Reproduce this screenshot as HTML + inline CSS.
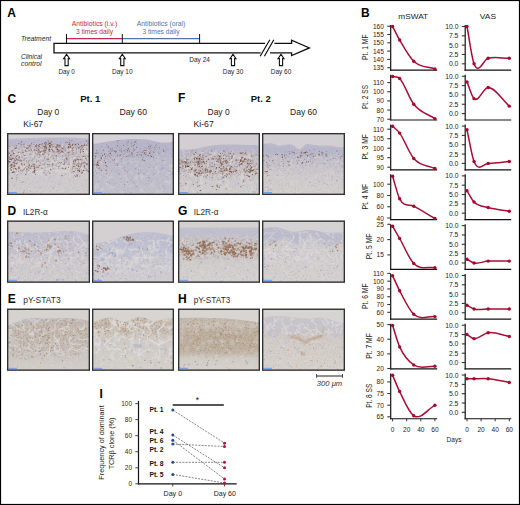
<!DOCTYPE html>
<html><head><meta charset="utf-8"><style>
html,body{margin:0;padding:0;background:#fff;}
svg{display:block;font-family:"Liberation Sans", sans-serif;}
</style></head><body>
<svg width="520" height="505" viewBox="0 0 520 505">
<rect x="0.5" y="0.5" width="519" height="504" fill="#fff" stroke="#000" stroke-width="1.2"/>
<text x="7.20" y="17.20" font-size="12" fill="#000" font-weight="bold" >A</text>
<text x="361.00" y="17.00" font-size="12" fill="#000" font-weight="bold" >B</text>
<text x="7.40" y="102.50" font-size="12" fill="#000" font-weight="bold" >C</text>
<text x="7.60" y="214.80" font-size="12" fill="#000" font-weight="bold" >D</text>
<text x="7.80" y="303.00" font-size="12" fill="#000" font-weight="bold" >E</text>
<text x="178.00" y="101.60" font-size="12" fill="#000" font-weight="bold" >F</text>
<text x="178.00" y="214.80" font-size="12" fill="#000" font-weight="bold" >G</text>
<text x="178.00" y="302.90" font-size="12" fill="#000" font-weight="bold" >H</text>
<text x="99.60" y="397.50" font-size="12" fill="#000" font-weight="bold" >I</text>
<text x="21.00" y="41.40" font-size="7.2" fill="#262626" font-style="italic" textLength="30.00" lengthAdjust="spacingAndGlyphs" >Treatment</text>
<text x="21.00" y="59.00" font-size="7.2" fill="#262626" font-style="italic" textLength="21.00" lengthAdjust="spacingAndGlyphs" >Clinical</text>
<text x="21.00" y="66.20" font-size="7.2" fill="#262626" font-style="italic" textLength="20.50" lengthAdjust="spacingAndGlyphs" >control</text>
<path d="M265 43.4 L54 43.4 L54 52.9 L260.6 52.9" fill="none" stroke="#111" stroke-width="1.3"/>
<path d="M274.4 43.4 L291.6 43.4 L291.6 40.2 L309.4 47.9 L291.6 55.6 L291.6 52.9 L270 52.9" fill="none" stroke="#111" stroke-width="1.3" stroke-linejoin="miter"/>
<line x1="260.20" y1="56.20" x2="269.80" y2="39.80" stroke="#111" stroke-width="1.2" />
<line x1="264.40" y1="56.20" x2="273.80" y2="39.80" stroke="#111" stroke-width="1.2" />
<line x1="66.50" y1="38.60" x2="122.30" y2="38.60" stroke="#c0294b" stroke-width="1.3" />
<line x1="122.30" y1="38.60" x2="199.60" y2="38.60" stroke="#5472a8" stroke-width="1.3" />
<line x1="66.50" y1="34.00" x2="66.50" y2="43.00" stroke="#111" stroke-width="1.0" />
<line x1="122.30" y1="34.00" x2="122.30" y2="43.00" stroke="#111" stroke-width="1.0" />
<line x1="199.60" y1="34.00" x2="199.60" y2="43.00" stroke="#111" stroke-width="1.0" />
<text x="94.50" y="26.10" font-size="7.2" fill="#c0294b" text-anchor="middle" textLength="45.40" lengthAdjust="spacingAndGlyphs" >Antibiotics (i.v.)</text>
<text x="94.50" y="33.50" font-size="7.2" fill="#c0294b" text-anchor="middle" textLength="37.20" lengthAdjust="spacingAndGlyphs" >3 times daily</text>
<text x="161.00" y="26.10" font-size="7.2" fill="#5472a8" text-anchor="middle" textLength="48.50" lengthAdjust="spacingAndGlyphs" >Antibiotics (oral)</text>
<text x="161.00" y="33.50" font-size="7.2" fill="#5472a8" text-anchor="middle" textLength="37.20" lengthAdjust="spacingAndGlyphs" >3 times daily</text>
<path d="M66.6 54.2 L69.6 58.6 L68.19999999999999 58.6 L68.19999999999999 65.6 L65.0 65.6 L65.0 58.6 L63.599999999999994 58.6 Z" fill="#fff" stroke="#111" stroke-width="1.1" stroke-linejoin="miter"/>
<path d="M122.3 54.2 L125.3 58.6 L123.89999999999999 58.6 L123.89999999999999 65.6 L120.7 65.6 L120.7 58.6 L119.3 58.6 Z" fill="#fff" stroke="#111" stroke-width="1.1" stroke-linejoin="miter"/>
<path d="M233.0 54.2 L236.0 58.6 L234.6 58.6 L234.6 65.6 L231.4 65.6 L231.4 58.6 L230.0 58.6 Z" fill="#fff" stroke="#111" stroke-width="1.1" stroke-linejoin="miter"/>
<path d="M281.0 54.2 L284.0 58.6 L282.6 58.6 L282.6 65.6 L279.4 65.6 L279.4 58.6 L278.0 58.6 Z" fill="#fff" stroke="#111" stroke-width="1.1" stroke-linejoin="miter"/>
<text x="66.60" y="74.20" font-size="7.0" fill="#262626" text-anchor="middle" textLength="16.40" lengthAdjust="spacingAndGlyphs" >Day 0</text>
<text x="122.30" y="74.20" font-size="7.0" fill="#262626" text-anchor="middle" textLength="20.60" lengthAdjust="spacingAndGlyphs" >Day 10</text>
<text x="199.60" y="62.00" font-size="7.0" fill="#262626" text-anchor="middle" textLength="20.60" lengthAdjust="spacingAndGlyphs" >Day 24</text>
<text x="233.00" y="74.20" font-size="7.0" fill="#262626" text-anchor="middle" textLength="20.60" lengthAdjust="spacingAndGlyphs" >Day 30</text>
<text x="281.00" y="74.20" font-size="7.0" fill="#262626" text-anchor="middle" textLength="20.60" lengthAdjust="spacingAndGlyphs" >Day 60</text>
<text x="90.30" y="102.00" font-size="8.2" fill="#111" text-anchor="middle" font-weight="bold" textLength="20.20" lengthAdjust="spacingAndGlyphs" >Pt. 1</text>
<text x="260.80" y="102.00" font-size="8.2" fill="#111" text-anchor="middle" font-weight="bold" textLength="20.00" lengthAdjust="spacingAndGlyphs" >Pt. 2</text>
<text x="48.30" y="114.60" font-size="8.6" fill="#1a1a1a" text-anchor="middle" textLength="22.00" lengthAdjust="spacingAndGlyphs" >Day 0</text>
<text x="133.20" y="114.60" font-size="8.6" fill="#1a1a1a" text-anchor="middle" textLength="27.60" lengthAdjust="spacingAndGlyphs" >Day 60</text>
<text x="218.60" y="114.60" font-size="8.6" fill="#1a1a1a" text-anchor="middle" textLength="22.00" lengthAdjust="spacingAndGlyphs" >Day 0</text>
<text x="303.50" y="114.60" font-size="8.6" fill="#1a1a1a" text-anchor="middle" textLength="27.00" lengthAdjust="spacingAndGlyphs" >Day 60</text>
<text x="23.30" y="127.30" font-size="8.8" fill="#1a1a1a" textLength="19.80" lengthAdjust="spacingAndGlyphs" >Ki-67</text>
<text x="193.50" y="127.30" font-size="8.8" fill="#1a1a1a" textLength="20.20" lengthAdjust="spacingAndGlyphs" >Ki-67</text>
<text x="23.00" y="214.60" font-size="8.4" fill="#2a2a2a" textLength="24.80" lengthAdjust="spacingAndGlyphs" >IL2R-α</text>
<text x="193.70" y="214.60" font-size="8.4" fill="#2a2a2a" textLength="24.80" lengthAdjust="spacingAndGlyphs" >IL2R-α</text>
<text x="23.20" y="302.90" font-size="8.4" fill="#2a2a2a" textLength="37.40" lengthAdjust="spacingAndGlyphs" >pY-STAT3</text>
<text x="193.70" y="302.90" font-size="8.4" fill="#2a2a2a" textLength="36.60" lengthAdjust="spacingAndGlyphs" >pY-STAT3</text>
<line x1="316.20" y1="376.00" x2="342.90" y2="376.00" stroke="#444" stroke-width="1.2" />
<line x1="316.60" y1="374.00" x2="316.60" y2="377.80" stroke="#444" stroke-width="1.0" />
<line x1="342.50" y1="374.00" x2="342.50" y2="377.80" stroke="#444" stroke-width="1.0" />
<text x="329.50" y="386.20" font-size="7.4" fill="#2a2a2a" text-anchor="middle" font-style="italic" textLength="25.30" lengthAdjust="spacingAndGlyphs" >300 μm</text>
<defs>
<filter id="soft" x="-2%" y="-2%" width="104%" height="104%" color-interpolation-filters="sRGB"><feGaussianBlur stdDeviation="0.45"/></filter>
<filter id="soft2" x="-10%" y="-10%" width="120%" height="120%" color-interpolation-filters="sRGB"><feGaussianBlur stdDeviation="1.2"/></filter>
</defs>
<clipPath id="hc1"><rect x="7" y="133" width="83" height="62"/></clipPath>
<linearGradient id="dg1" x1="0" y1="0" x2="0" y2="1"><stop offset="0" stop-color="rgb(194,191,205)"/><stop offset="0.35" stop-color="rgb(200,196,203)"/><stop offset="0.65" stop-color="rgb(206,202,204)"/><stop offset="1" stop-color="rgb(211,207,205)"/></linearGradient>
<filter id="mf1_0" x="0" y="0" width="100%" height="100%" color-interpolation-filters="sRGB"><feTurbulence type="fractalNoise" baseFrequency="0.6" numOctaves="3" seed="102"/><feColorMatrix type="matrix" values="0 0 0 0 0.660 0 0 0 0 0.653 0 0 0 0 0.749 3.2 0 0 0 -1.5"/></filter>
<filter id="mf1_1" x="0" y="0" width="100%" height="100%" color-interpolation-filters="sRGB"><feTurbulence type="fractalNoise" baseFrequency="0.5" numOctaves="3" seed="201"/><feColorMatrix type="matrix" values="0 0 0 0 0.492 0 0 0 0 0.319 0 0 0 0 0.233 3.2 0 0 0 -1.5"/></filter>
<filter id="mf1_2" x="0" y="0" width="100%" height="100%" color-interpolation-filters="sRGB"><feTurbulence type="fractalNoise" baseFrequency="0.2" numOctaves="3" seed="3"/><feColorMatrix type="matrix" values="0 0 0 0 0.854 0 0 0 0 0.844 0 0 0 0 0.847 2.5 0 0 0 -1.2"/></filter>
<filter id="mf1_3" x="0" y="0" width="100%" height="100%" color-interpolation-filters="sRGB"><feTurbulence type="turbulence" baseFrequency="0.12" numOctaves="2" seed="4"/><feColorMatrix type="matrix" values="0 0 0 0 0.877 0 0 0 0 0.867 0 0 0 0 0.871 -5.0 0 0 0 1.1"/></filter>
<g clip-path="url(#hc1)"><g filter="url(#soft)">
<rect x="7" y="133" width="83" height="62" fill="url(#dg1)"/>
<path d="M7.0 139.0 L9.1 138.9 L11.3 138.8 L13.4 138.7 L15.5 138.6 L17.6 138.5 L19.8 138.4 L21.9 138.4 L24.0 138.3 L26.2 138.2 L28.3 138.1 L30.4 138.0 L32.5 138.0 L34.7 137.9 L36.8 137.9 L38.9 137.8 L41.1 137.7 L43.2 137.7 L45.3 137.6 L47.4 137.6 L49.6 137.6 L51.7 137.5 L53.8 137.5 L55.9 137.4 L58.1 137.4 L60.2 137.4 L62.3 137.4 L64.5 137.4 L66.6 137.4 L68.7 137.5 L70.8 137.6 L73.0 137.7 L75.1 137.8 L77.2 137.9 L79.4 138.1 L81.5 138.2 L83.6 138.4 L85.7 138.6 L87.9 138.8 L90.0 139.0 L90.0 145.0 L87.9 144.9 L85.7 144.8 L83.6 144.7 L81.5 144.6 L79.4 144.5 L77.2 144.4 L75.1 144.3 L73.0 144.2 L70.8 144.2 L68.7 144.1 L66.6 144.0 L64.5 144.0 L62.3 144.0 L60.2 144.0 L58.1 144.0 L55.9 144.0 L53.8 144.1 L51.7 144.1 L49.6 144.2 L47.4 144.3 L45.3 144.3 L43.2 144.4 L41.1 144.5 L38.9 144.6 L36.8 144.8 L34.7 144.9 L32.5 145.0 L30.4 145.1 L28.3 145.2 L26.2 145.3 L24.0 145.4 L21.9 145.4 L19.8 145.5 L17.6 145.6 L15.5 145.7 L13.4 145.8 L11.3 145.8 L9.1 145.9 L7.0 146.0 Z" fill="rgb(188,186,208)" opacity="0.9" filter="url(#soft2)"/>
<clipPath id="tc1"><path d="M5 197 L5.0 139.0 L7.0 139.0 L9.1 138.9 L11.3 138.8 L13.4 138.7 L15.5 138.6 L17.6 138.5 L19.8 138.4 L21.9 138.4 L24.0 138.3 L26.2 138.2 L28.3 138.1 L30.4 138.0 L32.5 138.0 L34.7 137.9 L36.8 137.9 L38.9 137.8 L41.1 137.7 L43.2 137.7 L45.3 137.6 L47.4 137.6 L49.6 137.6 L51.7 137.5 L53.8 137.5 L55.9 137.4 L58.1 137.4 L60.2 137.4 L62.3 137.4 L64.5 137.4 L66.6 137.4 L68.7 137.5 L70.8 137.6 L73.0 137.7 L75.1 137.8 L77.2 137.9 L79.4 138.1 L81.5 138.2 L83.6 138.4 L85.7 138.6 L87.9 138.8 L90.0 139.0 L92.0 139.0 L92 197 Z"/></clipPath>
<linearGradient id="mg1_0" gradientUnits="userSpaceOnUse" x1="0" y1="133" x2="0" y2="195"><stop offset="0.000" stop-color="#fff" stop-opacity="1"/><stop offset="1.000" stop-color="#fff" stop-opacity="1"/></linearGradient>
<mask id="mk1_0" maskUnits="userSpaceOnUse" x="7" y="133" width="83" height="62"><rect x="7" y="133" width="83" height="62" fill="url(#mg1_0)"/></mask>
<g mask="url(#mk1_0)"><rect x="7" y="133" width="83" height="62" filter="url(#mf1_0)" clip-path="url(#tc1)" opacity="0.35"/></g>
<linearGradient id="mg1_1" gradientUnits="userSpaceOnUse" x1="0" y1="133" x2="0" y2="195"><stop offset="0.100" stop-color="#fff" stop-opacity="0"/><stop offset="0.260" stop-color="#fff" stop-opacity="1"/><stop offset="0.540" stop-color="#fff" stop-opacity="1"/><stop offset="0.700" stop-color="#fff" stop-opacity="0"/></linearGradient>
<mask id="mk1_1" maskUnits="userSpaceOnUse" x="7" y="133" width="83" height="62"><rect x="7" y="133" width="83" height="62" fill="url(#mg1_1)"/></mask>
<g mask="url(#mk1_1)"><rect x="7" y="133" width="83" height="62" filter="url(#mf1_1)" clip-path="url(#tc1)" opacity="0.35"/></g>
<linearGradient id="mg1_2" gradientUnits="userSpaceOnUse" x1="0" y1="133" x2="0" y2="195"><stop offset="0.170" stop-color="#fff" stop-opacity="0"/><stop offset="0.330" stop-color="#fff" stop-opacity="1"/><stop offset="0.620" stop-color="#fff" stop-opacity="1"/><stop offset="0.780" stop-color="#fff" stop-opacity="0"/></linearGradient>
<mask id="mk1_2" maskUnits="userSpaceOnUse" x="7" y="133" width="83" height="62"><rect x="7" y="133" width="83" height="62" fill="url(#mg1_2)"/></mask>
<g mask="url(#mk1_2)"><rect x="7" y="133" width="83" height="62" filter="url(#mf1_2)" clip-path="url(#tc1)" opacity="0.8"/></g>
<linearGradient id="mg1_3" gradientUnits="userSpaceOnUse" x1="0" y1="133" x2="0" y2="195"><stop offset="0.120" stop-color="#fff" stop-opacity="0"/><stop offset="0.280" stop-color="#fff" stop-opacity="1"/><stop offset="0.620" stop-color="#fff" stop-opacity="1"/><stop offset="0.780" stop-color="#fff" stop-opacity="0"/></linearGradient>
<mask id="mk1_3" maskUnits="userSpaceOnUse" x="7" y="133" width="83" height="62"><rect x="7" y="133" width="83" height="62" fill="url(#mg1_3)"/></mask>
<g mask="url(#mk1_3)"><rect x="7" y="133" width="83" height="62" filter="url(#mf1_3)" clip-path="url(#tc1)" opacity="0.6"/></g>
<circle cx="44.5" cy="173.2" r="0.87" fill="rgb(151,151,195)" opacity="0.6"/>
<circle cx="45.6" cy="170.6" r="0.71" fill="rgb(151,151,195)" opacity="0.6"/>
<circle cx="22.3" cy="170.8" r="0.73" fill="rgb(151,151,195)" opacity="0.6"/>
<circle cx="72.8" cy="150.1" r="0.59" fill="rgb(151,151,195)" opacity="0.6"/>
<circle cx="14.5" cy="185.6" r="0.76" fill="rgb(151,151,195)" opacity="0.6"/>
<circle cx="10.5" cy="194.1" r="0.88" fill="rgb(151,151,195)" opacity="0.6"/>
<circle cx="61.3" cy="175.9" r="0.52" fill="rgb(151,151,195)" opacity="0.6"/>
<circle cx="8.2" cy="171.6" r="0.48" fill="rgb(151,151,195)" opacity="0.6"/>
<circle cx="22.8" cy="157.4" r="0.46" fill="rgb(151,151,195)" opacity="0.6"/>
<circle cx="45.5" cy="167.3" r="0.83" fill="rgb(151,151,195)" opacity="0.6"/>
<circle cx="50.1" cy="177.2" r="0.67" fill="rgb(151,151,195)" opacity="0.6"/>
<circle cx="62.0" cy="168.1" r="0.58" fill="rgb(151,151,195)" opacity="0.6"/>
<circle cx="89.8" cy="194.8" r="0.83" fill="rgb(151,151,195)" opacity="0.6"/>
<circle cx="65.7" cy="161.0" r="0.55" fill="rgb(151,151,195)" opacity="0.6"/>
<circle cx="31.0" cy="148.9" r="0.79" fill="rgb(151,151,195)" opacity="0.6"/>
<circle cx="40.2" cy="187.4" r="0.62" fill="rgb(151,151,195)" opacity="0.6"/>
<circle cx="86.5" cy="187.4" r="0.45" fill="rgb(151,151,195)" opacity="0.6"/>
<circle cx="24.4" cy="190.5" r="0.66" fill="rgb(151,151,195)" opacity="0.6"/>
<circle cx="88.4" cy="165.1" r="0.48" fill="rgb(151,151,195)" opacity="0.6"/>
<circle cx="59.2" cy="184.0" r="0.57" fill="rgb(151,151,195)" opacity="0.6"/>
<circle cx="14.2" cy="161.9" r="0.88" fill="rgb(151,151,195)" opacity="0.6"/>
<circle cx="69.9" cy="151.3" r="0.56" fill="rgb(151,151,195)" opacity="0.6"/>
<circle cx="15.4" cy="148.4" r="0.81" fill="rgb(151,151,195)" opacity="0.6"/>
<circle cx="21.7" cy="173.1" r="0.65" fill="rgb(151,151,195)" opacity="0.6"/>
<circle cx="22.8" cy="181.7" r="0.51" fill="rgb(151,151,195)" opacity="0.6"/>
<circle cx="60.4" cy="151.2" r="0.64" fill="rgb(151,151,195)" opacity="0.6"/>
<circle cx="24.7" cy="158.8" r="0.89" fill="rgb(151,151,195)" opacity="0.6"/>
<circle cx="73.7" cy="160.5" r="0.85" fill="rgb(151,151,195)" opacity="0.6"/>
<circle cx="24.5" cy="165.0" r="0.83" fill="rgb(151,151,195)" opacity="0.6"/>
<circle cx="60.3" cy="150.4" r="0.90" fill="rgb(151,151,195)" opacity="0.6"/>
<circle cx="24.7" cy="158.2" r="0.80" fill="rgb(151,151,195)" opacity="0.6"/>
<circle cx="34.3" cy="160.1" r="0.48" fill="rgb(151,151,195)" opacity="0.6"/>
<circle cx="14.5" cy="174.3" r="0.56" fill="rgb(151,151,195)" opacity="0.6"/>
<circle cx="56.9" cy="163.8" r="0.65" fill="rgb(151,151,195)" opacity="0.6"/>
<circle cx="86.6" cy="169.4" r="0.71" fill="rgb(151,151,195)" opacity="0.6"/>
<circle cx="78.9" cy="154.5" r="0.52" fill="rgb(151,151,195)" opacity="0.6"/>
<circle cx="82.4" cy="186.0" r="0.56" fill="rgb(151,151,195)" opacity="0.6"/>
<circle cx="22.8" cy="182.1" r="0.87" fill="rgb(151,151,195)" opacity="0.6"/>
<circle cx="23.3" cy="192.5" r="0.85" fill="rgb(151,151,195)" opacity="0.6"/>
<circle cx="57.1" cy="166.3" r="0.50" fill="rgb(151,151,195)" opacity="0.6"/>
<circle cx="10.2" cy="193.1" r="0.56" fill="rgb(151,151,195)" opacity="0.6"/>
<circle cx="65.5" cy="158.1" r="0.82" fill="rgb(151,151,195)" opacity="0.6"/>
<circle cx="56.5" cy="160.0" r="0.53" fill="rgb(151,151,195)" opacity="0.6"/>
<circle cx="66.8" cy="148.8" r="0.55" fill="rgb(151,151,195)" opacity="0.6"/>
<circle cx="53.4" cy="187.7" r="0.73" fill="rgb(151,151,195)" opacity="0.6"/>
<circle cx="30.3" cy="190.9" r="0.54" fill="rgb(151,151,195)" opacity="0.6"/>
<circle cx="8.4" cy="158.8" r="0.65" fill="rgb(151,151,195)" opacity="0.6"/>
<circle cx="12.0" cy="154.1" r="0.62" fill="rgb(151,151,195)" opacity="0.6"/>
<circle cx="54.5" cy="151.9" r="0.61" fill="rgb(151,151,195)" opacity="0.6"/>
<circle cx="80.9" cy="194.0" r="0.75" fill="rgb(151,151,195)" opacity="0.6"/>
<circle cx="44.7" cy="143.2" r="0.71" fill="rgb(114,73,56)" opacity="0.73"/>
<circle cx="44.5" cy="147.0" r="0.63" fill="rgb(114,73,56)" opacity="0.91"/>
<circle cx="96.4" cy="147.3" r="0.43" fill="rgb(114,73,56)" opacity="0.95"/>
<circle cx="109.3" cy="147.6" r="0.56" fill="rgb(114,73,56)" opacity="0.90"/>
<circle cx="80.5" cy="152.0" r="0.68" fill="rgb(114,73,56)" opacity="0.67"/>
<circle cx="72.1" cy="150.0" r="0.56" fill="rgb(114,73,56)" opacity="0.88"/>
<circle cx="18.9" cy="158.2" r="0.66" fill="rgb(114,73,56)" opacity="0.53"/>
<circle cx="56.6" cy="146.9" r="0.48" fill="rgb(114,73,56)" opacity="0.89"/>
<circle cx="49.6" cy="143.2" r="0.55" fill="rgb(114,73,56)" opacity="0.86"/>
<circle cx="69.6" cy="144.9" r="0.72" fill="rgb(114,73,56)" opacity="0.75"/>
<circle cx="65.6" cy="142.3" r="0.44" fill="rgb(114,73,56)" opacity="0.76"/>
<circle cx="44.3" cy="152.9" r="0.60" fill="rgb(114,73,56)" opacity="0.76"/>
<circle cx="87.8" cy="143.6" r="0.47" fill="rgb(114,73,56)" opacity="0.69"/>
<circle cx="77.8" cy="143.5" r="0.43" fill="rgb(114,73,56)" opacity="0.93"/>
<circle cx="72.1" cy="145.4" r="0.57" fill="rgb(114,73,56)" opacity="0.60"/>
<circle cx="28.7" cy="147.8" r="0.58" fill="rgb(114,73,56)" opacity="0.51"/>
<circle cx="29.7" cy="146.3" r="0.51" fill="rgb(114,73,56)" opacity="0.90"/>
<circle cx="30.4" cy="147.3" r="0.62" fill="rgb(114,73,56)" opacity="0.53"/>
<circle cx="93.8" cy="147.9" r="0.72" fill="rgb(114,73,56)" opacity="0.96"/>
<circle cx="49.8" cy="151.6" r="0.40" fill="rgb(114,73,56)" opacity="0.72"/>
<circle cx="51.4" cy="141.9" r="0.53" fill="rgb(114,73,56)" opacity="0.66"/>
<circle cx="63.0" cy="152.1" r="0.71" fill="rgb(114,73,56)" opacity="0.56"/>
<circle cx="82.6" cy="150.5" r="0.43" fill="rgb(114,73,56)" opacity="0.61"/>
<circle cx="45.6" cy="146.2" r="0.49" fill="rgb(114,73,56)" opacity="0.81"/>
<circle cx="39.7" cy="150.2" r="0.40" fill="rgb(114,73,56)" opacity="0.76"/>
<circle cx="52.6" cy="150.4" r="0.56" fill="rgb(114,73,56)" opacity="0.72"/>
<circle cx="16.4" cy="145.5" r="0.56" fill="rgb(114,73,56)" opacity="0.58"/>
<circle cx="61.0" cy="152.3" r="0.60" fill="rgb(114,73,56)" opacity="0.76"/>
<circle cx="44.0" cy="150.8" r="0.68" fill="rgb(114,73,56)" opacity="0.62"/>
<circle cx="50.5" cy="143.4" r="0.70" fill="rgb(114,73,56)" opacity="0.66"/>
<circle cx="76.6" cy="149.3" r="0.44" fill="rgb(114,73,56)" opacity="1.00"/>
<circle cx="61.1" cy="147.5" r="0.44" fill="rgb(114,73,56)" opacity="0.86"/>
<circle cx="38.3" cy="152.8" r="0.67" fill="rgb(114,73,56)" opacity="0.71"/>
<circle cx="55.3" cy="147.1" r="0.51" fill="rgb(114,73,56)" opacity="0.84"/>
<circle cx="69.5" cy="142.8" r="0.61" fill="rgb(114,73,56)" opacity="0.96"/>
<circle cx="62.7" cy="148.2" r="0.55" fill="rgb(114,73,56)" opacity="0.88"/>
<circle cx="34.7" cy="147.2" r="0.42" fill="rgb(114,73,56)" opacity="0.54"/>
<circle cx="57.2" cy="149.0" r="0.56" fill="rgb(114,73,56)" opacity="0.76"/>
<circle cx="72.9" cy="143.5" r="0.42" fill="rgb(114,73,56)" opacity="0.60"/>
<circle cx="86.6" cy="141.3" r="0.71" fill="rgb(114,73,56)" opacity="0.55"/>
<circle cx="53.9" cy="151.6" r="0.53" fill="rgb(114,73,56)" opacity="0.88"/>
<circle cx="41.8" cy="151.3" r="0.55" fill="rgb(114,73,56)" opacity="0.72"/>
<circle cx="57.3" cy="151.2" r="0.62" fill="rgb(114,73,56)" opacity="0.92"/>
<circle cx="62.2" cy="151.3" r="0.64" fill="rgb(114,73,56)" opacity="0.70"/>
<circle cx="37.1" cy="154.2" r="0.55" fill="rgb(114,73,56)" opacity="0.51"/>
<circle cx="81.9" cy="145.4" r="0.62" fill="rgb(114,73,56)" opacity="0.93"/>
<circle cx="56.3" cy="147.7" r="0.58" fill="rgb(114,73,56)" opacity="0.75"/>
<circle cx="89.9" cy="148.0" r="0.45" fill="rgb(114,73,56)" opacity="0.96"/>
<circle cx="45.6" cy="142.4" r="0.66" fill="rgb(114,73,56)" opacity="0.70"/>
<circle cx="86.7" cy="145.0" r="0.62" fill="rgb(114,73,56)" opacity="0.88"/>
<circle cx="63.9" cy="147.2" r="0.63" fill="rgb(114,73,56)" opacity="0.54"/>
<circle cx="39.9" cy="151.1" r="0.36" fill="rgb(114,73,56)" opacity="0.68"/>
<circle cx="58.6" cy="145.1" r="0.44" fill="rgb(114,73,56)" opacity="0.97"/>
<circle cx="43.2" cy="146.3" r="0.61" fill="rgb(114,73,56)" opacity="0.78"/>
<circle cx="35.7" cy="146.0" r="0.74" fill="rgb(114,73,56)" opacity="0.82"/>
<circle cx="42.1" cy="144.0" r="0.73" fill="rgb(114,73,56)" opacity="0.51"/>
<circle cx="69.3" cy="140.3" r="0.45" fill="rgb(114,73,56)" opacity="0.70"/>
<circle cx="65.7" cy="149.1" r="0.50" fill="rgb(114,73,56)" opacity="0.55"/>
<circle cx="39.8" cy="152.0" r="0.56" fill="rgb(114,73,56)" opacity="0.75"/>
<circle cx="79.0" cy="147.8" r="0.73" fill="rgb(114,73,56)" opacity="0.82"/>
<circle cx="50.0" cy="146.2" r="0.58" fill="rgb(114,73,56)" opacity="0.88"/>
<circle cx="98.6" cy="150.3" r="0.41" fill="rgb(114,73,56)" opacity="0.74"/>
<circle cx="45.3" cy="146.8" r="0.59" fill="rgb(114,73,56)" opacity="0.53"/>
<circle cx="73.1" cy="147.5" r="0.55" fill="rgb(114,73,56)" opacity="0.80"/>
<circle cx="23.0" cy="152.5" r="0.60" fill="rgb(114,73,56)" opacity="0.78"/>
<circle cx="45.8" cy="152.8" r="0.47" fill="rgb(114,73,56)" opacity="0.51"/>
<circle cx="82.9" cy="147.1" r="0.41" fill="rgb(114,73,56)" opacity="0.88"/>
<circle cx="18.5" cy="152.3" r="0.64" fill="rgb(114,73,56)" opacity="0.53"/>
<circle cx="24.2" cy="143.9" r="0.38" fill="rgb(114,73,56)" opacity="0.95"/>
<circle cx="31.3" cy="149.9" r="0.73" fill="rgb(114,73,56)" opacity="0.62"/>
<circle cx="39.2" cy="144.5" r="0.63" fill="rgb(114,73,56)" opacity="0.73"/>
<circle cx="90.5" cy="147.8" r="0.58" fill="rgb(114,73,56)" opacity="0.56"/>
<circle cx="96.7" cy="148.0" r="0.43" fill="rgb(114,73,56)" opacity="0.53"/>
<circle cx="42.1" cy="148.2" r="0.52" fill="rgb(114,73,56)" opacity="0.83"/>
<circle cx="80.8" cy="149.4" r="0.58" fill="rgb(114,73,56)" opacity="0.71"/>
<circle cx="57.1" cy="145.1" r="0.74" fill="rgb(114,73,56)" opacity="0.98"/>
<circle cx="19.2" cy="157.1" r="0.40" fill="rgb(114,73,56)" opacity="0.95"/>
<circle cx="58.9" cy="144.7" r="0.49" fill="rgb(114,73,56)" opacity="0.64"/>
<circle cx="48.2" cy="140.8" r="0.58" fill="rgb(114,73,56)" opacity="0.82"/>
<circle cx="52.9" cy="146.7" r="0.45" fill="rgb(114,73,56)" opacity="0.99"/>
<circle cx="67.7" cy="141.0" r="0.37" fill="rgb(114,73,56)" opacity="0.53"/>
<circle cx="49.8" cy="151.4" r="0.59" fill="rgb(114,73,56)" opacity="0.55"/>
<circle cx="86.2" cy="145.1" r="0.39" fill="rgb(114,73,56)" opacity="0.84"/>
<circle cx="24.8" cy="147.3" r="0.50" fill="rgb(114,73,56)" opacity="0.74"/>
<circle cx="70.7" cy="147.1" r="0.64" fill="rgb(114,73,56)" opacity="0.92"/>
<circle cx="62.0" cy="149.1" r="0.66" fill="rgb(114,73,56)" opacity="0.81"/>
<circle cx="28.1" cy="145.6" r="0.51" fill="rgb(114,73,56)" opacity="0.63"/>
<circle cx="60.0" cy="146.0" r="0.60" fill="rgb(114,73,56)" opacity="0.99"/>
<circle cx="94.5" cy="149.9" r="0.64" fill="rgb(114,73,56)" opacity="0.96"/>
<circle cx="34.8" cy="149.7" r="0.39" fill="rgb(114,73,56)" opacity="0.94"/>
<circle cx="50.6" cy="145.1" r="0.57" fill="rgb(114,73,56)" opacity="0.74"/>
<circle cx="45.7" cy="146.3" r="0.65" fill="rgb(114,73,56)" opacity="0.54"/>
<circle cx="83.0" cy="153.0" r="0.38" fill="rgb(114,73,56)" opacity="0.65"/>
<circle cx="47.7" cy="144.3" r="0.46" fill="rgb(114,73,56)" opacity="0.57"/>
<circle cx="36.2" cy="150.6" r="0.49" fill="rgb(114,73,56)" opacity="0.56"/>
<circle cx="45.8" cy="145.0" r="0.70" fill="rgb(114,73,56)" opacity="0.97"/>
<circle cx="18.9" cy="143.5" r="0.66" fill="rgb(114,73,56)" opacity="0.65"/>
<circle cx="44.0" cy="151.1" r="0.71" fill="rgb(114,73,56)" opacity="0.95"/>
<circle cx="42.8" cy="153.9" r="0.49" fill="rgb(114,73,56)" opacity="0.68"/>
<circle cx="36.4" cy="150.2" r="0.43" fill="rgb(114,73,56)" opacity="0.78"/>
<circle cx="78.5" cy="144.4" r="0.67" fill="rgb(114,73,56)" opacity="0.78"/>
<circle cx="68.2" cy="152.7" r="0.69" fill="rgb(114,73,56)" opacity="0.64"/>
<circle cx="40.2" cy="152.4" r="0.56" fill="rgb(114,73,56)" opacity="0.78"/>
<circle cx="82.1" cy="147.7" r="0.66" fill="rgb(114,73,56)" opacity="0.53"/>
<circle cx="66.0" cy="141.9" r="0.38" fill="rgb(114,73,56)" opacity="0.54"/>
<circle cx="49.0" cy="142.5" r="0.38" fill="rgb(114,73,56)" opacity="0.82"/>
<circle cx="38.5" cy="149.2" r="0.60" fill="rgb(114,73,56)" opacity="0.62"/>
<circle cx="59.2" cy="153.2" r="0.55" fill="rgb(114,73,56)" opacity="0.88"/>
<circle cx="72.6" cy="144.7" r="0.72" fill="rgb(114,73,56)" opacity="0.84"/>
<circle cx="26.9" cy="148.6" r="0.63" fill="rgb(114,73,56)" opacity="0.85"/>
<circle cx="51.9" cy="149.4" r="0.67" fill="rgb(114,73,56)" opacity="0.83"/>
<circle cx="75.4" cy="144.5" r="0.67" fill="rgb(114,73,56)" opacity="0.94"/>
<circle cx="59.5" cy="150.7" r="0.55" fill="rgb(114,73,56)" opacity="0.86"/>
<circle cx="59.7" cy="145.7" r="0.51" fill="rgb(114,73,56)" opacity="0.57"/>
<circle cx="36.6" cy="148.8" r="0.50" fill="rgb(114,73,56)" opacity="0.58"/>
<circle cx="58.8" cy="151.3" r="0.46" fill="rgb(114,73,56)" opacity="0.98"/>
<circle cx="58.5" cy="149.3" r="0.40" fill="rgb(114,73,56)" opacity="0.82"/>
<circle cx="54.8" cy="146.8" r="0.38" fill="rgb(114,73,56)" opacity="0.73"/>
<circle cx="42.9" cy="143.3" r="0.37" fill="rgb(114,73,56)" opacity="0.55"/>
<circle cx="58.5" cy="150.3" r="0.44" fill="rgb(114,73,56)" opacity="0.86"/>
<circle cx="62.9" cy="148.1" r="0.42" fill="rgb(114,73,56)" opacity="0.64"/>
<circle cx="69.0" cy="152.7" r="0.47" fill="rgb(114,73,56)" opacity="0.77"/>
<circle cx="60.7" cy="145.1" r="0.45" fill="rgb(114,73,56)" opacity="0.94"/>
<circle cx="68.9" cy="147.2" r="0.56" fill="rgb(114,73,56)" opacity="0.98"/>
<circle cx="36.1" cy="146.4" r="0.37" fill="rgb(114,73,56)" opacity="0.97"/>
<circle cx="59.1" cy="145.9" r="0.55" fill="rgb(114,73,56)" opacity="0.76"/>
<circle cx="70.4" cy="146.4" r="0.60" fill="rgb(114,73,56)" opacity="0.62"/>
<circle cx="76.1" cy="148.7" r="0.49" fill="rgb(114,73,56)" opacity="0.90"/>
<circle cx="39.3" cy="146.8" r="0.41" fill="rgb(114,73,56)" opacity="0.58"/>
<circle cx="45.6" cy="150.4" r="0.69" fill="rgb(114,73,56)" opacity="0.76"/>
<circle cx="46.7" cy="143.2" r="0.45" fill="rgb(114,73,56)" opacity="0.77"/>
<circle cx="73.5" cy="152.4" r="0.35" fill="rgb(114,73,56)" opacity="0.91"/>
<circle cx="46.1" cy="143.0" r="0.38" fill="rgb(114,73,56)" opacity="0.63"/>
<circle cx="50.7" cy="147.3" r="0.54" fill="rgb(114,73,56)" opacity="0.73"/>
<circle cx="25.7" cy="151.0" r="0.68" fill="rgb(114,73,56)" opacity="0.65"/>
<circle cx="57.9" cy="145.7" r="0.70" fill="rgb(114,73,56)" opacity="0.55"/>
<circle cx="83.4" cy="145.8" r="0.56" fill="rgb(114,73,56)" opacity="0.76"/>
<circle cx="74.2" cy="152.9" r="0.47" fill="rgb(114,73,56)" opacity="0.66"/>
<circle cx="21.7" cy="144.7" r="0.53" fill="rgb(114,73,56)" opacity="0.86"/>
<circle cx="32.5" cy="151.8" r="0.39" fill="rgb(114,73,56)" opacity="0.70"/>
<circle cx="38.9" cy="146.0" r="0.67" fill="rgb(114,73,56)" opacity="0.83"/>
<circle cx="72.8" cy="148.7" r="0.62" fill="rgb(114,73,56)" opacity="0.62"/>
<circle cx="96.4" cy="148.5" r="0.36" fill="rgb(114,73,56)" opacity="1.00"/>
<circle cx="57.0" cy="146.7" r="0.59" fill="rgb(114,73,56)" opacity="0.65"/>
<circle cx="80.6" cy="150.3" r="0.47" fill="rgb(114,73,56)" opacity="0.67"/>
<circle cx="28.7" cy="151.1" r="0.45" fill="rgb(114,73,56)" opacity="0.60"/>
<circle cx="19.1" cy="156.9" r="0.71" fill="rgb(114,73,56)" opacity="0.78"/>
<circle cx="49.6" cy="146.0" r="0.67" fill="rgb(114,73,56)" opacity="0.55"/>
<circle cx="49.4" cy="143.0" r="0.61" fill="rgb(114,73,56)" opacity="0.85"/>
<circle cx="61.6" cy="151.1" r="0.67" fill="rgb(114,73,56)" opacity="0.80"/>
<circle cx="65.9" cy="143.1" r="0.41" fill="rgb(114,73,56)" opacity="0.56"/>
<circle cx="45.9" cy="149.1" r="0.71" fill="rgb(114,73,56)" opacity="0.71"/>
<circle cx="84.6" cy="145.0" r="0.65" fill="rgb(114,73,56)" opacity="0.91"/>
<circle cx="38.6" cy="150.1" r="0.51" fill="rgb(114,73,56)" opacity="0.51"/>
<circle cx="68.5" cy="147.1" r="0.73" fill="rgb(114,73,56)" opacity="0.89"/>
<circle cx="37.5" cy="145.3" r="0.36" fill="rgb(114,73,56)" opacity="0.67"/>
<circle cx="26.8" cy="148.4" r="0.39" fill="rgb(114,73,56)" opacity="0.69"/>
<circle cx="16.1" cy="148.2" r="0.67" fill="rgb(114,73,56)" opacity="0.81"/>
<circle cx="96.7" cy="150.4" r="0.70" fill="rgb(114,73,56)" opacity="0.77"/>
<circle cx="38.0" cy="151.1" r="0.41" fill="rgb(114,73,56)" opacity="0.86"/>
<circle cx="51.9" cy="144.7" r="0.63" fill="rgb(114,73,56)" opacity="0.92"/>
<circle cx="68.9" cy="154.9" r="0.59" fill="rgb(114,73,56)" opacity="0.60"/>
<circle cx="83.5" cy="151.4" r="0.57" fill="rgb(114,73,56)" opacity="0.85"/>
<circle cx="29.9" cy="154.1" r="0.49" fill="rgb(114,73,56)" opacity="0.73"/>
<circle cx="40.6" cy="151.6" r="0.40" fill="rgb(114,73,56)" opacity="0.95"/>
<circle cx="27.0" cy="147.5" r="0.57" fill="rgb(114,73,56)" opacity="0.63"/>
<circle cx="21.5" cy="141.8" r="0.67" fill="rgb(114,73,56)" opacity="0.80"/>
<circle cx="80.4" cy="152.1" r="0.46" fill="rgb(114,73,56)" opacity="0.95"/>
<circle cx="42.9" cy="154.4" r="0.67" fill="rgb(114,73,56)" opacity="0.59"/>
<circle cx="44.8" cy="148.2" r="0.36" fill="rgb(114,73,56)" opacity="0.59"/>
<circle cx="81.5" cy="145.9" r="0.60" fill="rgb(114,73,56)" opacity="0.65"/>
<circle cx="36.5" cy="144.5" r="0.50" fill="rgb(114,73,56)" opacity="0.80"/>
<circle cx="38.5" cy="151.9" r="0.43" fill="rgb(114,73,56)" opacity="0.73"/>
<circle cx="65.4" cy="150.7" r="0.57" fill="rgb(114,73,56)" opacity="0.59"/>
<circle cx="67.3" cy="142.5" r="0.57" fill="rgb(114,73,56)" opacity="0.67"/>
<circle cx="49.0" cy="147.9" r="0.61" fill="rgb(114,73,56)" opacity="0.57"/>
<circle cx="38.9" cy="146.8" r="0.53" fill="rgb(114,73,56)" opacity="0.71"/>
<circle cx="30.0" cy="145.5" r="0.64" fill="rgb(114,73,56)" opacity="0.88"/>
<circle cx="68.8" cy="144.3" r="0.67" fill="rgb(114,73,56)" opacity="0.93"/>
<circle cx="34.0" cy="150.1" r="0.57" fill="rgb(114,73,56)" opacity="0.95"/>
<circle cx="48.7" cy="149.9" r="0.52" fill="rgb(114,73,56)" opacity="0.95"/>
<circle cx="49.7" cy="149.3" r="0.63" fill="rgb(114,73,56)" opacity="0.95"/>
<circle cx="57.2" cy="149.3" r="0.64" fill="rgb(114,73,56)" opacity="0.65"/>
<circle cx="46.1" cy="147.9" r="0.40" fill="rgb(114,73,56)" opacity="0.72"/>
<circle cx="35.3" cy="153.4" r="0.37" fill="rgb(114,73,56)" opacity="0.85"/>
<circle cx="37.5" cy="148.2" r="0.47" fill="rgb(114,73,56)" opacity="0.70"/>
<circle cx="57.4" cy="149.4" r="0.70" fill="rgb(114,73,56)" opacity="0.98"/>
<circle cx="31.6" cy="143.7" r="0.51" fill="rgb(114,73,56)" opacity="0.90"/>
<circle cx="46.2" cy="147.4" r="0.57" fill="rgb(114,73,56)" opacity="0.95"/>
<circle cx="82.6" cy="151.4" r="0.40" fill="rgb(114,73,56)" opacity="0.77"/>
<circle cx="63.8" cy="148.7" r="0.45" fill="rgb(114,73,56)" opacity="0.65"/>
<circle cx="49.3" cy="149.4" r="0.70" fill="rgb(114,73,56)" opacity="0.91"/>
<circle cx="58.9" cy="147.5" r="0.58" fill="rgb(114,73,56)" opacity="0.52"/>
<circle cx="96.2" cy="149.7" r="0.47" fill="rgb(114,73,56)" opacity="0.75"/>
<circle cx="40.9" cy="144.6" r="0.53" fill="rgb(114,73,56)" opacity="0.60"/>
<circle cx="39.5" cy="154.6" r="0.70" fill="rgb(114,73,56)" opacity="0.60"/>
<circle cx="71.9" cy="140.7" r="0.53" fill="rgb(114,73,56)" opacity="0.59"/>
<circle cx="102.2" cy="142.2" r="0.43" fill="rgb(114,73,56)" opacity="0.82"/>
<circle cx="40.9" cy="151.7" r="0.37" fill="rgb(114,73,56)" opacity="0.55"/>
<circle cx="49.9" cy="146.1" r="0.70" fill="rgb(114,73,56)" opacity="0.93"/>
<circle cx="49.6" cy="146.0" r="0.62" fill="rgb(114,73,56)" opacity="0.97"/>
<circle cx="44.7" cy="148.9" r="0.44" fill="rgb(114,73,56)" opacity="0.65"/>
<circle cx="44.2" cy="144.3" r="0.42" fill="rgb(114,73,56)" opacity="0.62"/>
<circle cx="33.9" cy="144.3" r="0.50" fill="rgb(114,73,56)" opacity="0.83"/>
<circle cx="25.3" cy="150.2" r="0.44" fill="rgb(114,73,56)" opacity="0.65"/>
<circle cx="80.2" cy="146.7" r="0.46" fill="rgb(114,73,56)" opacity="0.82"/>
<circle cx="86.6" cy="149.0" r="0.52" fill="rgb(114,73,56)" opacity="0.76"/>
<circle cx="46.4" cy="148.3" r="0.58" fill="rgb(114,73,56)" opacity="0.64"/>
<circle cx="20.5" cy="146.9" r="0.39" fill="rgb(114,73,56)" opacity="0.64"/>
<circle cx="53.2" cy="146.4" r="0.46" fill="rgb(114,73,56)" opacity="0.77"/>
<circle cx="16.9" cy="177.5" r="0.39" fill="rgb(114,73,56)" opacity="0.91"/>
<circle cx="15.1" cy="165.9" r="0.41" fill="rgb(114,73,56)" opacity="0.85"/>
<circle cx="8.2" cy="161.6" r="0.38" fill="rgb(114,73,56)" opacity="0.71"/>
<circle cx="11.7" cy="164.8" r="0.72" fill="rgb(114,73,56)" opacity="0.52"/>
<circle cx="8.5" cy="161.1" r="0.73" fill="rgb(114,73,56)" opacity="0.57"/>
<circle cx="7.0" cy="164.3" r="0.37" fill="rgb(114,73,56)" opacity="0.62"/>
<circle cx="10.4" cy="168.8" r="0.50" fill="rgb(114,73,56)" opacity="0.65"/>
<circle cx="12.2" cy="162.3" r="0.37" fill="rgb(114,73,56)" opacity="1.00"/>
<circle cx="5.8" cy="158.0" r="0.44" fill="rgb(114,73,56)" opacity="0.63"/>
<circle cx="10.7" cy="159.1" r="0.53" fill="rgb(114,73,56)" opacity="0.97"/>
<circle cx="15.2" cy="160.5" r="0.73" fill="rgb(114,73,56)" opacity="0.81"/>
<circle cx="17.7" cy="162.8" r="0.60" fill="rgb(114,73,56)" opacity="0.53"/>
<circle cx="10.0" cy="159.4" r="0.68" fill="rgb(114,73,56)" opacity="0.80"/>
<circle cx="17.1" cy="155.5" r="0.50" fill="rgb(114,73,56)" opacity="0.92"/>
<circle cx="13.4" cy="149.9" r="0.43" fill="rgb(114,73,56)" opacity="0.67"/>
<circle cx="15.8" cy="169.5" r="0.41" fill="rgb(114,73,56)" opacity="0.60"/>
<circle cx="15.0" cy="172.2" r="0.47" fill="rgb(114,73,56)" opacity="0.72"/>
<circle cx="19.9" cy="160.4" r="0.68" fill="rgb(114,73,56)" opacity="0.60"/>
<circle cx="7.8" cy="154.6" r="0.62" fill="rgb(114,73,56)" opacity="0.68"/>
<circle cx="13.5" cy="162.3" r="0.42" fill="rgb(114,73,56)" opacity="0.63"/>
<circle cx="12.0" cy="166.9" r="0.63" fill="rgb(114,73,56)" opacity="0.63"/>
<circle cx="12.1" cy="164.2" r="0.71" fill="rgb(114,73,56)" opacity="0.68"/>
<circle cx="9.8" cy="161.7" r="0.70" fill="rgb(114,73,56)" opacity="0.51"/>
<circle cx="11.9" cy="167.5" r="0.38" fill="rgb(114,73,56)" opacity="0.94"/>
<circle cx="20.6" cy="170.3" r="0.55" fill="rgb(114,73,56)" opacity="0.53"/>
<circle cx="11.2" cy="164.3" r="0.37" fill="rgb(114,73,56)" opacity="0.58"/>
<circle cx="14.1" cy="155.4" r="0.47" fill="rgb(114,73,56)" opacity="0.71"/>
<circle cx="11.5" cy="159.8" r="0.62" fill="rgb(114,73,56)" opacity="0.63"/>
<circle cx="16.8" cy="160.4" r="0.41" fill="rgb(114,73,56)" opacity="0.60"/>
<circle cx="12.4" cy="172.4" r="0.51" fill="rgb(114,73,56)" opacity="0.69"/>
<circle cx="17.8" cy="174.7" r="0.46" fill="rgb(114,73,56)" opacity="0.67"/>
<circle cx="13.9" cy="163.0" r="0.36" fill="rgb(114,73,56)" opacity="0.82"/>
<circle cx="4.4" cy="162.8" r="0.73" fill="rgb(114,73,56)" opacity="0.65"/>
<circle cx="9.2" cy="146.3" r="0.44" fill="rgb(114,73,56)" opacity="0.84"/>
<circle cx="9.2" cy="157.7" r="0.69" fill="rgb(114,73,56)" opacity="0.62"/>
<circle cx="12.4" cy="158.5" r="0.52" fill="rgb(114,73,56)" opacity="0.70"/>
<circle cx="11.1" cy="169.9" r="0.48" fill="rgb(114,73,56)" opacity="0.75"/>
<circle cx="13.2" cy="165.2" r="0.51" fill="rgb(114,73,56)" opacity="0.74"/>
<circle cx="6.7" cy="162.3" r="0.44" fill="rgb(114,73,56)" opacity="0.55"/>
<circle cx="11.3" cy="167.4" r="0.41" fill="rgb(114,73,56)" opacity="0.79"/>
<circle cx="15.5" cy="157.7" r="0.62" fill="rgb(114,73,56)" opacity="0.51"/>
<circle cx="10.6" cy="165.4" r="0.38" fill="rgb(114,73,56)" opacity="0.70"/>
<circle cx="12.9" cy="158.1" r="0.58" fill="rgb(114,73,56)" opacity="0.73"/>
<circle cx="12.2" cy="166.0" r="0.36" fill="rgb(114,73,56)" opacity="0.67"/>
<circle cx="16.8" cy="146.9" r="0.45" fill="rgb(114,73,56)" opacity="0.83"/>
<circle cx="15.5" cy="168.6" r="0.59" fill="rgb(114,73,56)" opacity="0.98"/>
<circle cx="13.3" cy="172.0" r="0.71" fill="rgb(114,73,56)" opacity="0.89"/>
<circle cx="9.6" cy="153.5" r="0.51" fill="rgb(114,73,56)" opacity="0.71"/>
<circle cx="7.8" cy="156.9" r="0.69" fill="rgb(114,73,56)" opacity="0.69"/>
<circle cx="14.6" cy="159.8" r="0.40" fill="rgb(114,73,56)" opacity="0.75"/>
<circle cx="14.1" cy="166.1" r="0.73" fill="rgb(114,73,56)" opacity="0.57"/>
<circle cx="14.7" cy="165.9" r="0.61" fill="rgb(114,73,56)" opacity="0.62"/>
<circle cx="11.4" cy="164.1" r="0.50" fill="rgb(114,73,56)" opacity="0.62"/>
<circle cx="7.6" cy="161.3" r="0.56" fill="rgb(114,73,56)" opacity="0.81"/>
<circle cx="19.1" cy="167.0" r="0.72" fill="rgb(114,73,56)" opacity="0.67"/>
<circle cx="8.7" cy="173.6" r="0.47" fill="rgb(114,73,56)" opacity="0.86"/>
<circle cx="13.7" cy="153.4" r="0.72" fill="rgb(114,73,56)" opacity="0.91"/>
<circle cx="16.8" cy="169.6" r="0.54" fill="rgb(114,73,56)" opacity="0.78"/>
<circle cx="16.3" cy="163.5" r="0.64" fill="rgb(114,73,56)" opacity="0.77"/>
<circle cx="13.9" cy="166.5" r="0.48" fill="rgb(114,73,56)" opacity="0.59"/>
<circle cx="16.3" cy="175.4" r="0.38" fill="rgb(114,73,56)" opacity="0.53"/>
<circle cx="18.8" cy="167.9" r="0.40" fill="rgb(114,73,56)" opacity="0.73"/>
<circle cx="7.2" cy="162.2" r="0.41" fill="rgb(114,73,56)" opacity="0.93"/>
<circle cx="14.6" cy="159.1" r="0.45" fill="rgb(114,73,56)" opacity="0.75"/>
<circle cx="11.5" cy="159.5" r="0.63" fill="rgb(114,73,56)" opacity="0.63"/>
<circle cx="12.9" cy="154.4" r="0.48" fill="rgb(114,73,56)" opacity="0.88"/>
<circle cx="11.3" cy="167.0" r="0.57" fill="rgb(114,73,56)" opacity="0.71"/>
<circle cx="12.1" cy="150.9" r="0.67" fill="rgb(114,73,56)" opacity="0.90"/>
<circle cx="6.7" cy="161.4" r="0.61" fill="rgb(114,73,56)" opacity="0.62"/>
<circle cx="13.9" cy="162.0" r="0.58" fill="rgb(114,73,56)" opacity="0.97"/>
<circle cx="16.9" cy="159.4" r="0.62" fill="rgb(114,73,56)" opacity="0.71"/>
<circle cx="10.8" cy="155.4" r="0.71" fill="rgb(114,73,56)" opacity="0.99"/>
<circle cx="13.5" cy="158.2" r="0.40" fill="rgb(114,73,56)" opacity="0.52"/>
<circle cx="12.1" cy="172.7" r="0.73" fill="rgb(114,73,56)" opacity="0.56"/>
<circle cx="15.1" cy="148.4" r="0.56" fill="rgb(114,73,56)" opacity="0.74"/>
<circle cx="11.1" cy="165.5" r="0.66" fill="rgb(114,73,56)" opacity="0.92"/>
<circle cx="14.3" cy="172.0" r="0.59" fill="rgb(114,73,56)" opacity="0.88"/>
<circle cx="17.7" cy="160.0" r="0.62" fill="rgb(114,73,56)" opacity="0.77"/>
<circle cx="8.5" cy="153.4" r="0.42" fill="rgb(114,73,56)" opacity="0.55"/>
<circle cx="16.5" cy="158.6" r="0.54" fill="rgb(114,73,56)" opacity="0.56"/>
<circle cx="14.5" cy="165.0" r="0.57" fill="rgb(114,73,56)" opacity="0.57"/>
<circle cx="11.3" cy="156.7" r="0.44" fill="rgb(114,73,56)" opacity="0.74"/>
<circle cx="8.8" cy="165.0" r="0.37" fill="rgb(114,73,56)" opacity="0.53"/>
<circle cx="16.4" cy="156.9" r="0.38" fill="rgb(114,73,56)" opacity="0.59"/>
<circle cx="16.7" cy="168.6" r="0.43" fill="rgb(114,73,56)" opacity="0.93"/>
<circle cx="9.4" cy="161.7" r="0.66" fill="rgb(114,73,56)" opacity="0.70"/>
<circle cx="16.2" cy="156.3" r="0.60" fill="rgb(114,73,56)" opacity="0.81"/>
<circle cx="12.0" cy="178.2" r="0.68" fill="rgb(114,73,56)" opacity="1.00"/>
<circle cx="14.5" cy="163.6" r="0.63" fill="rgb(114,73,56)" opacity="0.59"/>
<circle cx="16.1" cy="161.7" r="0.40" fill="rgb(114,73,56)" opacity="0.54"/>
<circle cx="26.0" cy="171.6" r="0.39" fill="rgb(114,73,56)" opacity="0.67"/>
<circle cx="31.7" cy="166.2" r="0.64" fill="rgb(114,73,56)" opacity="0.77"/>
<circle cx="36.1" cy="167.6" r="0.39" fill="rgb(114,73,56)" opacity="0.57"/>
<circle cx="27.7" cy="171.0" r="0.36" fill="rgb(114,73,56)" opacity="0.75"/>
<circle cx="18.9" cy="168.1" r="0.56" fill="rgb(114,73,56)" opacity="0.98"/>
<circle cx="35.7" cy="174.5" r="0.48" fill="rgb(114,73,56)" opacity="0.88"/>
<circle cx="25.7" cy="174.4" r="0.52" fill="rgb(114,73,56)" opacity="0.98"/>
<circle cx="33.2" cy="171.5" r="0.62" fill="rgb(114,73,56)" opacity="0.59"/>
<circle cx="34.6" cy="170.4" r="0.72" fill="rgb(114,73,56)" opacity="0.66"/>
<circle cx="34.4" cy="171.0" r="0.73" fill="rgb(114,73,56)" opacity="0.57"/>
<circle cx="29.5" cy="165.0" r="0.60" fill="rgb(114,73,56)" opacity="0.61"/>
<circle cx="21.6" cy="164.0" r="0.68" fill="rgb(114,73,56)" opacity="0.81"/>
<circle cx="25.7" cy="167.2" r="0.40" fill="rgb(114,73,56)" opacity="0.92"/>
<circle cx="29.2" cy="165.2" r="0.61" fill="rgb(114,73,56)" opacity="0.71"/>
<circle cx="24.4" cy="164.3" r="0.58" fill="rgb(114,73,56)" opacity="0.79"/>
<circle cx="30.2" cy="168.3" r="0.59" fill="rgb(114,73,56)" opacity="0.72"/>
<circle cx="27.0" cy="169.2" r="0.71" fill="rgb(114,73,56)" opacity="0.58"/>
<circle cx="11.4" cy="170.2" r="0.64" fill="rgb(114,73,56)" opacity="0.66"/>
<circle cx="28.6" cy="167.3" r="0.51" fill="rgb(114,73,56)" opacity="0.93"/>
<circle cx="46.0" cy="175.1" r="0.54" fill="rgb(114,73,56)" opacity="0.62"/>
<circle cx="34.0" cy="166.4" r="0.71" fill="rgb(114,73,56)" opacity="0.91"/>
<circle cx="34.2" cy="164.8" r="0.73" fill="rgb(114,73,56)" opacity="0.53"/>
<circle cx="36.4" cy="161.7" r="0.45" fill="rgb(114,73,56)" opacity="0.90"/>
<circle cx="24.0" cy="169.4" r="0.68" fill="rgb(114,73,56)" opacity="0.60"/>
<circle cx="36.8" cy="165.8" r="0.38" fill="rgb(114,73,56)" opacity="0.78"/>
<circle cx="33.7" cy="164.8" r="0.44" fill="rgb(114,73,56)" opacity="0.90"/>
<circle cx="39.9" cy="165.3" r="0.56" fill="rgb(114,73,56)" opacity="0.95"/>
<circle cx="33.0" cy="166.6" r="0.49" fill="rgb(114,73,56)" opacity="0.55"/>
<circle cx="34.5" cy="168.3" r="0.68" fill="rgb(114,73,56)" opacity="0.92"/>
<circle cx="35.0" cy="169.7" r="0.50" fill="rgb(114,73,56)" opacity="0.92"/>
<circle cx="24.6" cy="168.1" r="0.38" fill="rgb(114,73,56)" opacity="0.99"/>
<circle cx="34.4" cy="172.5" r="0.69" fill="rgb(114,73,56)" opacity="0.86"/>
<circle cx="26.4" cy="173.8" r="0.52" fill="rgb(114,73,56)" opacity="0.51"/>
<circle cx="28.8" cy="170.6" r="0.59" fill="rgb(114,73,56)" opacity="0.64"/>
<circle cx="23.0" cy="171.0" r="0.42" fill="rgb(114,73,56)" opacity="0.56"/>
<circle cx="29.3" cy="165.1" r="0.40" fill="rgb(114,73,56)" opacity="0.56"/>
<circle cx="38.4" cy="167.7" r="0.49" fill="rgb(114,73,56)" opacity="0.60"/>
<circle cx="42.1" cy="168.2" r="0.63" fill="rgb(114,73,56)" opacity="0.68"/>
<circle cx="19.4" cy="168.8" r="0.41" fill="rgb(114,73,56)" opacity="0.82"/>
<circle cx="21.0" cy="171.0" r="0.51" fill="rgb(114,73,56)" opacity="0.73"/>
<circle cx="18.7" cy="171.5" r="0.48" fill="rgb(114,73,56)" opacity="0.85"/>
<circle cx="32.7" cy="172.4" r="0.46" fill="rgb(114,73,56)" opacity="0.94"/>
<circle cx="34.3" cy="171.1" r="0.61" fill="rgb(114,73,56)" opacity="0.73"/>
<circle cx="37.9" cy="167.1" r="0.64" fill="rgb(114,73,56)" opacity="0.80"/>
<circle cx="30.0" cy="166.3" r="0.51" fill="rgb(114,73,56)" opacity="0.64"/>
<circle cx="16.5" cy="171.1" r="0.46" fill="rgb(114,73,56)" opacity="0.85"/>
<circle cx="27.1" cy="166.3" r="0.51" fill="rgb(114,73,56)" opacity="0.57"/>
<circle cx="35.9" cy="166.9" r="0.51" fill="rgb(114,73,56)" opacity="0.67"/>
<circle cx="26.5" cy="161.0" r="0.58" fill="rgb(114,73,56)" opacity="0.77"/>
<circle cx="43.4" cy="172.2" r="0.39" fill="rgb(114,73,56)" opacity="0.68"/>
<circle cx="26.9" cy="172.0" r="0.61" fill="rgb(114,73,56)" opacity="0.67"/>
<circle cx="44.9" cy="163.8" r="0.36" fill="rgb(114,73,56)" opacity="0.82"/>
<circle cx="49.0" cy="164.5" r="0.59" fill="rgb(114,73,56)" opacity="0.89"/>
<circle cx="63.6" cy="164.7" r="0.34" fill="rgb(114,73,56)" opacity="0.93"/>
<circle cx="54.4" cy="153.9" r="0.34" fill="rgb(114,73,56)" opacity="0.68"/>
<circle cx="46.8" cy="159.5" r="0.37" fill="rgb(114,73,56)" opacity="0.89"/>
<circle cx="64.5" cy="162.4" r="0.37" fill="rgb(114,73,56)" opacity="0.78"/>
<circle cx="59.2" cy="162.5" r="0.51" fill="rgb(114,73,56)" opacity="0.65"/>
<circle cx="48.3" cy="143.4" r="0.48" fill="rgb(114,73,56)" opacity="0.53"/>
<circle cx="58.6" cy="166.2" r="0.53" fill="rgb(114,73,56)" opacity="0.73"/>
<circle cx="47.3" cy="164.5" r="0.64" fill="rgb(114,73,56)" opacity="0.58"/>
<circle cx="66.8" cy="159.8" r="0.48" fill="rgb(114,73,56)" opacity="0.81"/>
<circle cx="61.3" cy="162.6" r="0.48" fill="rgb(114,73,56)" opacity="0.51"/>
<circle cx="65.5" cy="168.4" r="0.59" fill="rgb(114,73,56)" opacity="0.86"/>
<circle cx="57.6" cy="160.4" r="0.34" fill="rgb(114,73,56)" opacity="0.56"/>
<circle cx="50.0" cy="173.2" r="0.56" fill="rgb(114,73,56)" opacity="0.92"/>
<circle cx="48.5" cy="155.6" r="0.36" fill="rgb(114,73,56)" opacity="0.63"/>
<circle cx="71.0" cy="168.1" r="0.45" fill="rgb(114,73,56)" opacity="0.74"/>
<circle cx="48.0" cy="159.3" r="0.67" fill="rgb(114,73,56)" opacity="0.78"/>
<circle cx="38.8" cy="160.8" r="0.47" fill="rgb(114,73,56)" opacity="0.65"/>
<circle cx="79.1" cy="157.2" r="0.46" fill="rgb(114,73,56)" opacity="0.71"/>
<circle cx="49.1" cy="161.6" r="0.48" fill="rgb(114,73,56)" opacity="0.73"/>
<circle cx="65.2" cy="155.4" r="0.35" fill="rgb(114,73,56)" opacity="0.76"/>
<circle cx="48.8" cy="159.4" r="0.41" fill="rgb(114,73,56)" opacity="0.55"/>
<circle cx="64.3" cy="164.1" r="0.50" fill="rgb(114,73,56)" opacity="0.62"/>
<circle cx="56.8" cy="155.2" r="0.33" fill="rgb(114,73,56)" opacity="0.70"/>
<circle cx="62.0" cy="175.6" r="0.54" fill="rgb(114,73,56)" opacity="0.98"/>
<circle cx="49.4" cy="165.9" r="0.46" fill="rgb(114,73,56)" opacity="0.65"/>
<circle cx="60.4" cy="163.5" r="0.44" fill="rgb(114,73,56)" opacity="0.75"/>
<circle cx="43.0" cy="160.1" r="0.35" fill="rgb(114,73,56)" opacity="0.55"/>
<circle cx="62.8" cy="168.3" r="0.62" fill="rgb(114,73,56)" opacity="0.71"/>
<circle cx="62.2" cy="157.0" r="0.43" fill="rgb(114,73,56)" opacity="0.84"/>
<circle cx="52.8" cy="164.0" r="0.63" fill="rgb(114,73,56)" opacity="0.66"/>
<circle cx="50.5" cy="169.3" r="0.61" fill="rgb(114,73,56)" opacity="0.82"/>
<circle cx="53.8" cy="155.8" r="0.35" fill="rgb(114,73,56)" opacity="0.81"/>
<circle cx="38.8" cy="157.2" r="0.56" fill="rgb(114,73,56)" opacity="0.51"/>
<circle cx="67.4" cy="159.7" r="0.54" fill="rgb(114,73,56)" opacity="0.50"/>
<circle cx="56.1" cy="155.8" r="0.57" fill="rgb(114,73,56)" opacity="0.99"/>
<circle cx="48.6" cy="144.2" r="0.61" fill="rgb(114,73,56)" opacity="0.72"/>
<circle cx="56.9" cy="156.1" r="0.49" fill="rgb(114,73,56)" opacity="0.72"/>
<circle cx="47.9" cy="166.0" r="0.59" fill="rgb(114,73,56)" opacity="0.54"/>
<circle cx="68.5" cy="167.2" r="0.57" fill="rgb(114,73,56)" opacity="0.77"/>
<circle cx="59.4" cy="166.0" r="0.44" fill="rgb(114,73,56)" opacity="0.98"/>
<circle cx="39.4" cy="156.8" r="0.41" fill="rgb(114,73,56)" opacity="0.71"/>
<circle cx="53.8" cy="158.2" r="0.37" fill="rgb(114,73,56)" opacity="0.94"/>
<circle cx="54.7" cy="161.1" r="0.49" fill="rgb(114,73,56)" opacity="0.69"/>
<circle cx="45.4" cy="152.1" r="0.51" fill="rgb(114,73,56)" opacity="0.84"/>
<circle cx="73.7" cy="171.6" r="0.65" fill="rgb(114,73,56)" opacity="0.61"/>
<circle cx="82.0" cy="172.5" r="0.59" fill="rgb(114,73,56)" opacity="0.56"/>
<circle cx="83.5" cy="170.4" r="0.70" fill="rgb(114,73,56)" opacity="0.96"/>
<circle cx="78.3" cy="159.8" r="0.72" fill="rgb(114,73,56)" opacity="0.86"/>
<circle cx="81.7" cy="173.0" r="0.63" fill="rgb(114,73,56)" opacity="0.63"/>
<circle cx="80.0" cy="166.5" r="0.56" fill="rgb(114,73,56)" opacity="0.63"/>
<circle cx="74.8" cy="171.6" r="0.40" fill="rgb(114,73,56)" opacity="0.74"/>
<circle cx="79.5" cy="170.3" r="0.46" fill="rgb(114,73,56)" opacity="0.75"/>
<circle cx="75.7" cy="161.0" r="0.68" fill="rgb(114,73,56)" opacity="0.93"/>
<circle cx="75.2" cy="160.3" r="0.63" fill="rgb(114,73,56)" opacity="0.77"/>
<circle cx="77.1" cy="158.1" r="0.65" fill="rgb(114,73,56)" opacity="0.63"/>
<circle cx="91.1" cy="170.1" r="0.49" fill="rgb(114,73,56)" opacity="0.89"/>
<circle cx="76.8" cy="164.7" r="0.49" fill="rgb(114,73,56)" opacity="0.86"/>
<circle cx="85.6" cy="162.7" r="0.57" fill="rgb(114,73,56)" opacity="0.67"/>
<circle cx="74.8" cy="175.7" r="0.39" fill="rgb(114,73,56)" opacity="0.97"/>
<circle cx="79.0" cy="163.2" r="0.70" fill="rgb(114,73,56)" opacity="0.55"/>
<circle cx="66.7" cy="158.8" r="0.73" fill="rgb(114,73,56)" opacity="0.65"/>
<circle cx="81.3" cy="163.7" r="0.61" fill="rgb(114,73,56)" opacity="0.53"/>
<circle cx="78.4" cy="166.0" r="0.73" fill="rgb(114,73,56)" opacity="0.84"/>
<circle cx="85.4" cy="156.7" r="0.55" fill="rgb(114,73,56)" opacity="0.54"/>
<circle cx="75.7" cy="176.4" r="0.55" fill="rgb(114,73,56)" opacity="0.68"/>
<circle cx="76.7" cy="165.3" r="0.62" fill="rgb(114,73,56)" opacity="0.71"/>
<circle cx="73.7" cy="162.0" r="0.54" fill="rgb(114,73,56)" opacity="0.78"/>
<circle cx="86.3" cy="163.9" r="0.40" fill="rgb(114,73,56)" opacity="0.65"/>
<circle cx="86.9" cy="164.0" r="0.71" fill="rgb(114,73,56)" opacity="0.99"/>
<circle cx="90.8" cy="160.9" r="0.68" fill="rgb(114,73,56)" opacity="0.97"/>
<circle cx="88.2" cy="171.7" r="0.58" fill="rgb(114,73,56)" opacity="0.84"/>
<circle cx="74.8" cy="159.7" r="0.71" fill="rgb(114,73,56)" opacity="0.54"/>
<circle cx="77.6" cy="170.2" r="0.36" fill="rgb(114,73,56)" opacity="0.56"/>
<circle cx="88.5" cy="153.8" r="0.36" fill="rgb(114,73,56)" opacity="0.52"/>
<circle cx="76.1" cy="159.2" r="0.55" fill="rgb(114,73,56)" opacity="0.79"/>
<circle cx="80.5" cy="154.0" r="0.35" fill="rgb(114,73,56)" opacity="0.53"/>
<circle cx="83.7" cy="156.4" r="0.67" fill="rgb(114,73,56)" opacity="0.70"/>
<circle cx="77.7" cy="170.2" r="0.36" fill="rgb(114,73,56)" opacity="0.89"/>
<circle cx="84.3" cy="166.6" r="0.55" fill="rgb(114,73,56)" opacity="0.67"/>
<circle cx="77.5" cy="159.2" r="0.44" fill="rgb(114,73,56)" opacity="0.94"/>
<circle cx="79.9" cy="176.0" r="0.45" fill="rgb(114,73,56)" opacity="0.74"/>
<circle cx="81.0" cy="159.8" r="0.44" fill="rgb(114,73,56)" opacity="0.83"/>
<circle cx="88.5" cy="171.6" r="0.45" fill="rgb(114,73,56)" opacity="0.94"/>
<circle cx="81.5" cy="169.4" r="0.47" fill="rgb(114,73,56)" opacity="0.66"/>
<circle cx="73.4" cy="166.5" r="0.66" fill="rgb(114,73,56)" opacity="0.77"/>
<circle cx="87.5" cy="170.2" r="0.45" fill="rgb(114,73,56)" opacity="0.61"/>
<circle cx="80.8" cy="163.9" r="0.49" fill="rgb(114,73,56)" opacity="0.68"/>
<circle cx="92.9" cy="155.2" r="0.50" fill="rgb(114,73,56)" opacity="0.57"/>
<circle cx="80.7" cy="159.8" r="0.48" fill="rgb(114,73,56)" opacity="0.90"/>
<circle cx="77.1" cy="168.7" r="0.58" fill="rgb(114,73,56)" opacity="0.87"/>
<circle cx="84.8" cy="167.8" r="0.36" fill="rgb(114,73,56)" opacity="0.75"/>
<circle cx="78.7" cy="166.8" r="0.70" fill="rgb(114,73,56)" opacity="0.57"/>
<circle cx="79.5" cy="171.3" r="0.72" fill="rgb(114,73,56)" opacity="0.97"/>
<circle cx="73.8" cy="177.2" r="0.41" fill="rgb(114,73,56)" opacity="0.86"/>
<circle cx="74.4" cy="171.9" r="0.40" fill="rgb(114,73,56)" opacity="0.84"/>
<circle cx="86.0" cy="158.5" r="0.72" fill="rgb(114,73,56)" opacity="0.73"/>
<circle cx="82.8" cy="172.9" r="0.46" fill="rgb(114,73,56)" opacity="0.97"/>
<circle cx="82.9" cy="167.0" r="0.49" fill="rgb(114,73,56)" opacity="0.52"/>
<circle cx="82.1" cy="171.1" r="0.40" fill="rgb(114,73,56)" opacity="0.76"/>
<circle cx="73.8" cy="163.2" r="0.64" fill="rgb(114,73,56)" opacity="0.76"/>
<circle cx="75.6" cy="170.3" r="0.44" fill="rgb(114,73,56)" opacity="0.54"/>
<circle cx="77.0" cy="175.0" r="0.71" fill="rgb(114,73,56)" opacity="0.75"/>
<circle cx="75.8" cy="162.8" r="0.57" fill="rgb(114,73,56)" opacity="0.65"/>
<circle cx="83.6" cy="149.2" r="0.53" fill="rgb(114,73,56)" opacity="0.80"/>
<circle cx="79.8" cy="159.6" r="0.43" fill="rgb(114,73,56)" opacity="0.97"/>
<circle cx="81.1" cy="165.0" r="0.64" fill="rgb(114,73,56)" opacity="0.70"/>
<circle cx="77.5" cy="163.4" r="0.42" fill="rgb(114,73,56)" opacity="0.87"/>
<circle cx="80.3" cy="166.4" r="0.44" fill="rgb(114,73,56)" opacity="0.90"/>
<circle cx="72.2" cy="172.1" r="0.53" fill="rgb(114,73,56)" opacity="0.59"/>
<circle cx="84.3" cy="165.7" r="0.37" fill="rgb(114,73,56)" opacity="0.63"/>
<circle cx="66.3" cy="158.1" r="0.53" fill="rgb(114,73,56)" opacity="0.81"/>
<circle cx="78.1" cy="170.6" r="0.69" fill="rgb(114,73,56)" opacity="0.79"/>
<circle cx="74.8" cy="166.5" r="0.53" fill="rgb(114,73,56)" opacity="0.67"/>
<circle cx="83.1" cy="162.9" r="0.71" fill="rgb(114,73,56)" opacity="0.93"/>
<circle cx="77.3" cy="175.9" r="0.55" fill="rgb(114,73,56)" opacity="0.99"/>
<circle cx="79.3" cy="168.9" r="0.63" fill="rgb(114,73,56)" opacity="0.62"/>
<circle cx="73.5" cy="161.5" r="0.72" fill="rgb(114,73,56)" opacity="0.64"/>
<circle cx="86.3" cy="170.6" r="0.49" fill="rgb(114,73,56)" opacity="0.78"/>
<circle cx="84.7" cy="162.1" r="0.55" fill="rgb(114,73,56)" opacity="0.69"/>
<circle cx="82.8" cy="160.1" r="0.54" fill="rgb(146,102,82)" opacity="0.65"/>
<circle cx="50.9" cy="181.8" r="0.29" fill="rgb(146,102,82)" opacity="0.76"/>
<circle cx="25.2" cy="155.5" r="0.48" fill="rgb(146,102,82)" opacity="0.96"/>
<circle cx="86.6" cy="155.4" r="0.31" fill="rgb(146,102,82)" opacity="0.83"/>
<circle cx="10.5" cy="165.1" r="0.56" fill="rgb(146,102,82)" opacity="0.66"/>
<circle cx="66.0" cy="174.1" r="0.52" fill="rgb(146,102,82)" opacity="0.99"/>
<circle cx="36.5" cy="161.7" r="0.51" fill="rgb(146,102,82)" opacity="0.53"/>
<circle cx="82.0" cy="149.1" r="0.53" fill="rgb(146,102,82)" opacity="0.94"/>
<circle cx="70.0" cy="144.8" r="0.49" fill="rgb(146,102,82)" opacity="0.75"/>
<circle cx="28.2" cy="166.7" r="0.29" fill="rgb(146,102,82)" opacity="0.58"/>
<circle cx="18.2" cy="159.6" r="0.49" fill="rgb(146,102,82)" opacity="0.89"/>
<circle cx="36.5" cy="150.4" r="0.38" fill="rgb(146,102,82)" opacity="0.64"/>
<circle cx="16.1" cy="163.6" r="0.50" fill="rgb(146,102,82)" opacity="0.97"/>
<circle cx="16.3" cy="179.5" r="0.57" fill="rgb(146,102,82)" opacity="0.65"/>
<circle cx="23.9" cy="160.1" r="0.59" fill="rgb(146,102,82)" opacity="0.89"/>
<circle cx="36.8" cy="167.4" r="0.45" fill="rgb(146,102,82)" opacity="0.74"/>
<circle cx="77.8" cy="147.1" r="0.45" fill="rgb(146,102,82)" opacity="0.74"/>
<circle cx="47.8" cy="153.9" r="0.35" fill="rgb(146,102,82)" opacity="0.79"/>
<circle cx="28.0" cy="147.0" r="0.31" fill="rgb(146,102,82)" opacity="0.53"/>
<circle cx="26.7" cy="169.9" r="0.58" fill="rgb(146,102,82)" opacity="0.82"/>
<circle cx="81.2" cy="161.8" r="0.36" fill="rgb(146,102,82)" opacity="0.74"/>
<circle cx="62.8" cy="159.7" r="0.42" fill="rgb(146,102,82)" opacity="0.84"/>
<circle cx="26.8" cy="151.4" r="0.49" fill="rgb(146,102,82)" opacity="0.97"/>
<circle cx="66.6" cy="156.8" r="0.45" fill="rgb(146,102,82)" opacity="1.00"/>
<circle cx="6.2" cy="162.3" r="0.53" fill="rgb(146,102,82)" opacity="0.53"/>
<circle cx="70.1" cy="170.4" r="0.37" fill="rgb(146,102,82)" opacity="0.86"/>
<circle cx="36.9" cy="161.0" r="0.53" fill="rgb(146,102,82)" opacity="0.82"/>
<circle cx="39.7" cy="151.0" r="0.42" fill="rgb(146,102,82)" opacity="0.55"/>
<circle cx="69.6" cy="146.9" r="0.56" fill="rgb(146,102,82)" opacity="0.53"/>
<circle cx="69.3" cy="164.1" r="0.50" fill="rgb(146,102,82)" opacity="0.72"/>
<circle cx="19.0" cy="161.8" r="0.46" fill="rgb(146,102,82)" opacity="0.87"/>
<circle cx="14.0" cy="168.6" r="0.50" fill="rgb(146,102,82)" opacity="0.81"/>
<circle cx="17.5" cy="162.3" r="0.33" fill="rgb(146,102,82)" opacity="0.53"/>
<circle cx="43.2" cy="161.2" r="0.31" fill="rgb(146,102,82)" opacity="0.70"/>
<circle cx="21.2" cy="160.9" r="0.58" fill="rgb(146,102,82)" opacity="0.93"/>
<circle cx="10.0" cy="161.9" r="0.38" fill="rgb(146,102,82)" opacity="0.99"/>
<circle cx="75.9" cy="147.3" r="0.35" fill="rgb(146,102,82)" opacity="0.93"/>
<circle cx="18.7" cy="160.4" r="0.41" fill="rgb(146,102,82)" opacity="0.94"/>
<circle cx="27.8" cy="148.3" r="0.51" fill="rgb(146,102,82)" opacity="0.72"/>
<circle cx="27.8" cy="168.3" r="0.43" fill="rgb(146,102,82)" opacity="0.66"/>
<circle cx="81.4" cy="159.9" r="0.38" fill="rgb(146,102,82)" opacity="0.89"/>
<circle cx="16.9" cy="163.8" r="0.56" fill="rgb(146,102,82)" opacity="0.73"/>
<circle cx="24.3" cy="155.5" r="0.59" fill="rgb(146,102,82)" opacity="0.89"/>
<circle cx="13.2" cy="169.0" r="0.52" fill="rgb(146,102,82)" opacity="0.65"/>
<circle cx="6.6" cy="158.8" r="0.49" fill="rgb(146,102,82)" opacity="0.83"/>
<circle cx="9.7" cy="166.3" r="0.36" fill="rgb(146,102,82)" opacity="0.89"/>
<circle cx="33.0" cy="161.3" r="0.39" fill="rgb(146,102,82)" opacity="0.86"/>
<circle cx="78.5" cy="161.9" r="0.53" fill="rgb(146,102,82)" opacity="0.63"/>
<circle cx="72.5" cy="145.6" r="0.41" fill="rgb(146,102,82)" opacity="1.00"/>
<circle cx="69.6" cy="180.3" r="0.30" fill="rgb(146,102,82)" opacity="0.79"/>
<circle cx="19.1" cy="158.1" r="0.41" fill="rgb(146,102,82)" opacity="0.80"/>
<circle cx="36.9" cy="145.6" r="0.52" fill="rgb(146,102,82)" opacity="0.79"/>
<circle cx="15.2" cy="163.9" r="0.46" fill="rgb(146,102,82)" opacity="0.77"/>
<circle cx="64.2" cy="160.5" r="0.53" fill="rgb(146,102,82)" opacity="0.66"/>
<circle cx="21.4" cy="157.1" r="0.37" fill="rgb(146,102,82)" opacity="0.78"/>
<circle cx="15.1" cy="159.0" r="0.34" fill="rgb(146,102,82)" opacity="0.81"/>
<circle cx="76.7" cy="145.0" r="0.38" fill="rgb(146,102,82)" opacity="0.90"/>
<circle cx="34.2" cy="163.4" r="0.48" fill="rgb(146,102,82)" opacity="0.73"/>
<circle cx="23.4" cy="144.8" r="0.46" fill="rgb(146,102,82)" opacity="0.98"/>
<circle cx="19.0" cy="173.4" r="0.31" fill="rgb(146,102,82)" opacity="0.65"/>
<path d="M5 131 L92 131 L92 139.0 L90.0 139.0 L87.9 138.8 L85.7 138.6 L83.6 138.4 L81.5 138.2 L79.4 138.1 L77.2 137.9 L75.1 137.8 L73.0 137.7 L70.8 137.6 L68.7 137.5 L66.6 137.4 L64.5 137.4 L62.3 137.4 L60.2 137.4 L58.1 137.4 L55.9 137.4 L53.8 137.5 L51.7 137.5 L49.6 137.6 L47.4 137.6 L45.3 137.6 L43.2 137.7 L41.1 137.7 L38.9 137.8 L36.8 137.9 L34.7 137.9 L32.5 138.0 L30.4 138.0 L28.3 138.1 L26.2 138.2 L24.0 138.3 L21.9 138.4 L19.8 138.4 L17.6 138.5 L15.5 138.6 L13.4 138.7 L11.3 138.8 L9.1 138.9 L7.0 139.0 L5 139.0 Z" fill="rgb(212,208,212)"/>
</g>
<rect x="8.5" y="192.0" width="8.5" height="1.1" fill="rgb(120,160,230)"/>
</g>
<rect x="7.68" y="133.68" width="81.65" height="60.65" fill="none" stroke="#303030" stroke-width="1.35"/>
<clipPath id="hc2"><rect x="92" y="133" width="82" height="62"/></clipPath>
<linearGradient id="dg2" x1="0" y1="0" x2="0" y2="1"><stop offset="0" stop-color="rgb(186,184,200)"/><stop offset="0.5" stop-color="rgb(190,188,201)"/><stop offset="1" stop-color="rgb(196,194,204)"/></linearGradient>
<filter id="mf2_0" x="0" y="0" width="100%" height="100%" color-interpolation-filters="sRGB"><feTurbulence type="fractalNoise" baseFrequency="0.6" numOctaves="3" seed="104"/><feColorMatrix type="matrix" values="0 0 0 0 0.660 0 0 0 0 0.653 0 0 0 0 0.749 3.2 0 0 0 -1.5"/></filter>
<filter id="mf2_1" x="0" y="0" width="100%" height="100%" color-interpolation-filters="sRGB"><feTurbulence type="fractalNoise" baseFrequency="0.2" numOctaves="3" seed="7"/><feColorMatrix type="matrix" values="0 0 0 0 0.854 0 0 0 0 0.844 0 0 0 0 0.847 2.5 0 0 0 -1.2"/></filter>
<g clip-path="url(#hc2)"><g filter="url(#soft)">
<rect x="92" y="133" width="82" height="62" fill="url(#dg2)"/>
<path d="M92.0 144.0 L94.1 143.7 L96.2 143.4 L98.3 143.1 L100.4 142.7 L102.5 142.4 L104.6 142.1 L106.7 141.8 L108.8 141.4 L110.9 141.1 L113.0 140.8 L115.1 140.4 L117.2 140.1 L119.3 139.9 L121.4 139.6 L123.5 139.4 L125.6 139.2 L127.7 139.1 L129.8 139.0 L131.9 139.0 L134.1 139.0 L136.2 139.0 L138.3 139.0 L140.4 139.1 L142.5 139.2 L144.6 139.3 L146.7 139.6 L148.8 139.9 L150.9 140.3 L153.0 140.8 L155.1 141.3 L157.2 141.8 L159.3 142.2 L161.4 142.5 L163.5 142.6 L165.6 142.6 L167.7 142.4 L169.8 142.2 L171.9 141.8 L174.0 141.5 L174.0 156.0 L171.9 156.2 L169.8 156.3 L167.7 156.5 L165.6 156.6 L163.5 156.8 L161.4 156.9 L159.3 157.0 L157.2 157.1 L155.1 157.2 L153.0 157.2 L150.9 157.2 L148.8 157.2 L146.7 157.2 L144.6 157.2 L142.5 157.1 L140.4 156.9 L138.3 156.8 L136.2 156.6 L134.1 156.4 L131.9 156.2 L129.8 156.0 L127.7 155.7 L125.6 155.5 L123.5 155.4 L121.4 155.2 L119.3 155.1 L117.2 155.0 L115.1 155.0 L113.0 155.0 L110.9 155.1 L108.8 155.2 L106.7 155.3 L104.6 155.5 L102.5 155.7 L100.4 156.0 L98.3 156.2 L96.2 156.5 L94.1 156.7 L92.0 157.0 Z" fill="rgb(184,182,202)" opacity="0.9" filter="url(#soft2)"/>
<clipPath id="tc2"><path d="M90 197 L90.0 144.0 L92.0 144.0 L94.1 143.7 L96.2 143.4 L98.3 143.1 L100.4 142.7 L102.5 142.4 L104.6 142.1 L106.7 141.8 L108.8 141.4 L110.9 141.1 L113.0 140.8 L115.1 140.4 L117.2 140.1 L119.3 139.9 L121.4 139.6 L123.5 139.4 L125.6 139.2 L127.7 139.1 L129.8 139.0 L131.9 139.0 L134.1 139.0 L136.2 139.0 L138.3 139.0 L140.4 139.1 L142.5 139.2 L144.6 139.3 L146.7 139.6 L148.8 139.9 L150.9 140.3 L153.0 140.8 L155.1 141.3 L157.2 141.8 L159.3 142.2 L161.4 142.5 L163.5 142.6 L165.6 142.6 L167.7 142.4 L169.8 142.2 L171.9 141.8 L174.0 141.5 L176.0 141.5 L176 197 Z"/></clipPath>
<linearGradient id="mg2_0" gradientUnits="userSpaceOnUse" x1="0" y1="133" x2="0" y2="195"><stop offset="0.000" stop-color="#fff" stop-opacity="1"/><stop offset="1.000" stop-color="#fff" stop-opacity="1"/></linearGradient>
<mask id="mk2_0" maskUnits="userSpaceOnUse" x="92" y="133" width="82" height="62"><rect x="92" y="133" width="82" height="62" fill="url(#mg2_0)"/></mask>
<g mask="url(#mk2_0)"><rect x="92" y="133" width="82" height="62" filter="url(#mf2_0)" clip-path="url(#tc2)" opacity="0.4"/></g>
<linearGradient id="mg2_1" gradientUnits="userSpaceOnUse" x1="0" y1="133" x2="0" y2="195"><stop offset="0.220" stop-color="#fff" stop-opacity="0"/><stop offset="0.380" stop-color="#fff" stop-opacity="1"/><stop offset="1.000" stop-color="#fff" stop-opacity="1"/></linearGradient>
<mask id="mk2_1" maskUnits="userSpaceOnUse" x="92" y="133" width="82" height="62"><rect x="92" y="133" width="82" height="62" fill="url(#mg2_1)"/></mask>
<g mask="url(#mk2_1)"><rect x="92" y="133" width="82" height="62" filter="url(#mf2_1)" clip-path="url(#tc2)" opacity="0.6"/></g>
<circle cx="148.7" cy="177.7" r="0.82" fill="rgb(146,146,190)" opacity="0.6"/>
<circle cx="123.2" cy="154.5" r="0.61" fill="rgb(146,146,190)" opacity="0.6"/>
<circle cx="136.1" cy="140.5" r="0.62" fill="rgb(146,146,190)" opacity="0.6"/>
<circle cx="145.9" cy="147.5" r="0.59" fill="rgb(146,146,190)" opacity="0.6"/>
<circle cx="163.6" cy="191.3" r="0.56" fill="rgb(146,146,190)" opacity="0.6"/>
<circle cx="106.6" cy="145.8" r="0.49" fill="rgb(146,146,190)" opacity="0.6"/>
<circle cx="157.1" cy="180.4" r="0.57" fill="rgb(146,146,190)" opacity="0.6"/>
<circle cx="132.1" cy="178.0" r="0.46" fill="rgb(146,146,190)" opacity="0.6"/>
<circle cx="159.1" cy="187.2" r="0.55" fill="rgb(146,146,190)" opacity="0.6"/>
<circle cx="149.7" cy="178.2" r="0.60" fill="rgb(146,146,190)" opacity="0.6"/>
<circle cx="164.0" cy="151.4" r="0.66" fill="rgb(146,146,190)" opacity="0.6"/>
<circle cx="117.7" cy="163.9" r="0.82" fill="rgb(146,146,190)" opacity="0.6"/>
<circle cx="138.7" cy="173.2" r="0.89" fill="rgb(146,146,190)" opacity="0.6"/>
<circle cx="110.3" cy="151.6" r="0.73" fill="rgb(146,146,190)" opacity="0.6"/>
<circle cx="104.3" cy="193.0" r="0.60" fill="rgb(146,146,190)" opacity="0.6"/>
<circle cx="128.1" cy="163.3" r="0.82" fill="rgb(146,146,190)" opacity="0.6"/>
<circle cx="167.1" cy="177.0" r="0.53" fill="rgb(146,146,190)" opacity="0.6"/>
<circle cx="121.1" cy="178.6" r="0.55" fill="rgb(146,146,190)" opacity="0.6"/>
<circle cx="164.4" cy="187.9" r="0.55" fill="rgb(146,146,190)" opacity="0.6"/>
<circle cx="121.9" cy="152.0" r="0.77" fill="rgb(146,146,190)" opacity="0.6"/>
<circle cx="95.9" cy="178.0" r="0.48" fill="rgb(146,146,190)" opacity="0.6"/>
<circle cx="161.0" cy="169.5" r="0.71" fill="rgb(146,146,190)" opacity="0.6"/>
<circle cx="99.8" cy="141.7" r="0.61" fill="rgb(146,146,190)" opacity="0.6"/>
<circle cx="172.7" cy="172.7" r="0.84" fill="rgb(146,146,190)" opacity="0.6"/>
<circle cx="97.1" cy="144.9" r="0.46" fill="rgb(146,146,190)" opacity="0.6"/>
<circle cx="149.2" cy="149.0" r="0.57" fill="rgb(146,146,190)" opacity="0.6"/>
<circle cx="146.7" cy="178.0" r="0.60" fill="rgb(146,146,190)" opacity="0.6"/>
<circle cx="130.3" cy="155.3" r="0.70" fill="rgb(146,146,190)" opacity="0.6"/>
<circle cx="121.2" cy="159.3" r="0.56" fill="rgb(146,146,190)" opacity="0.6"/>
<circle cx="116.0" cy="153.8" r="0.46" fill="rgb(146,146,190)" opacity="0.6"/>
<circle cx="117.5" cy="172.2" r="0.57" fill="rgb(146,146,190)" opacity="0.6"/>
<circle cx="101.3" cy="186.4" r="0.66" fill="rgb(146,146,190)" opacity="0.6"/>
<circle cx="134.0" cy="156.6" r="0.85" fill="rgb(146,146,190)" opacity="0.6"/>
<circle cx="153.8" cy="173.9" r="0.75" fill="rgb(146,146,190)" opacity="0.6"/>
<circle cx="148.8" cy="167.1" r="0.64" fill="rgb(146,146,190)" opacity="0.6"/>
<circle cx="124.0" cy="167.3" r="0.66" fill="rgb(146,146,190)" opacity="0.6"/>
<circle cx="135.4" cy="168.9" r="0.80" fill="rgb(146,146,190)" opacity="0.6"/>
<circle cx="165.2" cy="151.7" r="0.46" fill="rgb(146,146,190)" opacity="0.6"/>
<circle cx="116.7" cy="141.0" r="0.81" fill="rgb(146,146,190)" opacity="0.6"/>
<circle cx="142.9" cy="155.1" r="0.54" fill="rgb(146,146,190)" opacity="0.6"/>
<circle cx="163.2" cy="185.9" r="0.76" fill="rgb(146,146,190)" opacity="0.6"/>
<circle cx="148.7" cy="180.7" r="0.65" fill="rgb(146,146,190)" opacity="0.6"/>
<circle cx="124.6" cy="170.1" r="0.85" fill="rgb(146,146,190)" opacity="0.6"/>
<circle cx="173.3" cy="190.4" r="0.83" fill="rgb(146,146,190)" opacity="0.6"/>
<circle cx="98.1" cy="153.0" r="0.89" fill="rgb(146,146,190)" opacity="0.6"/>
<circle cx="136.6" cy="167.9" r="0.59" fill="rgb(146,146,190)" opacity="0.6"/>
<circle cx="162.7" cy="168.0" r="0.90" fill="rgb(146,146,190)" opacity="0.6"/>
<circle cx="98.2" cy="194.6" r="0.46" fill="rgb(146,146,190)" opacity="0.6"/>
<circle cx="104.2" cy="160.9" r="0.74" fill="rgb(146,146,190)" opacity="0.6"/>
<circle cx="101.1" cy="170.6" r="0.87" fill="rgb(146,146,190)" opacity="0.6"/>
<circle cx="127.7" cy="181.7" r="0.72" fill="rgb(146,146,190)" opacity="0.6"/>
<circle cx="139.8" cy="148.9" r="0.66" fill="rgb(146,146,190)" opacity="0.6"/>
<circle cx="165.8" cy="176.8" r="0.55" fill="rgb(146,146,190)" opacity="0.6"/>
<circle cx="128.7" cy="169.5" r="0.60" fill="rgb(146,146,190)" opacity="0.6"/>
<circle cx="139.4" cy="174.4" r="0.46" fill="rgb(146,146,190)" opacity="0.6"/>
<circle cx="110.0" cy="175.8" r="0.55" fill="rgb(146,146,190)" opacity="0.6"/>
<circle cx="98.0" cy="181.7" r="0.60" fill="rgb(146,146,190)" opacity="0.6"/>
<circle cx="170.5" cy="170.4" r="0.50" fill="rgb(146,146,190)" opacity="0.6"/>
<circle cx="144.2" cy="153.8" r="0.82" fill="rgb(146,146,190)" opacity="0.6"/>
<circle cx="151.4" cy="181.5" r="0.48" fill="rgb(146,146,190)" opacity="0.6"/>
<circle cx="94.8" cy="183.7" r="0.51" fill="rgb(146,146,190)" opacity="0.6"/>
<circle cx="108.5" cy="140.9" r="0.52" fill="rgb(146,146,190)" opacity="0.6"/>
<circle cx="130.8" cy="192.7" r="0.59" fill="rgb(146,146,190)" opacity="0.6"/>
<circle cx="113.3" cy="185.4" r="0.53" fill="rgb(146,146,190)" opacity="0.6"/>
<circle cx="144.1" cy="173.5" r="0.87" fill="rgb(146,146,190)" opacity="0.6"/>
<circle cx="95.6" cy="170.6" r="0.62" fill="rgb(146,146,190)" opacity="0.6"/>
<circle cx="159.5" cy="153.3" r="0.77" fill="rgb(146,146,190)" opacity="0.6"/>
<circle cx="107.2" cy="166.8" r="0.89" fill="rgb(146,146,190)" opacity="0.6"/>
<circle cx="111.7" cy="154.8" r="0.86" fill="rgb(146,146,190)" opacity="0.6"/>
<circle cx="147.3" cy="142.9" r="0.53" fill="rgb(146,146,190)" opacity="0.6"/>
<circle cx="111.4" cy="155.4" r="0.83" fill="rgb(146,146,190)" opacity="0.6"/>
<circle cx="149.4" cy="193.9" r="0.75" fill="rgb(146,146,190)" opacity="0.6"/>
<circle cx="143.5" cy="160.6" r="0.77" fill="rgb(146,146,190)" opacity="0.6"/>
<circle cx="132.5" cy="142.5" r="0.67" fill="rgb(146,146,190)" opacity="0.6"/>
<circle cx="123.5" cy="168.8" r="0.47" fill="rgb(146,146,190)" opacity="0.6"/>
<circle cx="94.3" cy="194.0" r="0.62" fill="rgb(146,146,190)" opacity="0.6"/>
<circle cx="119.1" cy="147.5" r="0.72" fill="rgb(146,146,190)" opacity="0.6"/>
<circle cx="167.0" cy="149.3" r="0.68" fill="rgb(146,146,190)" opacity="0.6"/>
<circle cx="133.0" cy="181.9" r="0.70" fill="rgb(146,146,190)" opacity="0.6"/>
<circle cx="111.6" cy="149.8" r="0.78" fill="rgb(146,146,190)" opacity="0.6"/>
<circle cx="172.3" cy="156.9" r="0.41" fill="rgb(114,73,56)" opacity="0.66"/>
<circle cx="131.7" cy="146.1" r="0.50" fill="rgb(114,73,56)" opacity="0.58"/>
<circle cx="90.4" cy="149.7" r="0.35" fill="rgb(114,73,56)" opacity="0.81"/>
<circle cx="136.2" cy="152.7" r="0.42" fill="rgb(114,73,56)" opacity="0.59"/>
<circle cx="135.3" cy="141.7" r="0.50" fill="rgb(114,73,56)" opacity="0.98"/>
<circle cx="142.8" cy="152.4" r="0.30" fill="rgb(114,73,56)" opacity="0.73"/>
<circle cx="142.2" cy="151.9" r="0.46" fill="rgb(114,73,56)" opacity="0.93"/>
<circle cx="125.2" cy="153.3" r="0.49" fill="rgb(114,73,56)" opacity="0.51"/>
<circle cx="149.1" cy="148.6" r="0.34" fill="rgb(114,73,56)" opacity="0.53"/>
<circle cx="121.2" cy="151.1" r="0.48" fill="rgb(114,73,56)" opacity="0.91"/>
<circle cx="150.3" cy="146.7" r="0.50" fill="rgb(114,73,56)" opacity="0.86"/>
<circle cx="154.8" cy="147.4" r="0.47" fill="rgb(114,73,56)" opacity="0.93"/>
<circle cx="145.5" cy="150.6" r="0.38" fill="rgb(114,73,56)" opacity="0.89"/>
<circle cx="115.7" cy="147.5" r="0.29" fill="rgb(114,73,56)" opacity="0.74"/>
<circle cx="142.9" cy="160.4" r="0.45" fill="rgb(114,73,56)" opacity="0.76"/>
<circle cx="144.4" cy="152.6" r="0.48" fill="rgb(114,73,56)" opacity="0.84"/>
<circle cx="113.9" cy="150.4" r="0.38" fill="rgb(114,73,56)" opacity="0.73"/>
<circle cx="91.6" cy="151.3" r="0.41" fill="rgb(114,73,56)" opacity="0.96"/>
<circle cx="108.8" cy="151.5" r="0.44" fill="rgb(114,73,56)" opacity="0.68"/>
<circle cx="140.1" cy="151.6" r="0.41" fill="rgb(114,73,56)" opacity="0.54"/>
<circle cx="121.3" cy="148.7" r="0.34" fill="rgb(114,73,56)" opacity="0.71"/>
<circle cx="101.8" cy="146.6" r="0.43" fill="rgb(114,73,56)" opacity="0.65"/>
<circle cx="154.1" cy="149.6" r="0.36" fill="rgb(114,73,56)" opacity="0.51"/>
<circle cx="152.9" cy="147.9" r="0.33" fill="rgb(114,73,56)" opacity="0.57"/>
<circle cx="146.3" cy="149.0" r="0.31" fill="rgb(114,73,56)" opacity="0.84"/>
<circle cx="138.6" cy="156.9" r="0.48" fill="rgb(114,73,56)" opacity="0.53"/>
<circle cx="109.3" cy="156.7" r="0.33" fill="rgb(114,73,56)" opacity="0.89"/>
<circle cx="137.9" cy="152.5" r="0.49" fill="rgb(114,73,56)" opacity="0.74"/>
<circle cx="131.0" cy="154.1" r="0.35" fill="rgb(114,73,56)" opacity="0.52"/>
<circle cx="112.4" cy="148.2" r="0.38" fill="rgb(114,73,56)" opacity="0.96"/>
<circle cx="117.3" cy="143.0" r="0.31" fill="rgb(114,73,56)" opacity="0.96"/>
<circle cx="163.2" cy="149.4" r="0.39" fill="rgb(114,73,56)" opacity="0.86"/>
<circle cx="158.8" cy="143.3" r="0.30" fill="rgb(114,73,56)" opacity="0.75"/>
<circle cx="151.4" cy="156.4" r="0.59" fill="rgb(114,73,56)" opacity="0.93"/>
<circle cx="130.3" cy="143.6" r="0.39" fill="rgb(114,73,56)" opacity="0.58"/>
<circle cx="131.5" cy="143.2" r="0.39" fill="rgb(114,73,56)" opacity="0.71"/>
<circle cx="179.6" cy="146.6" r="0.43" fill="rgb(114,73,56)" opacity="0.56"/>
<circle cx="144.5" cy="153.3" r="0.55" fill="rgb(114,73,56)" opacity="0.75"/>
<circle cx="176.0" cy="150.4" r="0.40" fill="rgb(114,73,56)" opacity="0.59"/>
<circle cx="163.9" cy="150.5" r="0.33" fill="rgb(114,73,56)" opacity="0.85"/>
<circle cx="145.8" cy="154.4" r="0.53" fill="rgb(114,73,56)" opacity="0.80"/>
<circle cx="176.3" cy="142.4" r="0.42" fill="rgb(114,73,56)" opacity="0.82"/>
<circle cx="133.5" cy="151.0" r="0.40" fill="rgb(114,73,56)" opacity="0.82"/>
<circle cx="120.2" cy="155.3" r="0.56" fill="rgb(114,73,56)" opacity="0.90"/>
<circle cx="117.8" cy="155.1" r="0.41" fill="rgb(114,73,56)" opacity="0.82"/>
<circle cx="132.8" cy="155.9" r="0.32" fill="rgb(114,73,56)" opacity="0.90"/>
<circle cx="176.3" cy="139.6" r="0.41" fill="rgb(114,73,56)" opacity="0.56"/>
<circle cx="153.5" cy="157.1" r="0.57" fill="rgb(114,73,56)" opacity="0.54"/>
<circle cx="127.8" cy="151.1" r="0.36" fill="rgb(114,73,56)" opacity="0.94"/>
<circle cx="117.3" cy="156.1" r="0.35" fill="rgb(114,73,56)" opacity="0.65"/>
<circle cx="112.3" cy="150.6" r="0.52" fill="rgb(114,73,56)" opacity="0.52"/>
<circle cx="106.4" cy="144.8" r="0.39" fill="rgb(114,73,56)" opacity="0.60"/>
<circle cx="153.9" cy="152.1" r="0.54" fill="rgb(114,73,56)" opacity="0.80"/>
<circle cx="158.1" cy="152.1" r="0.48" fill="rgb(114,73,56)" opacity="0.66"/>
<circle cx="129.1" cy="150.6" r="0.40" fill="rgb(114,73,56)" opacity="0.99"/>
<circle cx="100.0" cy="160.3" r="0.56" fill="rgb(114,73,56)" opacity="0.79"/>
<circle cx="98.4" cy="154.5" r="0.32" fill="rgb(114,73,56)" opacity="0.78"/>
<circle cx="141.3" cy="152.9" r="0.42" fill="rgb(114,73,56)" opacity="0.58"/>
<circle cx="175.5" cy="156.2" r="0.57" fill="rgb(114,73,56)" opacity="0.98"/>
<circle cx="134.6" cy="144.5" r="0.44" fill="rgb(114,73,56)" opacity="0.89"/>
<circle cx="89.2" cy="152.8" r="0.46" fill="rgb(114,73,56)" opacity="0.71"/>
<circle cx="96.9" cy="150.8" r="0.51" fill="rgb(114,73,56)" opacity="0.78"/>
<circle cx="136.2" cy="141.0" r="0.32" fill="rgb(114,73,56)" opacity="0.57"/>
<circle cx="146.0" cy="152.5" r="0.59" fill="rgb(114,73,56)" opacity="0.65"/>
<circle cx="139.6" cy="154.6" r="0.47" fill="rgb(114,73,56)" opacity="0.64"/>
<circle cx="136.7" cy="147.2" r="0.56" fill="rgb(114,73,56)" opacity="0.90"/>
<circle cx="151.0" cy="148.2" r="0.32" fill="rgb(114,73,56)" opacity="0.94"/>
<circle cx="149.4" cy="153.3" r="0.53" fill="rgb(114,73,56)" opacity="0.80"/>
<circle cx="150.0" cy="144.7" r="0.45" fill="rgb(114,73,56)" opacity="0.60"/>
<circle cx="115.8" cy="152.5" r="0.50" fill="rgb(114,73,56)" opacity="0.55"/>
<circle cx="148.0" cy="155.0" r="0.46" fill="rgb(114,73,56)" opacity="0.79"/>
<circle cx="200.7" cy="151.9" r="0.55" fill="rgb(114,73,56)" opacity="0.69"/>
<circle cx="144.6" cy="160.7" r="0.60" fill="rgb(114,73,56)" opacity="0.59"/>
<circle cx="134.6" cy="142.5" r="0.58" fill="rgb(114,73,56)" opacity="0.60"/>
<circle cx="111.9" cy="151.2" r="0.36" fill="rgb(114,73,56)" opacity="0.95"/>
<circle cx="155.0" cy="148.6" r="0.33" fill="rgb(114,73,56)" opacity="0.68"/>
<circle cx="110.4" cy="153.5" r="0.52" fill="rgb(114,73,56)" opacity="0.89"/>
<circle cx="109.6" cy="153.7" r="0.44" fill="rgb(114,73,56)" opacity="0.69"/>
<circle cx="119.5" cy="150.1" r="0.51" fill="rgb(114,73,56)" opacity="0.66"/>
<circle cx="121.3" cy="150.5" r="0.30" fill="rgb(114,73,56)" opacity="0.69"/>
<circle cx="156.0" cy="147.6" r="0.31" fill="rgb(114,73,56)" opacity="0.71"/>
<circle cx="173.9" cy="148.2" r="0.30" fill="rgb(114,73,56)" opacity="0.66"/>
<circle cx="143.5" cy="151.6" r="0.33" fill="rgb(114,73,56)" opacity="0.80"/>
<circle cx="145.0" cy="147.5" r="0.34" fill="rgb(114,73,56)" opacity="0.55"/>
<circle cx="110.6" cy="157.4" r="0.36" fill="rgb(114,73,56)" opacity="0.86"/>
<circle cx="135.4" cy="149.6" r="0.35" fill="rgb(114,73,56)" opacity="0.66"/>
<circle cx="129.2" cy="153.2" r="0.38" fill="rgb(114,73,56)" opacity="0.73"/>
<circle cx="117.1" cy="156.0" r="0.54" fill="rgb(114,73,56)" opacity="0.63"/>
<circle cx="117.9" cy="137.8" r="0.48" fill="rgb(114,73,56)" opacity="0.98"/>
<circle cx="146.0" cy="150.4" r="0.60" fill="rgb(114,73,56)" opacity="0.60"/>
<circle cx="156.8" cy="144.1" r="0.38" fill="rgb(114,73,56)" opacity="0.72"/>
<circle cx="151.4" cy="145.3" r="0.35" fill="rgb(114,73,56)" opacity="0.95"/>
<circle cx="131.4" cy="140.3" r="0.30" fill="rgb(114,73,56)" opacity="0.64"/>
<circle cx="126.7" cy="156.6" r="0.59" fill="rgb(114,73,56)" opacity="0.80"/>
<circle cx="180.7" cy="148.4" r="0.37" fill="rgb(114,73,56)" opacity="0.87"/>
<circle cx="124.1" cy="154.6" r="0.31" fill="rgb(114,73,56)" opacity="0.53"/>
<circle cx="175.3" cy="152.5" r="0.41" fill="rgb(114,73,56)" opacity="0.78"/>
<circle cx="131.9" cy="152.5" r="0.50" fill="rgb(114,73,56)" opacity="0.67"/>
<circle cx="146.0" cy="155.6" r="0.37" fill="rgb(114,73,56)" opacity="0.53"/>
<circle cx="127.4" cy="155.6" r="0.32" fill="rgb(114,73,56)" opacity="0.51"/>
<circle cx="134.3" cy="149.9" r="0.57" fill="rgb(114,73,56)" opacity="0.68"/>
<circle cx="106.7" cy="153.7" r="0.30" fill="rgb(114,73,56)" opacity="0.55"/>
<circle cx="119.6" cy="155.8" r="0.44" fill="rgb(114,73,56)" opacity="0.67"/>
<circle cx="133.2" cy="145.7" r="0.54" fill="rgb(114,73,56)" opacity="0.92"/>
<circle cx="177.1" cy="138.7" r="0.50" fill="rgb(114,73,56)" opacity="0.73"/>
<circle cx="103.5" cy="150.2" r="0.45" fill="rgb(114,73,56)" opacity="0.91"/>
<circle cx="128.2" cy="148.2" r="0.53" fill="rgb(114,73,56)" opacity="0.81"/>
<circle cx="92.1" cy="145.3" r="0.30" fill="rgb(114,73,56)" opacity="0.74"/>
<circle cx="110.8" cy="152.6" r="0.34" fill="rgb(114,73,56)" opacity="0.78"/>
<circle cx="156.7" cy="158.1" r="0.44" fill="rgb(114,73,56)" opacity="0.87"/>
<circle cx="152.4" cy="154.6" r="0.29" fill="rgb(114,73,56)" opacity="0.61"/>
<circle cx="128.1" cy="141.5" r="0.53" fill="rgb(114,73,56)" opacity="0.64"/>
<circle cx="129.6" cy="151.4" r="0.52" fill="rgb(114,73,56)" opacity="0.53"/>
<circle cx="158.8" cy="149.2" r="0.30" fill="rgb(114,73,56)" opacity="0.74"/>
<circle cx="96.1" cy="153.1" r="0.57" fill="rgb(114,73,56)" opacity="0.97"/>
<circle cx="150.7" cy="155.4" r="0.37" fill="rgb(114,73,56)" opacity="0.84"/>
<circle cx="174.5" cy="157.1" r="0.42" fill="rgb(114,73,56)" opacity="0.74"/>
<circle cx="104.6" cy="154.2" r="0.58" fill="rgb(114,73,56)" opacity="0.97"/>
<circle cx="92.0" cy="152.0" r="0.36" fill="rgb(114,73,56)" opacity="0.62"/>
<circle cx="101.1" cy="153.4" r="0.48" fill="rgb(114,73,56)" opacity="0.67"/>
<circle cx="136.8" cy="143.6" r="0.29" fill="rgb(114,73,56)" opacity="0.55"/>
<circle cx="142.4" cy="159.4" r="0.55" fill="rgb(114,73,56)" opacity="0.52"/>
<circle cx="141.3" cy="155.1" r="0.54" fill="rgb(114,73,56)" opacity="0.95"/>
<circle cx="132.1" cy="153.9" r="0.59" fill="rgb(114,73,56)" opacity="0.99"/>
<circle cx="148.7" cy="146.5" r="0.52" fill="rgb(114,73,56)" opacity="0.88"/>
<circle cx="114.8" cy="151.4" r="0.45" fill="rgb(114,73,56)" opacity="0.83"/>
<circle cx="149.8" cy="148.0" r="0.33" fill="rgb(114,73,56)" opacity="0.99"/>
<circle cx="137.0" cy="155.0" r="0.59" fill="rgb(114,73,56)" opacity="0.98"/>
<circle cx="149.9" cy="152.9" r="0.56" fill="rgb(114,73,56)" opacity="0.91"/>
<circle cx="124.8" cy="150.8" r="0.52" fill="rgb(114,73,56)" opacity="0.92"/>
<circle cx="143.3" cy="158.0" r="0.31" fill="rgb(114,73,56)" opacity="0.87"/>
<circle cx="84.5" cy="152.4" r="0.60" fill="rgb(114,73,56)" opacity="0.72"/>
<circle cx="110.3" cy="148.6" r="0.51" fill="rgb(114,73,56)" opacity="0.68"/>
<circle cx="127.5" cy="150.2" r="0.57" fill="rgb(114,73,56)" opacity="0.86"/>
<circle cx="110.8" cy="149.8" r="0.35" fill="rgb(114,73,56)" opacity="0.73"/>
<circle cx="120.8" cy="145.9" r="0.32" fill="rgb(114,73,56)" opacity="0.50"/>
<circle cx="120.8" cy="150.1" r="0.36" fill="rgb(114,73,56)" opacity="0.61"/>
<circle cx="102.5" cy="155.5" r="0.58" fill="rgb(114,73,56)" opacity="0.84"/>
<circle cx="159.3" cy="147.7" r="0.48" fill="rgb(114,73,56)" opacity="0.87"/>
<circle cx="116.8" cy="148.6" r="0.40" fill="rgb(114,73,56)" opacity="0.54"/>
<circle cx="144.1" cy="150.2" r="0.50" fill="rgb(114,73,56)" opacity="0.96"/>
<circle cx="117.5" cy="145.7" r="0.54" fill="rgb(114,73,56)" opacity="0.98"/>
<circle cx="109.8" cy="153.0" r="0.43" fill="rgb(114,73,56)" opacity="0.51"/>
<circle cx="108.3" cy="146.9" r="0.56" fill="rgb(114,73,56)" opacity="0.81"/>
<circle cx="128.8" cy="155.7" r="0.55" fill="rgb(114,73,56)" opacity="0.81"/>
<circle cx="163.7" cy="151.0" r="0.56" fill="rgb(114,73,56)" opacity="0.89"/>
<circle cx="118.4" cy="140.8" r="0.57" fill="rgb(114,73,56)" opacity="0.70"/>
<circle cx="153.3" cy="151.9" r="0.40" fill="rgb(114,73,56)" opacity="1.00"/>
<circle cx="155.6" cy="145.6" r="0.51" fill="rgb(114,73,56)" opacity="0.55"/>
<circle cx="125.1" cy="156.3" r="0.33" fill="rgb(114,73,56)" opacity="0.80"/>
<circle cx="127.9" cy="142.9" r="0.40" fill="rgb(114,73,56)" opacity="0.99"/>
<circle cx="142.5" cy="157.3" r="0.36" fill="rgb(114,73,56)" opacity="0.51"/>
<circle cx="179.4" cy="151.9" r="0.38" fill="rgb(114,73,56)" opacity="0.74"/>
<circle cx="115.1" cy="151.0" r="0.46" fill="rgb(114,73,56)" opacity="0.53"/>
<circle cx="176.2" cy="152.5" r="0.55" fill="rgb(114,73,56)" opacity="0.89"/>
<circle cx="123.6" cy="145.2" r="0.56" fill="rgb(114,73,56)" opacity="0.87"/>
<circle cx="148.2" cy="155.8" r="0.52" fill="rgb(114,73,56)" opacity="0.92"/>
<circle cx="172.6" cy="151.0" r="0.34" fill="rgb(114,73,56)" opacity="0.78"/>
<circle cx="133.1" cy="148.4" r="0.33" fill="rgb(114,73,56)" opacity="0.98"/>
<circle cx="114.9" cy="151.3" r="0.60" fill="rgb(114,73,56)" opacity="0.69"/>
<circle cx="121.2" cy="158.6" r="0.37" fill="rgb(114,73,56)" opacity="0.61"/>
<circle cx="122.8" cy="158.0" r="0.39" fill="rgb(114,73,56)" opacity="0.83"/>
<circle cx="179.0" cy="137.6" r="0.57" fill="rgb(114,73,56)" opacity="0.96"/>
<circle cx="132.2" cy="160.8" r="0.32" fill="rgb(114,73,56)" opacity="0.79"/>
<circle cx="128.5" cy="148.9" r="0.59" fill="rgb(114,73,56)" opacity="0.56"/>
<circle cx="127.2" cy="145.7" r="0.29" fill="rgb(114,73,56)" opacity="0.90"/>
<circle cx="116.3" cy="151.2" r="0.55" fill="rgb(114,73,56)" opacity="0.75"/>
<circle cx="127.8" cy="152.0" r="0.51" fill="rgb(114,73,56)" opacity="0.52"/>
<circle cx="150.1" cy="151.1" r="0.50" fill="rgb(114,73,56)" opacity="0.56"/>
<circle cx="126.5" cy="144.0" r="0.39" fill="rgb(114,73,56)" opacity="0.89"/>
<circle cx="126.2" cy="149.5" r="0.45" fill="rgb(114,73,56)" opacity="0.64"/>
<circle cx="121.9" cy="161.7" r="0.40" fill="rgb(114,73,56)" opacity="0.89"/>
<circle cx="95.8" cy="153.2" r="0.29" fill="rgb(114,73,56)" opacity="0.98"/>
<circle cx="133.7" cy="137.6" r="0.47" fill="rgb(114,73,56)" opacity="0.53"/>
<circle cx="173.7" cy="156.7" r="0.48" fill="rgb(114,73,56)" opacity="0.81"/>
<circle cx="151.5" cy="150.5" r="0.36" fill="rgb(114,73,56)" opacity="0.61"/>
<circle cx="96.9" cy="167.3" r="0.35" fill="rgb(114,73,56)" opacity="0.65"/>
<circle cx="106.7" cy="166.3" r="0.46" fill="rgb(114,73,56)" opacity="0.54"/>
<circle cx="91.1" cy="172.7" r="0.49" fill="rgb(114,73,56)" opacity="0.81"/>
<circle cx="97.6" cy="162.4" r="0.52" fill="rgb(114,73,56)" opacity="0.53"/>
<circle cx="94.1" cy="164.6" r="0.42" fill="rgb(114,73,56)" opacity="0.91"/>
<circle cx="98.7" cy="168.3" r="0.62" fill="rgb(114,73,56)" opacity="0.50"/>
<circle cx="97.7" cy="162.4" r="0.59" fill="rgb(114,73,56)" opacity="0.97"/>
<circle cx="97.6" cy="161.1" r="0.40" fill="rgb(114,73,56)" opacity="0.74"/>
<circle cx="95.2" cy="158.3" r="0.36" fill="rgb(114,73,56)" opacity="0.85"/>
<circle cx="97.4" cy="164.7" r="0.37" fill="rgb(114,73,56)" opacity="0.97"/>
<circle cx="106.3" cy="170.9" r="0.47" fill="rgb(114,73,56)" opacity="0.99"/>
<circle cx="101.7" cy="170.1" r="0.67" fill="rgb(114,73,56)" opacity="0.60"/>
<circle cx="98.1" cy="163.7" r="0.36" fill="rgb(114,73,56)" opacity="0.90"/>
<circle cx="94.9" cy="160.9" r="0.37" fill="rgb(114,73,56)" opacity="0.82"/>
<circle cx="94.8" cy="164.8" r="0.54" fill="rgb(114,73,56)" opacity="0.82"/>
<circle cx="101.0" cy="156.3" r="0.38" fill="rgb(114,73,56)" opacity="0.65"/>
<circle cx="96.6" cy="172.9" r="0.34" fill="rgb(114,73,56)" opacity="0.93"/>
<circle cx="95.5" cy="156.8" r="0.51" fill="rgb(114,73,56)" opacity="0.96"/>
<circle cx="105.5" cy="162.7" r="0.62" fill="rgb(114,73,56)" opacity="0.61"/>
<circle cx="97.8" cy="165.2" r="0.61" fill="rgb(114,73,56)" opacity="0.74"/>
<circle cx="98.9" cy="160.9" r="0.49" fill="rgb(114,73,56)" opacity="0.93"/>
<circle cx="105.3" cy="162.6" r="0.65" fill="rgb(114,73,56)" opacity="0.96"/>
<circle cx="97.8" cy="162.8" r="0.35" fill="rgb(114,73,56)" opacity="0.84"/>
<circle cx="103.2" cy="162.5" r="0.38" fill="rgb(114,73,56)" opacity="0.78"/>
<circle cx="108.1" cy="159.7" r="0.36" fill="rgb(114,73,56)" opacity="0.71"/>
<circle cx="101.3" cy="157.5" r="0.64" fill="rgb(114,73,56)" opacity="0.73"/>
<circle cx="98.7" cy="165.0" r="0.61" fill="rgb(114,73,56)" opacity="0.78"/>
<circle cx="96.6" cy="165.3" r="0.50" fill="rgb(114,73,56)" opacity="0.53"/>
<circle cx="92.2" cy="172.3" r="0.48" fill="rgb(114,73,56)" opacity="0.57"/>
<circle cx="101.2" cy="158.7" r="0.64" fill="rgb(114,73,56)" opacity="0.78"/>
<circle cx="97.3" cy="164.6" r="0.63" fill="rgb(114,73,56)" opacity="0.79"/>
<circle cx="95.0" cy="159.1" r="0.35" fill="rgb(114,73,56)" opacity="0.60"/>
<circle cx="96.9" cy="164.2" r="0.67" fill="rgb(114,73,56)" opacity="0.80"/>
<circle cx="98.5" cy="165.3" r="0.53" fill="rgb(114,73,56)" opacity="0.70"/>
<circle cx="96.5" cy="156.0" r="0.40" fill="rgb(114,73,56)" opacity="0.51"/>
<circle cx="105.9" cy="165.4" r="0.64" fill="rgb(114,73,56)" opacity="0.58"/>
<circle cx="106.5" cy="173.6" r="0.42" fill="rgb(114,73,56)" opacity="0.81"/>
<circle cx="104.3" cy="160.2" r="0.43" fill="rgb(114,73,56)" opacity="0.80"/>
<circle cx="96.7" cy="166.1" r="0.42" fill="rgb(114,73,56)" opacity="0.93"/>
<circle cx="94.8" cy="155.8" r="0.45" fill="rgb(114,73,56)" opacity="0.98"/>
<circle cx="112.1" cy="160.3" r="0.30" fill="rgb(146,102,82)" opacity="0.89"/>
<circle cx="150.7" cy="167.4" r="0.32" fill="rgb(146,102,82)" opacity="0.60"/>
<circle cx="139.4" cy="166.3" r="0.39" fill="rgb(146,102,82)" opacity="0.59"/>
<circle cx="108.7" cy="154.2" r="0.42" fill="rgb(146,102,82)" opacity="0.74"/>
<circle cx="172.2" cy="172.7" r="0.37" fill="rgb(146,102,82)" opacity="0.84"/>
<circle cx="143.1" cy="178.8" r="0.41" fill="rgb(146,102,82)" opacity="0.99"/>
<circle cx="127.7" cy="171.5" r="0.45" fill="rgb(146,102,82)" opacity="0.64"/>
<circle cx="111.7" cy="171.1" r="0.45" fill="rgb(146,102,82)" opacity="0.86"/>
<circle cx="175.3" cy="144.9" r="0.51" fill="rgb(146,102,82)" opacity="0.75"/>
<circle cx="173.0" cy="163.6" r="0.35" fill="rgb(146,102,82)" opacity="0.54"/>
<circle cx="107.8" cy="155.7" r="0.44" fill="rgb(146,102,82)" opacity="0.81"/>
<circle cx="139.3" cy="154.3" r="0.45" fill="rgb(146,102,82)" opacity="0.80"/>
<circle cx="112.2" cy="159.6" r="0.43" fill="rgb(146,102,82)" opacity="0.78"/>
<circle cx="169.2" cy="171.5" r="0.44" fill="rgb(146,102,82)" opacity="0.71"/>
<circle cx="130.9" cy="157.2" r="0.29" fill="rgb(146,102,82)" opacity="0.76"/>
<circle cx="122.2" cy="168.4" r="0.49" fill="rgb(146,102,82)" opacity="0.59"/>
<circle cx="81.9" cy="170.4" r="0.39" fill="rgb(146,102,82)" opacity="1.00"/>
<circle cx="181.2" cy="173.7" r="0.25" fill="rgb(146,102,82)" opacity="0.99"/>
<circle cx="105.7" cy="155.8" r="0.42" fill="rgb(146,102,82)" opacity="0.73"/>
<circle cx="146.9" cy="171.5" r="0.37" fill="rgb(146,102,82)" opacity="0.93"/>
<circle cx="114.5" cy="163.0" r="0.37" fill="rgb(146,102,82)" opacity="0.78"/>
<circle cx="143.2" cy="151.9" r="0.33" fill="rgb(146,102,82)" opacity="0.98"/>
<circle cx="184.6" cy="148.6" r="0.40" fill="rgb(146,102,82)" opacity="0.93"/>
<circle cx="172.7" cy="167.9" r="0.38" fill="rgb(146,102,82)" opacity="0.64"/>
<circle cx="114.3" cy="161.4" r="0.37" fill="rgb(146,102,82)" opacity="0.71"/>
<circle cx="114.7" cy="159.6" r="0.41" fill="rgb(146,102,82)" opacity="0.74"/>
<circle cx="139.9" cy="163.1" r="0.31" fill="rgb(146,102,82)" opacity="0.99"/>
<circle cx="108.2" cy="161.6" r="0.32" fill="rgb(146,102,82)" opacity="0.86"/>
<circle cx="171.1" cy="174.4" r="0.32" fill="rgb(146,102,82)" opacity="0.93"/>
<circle cx="127.7" cy="182.7" r="0.37" fill="rgb(146,102,82)" opacity="0.70"/>
<circle cx="127.5" cy="171.9" r="0.40" fill="rgb(146,102,82)" opacity="0.78"/>
<circle cx="178.0" cy="159.3" r="0.27" fill="rgb(146,102,82)" opacity="0.99"/>
<circle cx="174.3" cy="141.6" r="0.47" fill="rgb(146,102,82)" opacity="0.64"/>
<circle cx="150.6" cy="165.1" r="0.38" fill="rgb(146,102,82)" opacity="0.92"/>
<circle cx="106.7" cy="155.6" r="0.25" fill="rgb(146,102,82)" opacity="0.53"/>
<circle cx="119.7" cy="173.9" r="0.51" fill="rgb(146,102,82)" opacity="0.82"/>
<circle cx="114.6" cy="159.4" r="0.49" fill="rgb(146,102,82)" opacity="0.84"/>
<circle cx="134.7" cy="173.0" r="0.38" fill="rgb(146,102,82)" opacity="0.55"/>
<circle cx="130.7" cy="156.7" r="0.30" fill="rgb(146,102,82)" opacity="0.75"/>
<circle cx="140.8" cy="157.0" r="0.41" fill="rgb(146,102,82)" opacity="0.55"/>
<circle cx="82.2" cy="172.2" r="0.38" fill="rgb(146,102,82)" opacity="0.84"/>
<circle cx="139.2" cy="178.1" r="0.41" fill="rgb(146,102,82)" opacity="0.88"/>
<circle cx="105.7" cy="156.7" r="0.52" fill="rgb(146,102,82)" opacity="0.73"/>
<circle cx="115.1" cy="163.6" r="0.27" fill="rgb(146,102,82)" opacity="0.82"/>
<circle cx="113.4" cy="162.0" r="0.27" fill="rgb(146,102,82)" opacity="0.77"/>
<circle cx="140.5" cy="170.9" r="0.45" fill="rgb(146,102,82)" opacity="0.72"/>
<circle cx="186.9" cy="151.1" r="0.52" fill="rgb(146,102,82)" opacity="0.81"/>
<circle cx="99.4" cy="167.9" r="0.44" fill="rgb(146,102,82)" opacity="0.92"/>
<circle cx="114.0" cy="159.4" r="0.46" fill="rgb(146,102,82)" opacity="0.55"/>
<circle cx="156.6" cy="172.0" r="0.30" fill="rgb(146,102,82)" opacity="0.78"/>
<circle cx="138.4" cy="169.2" r="0.36" fill="rgb(146,102,82)" opacity="0.91"/>
<circle cx="162.6" cy="160.5" r="0.46" fill="rgb(146,102,82)" opacity="0.75"/>
<circle cx="172.6" cy="173.9" r="0.43" fill="rgb(146,102,82)" opacity="0.96"/>
<circle cx="123.5" cy="156.5" r="0.39" fill="rgb(146,102,82)" opacity="0.68"/>
<circle cx="127.1" cy="174.4" r="0.25" fill="rgb(146,102,82)" opacity="0.74"/>
<circle cx="116.9" cy="163.6" r="0.45" fill="rgb(146,102,82)" opacity="0.63"/>
<circle cx="172.8" cy="142.2" r="0.41" fill="rgb(146,102,82)" opacity="0.72"/>
<circle cx="120.8" cy="155.0" r="0.46" fill="rgb(146,102,82)" opacity="0.78"/>
<circle cx="107.2" cy="156.5" r="0.32" fill="rgb(146,102,82)" opacity="0.65"/>
<circle cx="164.1" cy="160.6" r="0.45" fill="rgb(146,102,82)" opacity="0.58"/>
<circle cx="112.9" cy="160.5" r="0.31" fill="rgb(146,102,82)" opacity="0.56"/>
<circle cx="194.8" cy="167.1" r="0.51" fill="rgb(146,102,82)" opacity="0.68"/>
<circle cx="131.6" cy="157.7" r="0.43" fill="rgb(146,102,82)" opacity="0.52"/>
<circle cx="134.1" cy="160.5" r="0.31" fill="rgb(146,102,82)" opacity="0.89"/>
<circle cx="82.2" cy="170.2" r="0.38" fill="rgb(146,102,82)" opacity="0.90"/>
<circle cx="105.1" cy="157.1" r="0.30" fill="rgb(146,102,82)" opacity="0.53"/>
<circle cx="105.0" cy="158.4" r="0.41" fill="rgb(146,102,82)" opacity="0.73"/>
<circle cx="108.7" cy="155.0" r="0.42" fill="rgb(146,102,82)" opacity="0.71"/>
<circle cx="114.1" cy="160.2" r="0.49" fill="rgb(146,102,82)" opacity="0.99"/>
<circle cx="156.2" cy="149.9" r="0.43" fill="rgb(146,102,82)" opacity="0.78"/>
<circle cx="185.6" cy="150.0" r="0.43" fill="rgb(146,102,82)" opacity="0.62"/>
<circle cx="105.4" cy="156.4" r="0.41" fill="rgb(146,102,82)" opacity="0.71"/>
<circle cx="134.7" cy="183.1" r="0.44" fill="rgb(114,73,56)" opacity="0.99"/>
<circle cx="107.6" cy="182.1" r="0.42" fill="rgb(114,73,56)" opacity="0.66"/>
<circle cx="124.8" cy="184.0" r="0.40" fill="rgb(114,73,56)" opacity="0.76"/>
<circle cx="130.6" cy="180.3" r="0.32" fill="rgb(114,73,56)" opacity="0.74"/>
<circle cx="105.9" cy="170.0" r="0.49" fill="rgb(114,73,56)" opacity="0.99"/>
<circle cx="138.1" cy="173.7" r="0.25" fill="rgb(114,73,56)" opacity="0.94"/>
<circle cx="117.3" cy="165.4" r="0.50" fill="rgb(114,73,56)" opacity="0.84"/>
<circle cx="153.8" cy="166.9" r="0.30" fill="rgb(114,73,56)" opacity="0.75"/>
<circle cx="109.6" cy="182.9" r="0.38" fill="rgb(114,73,56)" opacity="0.91"/>
<circle cx="124.1" cy="190.2" r="0.29" fill="rgb(114,73,56)" opacity="0.63"/>
<circle cx="136.2" cy="186.5" r="0.41" fill="rgb(114,73,56)" opacity="0.86"/>
<circle cx="82.4" cy="187.9" r="0.44" fill="rgb(114,73,56)" opacity="0.78"/>
<circle cx="124.7" cy="184.7" r="0.33" fill="rgb(114,73,56)" opacity="0.78"/>
<circle cx="83.2" cy="168.7" r="0.43" fill="rgb(114,73,56)" opacity="0.52"/>
<circle cx="106.8" cy="169.7" r="0.30" fill="rgb(114,73,56)" opacity="0.88"/>
<circle cx="99.5" cy="169.0" r="0.40" fill="rgb(114,73,56)" opacity="0.63"/>
<path d="M90 131 L176 131 L176 141.5 L174.0 141.5 L171.9 141.8 L169.8 142.2 L167.7 142.4 L165.6 142.6 L163.5 142.6 L161.4 142.5 L159.3 142.2 L157.2 141.8 L155.1 141.3 L153.0 140.8 L150.9 140.3 L148.8 139.9 L146.7 139.6 L144.6 139.3 L142.5 139.2 L140.4 139.1 L138.3 139.0 L136.2 139.0 L134.1 139.0 L131.9 139.0 L129.8 139.0 L127.7 139.1 L125.6 139.2 L123.5 139.4 L121.4 139.6 L119.3 139.9 L117.2 140.1 L115.1 140.4 L113.0 140.8 L110.9 141.1 L108.8 141.4 L106.7 141.8 L104.6 142.1 L102.5 142.4 L100.4 142.7 L98.3 143.1 L96.2 143.4 L94.1 143.7 L92.0 144.0 L90 144.0 Z" fill="rgb(214,211,216)"/>
</g>
<rect x="93.5" y="192.0" width="8.5" height="1.1" fill="rgb(120,160,230)"/>
</g>
<rect x="92.68" y="133.68" width="80.65" height="60.65" fill="none" stroke="#303030" stroke-width="1.35"/>
<clipPath id="hc3"><rect x="178" y="133" width="82" height="62"/></clipPath>
<linearGradient id="dg3" x1="0" y1="0" x2="0" y2="1"><stop offset="0" stop-color="rgb(192,188,201)"/><stop offset="0.5" stop-color="rgb(197,192,198)"/><stop offset="0.75" stop-color="rgb(205,201,202)"/><stop offset="1" stop-color="rgb(211,207,205)"/></linearGradient>
<filter id="mf3_0" x="0" y="0" width="100%" height="100%" color-interpolation-filters="sRGB"><feTurbulence type="fractalNoise" baseFrequency="0.6" numOctaves="3" seed="106"/><feColorMatrix type="matrix" values="0 0 0 0 0.660 0 0 0 0 0.653 0 0 0 0 0.749 3.2 0 0 0 -1.5"/></filter>
<filter id="mf3_1" x="0" y="0" width="100%" height="100%" color-interpolation-filters="sRGB"><feTurbulence type="fractalNoise" baseFrequency="0.5" numOctaves="3" seed="203"/><feColorMatrix type="matrix" values="0 0 0 0 0.492 0 0 0 0 0.319 0 0 0 0 0.233 3.2 0 0 0 -1.5"/></filter>
<filter id="mf3_2" x="0" y="0" width="100%" height="100%" color-interpolation-filters="sRGB"><feTurbulence type="fractalNoise" baseFrequency="0.2" numOctaves="3" seed="13"/><feColorMatrix type="matrix" values="0 0 0 0 0.854 0 0 0 0 0.844 0 0 0 0 0.847 2.5 0 0 0 -1.2"/></filter>
<filter id="mf3_3" x="0" y="0" width="100%" height="100%" color-interpolation-filters="sRGB"><feTurbulence type="turbulence" baseFrequency="0.12" numOctaves="2" seed="14"/><feColorMatrix type="matrix" values="0 0 0 0 0.877 0 0 0 0 0.867 0 0 0 0 0.871 -5.0 0 0 0 1.1"/></filter>
<g clip-path="url(#hc3)"><g filter="url(#soft)">
<rect x="178" y="133" width="82" height="62" fill="url(#dg3)"/>
<path d="M178.0 149.5 L180.1 149.5 L182.2 149.5 L184.3 149.5 L186.4 149.4 L188.5 149.4 L190.6 149.2 L192.7 149.0 L194.8 148.7 L196.9 148.4 L199.0 148.0 L201.1 147.6 L203.2 147.1 L205.3 146.7 L207.4 146.3 L209.5 145.9 L211.6 145.6 L213.7 145.3 L215.8 145.1 L217.9 144.9 L220.1 144.7 L222.2 144.6 L224.3 144.5 L226.4 144.4 L228.5 144.4 L230.6 144.4 L232.7 144.4 L234.8 144.5 L236.9 144.5 L239.0 144.6 L241.1 144.7 L243.2 144.8 L245.3 144.9 L247.4 144.9 L249.5 145.0 L251.6 145.1 L253.7 145.1 L255.8 145.2 L257.9 145.2 L260.0 145.3 L260.0 152.0 L257.9 152.0 L255.8 151.9 L253.7 151.9 L251.6 151.9 L249.5 151.8 L247.4 151.8 L245.3 151.8 L243.2 151.7 L241.1 151.7 L239.0 151.7 L236.9 151.7 L234.8 151.7 L232.7 151.7 L230.6 151.7 L228.5 151.8 L226.4 151.8 L224.3 151.8 L222.2 151.9 L220.1 152.0 L217.9 152.0 L215.8 152.1 L213.7 152.2 L211.6 152.3 L209.5 152.5 L207.4 152.6 L205.3 152.7 L203.2 152.9 L201.1 153.0 L199.0 153.2 L196.9 153.3 L194.8 153.5 L192.7 153.7 L190.6 153.9 L188.5 154.1 L186.4 154.2 L184.3 154.4 L182.2 154.6 L180.1 154.8 L178.0 155.0 Z" fill="rgb(186,184,204)" opacity="0.9" filter="url(#soft2)"/>
<clipPath id="tc3"><path d="M176 197 L176.0 149.5 L178.0 149.5 L180.1 149.5 L182.2 149.5 L184.3 149.5 L186.4 149.4 L188.5 149.4 L190.6 149.2 L192.7 149.0 L194.8 148.7 L196.9 148.4 L199.0 148.0 L201.1 147.6 L203.2 147.1 L205.3 146.7 L207.4 146.3 L209.5 145.9 L211.6 145.6 L213.7 145.3 L215.8 145.1 L217.9 144.9 L220.1 144.7 L222.2 144.6 L224.3 144.5 L226.4 144.4 L228.5 144.4 L230.6 144.4 L232.7 144.4 L234.8 144.5 L236.9 144.5 L239.0 144.6 L241.1 144.7 L243.2 144.8 L245.3 144.9 L247.4 144.9 L249.5 145.0 L251.6 145.1 L253.7 145.1 L255.8 145.2 L257.9 145.2 L260.0 145.3 L262.0 145.3 L262 197 Z"/></clipPath>
<linearGradient id="mg3_0" gradientUnits="userSpaceOnUse" x1="0" y1="133" x2="0" y2="195"><stop offset="0.000" stop-color="#fff" stop-opacity="1"/><stop offset="1.000" stop-color="#fff" stop-opacity="1"/></linearGradient>
<mask id="mk3_0" maskUnits="userSpaceOnUse" x="178" y="133" width="82" height="62"><rect x="178" y="133" width="82" height="62" fill="url(#mg3_0)"/></mask>
<g mask="url(#mk3_0)"><rect x="178" y="133" width="82" height="62" filter="url(#mf3_0)" clip-path="url(#tc3)" opacity="0.35"/></g>
<linearGradient id="mg3_1" gradientUnits="userSpaceOnUse" x1="0" y1="133" x2="0" y2="195"><stop offset="0.250" stop-color="#fff" stop-opacity="0"/><stop offset="0.410" stop-color="#fff" stop-opacity="1"/><stop offset="0.620" stop-color="#fff" stop-opacity="1"/><stop offset="0.780" stop-color="#fff" stop-opacity="0"/></linearGradient>
<mask id="mk3_1" maskUnits="userSpaceOnUse" x="178" y="133" width="82" height="62"><rect x="178" y="133" width="82" height="62" fill="url(#mg3_1)"/></mask>
<g mask="url(#mk3_1)"><rect x="178" y="133" width="82" height="62" filter="url(#mf3_1)" clip-path="url(#tc3)" opacity="0.35"/></g>
<linearGradient id="mg3_2" gradientUnits="userSpaceOnUse" x1="0" y1="133" x2="0" y2="195"><stop offset="0.220" stop-color="#fff" stop-opacity="0"/><stop offset="0.380" stop-color="#fff" stop-opacity="1"/><stop offset="1.000" stop-color="#fff" stop-opacity="1"/></linearGradient>
<mask id="mk3_2" maskUnits="userSpaceOnUse" x="178" y="133" width="82" height="62"><rect x="178" y="133" width="82" height="62" fill="url(#mg3_2)"/></mask>
<g mask="url(#mk3_2)"><rect x="178" y="133" width="82" height="62" filter="url(#mf3_2)" clip-path="url(#tc3)" opacity="0.8"/></g>
<linearGradient id="mg3_3" gradientUnits="userSpaceOnUse" x1="0" y1="133" x2="0" y2="195"><stop offset="0.220" stop-color="#fff" stop-opacity="0"/><stop offset="0.380" stop-color="#fff" stop-opacity="1"/><stop offset="0.670" stop-color="#fff" stop-opacity="1"/><stop offset="0.830" stop-color="#fff" stop-opacity="0"/></linearGradient>
<mask id="mk3_3" maskUnits="userSpaceOnUse" x="178" y="133" width="82" height="62"><rect x="178" y="133" width="82" height="62" fill="url(#mg3_3)"/></mask>
<g mask="url(#mk3_3)"><rect x="178" y="133" width="82" height="62" filter="url(#mf3_3)" clip-path="url(#tc3)" opacity="0.6"/></g>
<circle cx="216.6" cy="168.5" r="0.61" fill="rgb(151,151,195)" opacity="0.6"/>
<circle cx="225.6" cy="152.8" r="0.56" fill="rgb(151,151,195)" opacity="0.6"/>
<circle cx="187.7" cy="146.7" r="0.69" fill="rgb(151,151,195)" opacity="0.6"/>
<circle cx="238.5" cy="165.4" r="0.86" fill="rgb(151,151,195)" opacity="0.6"/>
<circle cx="227.9" cy="178.1" r="0.58" fill="rgb(151,151,195)" opacity="0.6"/>
<circle cx="251.7" cy="162.7" r="0.83" fill="rgb(151,151,195)" opacity="0.6"/>
<circle cx="198.0" cy="192.6" r="0.76" fill="rgb(151,151,195)" opacity="0.6"/>
<circle cx="192.6" cy="181.7" r="0.52" fill="rgb(151,151,195)" opacity="0.6"/>
<circle cx="209.6" cy="164.2" r="0.60" fill="rgb(151,151,195)" opacity="0.6"/>
<circle cx="207.7" cy="153.4" r="0.63" fill="rgb(151,151,195)" opacity="0.6"/>
<circle cx="185.7" cy="184.9" r="0.61" fill="rgb(151,151,195)" opacity="0.6"/>
<circle cx="236.4" cy="166.6" r="0.89" fill="rgb(151,151,195)" opacity="0.6"/>
<circle cx="250.1" cy="180.4" r="0.83" fill="rgb(151,151,195)" opacity="0.6"/>
<circle cx="252.9" cy="191.5" r="0.64" fill="rgb(151,151,195)" opacity="0.6"/>
<circle cx="226.6" cy="148.8" r="0.61" fill="rgb(151,151,195)" opacity="0.6"/>
<circle cx="204.9" cy="176.3" r="0.45" fill="rgb(151,151,195)" opacity="0.6"/>
<circle cx="239.8" cy="149.1" r="0.64" fill="rgb(151,151,195)" opacity="0.6"/>
<circle cx="217.8" cy="187.2" r="0.73" fill="rgb(151,151,195)" opacity="0.6"/>
<circle cx="190.1" cy="178.5" r="0.56" fill="rgb(151,151,195)" opacity="0.6"/>
<circle cx="228.6" cy="165.9" r="0.88" fill="rgb(151,151,195)" opacity="0.6"/>
<circle cx="214.8" cy="158.9" r="0.59" fill="rgb(151,151,195)" opacity="0.6"/>
<circle cx="256.5" cy="162.7" r="0.56" fill="rgb(151,151,195)" opacity="0.6"/>
<circle cx="221.9" cy="178.6" r="0.87" fill="rgb(151,151,195)" opacity="0.6"/>
<circle cx="184.5" cy="161.7" r="0.78" fill="rgb(151,151,195)" opacity="0.6"/>
<circle cx="218.6" cy="179.7" r="0.75" fill="rgb(151,151,195)" opacity="0.6"/>
<circle cx="185.6" cy="147.9" r="0.53" fill="rgb(151,151,195)" opacity="0.6"/>
<circle cx="202.9" cy="154.4" r="0.58" fill="rgb(151,151,195)" opacity="0.6"/>
<circle cx="187.4" cy="146.7" r="0.69" fill="rgb(151,151,195)" opacity="0.6"/>
<circle cx="240.1" cy="153.3" r="0.49" fill="rgb(151,151,195)" opacity="0.6"/>
<circle cx="237.7" cy="149.3" r="0.51" fill="rgb(151,151,195)" opacity="0.6"/>
<circle cx="218.2" cy="160.1" r="0.80" fill="rgb(151,151,195)" opacity="0.6"/>
<circle cx="219.5" cy="171.4" r="0.62" fill="rgb(151,151,195)" opacity="0.6"/>
<circle cx="180.3" cy="186.1" r="0.63" fill="rgb(151,151,195)" opacity="0.6"/>
<circle cx="245.8" cy="150.7" r="0.64" fill="rgb(151,151,195)" opacity="0.6"/>
<circle cx="222.2" cy="153.1" r="0.48" fill="rgb(151,151,195)" opacity="0.6"/>
<circle cx="254.7" cy="191.9" r="0.90" fill="rgb(151,151,195)" opacity="0.6"/>
<circle cx="222.6" cy="181.7" r="0.72" fill="rgb(151,151,195)" opacity="0.6"/>
<circle cx="217.2" cy="153.9" r="0.74" fill="rgb(151,151,195)" opacity="0.6"/>
<circle cx="214.3" cy="179.1" r="0.47" fill="rgb(151,151,195)" opacity="0.6"/>
<circle cx="202.1" cy="151.0" r="0.79" fill="rgb(151,151,195)" opacity="0.6"/>
<circle cx="217.3" cy="159.6" r="0.80" fill="rgb(151,151,195)" opacity="0.6"/>
<circle cx="220.7" cy="159.8" r="0.63" fill="rgb(151,151,195)" opacity="0.6"/>
<circle cx="178.2" cy="148.4" r="0.47" fill="rgb(151,151,195)" opacity="0.6"/>
<circle cx="256.9" cy="189.0" r="0.69" fill="rgb(151,151,195)" opacity="0.6"/>
<circle cx="255.2" cy="172.2" r="0.76" fill="rgb(151,151,195)" opacity="0.6"/>
<circle cx="186.6" cy="167.0" r="0.72" fill="rgb(151,151,195)" opacity="0.6"/>
<circle cx="211.5" cy="177.8" r="0.60" fill="rgb(151,151,195)" opacity="0.6"/>
<circle cx="231.7" cy="155.7" r="0.67" fill="rgb(151,151,195)" opacity="0.6"/>
<circle cx="213.1" cy="171.5" r="0.47" fill="rgb(151,151,195)" opacity="0.6"/>
<circle cx="197.9" cy="180.9" r="0.52" fill="rgb(151,151,195)" opacity="0.6"/>
<circle cx="217.1" cy="194.7" r="0.72" fill="rgb(151,151,195)" opacity="0.6"/>
<circle cx="238.2" cy="183.6" r="0.89" fill="rgb(151,151,195)" opacity="0.6"/>
<circle cx="209.8" cy="165.0" r="0.79" fill="rgb(151,151,195)" opacity="0.6"/>
<circle cx="180.1" cy="168.6" r="0.57" fill="rgb(151,151,195)" opacity="0.6"/>
<circle cx="223.7" cy="181.7" r="0.84" fill="rgb(151,151,195)" opacity="0.6"/>
<circle cx="178.9" cy="163.6" r="0.64" fill="rgb(114,73,56)" opacity="0.87"/>
<circle cx="185.6" cy="166.8" r="0.63" fill="rgb(114,73,56)" opacity="0.87"/>
<circle cx="190.7" cy="162.2" r="0.64" fill="rgb(114,73,56)" opacity="0.59"/>
<circle cx="187.9" cy="159.5" r="0.60" fill="rgb(114,73,56)" opacity="0.54"/>
<circle cx="182.4" cy="168.5" r="0.39" fill="rgb(114,73,56)" opacity="0.52"/>
<circle cx="179.3" cy="169.6" r="0.59" fill="rgb(114,73,56)" opacity="0.61"/>
<circle cx="187.5" cy="166.5" r="0.68" fill="rgb(114,73,56)" opacity="0.85"/>
<circle cx="188.0" cy="172.2" r="0.36" fill="rgb(114,73,56)" opacity="0.59"/>
<circle cx="183.1" cy="166.4" r="0.37" fill="rgb(114,73,56)" opacity="0.58"/>
<circle cx="185.5" cy="157.9" r="0.45" fill="rgb(114,73,56)" opacity="0.54"/>
<circle cx="184.1" cy="161.8" r="0.70" fill="rgb(114,73,56)" opacity="0.78"/>
<circle cx="192.0" cy="168.9" r="0.60" fill="rgb(114,73,56)" opacity="0.92"/>
<circle cx="187.3" cy="165.9" r="0.73" fill="rgb(114,73,56)" opacity="0.73"/>
<circle cx="180.7" cy="167.3" r="0.65" fill="rgb(114,73,56)" opacity="0.79"/>
<circle cx="185.7" cy="161.9" r="0.70" fill="rgb(114,73,56)" opacity="0.94"/>
<circle cx="185.6" cy="166.1" r="0.58" fill="rgb(114,73,56)" opacity="0.81"/>
<circle cx="179.0" cy="167.4" r="0.63" fill="rgb(114,73,56)" opacity="0.88"/>
<circle cx="189.2" cy="170.8" r="0.52" fill="rgb(114,73,56)" opacity="0.61"/>
<circle cx="191.3" cy="169.7" r="0.63" fill="rgb(114,73,56)" opacity="0.78"/>
<circle cx="185.6" cy="166.6" r="0.65" fill="rgb(114,73,56)" opacity="0.88"/>
<circle cx="182.7" cy="163.3" r="0.38" fill="rgb(114,73,56)" opacity="0.64"/>
<circle cx="182.9" cy="166.1" r="0.67" fill="rgb(114,73,56)" opacity="0.60"/>
<circle cx="190.2" cy="172.7" r="0.37" fill="rgb(114,73,56)" opacity="0.51"/>
<circle cx="181.8" cy="161.6" r="0.56" fill="rgb(114,73,56)" opacity="0.54"/>
<circle cx="178.7" cy="159.2" r="0.47" fill="rgb(114,73,56)" opacity="0.61"/>
<circle cx="188.8" cy="169.4" r="0.49" fill="rgb(114,73,56)" opacity="0.79"/>
<circle cx="188.1" cy="163.3" r="0.59" fill="rgb(114,73,56)" opacity="0.63"/>
<circle cx="186.1" cy="162.3" r="0.58" fill="rgb(114,73,56)" opacity="0.87"/>
<circle cx="188.4" cy="166.4" r="0.70" fill="rgb(114,73,56)" opacity="0.99"/>
<circle cx="187.2" cy="161.3" r="0.45" fill="rgb(114,73,56)" opacity="0.81"/>
<circle cx="192.6" cy="167.5" r="0.39" fill="rgb(114,73,56)" opacity="0.83"/>
<circle cx="179.2" cy="171.6" r="0.66" fill="rgb(114,73,56)" opacity="0.77"/>
<circle cx="189.6" cy="165.0" r="0.37" fill="rgb(114,73,56)" opacity="0.56"/>
<circle cx="188.6" cy="162.6" r="0.36" fill="rgb(114,73,56)" opacity="0.99"/>
<circle cx="178.0" cy="166.7" r="0.53" fill="rgb(114,73,56)" opacity="0.98"/>
<circle cx="190.3" cy="167.6" r="0.60" fill="rgb(114,73,56)" opacity="0.51"/>
<circle cx="192.5" cy="162.0" r="0.61" fill="rgb(114,73,56)" opacity="0.54"/>
<circle cx="187.7" cy="166.1" r="0.65" fill="rgb(114,73,56)" opacity="0.97"/>
<circle cx="185.6" cy="165.7" r="0.39" fill="rgb(114,73,56)" opacity="0.89"/>
<circle cx="179.0" cy="164.9" r="0.60" fill="rgb(114,73,56)" opacity="0.78"/>
<circle cx="185.5" cy="165.9" r="0.38" fill="rgb(114,73,56)" opacity="0.72"/>
<circle cx="183.7" cy="175.7" r="0.37" fill="rgb(114,73,56)" opacity="0.88"/>
<circle cx="185.2" cy="163.5" r="0.71" fill="rgb(114,73,56)" opacity="0.61"/>
<circle cx="181.7" cy="162.0" r="0.51" fill="rgb(114,73,56)" opacity="0.67"/>
<circle cx="183.1" cy="166.8" r="0.49" fill="rgb(114,73,56)" opacity="0.80"/>
<circle cx="186.9" cy="163.7" r="0.51" fill="rgb(114,73,56)" opacity="0.68"/>
<circle cx="189.1" cy="166.8" r="0.43" fill="rgb(114,73,56)" opacity="0.73"/>
<circle cx="191.1" cy="165.7" r="0.38" fill="rgb(114,73,56)" opacity="0.57"/>
<circle cx="182.8" cy="162.3" r="0.43" fill="rgb(114,73,56)" opacity="0.79"/>
<circle cx="183.8" cy="171.5" r="0.37" fill="rgb(114,73,56)" opacity="0.92"/>
<circle cx="176.3" cy="168.2" r="0.46" fill="rgb(114,73,56)" opacity="0.81"/>
<circle cx="193.7" cy="170.6" r="0.44" fill="rgb(114,73,56)" opacity="0.71"/>
<circle cx="206.3" cy="161.5" r="0.66" fill="rgb(114,73,56)" opacity="0.68"/>
<circle cx="200.3" cy="154.4" r="0.49" fill="rgb(114,73,56)" opacity="0.87"/>
<circle cx="202.3" cy="165.9" r="0.51" fill="rgb(114,73,56)" opacity="0.56"/>
<circle cx="199.4" cy="158.1" r="0.54" fill="rgb(114,73,56)" opacity="0.90"/>
<circle cx="198.8" cy="164.0" r="0.63" fill="rgb(114,73,56)" opacity="0.85"/>
<circle cx="199.7" cy="155.2" r="0.70" fill="rgb(114,73,56)" opacity="0.80"/>
<circle cx="195.7" cy="152.3" r="0.56" fill="rgb(114,73,56)" opacity="0.97"/>
<circle cx="199.2" cy="163.2" r="0.54" fill="rgb(114,73,56)" opacity="0.66"/>
<circle cx="200.6" cy="161.9" r="0.35" fill="rgb(114,73,56)" opacity="0.60"/>
<circle cx="196.5" cy="158.4" r="0.61" fill="rgb(114,73,56)" opacity="0.73"/>
<circle cx="197.5" cy="159.0" r="0.73" fill="rgb(114,73,56)" opacity="0.55"/>
<circle cx="195.1" cy="157.5" r="0.59" fill="rgb(114,73,56)" opacity="0.75"/>
<circle cx="197.1" cy="161.4" r="0.69" fill="rgb(114,73,56)" opacity="0.72"/>
<circle cx="203.0" cy="155.8" r="0.66" fill="rgb(114,73,56)" opacity="1.00"/>
<circle cx="210.0" cy="154.8" r="0.44" fill="rgb(114,73,56)" opacity="0.91"/>
<circle cx="203.3" cy="159.7" r="0.54" fill="rgb(114,73,56)" opacity="0.94"/>
<circle cx="199.4" cy="158.7" r="0.70" fill="rgb(114,73,56)" opacity="0.96"/>
<circle cx="210.9" cy="166.1" r="0.46" fill="rgb(114,73,56)" opacity="0.81"/>
<circle cx="199.5" cy="160.9" r="0.47" fill="rgb(114,73,56)" opacity="0.95"/>
<circle cx="203.6" cy="151.1" r="0.39" fill="rgb(114,73,56)" opacity="0.81"/>
<circle cx="194.5" cy="158.5" r="0.63" fill="rgb(114,73,56)" opacity="0.64"/>
<circle cx="202.6" cy="162.3" r="0.45" fill="rgb(114,73,56)" opacity="0.79"/>
<circle cx="204.6" cy="163.5" r="0.39" fill="rgb(114,73,56)" opacity="0.84"/>
<circle cx="201.1" cy="159.1" r="0.55" fill="rgb(114,73,56)" opacity="0.99"/>
<circle cx="201.6" cy="166.5" r="0.66" fill="rgb(114,73,56)" opacity="0.51"/>
<circle cx="206.1" cy="156.3" r="0.63" fill="rgb(114,73,56)" opacity="0.67"/>
<circle cx="197.9" cy="166.1" r="0.38" fill="rgb(114,73,56)" opacity="0.54"/>
<circle cx="192.4" cy="153.8" r="0.41" fill="rgb(114,73,56)" opacity="0.59"/>
<circle cx="194.2" cy="154.5" r="0.57" fill="rgb(114,73,56)" opacity="0.83"/>
<circle cx="203.2" cy="161.7" r="0.58" fill="rgb(114,73,56)" opacity="0.86"/>
<circle cx="201.7" cy="164.4" r="0.47" fill="rgb(114,73,56)" opacity="0.71"/>
<circle cx="198.6" cy="162.9" r="0.38" fill="rgb(114,73,56)" opacity="0.82"/>
<circle cx="197.8" cy="156.9" r="0.70" fill="rgb(114,73,56)" opacity="0.56"/>
<circle cx="196.6" cy="158.5" r="0.68" fill="rgb(114,73,56)" opacity="0.80"/>
<circle cx="199.1" cy="159.4" r="0.72" fill="rgb(114,73,56)" opacity="0.57"/>
<circle cx="198.2" cy="161.5" r="0.57" fill="rgb(114,73,56)" opacity="0.61"/>
<circle cx="208.6" cy="153.0" r="0.35" fill="rgb(114,73,56)" opacity="0.94"/>
<circle cx="202.9" cy="163.0" r="0.55" fill="rgb(114,73,56)" opacity="0.53"/>
<circle cx="200.1" cy="158.3" r="0.40" fill="rgb(114,73,56)" opacity="0.81"/>
<circle cx="204.3" cy="164.2" r="0.39" fill="rgb(114,73,56)" opacity="0.64"/>
<circle cx="197.7" cy="162.8" r="0.60" fill="rgb(114,73,56)" opacity="0.96"/>
<circle cx="197.8" cy="163.9" r="0.43" fill="rgb(114,73,56)" opacity="0.87"/>
<circle cx="194.1" cy="163.0" r="0.43" fill="rgb(114,73,56)" opacity="0.71"/>
<circle cx="202.9" cy="157.5" r="0.66" fill="rgb(114,73,56)" opacity="0.74"/>
<circle cx="204.0" cy="162.1" r="0.51" fill="rgb(114,73,56)" opacity="0.86"/>
<circle cx="204.8" cy="163.0" r="0.45" fill="rgb(114,73,56)" opacity="0.65"/>
<circle cx="202.3" cy="166.0" r="0.57" fill="rgb(114,73,56)" opacity="0.52"/>
<circle cx="200.4" cy="163.8" r="0.42" fill="rgb(114,73,56)" opacity="0.92"/>
<circle cx="200.2" cy="163.0" r="0.40" fill="rgb(114,73,56)" opacity="0.59"/>
<circle cx="197.9" cy="165.0" r="0.67" fill="rgb(114,73,56)" opacity="0.92"/>
<circle cx="196.9" cy="153.6" r="0.36" fill="rgb(114,73,56)" opacity="0.67"/>
<circle cx="199.6" cy="161.1" r="0.49" fill="rgb(114,73,56)" opacity="0.56"/>
<circle cx="201.8" cy="163.3" r="0.47" fill="rgb(114,73,56)" opacity="0.59"/>
<circle cx="201.5" cy="159.4" r="0.52" fill="rgb(114,73,56)" opacity="0.61"/>
<circle cx="195.9" cy="162.4" r="0.63" fill="rgb(114,73,56)" opacity="0.87"/>
<circle cx="191.8" cy="169.0" r="0.72" fill="rgb(114,73,56)" opacity="0.82"/>
<circle cx="201.7" cy="162.0" r="0.56" fill="rgb(114,73,56)" opacity="0.74"/>
<circle cx="211.6" cy="150.8" r="0.67" fill="rgb(114,73,56)" opacity="0.62"/>
<circle cx="211.1" cy="154.1" r="0.37" fill="rgb(114,73,56)" opacity="0.60"/>
<circle cx="208.6" cy="159.2" r="0.64" fill="rgb(114,73,56)" opacity="0.83"/>
<circle cx="203.3" cy="161.1" r="0.47" fill="rgb(114,73,56)" opacity="0.89"/>
<circle cx="194.6" cy="159.8" r="0.55" fill="rgb(114,73,56)" opacity="0.96"/>
<circle cx="200.2" cy="160.9" r="0.68" fill="rgb(114,73,56)" opacity="0.59"/>
<circle cx="197.6" cy="163.6" r="0.37" fill="rgb(114,73,56)" opacity="0.70"/>
<circle cx="198.7" cy="162.3" r="0.67" fill="rgb(114,73,56)" opacity="0.74"/>
<circle cx="203.7" cy="162.0" r="0.65" fill="rgb(114,73,56)" opacity="0.65"/>
<circle cx="206.3" cy="163.6" r="0.57" fill="rgb(114,73,56)" opacity="0.56"/>
<circle cx="200.1" cy="173.6" r="0.69" fill="rgb(114,73,56)" opacity="0.60"/>
<circle cx="199.2" cy="172.8" r="0.54" fill="rgb(114,73,56)" opacity="0.88"/>
<circle cx="209.7" cy="171.1" r="0.68" fill="rgb(114,73,56)" opacity="0.99"/>
<circle cx="201.8" cy="166.4" r="0.39" fill="rgb(114,73,56)" opacity="0.70"/>
<circle cx="207.2" cy="169.5" r="0.70" fill="rgb(114,73,56)" opacity="0.69"/>
<circle cx="202.7" cy="172.7" r="0.56" fill="rgb(114,73,56)" opacity="0.67"/>
<circle cx="206.5" cy="169.7" r="0.52" fill="rgb(114,73,56)" opacity="0.58"/>
<circle cx="209.8" cy="172.9" r="0.59" fill="rgb(114,73,56)" opacity="0.75"/>
<circle cx="195.7" cy="175.7" r="0.70" fill="rgb(114,73,56)" opacity="0.53"/>
<circle cx="203.6" cy="176.9" r="0.47" fill="rgb(114,73,56)" opacity="0.67"/>
<circle cx="198.2" cy="173.7" r="0.64" fill="rgb(114,73,56)" opacity="0.55"/>
<circle cx="195.3" cy="169.8" r="0.48" fill="rgb(114,73,56)" opacity="0.86"/>
<circle cx="203.1" cy="172.7" r="0.39" fill="rgb(114,73,56)" opacity="0.66"/>
<circle cx="196.3" cy="169.9" r="0.53" fill="rgb(114,73,56)" opacity="0.52"/>
<circle cx="199.9" cy="171.3" r="0.46" fill="rgb(114,73,56)" opacity="0.60"/>
<circle cx="200.0" cy="169.9" r="0.39" fill="rgb(114,73,56)" opacity="0.54"/>
<circle cx="199.4" cy="166.5" r="0.65" fill="rgb(114,73,56)" opacity="0.79"/>
<circle cx="209.3" cy="167.2" r="0.46" fill="rgb(114,73,56)" opacity="0.69"/>
<circle cx="212.7" cy="173.6" r="0.60" fill="rgb(114,73,56)" opacity="0.81"/>
<circle cx="201.4" cy="172.6" r="0.48" fill="rgb(114,73,56)" opacity="0.62"/>
<circle cx="196.6" cy="172.6" r="0.59" fill="rgb(114,73,56)" opacity="0.96"/>
<circle cx="205.9" cy="171.4" r="0.39" fill="rgb(114,73,56)" opacity="0.68"/>
<circle cx="207.8" cy="170.4" r="0.66" fill="rgb(114,73,56)" opacity="0.59"/>
<circle cx="197.2" cy="175.8" r="0.46" fill="rgb(114,73,56)" opacity="0.87"/>
<circle cx="206.1" cy="168.2" r="0.36" fill="rgb(114,73,56)" opacity="0.68"/>
<circle cx="207.4" cy="171.1" r="0.46" fill="rgb(114,73,56)" opacity="1.00"/>
<circle cx="202.6" cy="169.1" r="0.54" fill="rgb(114,73,56)" opacity="0.81"/>
<circle cx="199.6" cy="173.0" r="0.46" fill="rgb(114,73,56)" opacity="0.61"/>
<circle cx="197.0" cy="175.2" r="0.40" fill="rgb(114,73,56)" opacity="0.75"/>
<circle cx="211.2" cy="171.1" r="0.61" fill="rgb(114,73,56)" opacity="0.87"/>
<circle cx="199.8" cy="174.9" r="0.36" fill="rgb(114,73,56)" opacity="0.76"/>
<circle cx="205.0" cy="171.7" r="0.40" fill="rgb(114,73,56)" opacity="0.67"/>
<circle cx="203.3" cy="171.2" r="0.38" fill="rgb(114,73,56)" opacity="0.56"/>
<circle cx="216.2" cy="168.7" r="0.70" fill="rgb(114,73,56)" opacity="0.57"/>
<circle cx="203.7" cy="175.0" r="0.36" fill="rgb(114,73,56)" opacity="0.57"/>
<circle cx="195.1" cy="165.0" r="0.71" fill="rgb(114,73,56)" opacity="0.92"/>
<circle cx="200.6" cy="170.9" r="0.71" fill="rgb(114,73,56)" opacity="0.95"/>
<circle cx="210.8" cy="170.5" r="0.65" fill="rgb(114,73,56)" opacity="0.85"/>
<circle cx="207.4" cy="175.1" r="0.71" fill="rgb(114,73,56)" opacity="0.79"/>
<circle cx="207.9" cy="172.0" r="0.69" fill="rgb(114,73,56)" opacity="0.85"/>
<circle cx="194.6" cy="174.6" r="0.64" fill="rgb(114,73,56)" opacity="0.61"/>
<circle cx="199.6" cy="165.5" r="0.35" fill="rgb(114,73,56)" opacity="0.97"/>
<circle cx="203.7" cy="172.5" r="0.36" fill="rgb(114,73,56)" opacity="0.66"/>
<circle cx="201.5" cy="173.5" r="0.60" fill="rgb(114,73,56)" opacity="0.90"/>
<circle cx="206.0" cy="166.8" r="0.40" fill="rgb(114,73,56)" opacity="0.64"/>
<circle cx="195.5" cy="174.6" r="0.64" fill="rgb(114,73,56)" opacity="1.00"/>
<circle cx="205.8" cy="169.0" r="0.64" fill="rgb(114,73,56)" opacity="0.91"/>
<circle cx="195.2" cy="170.8" r="0.68" fill="rgb(114,73,56)" opacity="0.92"/>
<circle cx="197.4" cy="176.1" r="0.62" fill="rgb(114,73,56)" opacity="0.91"/>
<circle cx="206.2" cy="177.1" r="0.64" fill="rgb(114,73,56)" opacity="0.58"/>
<circle cx="200.6" cy="175.0" r="0.59" fill="rgb(114,73,56)" opacity="0.58"/>
<circle cx="205.5" cy="170.3" r="0.67" fill="rgb(114,73,56)" opacity="0.97"/>
<circle cx="206.0" cy="172.7" r="0.56" fill="rgb(114,73,56)" opacity="0.96"/>
<circle cx="197.8" cy="172.5" r="0.44" fill="rgb(114,73,56)" opacity="0.92"/>
<circle cx="201.4" cy="175.0" r="0.37" fill="rgb(114,73,56)" opacity="0.94"/>
<circle cx="210.4" cy="172.0" r="0.72" fill="rgb(114,73,56)" opacity="0.66"/>
<circle cx="200.3" cy="167.9" r="0.38" fill="rgb(114,73,56)" opacity="0.92"/>
<circle cx="193.8" cy="171.7" r="0.37" fill="rgb(114,73,56)" opacity="0.58"/>
<circle cx="209.5" cy="176.9" r="0.36" fill="rgb(114,73,56)" opacity="0.51"/>
<circle cx="199.1" cy="173.6" r="0.68" fill="rgb(114,73,56)" opacity="0.93"/>
<circle cx="222.0" cy="164.2" r="0.72" fill="rgb(114,73,56)" opacity="0.89"/>
<circle cx="226.8" cy="156.2" r="0.40" fill="rgb(114,73,56)" opacity="0.69"/>
<circle cx="223.4" cy="158.8" r="0.53" fill="rgb(114,73,56)" opacity="0.74"/>
<circle cx="229.1" cy="158.5" r="0.42" fill="rgb(114,73,56)" opacity="0.59"/>
<circle cx="216.3" cy="158.4" r="0.51" fill="rgb(114,73,56)" opacity="0.75"/>
<circle cx="216.9" cy="161.5" r="0.58" fill="rgb(114,73,56)" opacity="0.52"/>
<circle cx="212.8" cy="158.4" r="0.58" fill="rgb(114,73,56)" opacity="0.73"/>
<circle cx="224.0" cy="151.0" r="0.64" fill="rgb(114,73,56)" opacity="0.81"/>
<circle cx="224.9" cy="160.9" r="0.63" fill="rgb(114,73,56)" opacity="0.60"/>
<circle cx="218.4" cy="161.9" r="0.45" fill="rgb(114,73,56)" opacity="0.93"/>
<circle cx="228.5" cy="152.4" r="0.36" fill="rgb(114,73,56)" opacity="0.73"/>
<circle cx="220.3" cy="162.7" r="0.60" fill="rgb(114,73,56)" opacity="0.80"/>
<circle cx="224.4" cy="154.8" r="0.49" fill="rgb(114,73,56)" opacity="0.87"/>
<circle cx="219.4" cy="158.2" r="0.71" fill="rgb(114,73,56)" opacity="0.61"/>
<circle cx="219.9" cy="156.3" r="0.70" fill="rgb(114,73,56)" opacity="0.93"/>
<circle cx="225.8" cy="155.1" r="0.55" fill="rgb(114,73,56)" opacity="0.65"/>
<circle cx="219.2" cy="159.1" r="0.67" fill="rgb(114,73,56)" opacity="0.78"/>
<circle cx="231.9" cy="158.4" r="0.56" fill="rgb(114,73,56)" opacity="0.80"/>
<circle cx="221.5" cy="163.5" r="0.67" fill="rgb(114,73,56)" opacity="0.59"/>
<circle cx="229.1" cy="156.3" r="0.49" fill="rgb(114,73,56)" opacity="0.87"/>
<circle cx="221.6" cy="165.2" r="0.55" fill="rgb(114,73,56)" opacity="0.82"/>
<circle cx="232.2" cy="155.9" r="0.54" fill="rgb(114,73,56)" opacity="0.69"/>
<circle cx="221.6" cy="155.9" r="0.39" fill="rgb(114,73,56)" opacity="0.75"/>
<circle cx="221.8" cy="163.4" r="0.42" fill="rgb(114,73,56)" opacity="0.65"/>
<circle cx="217.0" cy="161.3" r="0.57" fill="rgb(114,73,56)" opacity="0.93"/>
<circle cx="218.6" cy="155.6" r="0.64" fill="rgb(114,73,56)" opacity="0.70"/>
<circle cx="212.0" cy="159.3" r="0.43" fill="rgb(114,73,56)" opacity="0.88"/>
<circle cx="232.0" cy="156.0" r="0.38" fill="rgb(114,73,56)" opacity="0.96"/>
<circle cx="225.8" cy="161.7" r="0.59" fill="rgb(114,73,56)" opacity="0.67"/>
<circle cx="226.0" cy="162.9" r="0.56" fill="rgb(114,73,56)" opacity="0.77"/>
<circle cx="230.3" cy="153.4" r="0.65" fill="rgb(114,73,56)" opacity="0.86"/>
<circle cx="220.6" cy="153.5" r="0.53" fill="rgb(114,73,56)" opacity="0.82"/>
<circle cx="223.4" cy="155.8" r="0.53" fill="rgb(114,73,56)" opacity="0.84"/>
<circle cx="224.3" cy="166.9" r="0.46" fill="rgb(114,73,56)" opacity="0.75"/>
<circle cx="214.3" cy="156.3" r="0.41" fill="rgb(114,73,56)" opacity="0.63"/>
<circle cx="220.0" cy="156.8" r="0.48" fill="rgb(114,73,56)" opacity="0.57"/>
<circle cx="219.8" cy="156.9" r="0.57" fill="rgb(114,73,56)" opacity="0.62"/>
<circle cx="225.2" cy="158.5" r="0.62" fill="rgb(114,73,56)" opacity="0.53"/>
<circle cx="223.1" cy="161.6" r="0.72" fill="rgb(114,73,56)" opacity="0.72"/>
<circle cx="223.7" cy="158.4" r="0.44" fill="rgb(114,73,56)" opacity="0.99"/>
<circle cx="223.3" cy="164.4" r="0.45" fill="rgb(114,73,56)" opacity="0.68"/>
<circle cx="218.3" cy="158.5" r="0.47" fill="rgb(114,73,56)" opacity="0.74"/>
<circle cx="221.2" cy="158.2" r="0.55" fill="rgb(114,73,56)" opacity="0.79"/>
<circle cx="215.9" cy="156.8" r="0.53" fill="rgb(114,73,56)" opacity="0.61"/>
<circle cx="217.7" cy="159.8" r="0.47" fill="rgb(114,73,56)" opacity="0.71"/>
<circle cx="220.2" cy="160.2" r="0.68" fill="rgb(114,73,56)" opacity="0.65"/>
<circle cx="212.0" cy="157.7" r="0.40" fill="rgb(114,73,56)" opacity="0.72"/>
<circle cx="227.2" cy="161.9" r="0.63" fill="rgb(114,73,56)" opacity="0.93"/>
<circle cx="226.3" cy="160.6" r="0.53" fill="rgb(114,73,56)" opacity="0.83"/>
<circle cx="214.8" cy="164.3" r="0.54" fill="rgb(114,73,56)" opacity="0.93"/>
<circle cx="233.7" cy="154.1" r="0.62" fill="rgb(114,73,56)" opacity="0.92"/>
<circle cx="213.4" cy="159.2" r="0.64" fill="rgb(114,73,56)" opacity="0.71"/>
<circle cx="222.5" cy="153.6" r="0.40" fill="rgb(114,73,56)" opacity="0.95"/>
<circle cx="228.9" cy="153.6" r="0.44" fill="rgb(114,73,56)" opacity="0.89"/>
<circle cx="219.9" cy="155.9" r="0.47" fill="rgb(114,73,56)" opacity="0.75"/>
<circle cx="218.5" cy="161.7" r="0.52" fill="rgb(114,73,56)" opacity="0.88"/>
<circle cx="217.7" cy="156.7" r="0.43" fill="rgb(114,73,56)" opacity="0.62"/>
<circle cx="220.7" cy="161.9" r="0.55" fill="rgb(114,73,56)" opacity="0.88"/>
<circle cx="225.5" cy="161.8" r="0.47" fill="rgb(114,73,56)" opacity="0.76"/>
<circle cx="230.1" cy="159.2" r="0.37" fill="rgb(114,73,56)" opacity="0.80"/>
<circle cx="219.4" cy="167.3" r="0.58" fill="rgb(114,73,56)" opacity="0.87"/>
<circle cx="215.6" cy="171.6" r="0.65" fill="rgb(114,73,56)" opacity="0.75"/>
<circle cx="229.5" cy="171.6" r="0.73" fill="rgb(114,73,56)" opacity="0.82"/>
<circle cx="233.5" cy="171.8" r="0.52" fill="rgb(114,73,56)" opacity="0.80"/>
<circle cx="226.2" cy="170.5" r="0.54" fill="rgb(114,73,56)" opacity="0.91"/>
<circle cx="226.5" cy="176.7" r="0.56" fill="rgb(114,73,56)" opacity="0.77"/>
<circle cx="224.9" cy="175.6" r="0.57" fill="rgb(114,73,56)" opacity="0.77"/>
<circle cx="223.0" cy="172.8" r="0.46" fill="rgb(114,73,56)" opacity="0.72"/>
<circle cx="222.7" cy="177.0" r="0.49" fill="rgb(114,73,56)" opacity="0.51"/>
<circle cx="225.9" cy="169.0" r="0.70" fill="rgb(114,73,56)" opacity="0.66"/>
<circle cx="223.4" cy="171.1" r="0.46" fill="rgb(114,73,56)" opacity="0.86"/>
<circle cx="222.9" cy="176.8" r="0.37" fill="rgb(114,73,56)" opacity="0.53"/>
<circle cx="234.0" cy="168.9" r="0.45" fill="rgb(114,73,56)" opacity="0.82"/>
<circle cx="222.8" cy="173.0" r="0.46" fill="rgb(114,73,56)" opacity="0.77"/>
<circle cx="226.6" cy="163.4" r="0.45" fill="rgb(114,73,56)" opacity="0.78"/>
<circle cx="216.5" cy="167.6" r="0.54" fill="rgb(114,73,56)" opacity="0.93"/>
<circle cx="230.1" cy="168.7" r="0.51" fill="rgb(114,73,56)" opacity="0.98"/>
<circle cx="221.0" cy="168.4" r="0.65" fill="rgb(114,73,56)" opacity="0.80"/>
<circle cx="230.3" cy="167.3" r="0.45" fill="rgb(114,73,56)" opacity="0.69"/>
<circle cx="236.4" cy="170.5" r="0.67" fill="rgb(114,73,56)" opacity="0.87"/>
<circle cx="224.9" cy="168.2" r="0.39" fill="rgb(114,73,56)" opacity="0.66"/>
<circle cx="229.6" cy="169.5" r="0.69" fill="rgb(114,73,56)" opacity="0.90"/>
<circle cx="230.5" cy="171.2" r="0.63" fill="rgb(114,73,56)" opacity="0.83"/>
<circle cx="234.1" cy="170.9" r="0.42" fill="rgb(114,73,56)" opacity="0.93"/>
<circle cx="226.6" cy="167.3" r="0.50" fill="rgb(114,73,56)" opacity="0.51"/>
<circle cx="237.2" cy="166.6" r="0.63" fill="rgb(114,73,56)" opacity="0.50"/>
<circle cx="229.3" cy="173.8" r="0.60" fill="rgb(114,73,56)" opacity="0.88"/>
<circle cx="224.5" cy="169.6" r="0.45" fill="rgb(114,73,56)" opacity="0.87"/>
<circle cx="223.8" cy="177.4" r="0.71" fill="rgb(114,73,56)" opacity="0.70"/>
<circle cx="232.0" cy="173.9" r="0.49" fill="rgb(114,73,56)" opacity="0.89"/>
<circle cx="221.8" cy="171.3" r="0.67" fill="rgb(114,73,56)" opacity="0.59"/>
<circle cx="221.2" cy="169.2" r="0.40" fill="rgb(114,73,56)" opacity="0.96"/>
<circle cx="231.2" cy="172.2" r="0.38" fill="rgb(114,73,56)" opacity="0.98"/>
<circle cx="235.8" cy="169.6" r="0.40" fill="rgb(114,73,56)" opacity="0.83"/>
<circle cx="226.6" cy="166.1" r="0.44" fill="rgb(114,73,56)" opacity="0.58"/>
<circle cx="231.6" cy="166.7" r="0.64" fill="rgb(114,73,56)" opacity="0.87"/>
<circle cx="227.2" cy="170.5" r="0.47" fill="rgb(114,73,56)" opacity="0.83"/>
<circle cx="218.1" cy="172.5" r="0.46" fill="rgb(114,73,56)" opacity="0.69"/>
<circle cx="232.9" cy="167.7" r="0.43" fill="rgb(114,73,56)" opacity="0.51"/>
<circle cx="222.2" cy="171.6" r="0.69" fill="rgb(114,73,56)" opacity="0.52"/>
<circle cx="223.0" cy="168.6" r="0.67" fill="rgb(114,73,56)" opacity="0.68"/>
<circle cx="227.4" cy="174.5" r="0.49" fill="rgb(114,73,56)" opacity="0.51"/>
<circle cx="231.5" cy="172.0" r="0.63" fill="rgb(114,73,56)" opacity="1.00"/>
<circle cx="227.0" cy="175.5" r="0.48" fill="rgb(114,73,56)" opacity="0.76"/>
<circle cx="226.6" cy="168.8" r="0.70" fill="rgb(114,73,56)" opacity="0.63"/>
<circle cx="216.0" cy="173.3" r="0.53" fill="rgb(114,73,56)" opacity="0.91"/>
<circle cx="226.8" cy="173.9" r="0.63" fill="rgb(114,73,56)" opacity="0.83"/>
<circle cx="212.4" cy="177.6" r="0.39" fill="rgb(114,73,56)" opacity="0.92"/>
<circle cx="222.3" cy="174.1" r="0.53" fill="rgb(114,73,56)" opacity="0.87"/>
<circle cx="235.4" cy="171.5" r="0.68" fill="rgb(114,73,56)" opacity="0.70"/>
<circle cx="223.5" cy="166.9" r="0.54" fill="rgb(114,73,56)" opacity="0.89"/>
<circle cx="224.3" cy="170.4" r="0.55" fill="rgb(114,73,56)" opacity="0.88"/>
<circle cx="233.2" cy="171.9" r="0.67" fill="rgb(114,73,56)" opacity="0.51"/>
<circle cx="230.7" cy="168.0" r="0.49" fill="rgb(114,73,56)" opacity="0.85"/>
<circle cx="227.2" cy="165.2" r="0.41" fill="rgb(114,73,56)" opacity="0.71"/>
<circle cx="241.5" cy="163.8" r="0.63" fill="rgb(114,73,56)" opacity="0.85"/>
<circle cx="227.4" cy="166.3" r="0.41" fill="rgb(114,73,56)" opacity="0.57"/>
<circle cx="227.8" cy="169.7" r="0.55" fill="rgb(114,73,56)" opacity="0.70"/>
<circle cx="234.3" cy="166.5" r="0.44" fill="rgb(114,73,56)" opacity="0.53"/>
<circle cx="220.0" cy="170.9" r="0.53" fill="rgb(114,73,56)" opacity="0.79"/>
<circle cx="247.5" cy="163.8" r="0.71" fill="rgb(114,73,56)" opacity="0.87"/>
<circle cx="230.1" cy="165.7" r="0.45" fill="rgb(114,73,56)" opacity="0.59"/>
<circle cx="243.1" cy="161.1" r="0.63" fill="rgb(114,73,56)" opacity="0.75"/>
<circle cx="242.8" cy="157.6" r="0.72" fill="rgb(114,73,56)" opacity="0.87"/>
<circle cx="240.5" cy="161.0" r="0.70" fill="rgb(114,73,56)" opacity="0.73"/>
<circle cx="248.7" cy="159.7" r="0.72" fill="rgb(114,73,56)" opacity="0.66"/>
<circle cx="251.9" cy="155.7" r="0.56" fill="rgb(114,73,56)" opacity="0.92"/>
<circle cx="245.4" cy="159.0" r="0.62" fill="rgb(114,73,56)" opacity="0.76"/>
<circle cx="251.7" cy="167.3" r="0.70" fill="rgb(114,73,56)" opacity="0.99"/>
<circle cx="242.6" cy="156.1" r="0.38" fill="rgb(114,73,56)" opacity="0.66"/>
<circle cx="242.5" cy="162.3" r="0.50" fill="rgb(114,73,56)" opacity="0.68"/>
<circle cx="242.0" cy="161.6" r="0.40" fill="rgb(114,73,56)" opacity="0.98"/>
<circle cx="244.9" cy="159.0" r="0.52" fill="rgb(114,73,56)" opacity="0.68"/>
<circle cx="240.5" cy="161.1" r="0.64" fill="rgb(114,73,56)" opacity="0.97"/>
<circle cx="244.8" cy="159.0" r="0.66" fill="rgb(114,73,56)" opacity="0.77"/>
<circle cx="236.1" cy="160.1" r="0.49" fill="rgb(114,73,56)" opacity="0.54"/>
<circle cx="242.5" cy="153.1" r="0.61" fill="rgb(114,73,56)" opacity="0.52"/>
<circle cx="244.3" cy="159.9" r="0.55" fill="rgb(114,73,56)" opacity="0.59"/>
<circle cx="240.2" cy="164.3" r="0.59" fill="rgb(114,73,56)" opacity="0.86"/>
<circle cx="248.0" cy="158.0" r="0.38" fill="rgb(114,73,56)" opacity="0.52"/>
<circle cx="250.4" cy="161.5" r="0.42" fill="rgb(114,73,56)" opacity="0.65"/>
<circle cx="249.2" cy="166.8" r="0.49" fill="rgb(114,73,56)" opacity="0.74"/>
<circle cx="248.1" cy="161.3" r="0.54" fill="rgb(114,73,56)" opacity="0.52"/>
<circle cx="232.4" cy="161.7" r="0.57" fill="rgb(114,73,56)" opacity="0.65"/>
<circle cx="243.6" cy="161.7" r="0.54" fill="rgb(114,73,56)" opacity="0.82"/>
<circle cx="241.1" cy="153.3" r="0.73" fill="rgb(114,73,56)" opacity="0.98"/>
<circle cx="240.8" cy="160.7" r="0.66" fill="rgb(114,73,56)" opacity="0.60"/>
<circle cx="246.7" cy="167.7" r="0.52" fill="rgb(114,73,56)" opacity="0.51"/>
<circle cx="253.8" cy="155.1" r="0.46" fill="rgb(114,73,56)" opacity="0.96"/>
<circle cx="247.0" cy="167.4" r="0.45" fill="rgb(114,73,56)" opacity="0.90"/>
<circle cx="250.9" cy="168.2" r="0.61" fill="rgb(114,73,56)" opacity="0.86"/>
<circle cx="245.5" cy="166.3" r="0.42" fill="rgb(114,73,56)" opacity="0.62"/>
<circle cx="242.9" cy="160.8" r="0.51" fill="rgb(114,73,56)" opacity="0.56"/>
<circle cx="240.9" cy="159.8" r="0.49" fill="rgb(114,73,56)" opacity="0.99"/>
<circle cx="244.3" cy="160.0" r="0.36" fill="rgb(114,73,56)" opacity="0.63"/>
<circle cx="249.0" cy="164.1" r="0.41" fill="rgb(114,73,56)" opacity="0.59"/>
<circle cx="249.0" cy="163.7" r="0.60" fill="rgb(114,73,56)" opacity="0.65"/>
<circle cx="242.0" cy="163.6" r="0.56" fill="rgb(114,73,56)" opacity="0.78"/>
<circle cx="245.7" cy="152.9" r="0.59" fill="rgb(114,73,56)" opacity="0.64"/>
<circle cx="242.1" cy="158.9" r="0.39" fill="rgb(114,73,56)" opacity="0.53"/>
<circle cx="241.7" cy="161.8" r="0.36" fill="rgb(114,73,56)" opacity="0.68"/>
<circle cx="241.3" cy="159.0" r="0.67" fill="rgb(114,73,56)" opacity="0.50"/>
<circle cx="247.8" cy="160.7" r="0.42" fill="rgb(114,73,56)" opacity="0.99"/>
<circle cx="241.1" cy="160.3" r="0.64" fill="rgb(114,73,56)" opacity="0.51"/>
<circle cx="246.7" cy="159.6" r="0.60" fill="rgb(114,73,56)" opacity="0.51"/>
<circle cx="252.1" cy="163.6" r="0.68" fill="rgb(114,73,56)" opacity="0.63"/>
<circle cx="247.2" cy="161.9" r="0.39" fill="rgb(114,73,56)" opacity="0.94"/>
<circle cx="247.9" cy="161.2" r="0.43" fill="rgb(114,73,56)" opacity="0.61"/>
<circle cx="239.5" cy="162.8" r="0.72" fill="rgb(114,73,56)" opacity="0.61"/>
<circle cx="241.7" cy="157.7" r="0.70" fill="rgb(114,73,56)" opacity="0.78"/>
<circle cx="251.3" cy="156.0" r="0.57" fill="rgb(114,73,56)" opacity="0.73"/>
<circle cx="247.7" cy="166.8" r="0.59" fill="rgb(114,73,56)" opacity="0.73"/>
<circle cx="254.0" cy="166.7" r="0.64" fill="rgb(114,73,56)" opacity="0.58"/>
<circle cx="239.2" cy="165.0" r="0.45" fill="rgb(114,73,56)" opacity="1.00"/>
<circle cx="244.9" cy="161.6" r="0.63" fill="rgb(114,73,56)" opacity="0.64"/>
<circle cx="245.0" cy="153.6" r="0.53" fill="rgb(114,73,56)" opacity="0.78"/>
<circle cx="245.3" cy="158.4" r="0.37" fill="rgb(114,73,56)" opacity="0.59"/>
<circle cx="236.7" cy="160.1" r="0.68" fill="rgb(114,73,56)" opacity="0.63"/>
<circle cx="248.2" cy="163.1" r="0.41" fill="rgb(114,73,56)" opacity="0.63"/>
<circle cx="236.1" cy="161.3" r="0.39" fill="rgb(114,73,56)" opacity="0.59"/>
<circle cx="243.4" cy="152.6" r="0.42" fill="rgb(114,73,56)" opacity="0.83"/>
<circle cx="232.0" cy="157.1" r="0.72" fill="rgb(114,73,56)" opacity="0.81"/>
<circle cx="242.1" cy="164.2" r="0.46" fill="rgb(114,73,56)" opacity="0.64"/>
<circle cx="250.3" cy="163.5" r="0.60" fill="rgb(114,73,56)" opacity="0.64"/>
<circle cx="250.3" cy="165.7" r="0.56" fill="rgb(114,73,56)" opacity="0.85"/>
<circle cx="243.9" cy="169.8" r="0.63" fill="rgb(114,73,56)" opacity="0.75"/>
<circle cx="249.1" cy="163.3" r="0.36" fill="rgb(114,73,56)" opacity="0.61"/>
<circle cx="253.1" cy="169.9" r="0.64" fill="rgb(114,73,56)" opacity="0.51"/>
<circle cx="248.3" cy="175.9" r="0.53" fill="rgb(114,73,56)" opacity="0.59"/>
<circle cx="253.6" cy="169.7" r="0.42" fill="rgb(114,73,56)" opacity="0.85"/>
<circle cx="256.6" cy="169.8" r="0.36" fill="rgb(114,73,56)" opacity="0.51"/>
<circle cx="255.7" cy="173.5" r="0.72" fill="rgb(114,73,56)" opacity="0.56"/>
<circle cx="247.1" cy="166.1" r="0.36" fill="rgb(114,73,56)" opacity="0.95"/>
<circle cx="243.4" cy="181.1" r="0.66" fill="rgb(114,73,56)" opacity="0.77"/>
<circle cx="249.2" cy="169.4" r="0.59" fill="rgb(114,73,56)" opacity="0.57"/>
<circle cx="249.7" cy="170.2" r="0.60" fill="rgb(114,73,56)" opacity="0.82"/>
<circle cx="257.8" cy="169.3" r="0.63" fill="rgb(114,73,56)" opacity="0.68"/>
<circle cx="255.5" cy="168.0" r="0.38" fill="rgb(114,73,56)" opacity="0.52"/>
<circle cx="239.6" cy="164.8" r="0.52" fill="rgb(114,73,56)" opacity="0.60"/>
<circle cx="251.9" cy="167.8" r="0.49" fill="rgb(114,73,56)" opacity="0.67"/>
<circle cx="249.2" cy="176.5" r="0.74" fill="rgb(114,73,56)" opacity="0.99"/>
<circle cx="256.0" cy="171.6" r="0.41" fill="rgb(114,73,56)" opacity="0.73"/>
<circle cx="246.6" cy="170.2" r="0.65" fill="rgb(114,73,56)" opacity="0.61"/>
<circle cx="252.0" cy="170.5" r="0.59" fill="rgb(114,73,56)" opacity="0.54"/>
<circle cx="255.5" cy="174.1" r="0.72" fill="rgb(114,73,56)" opacity="0.62"/>
<circle cx="244.5" cy="169.9" r="0.69" fill="rgb(114,73,56)" opacity="0.57"/>
<circle cx="250.6" cy="171.3" r="0.62" fill="rgb(114,73,56)" opacity="0.68"/>
<circle cx="253.1" cy="170.5" r="0.60" fill="rgb(114,73,56)" opacity="0.64"/>
<circle cx="245.1" cy="171.8" r="0.72" fill="rgb(114,73,56)" opacity="0.60"/>
<circle cx="247.1" cy="170.7" r="0.42" fill="rgb(114,73,56)" opacity="0.85"/>
<circle cx="257.0" cy="173.2" r="0.69" fill="rgb(114,73,56)" opacity="0.61"/>
<circle cx="251.5" cy="170.4" r="0.73" fill="rgb(114,73,56)" opacity="0.75"/>
<circle cx="244.5" cy="174.9" r="0.45" fill="rgb(114,73,56)" opacity="0.96"/>
<circle cx="249.3" cy="172.2" r="0.67" fill="rgb(114,73,56)" opacity="0.88"/>
<circle cx="252.6" cy="174.4" r="0.73" fill="rgb(114,73,56)" opacity="0.70"/>
<circle cx="247.1" cy="175.4" r="0.63" fill="rgb(114,73,56)" opacity="0.70"/>
<circle cx="248.3" cy="171.5" r="0.59" fill="rgb(114,73,56)" opacity="0.67"/>
<circle cx="250.7" cy="168.3" r="0.64" fill="rgb(114,73,56)" opacity="0.58"/>
<circle cx="255.3" cy="166.0" r="0.49" fill="rgb(114,73,56)" opacity="0.55"/>
<circle cx="252.8" cy="170.8" r="0.73" fill="rgb(114,73,56)" opacity="0.90"/>
<circle cx="250.7" cy="170.3" r="0.57" fill="rgb(114,73,56)" opacity="0.73"/>
<circle cx="252.5" cy="170.4" r="0.67" fill="rgb(114,73,56)" opacity="0.57"/>
<circle cx="254.6" cy="169.5" r="0.53" fill="rgb(114,73,56)" opacity="0.58"/>
<circle cx="244.1" cy="180.7" r="0.46" fill="rgb(114,73,56)" opacity="0.77"/>
<circle cx="250.0" cy="172.7" r="0.39" fill="rgb(114,73,56)" opacity="0.53"/>
<circle cx="249.9" cy="171.6" r="0.53" fill="rgb(114,73,56)" opacity="0.57"/>
<circle cx="250.8" cy="170.1" r="0.65" fill="rgb(114,73,56)" opacity="0.52"/>
<circle cx="248.4" cy="169.2" r="0.53" fill="rgb(114,73,56)" opacity="0.85"/>
<circle cx="244.4" cy="168.1" r="0.38" fill="rgb(114,73,56)" opacity="0.65"/>
<circle cx="250.7" cy="169.4" r="0.51" fill="rgb(114,73,56)" opacity="0.55"/>
<circle cx="251.2" cy="171.0" r="0.37" fill="rgb(114,73,56)" opacity="0.82"/>
<circle cx="257.2" cy="169.0" r="0.43" fill="rgb(114,73,56)" opacity="0.81"/>
<circle cx="197.8" cy="186.2" r="0.59" fill="rgb(114,73,56)" opacity="0.56"/>
<circle cx="212.6" cy="186.6" r="0.58" fill="rgb(114,73,56)" opacity="0.87"/>
<circle cx="217.3" cy="186.3" r="0.59" fill="rgb(114,73,56)" opacity="0.85"/>
<circle cx="193.4" cy="184.6" r="0.58" fill="rgb(114,73,56)" opacity="0.74"/>
<circle cx="182.8" cy="185.3" r="0.43" fill="rgb(114,73,56)" opacity="0.77"/>
<circle cx="171.1" cy="189.1" r="0.59" fill="rgb(114,73,56)" opacity="0.70"/>
<circle cx="200.2" cy="190.2" r="0.53" fill="rgb(114,73,56)" opacity="0.83"/>
<circle cx="197.3" cy="182.6" r="0.53" fill="rgb(114,73,56)" opacity="0.50"/>
<circle cx="240.8" cy="186.6" r="0.55" fill="rgb(114,73,56)" opacity="0.91"/>
<circle cx="227.6" cy="194.1" r="0.63" fill="rgb(114,73,56)" opacity="0.81"/>
<circle cx="166.3" cy="183.3" r="0.37" fill="rgb(114,73,56)" opacity="0.61"/>
<circle cx="168.1" cy="184.0" r="0.43" fill="rgb(114,73,56)" opacity="0.97"/>
<circle cx="199.2" cy="185.4" r="0.32" fill="rgb(114,73,56)" opacity="1.00"/>
<circle cx="176.3" cy="185.7" r="0.60" fill="rgb(114,73,56)" opacity="0.65"/>
<circle cx="219.4" cy="187.1" r="0.62" fill="rgb(114,73,56)" opacity="0.70"/>
<circle cx="217.0" cy="185.2" r="0.62" fill="rgb(114,73,56)" opacity="0.81"/>
<circle cx="181.8" cy="186.2" r="0.43" fill="rgb(114,73,56)" opacity="0.59"/>
<circle cx="170.0" cy="185.0" r="0.49" fill="rgb(114,73,56)" opacity="0.77"/>
<circle cx="201.2" cy="190.0" r="0.39" fill="rgb(114,73,56)" opacity="0.65"/>
<circle cx="161.2" cy="187.3" r="0.40" fill="rgb(114,73,56)" opacity="0.61"/>
<circle cx="242.9" cy="182.7" r="0.39" fill="rgb(114,73,56)" opacity="0.65"/>
<circle cx="211.5" cy="186.4" r="0.34" fill="rgb(114,73,56)" opacity="0.78"/>
<circle cx="165.9" cy="185.2" r="0.58" fill="rgb(114,73,56)" opacity="0.74"/>
<circle cx="185.9" cy="183.6" r="0.56" fill="rgb(114,73,56)" opacity="0.96"/>
<circle cx="199.7" cy="185.7" r="0.56" fill="rgb(114,73,56)" opacity="0.51"/>
<circle cx="232.9" cy="187.6" r="0.35" fill="rgb(114,73,56)" opacity="0.58"/>
<circle cx="216.7" cy="189.5" r="0.57" fill="rgb(114,73,56)" opacity="0.75"/>
<circle cx="180.2" cy="183.8" r="0.51" fill="rgb(114,73,56)" opacity="0.54"/>
<circle cx="178.6" cy="186.7" r="0.47" fill="rgb(114,73,56)" opacity="0.99"/>
<circle cx="226.1" cy="188.8" r="0.50" fill="rgb(114,73,56)" opacity="0.83"/>
<circle cx="200.6" cy="190.6" r="0.48" fill="rgb(114,73,56)" opacity="0.96"/>
<circle cx="268.2" cy="188.1" r="0.50" fill="rgb(114,73,56)" opacity="0.96"/>
<circle cx="241.4" cy="187.7" r="0.32" fill="rgb(114,73,56)" opacity="0.61"/>
<circle cx="205.9" cy="183.0" r="0.48" fill="rgb(114,73,56)" opacity="0.99"/>
<circle cx="163.8" cy="183.3" r="0.50" fill="rgb(114,73,56)" opacity="0.63"/>
<circle cx="243.0" cy="185.4" r="0.32" fill="rgb(114,73,56)" opacity="0.71"/>
<circle cx="198.1" cy="186.3" r="0.45" fill="rgb(114,73,56)" opacity="0.54"/>
<circle cx="246.5" cy="159.6" r="0.29" fill="rgb(146,102,82)" opacity="0.56"/>
<circle cx="244.3" cy="168.5" r="0.31" fill="rgb(146,102,82)" opacity="0.74"/>
<circle cx="198.6" cy="158.4" r="0.56" fill="rgb(146,102,82)" opacity="0.68"/>
<circle cx="199.8" cy="164.6" r="0.33" fill="rgb(146,102,82)" opacity="0.79"/>
<circle cx="256.7" cy="158.7" r="0.38" fill="rgb(146,102,82)" opacity="0.86"/>
<circle cx="236.1" cy="163.3" r="0.36" fill="rgb(146,102,82)" opacity="0.98"/>
<circle cx="197.1" cy="142.8" r="0.60" fill="rgb(146,102,82)" opacity="0.83"/>
<circle cx="220.2" cy="185.1" r="0.56" fill="rgb(146,102,82)" opacity="0.50"/>
<circle cx="220.8" cy="164.0" r="0.36" fill="rgb(146,102,82)" opacity="0.74"/>
<circle cx="205.5" cy="176.2" r="0.41" fill="rgb(146,102,82)" opacity="0.54"/>
<circle cx="205.9" cy="153.0" r="0.34" fill="rgb(146,102,82)" opacity="0.85"/>
<circle cx="241.9" cy="171.4" r="0.42" fill="rgb(146,102,82)" opacity="0.56"/>
<circle cx="179.0" cy="159.5" r="0.30" fill="rgb(146,102,82)" opacity="0.95"/>
<circle cx="190.9" cy="153.1" r="0.53" fill="rgb(146,102,82)" opacity="0.59"/>
<circle cx="212.3" cy="162.8" r="0.54" fill="rgb(146,102,82)" opacity="0.97"/>
<circle cx="186.4" cy="159.1" r="0.59" fill="rgb(146,102,82)" opacity="0.76"/>
<circle cx="252.0" cy="170.8" r="0.59" fill="rgb(146,102,82)" opacity="0.56"/>
<circle cx="236.6" cy="177.5" r="0.29" fill="rgb(146,102,82)" opacity="0.60"/>
<circle cx="252.2" cy="161.6" r="0.41" fill="rgb(146,102,82)" opacity="0.51"/>
<circle cx="214.3" cy="161.4" r="0.38" fill="rgb(146,102,82)" opacity="0.55"/>
<circle cx="187.6" cy="166.7" r="0.46" fill="rgb(146,102,82)" opacity="0.52"/>
<circle cx="198.4" cy="161.2" r="0.57" fill="rgb(146,102,82)" opacity="0.60"/>
<circle cx="193.0" cy="164.6" r="0.31" fill="rgb(146,102,82)" opacity="0.75"/>
<circle cx="198.7" cy="164.6" r="0.34" fill="rgb(146,102,82)" opacity="0.75"/>
<circle cx="242.5" cy="152.3" r="0.38" fill="rgb(146,102,82)" opacity="0.69"/>
<circle cx="217.0" cy="175.7" r="0.42" fill="rgb(146,102,82)" opacity="0.80"/>
<circle cx="209.9" cy="171.9" r="0.58" fill="rgb(146,102,82)" opacity="0.78"/>
<circle cx="208.2" cy="155.1" r="0.31" fill="rgb(146,102,82)" opacity="0.92"/>
<circle cx="228.5" cy="156.3" r="0.52" fill="rgb(146,102,82)" opacity="0.75"/>
<circle cx="243.2" cy="161.5" r="0.43" fill="rgb(146,102,82)" opacity="0.95"/>
<circle cx="216.2" cy="158.7" r="0.42" fill="rgb(146,102,82)" opacity="0.72"/>
<circle cx="214.4" cy="148.2" r="0.43" fill="rgb(146,102,82)" opacity="0.85"/>
<circle cx="220.1" cy="161.2" r="0.35" fill="rgb(146,102,82)" opacity="0.64"/>
<circle cx="216.7" cy="185.4" r="0.29" fill="rgb(146,102,82)" opacity="0.61"/>
<circle cx="193.7" cy="153.3" r="0.50" fill="rgb(146,102,82)" opacity="0.65"/>
<circle cx="247.8" cy="170.9" r="0.52" fill="rgb(146,102,82)" opacity="0.82"/>
<circle cx="180.1" cy="158.9" r="0.30" fill="rgb(146,102,82)" opacity="0.90"/>
<circle cx="229.3" cy="160.7" r="0.41" fill="rgb(146,102,82)" opacity="0.99"/>
<circle cx="237.2" cy="170.6" r="0.55" fill="rgb(146,102,82)" opacity="0.58"/>
<circle cx="251.4" cy="154.2" r="0.35" fill="rgb(146,102,82)" opacity="0.96"/>
<circle cx="169.8" cy="154.6" r="0.57" fill="rgb(146,102,82)" opacity="0.55"/>
<circle cx="240.6" cy="175.8" r="0.34" fill="rgb(146,102,82)" opacity="0.67"/>
<circle cx="209.6" cy="145.9" r="0.41" fill="rgb(146,102,82)" opacity="0.71"/>
<circle cx="191.9" cy="140.9" r="0.48" fill="rgb(146,102,82)" opacity="0.67"/>
<circle cx="196.2" cy="160.1" r="0.48" fill="rgb(146,102,82)" opacity="0.86"/>
<circle cx="226.0" cy="176.1" r="0.47" fill="rgb(146,102,82)" opacity="0.79"/>
<circle cx="194.4" cy="175.1" r="0.29" fill="rgb(146,102,82)" opacity="0.77"/>
<circle cx="192.0" cy="150.8" r="0.59" fill="rgb(146,102,82)" opacity="0.82"/>
<circle cx="182.1" cy="165.4" r="0.42" fill="rgb(146,102,82)" opacity="0.98"/>
<circle cx="229.0" cy="162.9" r="0.30" fill="rgb(146,102,82)" opacity="0.52"/>
<circle cx="246.0" cy="159.2" r="0.48" fill="rgb(146,102,82)" opacity="0.66"/>
<circle cx="209.8" cy="162.2" r="0.35" fill="rgb(146,102,82)" opacity="0.87"/>
<circle cx="198.6" cy="160.7" r="0.49" fill="rgb(146,102,82)" opacity="0.99"/>
<circle cx="265.7" cy="157.9" r="0.51" fill="rgb(146,102,82)" opacity="0.50"/>
<circle cx="257.2" cy="159.7" r="0.45" fill="rgb(146,102,82)" opacity="0.92"/>
<circle cx="252.8" cy="166.0" r="0.31" fill="rgb(146,102,82)" opacity="0.88"/>
<circle cx="200.9" cy="145.0" r="0.53" fill="rgb(146,102,82)" opacity="0.99"/>
<circle cx="231.4" cy="151.6" r="0.38" fill="rgb(146,102,82)" opacity="0.82"/>
<circle cx="217.0" cy="164.0" r="0.47" fill="rgb(146,102,82)" opacity="0.72"/>
<circle cx="188.8" cy="172.7" r="0.49" fill="rgb(146,102,82)" opacity="0.99"/>
<circle cx="207.3" cy="152.7" r="0.32" fill="rgb(146,102,82)" opacity="0.75"/>
<circle cx="175.5" cy="164.2" r="0.57" fill="rgb(146,102,82)" opacity="0.60"/>
<circle cx="179.8" cy="160.3" r="0.59" fill="rgb(146,102,82)" opacity="0.67"/>
<circle cx="199.5" cy="159.6" r="0.41" fill="rgb(146,102,82)" opacity="0.82"/>
<circle cx="211.5" cy="159.0" r="0.40" fill="rgb(146,102,82)" opacity="0.75"/>
<circle cx="150.5" cy="170.6" r="0.45" fill="rgb(146,102,82)" opacity="0.96"/>
<circle cx="253.5" cy="170.3" r="0.53" fill="rgb(146,102,82)" opacity="0.56"/>
<circle cx="184.3" cy="164.2" r="0.31" fill="rgb(146,102,82)" opacity="0.79"/>
<circle cx="252.8" cy="160.5" r="0.45" fill="rgb(146,102,82)" opacity="0.70"/>
<circle cx="229.9" cy="168.7" r="0.58" fill="rgb(146,102,82)" opacity="0.82"/>
<circle cx="185.3" cy="167.0" r="0.55" fill="rgb(146,102,82)" opacity="0.88"/>
<circle cx="194.1" cy="169.4" r="0.39" fill="rgb(146,102,82)" opacity="0.53"/>
<circle cx="194.4" cy="161.4" r="0.40" fill="rgb(146,102,82)" opacity="0.93"/>
<circle cx="199.0" cy="179.2" r="0.29" fill="rgb(146,102,82)" opacity="0.57"/>
<circle cx="240.3" cy="153.0" r="0.53" fill="rgb(146,102,82)" opacity="0.95"/>
<path d="M176 131 L262 131 L262 145.3 L260.0 145.3 L257.9 145.2 L255.8 145.2 L253.7 145.1 L251.6 145.1 L249.5 145.0 L247.4 144.9 L245.3 144.9 L243.2 144.8 L241.1 144.7 L239.0 144.6 L236.9 144.5 L234.8 144.5 L232.7 144.4 L230.6 144.4 L228.5 144.4 L226.4 144.4 L224.3 144.5 L222.2 144.6 L220.1 144.7 L217.9 144.9 L215.8 145.1 L213.7 145.3 L211.6 145.6 L209.5 145.9 L207.4 146.3 L205.3 146.7 L203.2 147.1 L201.1 147.6 L199.0 148.0 L196.9 148.4 L194.8 148.7 L192.7 149.0 L190.6 149.2 L188.5 149.4 L186.4 149.4 L184.3 149.5 L182.2 149.5 L180.1 149.5 L178.0 149.5 L176 149.5 Z" fill="rgb(210,206,210)"/>
</g>
<rect x="179.5" y="192.0" width="8.5" height="1.1" fill="rgb(120,160,230)"/>
</g>
<rect x="178.68" y="133.68" width="80.65" height="60.65" fill="none" stroke="#303030" stroke-width="1.35"/>
<clipPath id="hc4"><rect x="262" y="133" width="83" height="62"/></clipPath>
<linearGradient id="dg4" x1="0" y1="0" x2="0" y2="1"><stop offset="0" stop-color="rgb(190,188,202)"/><stop offset="0.45" stop-color="rgb(199,196,202)"/><stop offset="0.6" stop-color="rgb(206,202,203)"/><stop offset="1" stop-color="rgb(212,208,205)"/></linearGradient>
<filter id="mf4_0" x="0" y="0" width="100%" height="100%" color-interpolation-filters="sRGB"><feTurbulence type="fractalNoise" baseFrequency="0.6" numOctaves="3" seed="108"/><feColorMatrix type="matrix" values="0 0 0 0 0.660 0 0 0 0 0.653 0 0 0 0 0.749 3.2 0 0 0 -1.5"/></filter>
<filter id="mf4_1" x="0" y="0" width="100%" height="100%" color-interpolation-filters="sRGB"><feTurbulence type="fractalNoise" baseFrequency="0.2" numOctaves="3" seed="17"/><feColorMatrix type="matrix" values="0 0 0 0 0.854 0 0 0 0 0.844 0 0 0 0 0.847 2.5 0 0 0 -1.2"/></filter>
<filter id="mf4_2" x="0" y="0" width="100%" height="100%" color-interpolation-filters="sRGB"><feTurbulence type="fractalNoise" baseFrequency="0.6" numOctaves="3" seed="19"/><feColorMatrix type="matrix" values="0 0 0 0 0.660 0 0 0 0 0.653 0 0 0 0 0.749 3.2 0 0 0 -1.5"/></filter>
<g clip-path="url(#hc4)"><g filter="url(#soft)">
<rect x="262" y="133" width="83" height="62" fill="url(#dg4)"/>
<path d="M262.0 144.0 L264.1 143.6 L266.3 143.4 L268.4 143.2 L270.5 143.3 L272.6 143.6 L274.8 144.2 L276.9 144.9 L279.0 145.4 L281.2 145.5 L283.3 145.2 L285.4 144.8 L287.5 144.4 L289.7 144.2 L291.8 144.5 L293.9 145.4 L296.1 147.2 L298.2 149.2 L300.3 149.5 L302.4 147.3 L304.6 145.0 L306.7 144.0 L308.8 143.9 L310.9 144.3 L313.1 144.8 L315.2 145.1 L317.3 145.3 L319.5 145.5 L321.6 145.5 L323.7 145.5 L325.8 145.4 L328.0 145.4 L330.1 145.5 L332.2 145.7 L334.4 146.2 L336.5 146.7 L338.6 147.1 L340.7 147.2 L342.9 147.0 L345.0 146.5 L345.0 157.0 L342.9 156.6 L340.7 156.2 L338.6 155.9 L336.5 155.6 L334.4 155.3 L332.2 155.1 L330.1 155.0 L328.0 155.0 L325.8 155.1 L323.7 155.2 L321.6 155.4 L319.5 155.7 L317.3 155.9 L315.2 156.2 L313.1 156.5 L310.9 156.7 L308.8 156.9 L306.7 157.0 L304.6 157.0 L302.4 156.9 L300.3 156.8 L298.2 156.5 L296.1 156.2 L293.9 155.9 L291.8 155.6 L289.7 155.3 L287.5 155.1 L285.4 154.9 L283.3 154.8 L281.2 154.8 L279.0 154.9 L276.9 155.0 L274.8 155.2 L272.6 155.4 L270.5 155.7 L268.4 156.0 L266.3 156.3 L264.1 156.7 L262.0 157.0 Z" fill="rgb(186,185,204)" opacity="0.9" filter="url(#soft2)"/>
<clipPath id="tc4"><path d="M260 197 L260.0 144.0 L262.0 144.0 L264.1 143.6 L266.3 143.4 L268.4 143.2 L270.5 143.3 L272.6 143.6 L274.8 144.2 L276.9 144.9 L279.0 145.4 L281.2 145.5 L283.3 145.2 L285.4 144.8 L287.5 144.4 L289.7 144.2 L291.8 144.5 L293.9 145.4 L296.1 147.2 L298.2 149.2 L300.3 149.5 L302.4 147.3 L304.6 145.0 L306.7 144.0 L308.8 143.9 L310.9 144.3 L313.1 144.8 L315.2 145.1 L317.3 145.3 L319.5 145.5 L321.6 145.5 L323.7 145.5 L325.8 145.4 L328.0 145.4 L330.1 145.5 L332.2 145.7 L334.4 146.2 L336.5 146.7 L338.6 147.1 L340.7 147.2 L342.9 147.0 L345.0 146.5 L347.0 146.5 L347 197 Z"/></clipPath>
<linearGradient id="mg4_0" gradientUnits="userSpaceOnUse" x1="0" y1="133" x2="0" y2="195"><stop offset="0.000" stop-color="#fff" stop-opacity="1"/><stop offset="1.000" stop-color="#fff" stop-opacity="1"/></linearGradient>
<mask id="mk4_0" maskUnits="userSpaceOnUse" x="262" y="133" width="83" height="62"><rect x="262" y="133" width="83" height="62" fill="url(#mg4_0)"/></mask>
<g mask="url(#mk4_0)"><rect x="262" y="133" width="83" height="62" filter="url(#mf4_0)" clip-path="url(#tc4)" opacity="0.35"/></g>
<linearGradient id="mg4_1" gradientUnits="userSpaceOnUse" x1="0" y1="133" x2="0" y2="195"><stop offset="0.270" stop-color="#fff" stop-opacity="0"/><stop offset="0.430" stop-color="#fff" stop-opacity="1"/><stop offset="1.000" stop-color="#fff" stop-opacity="1"/></linearGradient>
<mask id="mk4_1" maskUnits="userSpaceOnUse" x="262" y="133" width="83" height="62"><rect x="262" y="133" width="83" height="62" fill="url(#mg4_1)"/></mask>
<g mask="url(#mk4_1)"><rect x="262" y="133" width="83" height="62" filter="url(#mf4_1)" clip-path="url(#tc4)" opacity="0.6"/></g>
<linearGradient id="mg4_2" gradientUnits="userSpaceOnUse" x1="0" y1="133" x2="0" y2="195"><stop offset="0.220" stop-color="#fff" stop-opacity="0"/><stop offset="0.380" stop-color="#fff" stop-opacity="1"/><stop offset="0.520" stop-color="#fff" stop-opacity="1"/><stop offset="0.680" stop-color="#fff" stop-opacity="0"/></linearGradient>
<mask id="mk4_2" maskUnits="userSpaceOnUse" x="262" y="133" width="83" height="62"><rect x="262" y="133" width="83" height="62" fill="url(#mg4_2)"/></mask>
<g mask="url(#mk4_2)"><rect x="262" y="133" width="83" height="62" filter="url(#mf4_2)" clip-path="url(#tc4)" opacity="0.5"/></g>
<circle cx="330.0" cy="159.6" r="0.90" fill="rgb(151,151,195)" opacity="0.6"/>
<circle cx="265.8" cy="171.9" r="0.61" fill="rgb(151,151,195)" opacity="0.6"/>
<circle cx="264.0" cy="160.4" r="0.90" fill="rgb(151,151,195)" opacity="0.6"/>
<circle cx="342.5" cy="166.5" r="0.90" fill="rgb(151,151,195)" opacity="0.6"/>
<circle cx="323.3" cy="153.0" r="0.72" fill="rgb(151,151,195)" opacity="0.6"/>
<circle cx="279.0" cy="163.7" r="0.77" fill="rgb(151,151,195)" opacity="0.6"/>
<circle cx="279.2" cy="166.9" r="0.45" fill="rgb(151,151,195)" opacity="0.6"/>
<circle cx="288.7" cy="164.8" r="0.50" fill="rgb(151,151,195)" opacity="0.6"/>
<circle cx="270.1" cy="169.2" r="0.49" fill="rgb(151,151,195)" opacity="0.6"/>
<circle cx="339.7" cy="162.8" r="0.62" fill="rgb(151,151,195)" opacity="0.6"/>
<circle cx="267.3" cy="186.9" r="0.54" fill="rgb(151,151,195)" opacity="0.6"/>
<circle cx="268.3" cy="167.7" r="0.86" fill="rgb(151,151,195)" opacity="0.6"/>
<circle cx="338.2" cy="171.8" r="0.71" fill="rgb(151,151,195)" opacity="0.6"/>
<circle cx="268.1" cy="190.8" r="0.79" fill="rgb(151,151,195)" opacity="0.6"/>
<circle cx="282.4" cy="188.1" r="0.52" fill="rgb(151,151,195)" opacity="0.6"/>
<circle cx="302.1" cy="164.0" r="0.71" fill="rgb(151,151,195)" opacity="0.6"/>
<circle cx="282.8" cy="175.2" r="0.56" fill="rgb(151,151,195)" opacity="0.6"/>
<circle cx="263.3" cy="156.5" r="0.80" fill="rgb(151,151,195)" opacity="0.6"/>
<circle cx="299.1" cy="173.8" r="0.75" fill="rgb(151,151,195)" opacity="0.6"/>
<circle cx="283.2" cy="159.8" r="0.63" fill="rgb(151,151,195)" opacity="0.6"/>
<circle cx="324.4" cy="183.4" r="0.66" fill="rgb(151,151,195)" opacity="0.6"/>
<circle cx="312.4" cy="162.7" r="0.88" fill="rgb(151,151,195)" opacity="0.6"/>
<circle cx="315.1" cy="186.5" r="0.62" fill="rgb(151,151,195)" opacity="0.6"/>
<circle cx="310.0" cy="182.4" r="0.69" fill="rgb(151,151,195)" opacity="0.6"/>
<circle cx="325.1" cy="163.4" r="0.80" fill="rgb(151,151,195)" opacity="0.6"/>
<circle cx="288.4" cy="174.0" r="0.51" fill="rgb(151,151,195)" opacity="0.6"/>
<circle cx="295.5" cy="190.1" r="0.46" fill="rgb(151,151,195)" opacity="0.6"/>
<circle cx="277.6" cy="175.1" r="0.75" fill="rgb(151,151,195)" opacity="0.6"/>
<circle cx="319.0" cy="181.4" r="0.77" fill="rgb(151,151,195)" opacity="0.6"/>
<circle cx="312.0" cy="158.3" r="0.69" fill="rgb(151,151,195)" opacity="0.6"/>
<circle cx="285.3" cy="151.8" r="0.68" fill="rgb(151,151,195)" opacity="0.6"/>
<circle cx="342.9" cy="171.8" r="0.79" fill="rgb(151,151,195)" opacity="0.6"/>
<circle cx="313.7" cy="153.2" r="0.70" fill="rgb(151,151,195)" opacity="0.6"/>
<circle cx="344.0" cy="180.0" r="0.58" fill="rgb(151,151,195)" opacity="0.6"/>
<circle cx="337.1" cy="180.6" r="0.87" fill="rgb(151,151,195)" opacity="0.6"/>
<circle cx="332.4" cy="176.9" r="0.66" fill="rgb(151,151,195)" opacity="0.6"/>
<circle cx="306.0" cy="165.5" r="0.83" fill="rgb(151,151,195)" opacity="0.6"/>
<circle cx="272.6" cy="194.5" r="0.60" fill="rgb(151,151,195)" opacity="0.6"/>
<circle cx="298.5" cy="178.0" r="0.59" fill="rgb(151,151,195)" opacity="0.6"/>
<circle cx="312.5" cy="154.0" r="0.84" fill="rgb(151,151,195)" opacity="0.6"/>
<circle cx="270.7" cy="189.5" r="0.84" fill="rgb(151,151,195)" opacity="0.6"/>
<circle cx="327.3" cy="184.2" r="0.53" fill="rgb(151,151,195)" opacity="0.6"/>
<circle cx="309.1" cy="154.3" r="0.79" fill="rgb(151,151,195)" opacity="0.6"/>
<circle cx="327.4" cy="160.7" r="0.65" fill="rgb(151,151,195)" opacity="0.6"/>
<circle cx="269.5" cy="180.6" r="0.76" fill="rgb(151,151,195)" opacity="0.6"/>
<circle cx="338.3" cy="154.7" r="0.34" fill="rgb(114,73,56)" opacity="0.89"/>
<circle cx="314.3" cy="149.8" r="0.54" fill="rgb(114,73,56)" opacity="0.55"/>
<circle cx="319.2" cy="151.2" r="0.50" fill="rgb(114,73,56)" opacity="0.88"/>
<circle cx="313.4" cy="156.3" r="0.56" fill="rgb(114,73,56)" opacity="0.95"/>
<circle cx="307.3" cy="152.3" r="0.42" fill="rgb(114,73,56)" opacity="0.71"/>
<circle cx="276.2" cy="153.7" r="0.36" fill="rgb(114,73,56)" opacity="0.68"/>
<circle cx="344.6" cy="155.7" r="0.65" fill="rgb(114,73,56)" opacity="0.95"/>
<circle cx="248.2" cy="153.6" r="0.68" fill="rgb(114,73,56)" opacity="0.50"/>
<circle cx="321.5" cy="152.1" r="0.44" fill="rgb(114,73,56)" opacity="0.68"/>
<circle cx="333.3" cy="158.3" r="0.53" fill="rgb(114,73,56)" opacity="0.80"/>
<circle cx="292.0" cy="151.7" r="0.52" fill="rgb(114,73,56)" opacity="0.77"/>
<circle cx="282.2" cy="154.8" r="0.68" fill="rgb(114,73,56)" opacity="0.82"/>
<circle cx="267.3" cy="155.9" r="0.56" fill="rgb(114,73,56)" opacity="0.52"/>
<circle cx="286.6" cy="154.4" r="0.47" fill="rgb(114,73,56)" opacity="0.61"/>
<circle cx="302.8" cy="153.9" r="0.37" fill="rgb(114,73,56)" opacity="0.63"/>
<circle cx="301.3" cy="153.0" r="0.63" fill="rgb(114,73,56)" opacity="0.71"/>
<circle cx="370.2" cy="156.0" r="0.47" fill="rgb(114,73,56)" opacity="0.68"/>
<circle cx="319.1" cy="154.1" r="0.67" fill="rgb(114,73,56)" opacity="0.75"/>
<circle cx="295.8" cy="157.1" r="0.36" fill="rgb(114,73,56)" opacity="0.58"/>
<circle cx="326.3" cy="151.4" r="0.44" fill="rgb(114,73,56)" opacity="0.93"/>
<circle cx="282.4" cy="157.5" r="0.61" fill="rgb(114,73,56)" opacity="0.93"/>
<circle cx="290.0" cy="161.0" r="0.41" fill="rgb(114,73,56)" opacity="0.63"/>
<circle cx="341.8" cy="156.3" r="0.52" fill="rgb(114,73,56)" opacity="0.73"/>
<circle cx="307.0" cy="152.2" r="0.49" fill="rgb(114,73,56)" opacity="0.84"/>
<circle cx="326.8" cy="154.0" r="0.46" fill="rgb(114,73,56)" opacity="0.73"/>
<circle cx="300.2" cy="157.0" r="0.67" fill="rgb(114,73,56)" opacity="0.62"/>
<circle cx="284.8" cy="154.9" r="0.51" fill="rgb(114,73,56)" opacity="0.68"/>
<circle cx="326.7" cy="156.2" r="0.63" fill="rgb(114,73,56)" opacity="0.69"/>
<circle cx="335.3" cy="158.2" r="0.39" fill="rgb(114,73,56)" opacity="0.78"/>
<circle cx="306.6" cy="151.1" r="0.44" fill="rgb(114,73,56)" opacity="0.80"/>
<circle cx="319.0" cy="154.9" r="0.62" fill="rgb(114,73,56)" opacity="0.90"/>
<circle cx="305.4" cy="152.8" r="0.43" fill="rgb(114,73,56)" opacity="0.83"/>
<circle cx="302.1" cy="150.1" r="0.49" fill="rgb(114,73,56)" opacity="0.53"/>
<circle cx="310.5" cy="154.4" r="0.52" fill="rgb(114,73,56)" opacity="0.66"/>
<circle cx="346.5" cy="157.1" r="0.35" fill="rgb(114,73,56)" opacity="0.67"/>
<circle cx="309.4" cy="150.4" r="0.41" fill="rgb(114,73,56)" opacity="0.98"/>
<circle cx="322.0" cy="155.0" r="0.48" fill="rgb(114,73,56)" opacity="0.82"/>
<circle cx="311.9" cy="153.8" r="0.53" fill="rgb(114,73,56)" opacity="0.80"/>
<circle cx="296.6" cy="153.2" r="0.42" fill="rgb(114,73,56)" opacity="0.57"/>
<circle cx="289.4" cy="153.6" r="0.46" fill="rgb(114,73,56)" opacity="0.98"/>
<circle cx="268.4" cy="156.8" r="0.57" fill="rgb(114,73,56)" opacity="0.75"/>
<circle cx="322.1" cy="152.9" r="0.60" fill="rgb(114,73,56)" opacity="0.71"/>
<circle cx="305.9" cy="152.2" r="0.40" fill="rgb(114,73,56)" opacity="0.69"/>
<circle cx="275.8" cy="154.5" r="0.54" fill="rgb(114,73,56)" opacity="0.85"/>
<circle cx="370.9" cy="155.3" r="0.63" fill="rgb(114,73,56)" opacity="0.71"/>
<circle cx="301.2" cy="156.0" r="0.55" fill="rgb(114,73,56)" opacity="0.56"/>
<circle cx="298.0" cy="157.6" r="0.58" fill="rgb(114,73,56)" opacity="0.87"/>
<circle cx="289.9" cy="153.7" r="0.46" fill="rgb(114,73,56)" opacity="0.53"/>
<circle cx="284.5" cy="155.9" r="0.63" fill="rgb(114,73,56)" opacity="0.62"/>
<circle cx="301.2" cy="155.4" r="0.47" fill="rgb(114,73,56)" opacity="0.84"/>
<circle cx="342.4" cy="156.0" r="0.38" fill="rgb(114,73,56)" opacity="0.64"/>
<circle cx="305.4" cy="152.5" r="0.69" fill="rgb(114,73,56)" opacity="0.92"/>
<circle cx="326.0" cy="154.8" r="0.63" fill="rgb(114,73,56)" opacity="0.52"/>
<circle cx="289.2" cy="151.5" r="0.48" fill="rgb(114,73,56)" opacity="0.79"/>
<circle cx="285.8" cy="157.9" r="0.63" fill="rgb(114,73,56)" opacity="0.52"/>
<circle cx="294.0" cy="158.7" r="0.40" fill="rgb(114,73,56)" opacity="0.57"/>
<circle cx="336.9" cy="151.1" r="0.69" fill="rgb(114,73,56)" opacity="0.60"/>
<circle cx="305.9" cy="154.3" r="0.37" fill="rgb(114,73,56)" opacity="0.66"/>
<circle cx="322.6" cy="152.4" r="0.40" fill="rgb(114,73,56)" opacity="0.70"/>
<circle cx="289.6" cy="153.6" r="0.35" fill="rgb(114,73,56)" opacity="0.60"/>
<circle cx="304.1" cy="152.9" r="0.68" fill="rgb(114,73,56)" opacity="0.99"/>
<circle cx="277.3" cy="154.5" r="0.53" fill="rgb(114,73,56)" opacity="0.92"/>
<circle cx="340.4" cy="158.1" r="0.67" fill="rgb(114,73,56)" opacity="0.64"/>
<circle cx="248.7" cy="151.2" r="0.44" fill="rgb(114,73,56)" opacity="1.00"/>
<circle cx="322.4" cy="154.1" r="0.36" fill="rgb(114,73,56)" opacity="0.70"/>
<circle cx="294.1" cy="152.7" r="0.68" fill="rgb(114,73,56)" opacity="0.70"/>
<circle cx="292.2" cy="152.5" r="0.44" fill="rgb(114,73,56)" opacity="0.85"/>
<circle cx="298.9" cy="149.8" r="0.44" fill="rgb(114,73,56)" opacity="0.67"/>
<circle cx="266.5" cy="155.1" r="0.50" fill="rgb(114,73,56)" opacity="0.78"/>
<circle cx="304.2" cy="152.7" r="0.41" fill="rgb(114,73,56)" opacity="0.56"/>
<circle cx="301.5" cy="152.2" r="0.66" fill="rgb(114,73,56)" opacity="0.60"/>
<circle cx="263.2" cy="155.5" r="0.43" fill="rgb(114,73,56)" opacity="0.54"/>
<circle cx="369.9" cy="155.8" r="0.46" fill="rgb(114,73,56)" opacity="0.97"/>
<circle cx="315.4" cy="155.8" r="0.51" fill="rgb(114,73,56)" opacity="0.67"/>
<circle cx="297.5" cy="157.0" r="0.51" fill="rgb(114,73,56)" opacity="0.87"/>
<circle cx="254.6" cy="159.3" r="0.55" fill="rgb(114,73,56)" opacity="0.68"/>
<circle cx="282.0" cy="156.8" r="0.36" fill="rgb(114,73,56)" opacity="0.74"/>
<circle cx="260.2" cy="153.1" r="0.36" fill="rgb(114,73,56)" opacity="0.51"/>
<circle cx="344.9" cy="155.7" r="0.59" fill="rgb(114,73,56)" opacity="0.94"/>
<circle cx="300.6" cy="155.6" r="0.61" fill="rgb(114,73,56)" opacity="0.65"/>
<circle cx="325.9" cy="154.7" r="0.54" fill="rgb(114,73,56)" opacity="0.72"/>
<circle cx="307.6" cy="155.7" r="0.66" fill="rgb(114,73,56)" opacity="0.95"/>
<circle cx="282.8" cy="158.9" r="0.45" fill="rgb(114,73,56)" opacity="0.67"/>
<circle cx="256.5" cy="158.3" r="0.34" fill="rgb(114,73,56)" opacity="0.68"/>
<circle cx="269.1" cy="160.6" r="0.44" fill="rgb(114,73,56)" opacity="0.82"/>
<circle cx="266.8" cy="162.5" r="0.55" fill="rgb(114,73,56)" opacity="0.86"/>
<circle cx="288.8" cy="161.7" r="0.53" fill="rgb(114,73,56)" opacity="0.90"/>
<circle cx="299.0" cy="160.6" r="0.49" fill="rgb(114,73,56)" opacity="0.51"/>
<circle cx="287.9" cy="156.3" r="0.39" fill="rgb(114,73,56)" opacity="0.80"/>
<circle cx="289.2" cy="165.1" r="0.57" fill="rgb(114,73,56)" opacity="0.93"/>
<circle cx="304.9" cy="159.6" r="0.49" fill="rgb(114,73,56)" opacity="0.76"/>
<circle cx="302.5" cy="162.7" r="0.61" fill="rgb(114,73,56)" opacity="0.99"/>
<circle cx="242.6" cy="160.5" r="0.52" fill="rgb(114,73,56)" opacity="0.60"/>
<circle cx="283.2" cy="166.1" r="0.62" fill="rgb(114,73,56)" opacity="0.51"/>
<circle cx="283.2" cy="163.3" r="0.54" fill="rgb(114,73,56)" opacity="0.57"/>
<circle cx="279.1" cy="165.4" r="0.38" fill="rgb(114,73,56)" opacity="0.59"/>
<circle cx="310.4" cy="161.4" r="0.40" fill="rgb(114,73,56)" opacity="0.58"/>
<circle cx="301.6" cy="163.3" r="0.45" fill="rgb(114,73,56)" opacity="0.67"/>
<circle cx="316.8" cy="166.5" r="0.44" fill="rgb(114,73,56)" opacity="0.54"/>
<circle cx="297.5" cy="162.9" r="0.56" fill="rgb(114,73,56)" opacity="0.56"/>
<circle cx="308.4" cy="161.6" r="0.54" fill="rgb(114,73,56)" opacity="0.99"/>
<circle cx="296.9" cy="161.1" r="0.37" fill="rgb(114,73,56)" opacity="0.58"/>
<circle cx="272.6" cy="160.7" r="0.56" fill="rgb(114,73,56)" opacity="0.89"/>
<circle cx="310.3" cy="159.9" r="0.45" fill="rgb(114,73,56)" opacity="0.68"/>
<circle cx="287.7" cy="161.3" r="0.55" fill="rgb(114,73,56)" opacity="0.72"/>
<circle cx="314.8" cy="159.3" r="0.40" fill="rgb(114,73,56)" opacity="0.71"/>
<circle cx="286.2" cy="160.0" r="0.32" fill="rgb(114,73,56)" opacity="0.70"/>
<circle cx="273.8" cy="163.6" r="0.34" fill="rgb(114,73,56)" opacity="0.84"/>
<circle cx="303.5" cy="160.8" r="0.41" fill="rgb(114,73,56)" opacity="0.54"/>
<circle cx="306.7" cy="162.1" r="0.61" fill="rgb(114,73,56)" opacity="0.84"/>
<circle cx="244.0" cy="160.5" r="0.49" fill="rgb(114,73,56)" opacity="0.72"/>
<circle cx="281.7" cy="161.5" r="0.37" fill="rgb(114,73,56)" opacity="0.79"/>
<circle cx="268.1" cy="165.1" r="0.42" fill="rgb(114,73,56)" opacity="0.94"/>
<circle cx="265.2" cy="171.7" r="0.53" fill="rgb(114,73,56)" opacity="0.71"/>
<circle cx="269.2" cy="175.7" r="0.38" fill="rgb(114,73,56)" opacity="0.60"/>
<circle cx="264.3" cy="171.2" r="0.42" fill="rgb(114,73,56)" opacity="0.73"/>
<circle cx="269.8" cy="165.7" r="0.45" fill="rgb(114,73,56)" opacity="0.92"/>
<circle cx="271.1" cy="169.6" r="0.32" fill="rgb(114,73,56)" opacity="0.90"/>
<circle cx="267.4" cy="171.4" r="0.55" fill="rgb(114,73,56)" opacity="0.83"/>
<circle cx="267.7" cy="175.6" r="0.57" fill="rgb(114,73,56)" opacity="0.62"/>
<circle cx="267.1" cy="166.3" r="0.39" fill="rgb(114,73,56)" opacity="0.81"/>
<circle cx="266.4" cy="171.6" r="0.52" fill="rgb(114,73,56)" opacity="0.81"/>
<circle cx="267.3" cy="173.5" r="0.41" fill="rgb(114,73,56)" opacity="0.56"/>
<circle cx="270.0" cy="169.7" r="0.36" fill="rgb(114,73,56)" opacity="0.74"/>
<circle cx="267.2" cy="164.6" r="0.47" fill="rgb(114,73,56)" opacity="0.77"/>
<circle cx="266.4" cy="172.1" r="0.36" fill="rgb(114,73,56)" opacity="0.75"/>
<path d="M260 131 L347 131 L347 146.5 L345.0 146.5 L342.9 147.0 L340.7 147.2 L338.6 147.1 L336.5 146.7 L334.4 146.2 L332.2 145.7 L330.1 145.5 L328.0 145.4 L325.8 145.4 L323.7 145.5 L321.6 145.5 L319.5 145.5 L317.3 145.3 L315.2 145.1 L313.1 144.8 L310.9 144.3 L308.8 143.9 L306.7 144.0 L304.6 145.0 L302.4 147.3 L300.3 149.5 L298.2 149.2 L296.1 147.2 L293.9 145.4 L291.8 144.5 L289.7 144.2 L287.5 144.4 L285.4 144.8 L283.3 145.2 L281.2 145.5 L279.0 145.4 L276.9 144.9 L274.8 144.2 L272.6 143.6 L270.5 143.3 L268.4 143.2 L266.3 143.4 L264.1 143.6 L262.0 144.0 L260 144.0 Z" fill="rgb(210,207,210)"/>
</g>
<rect x="263.5" y="192.0" width="8.5" height="1.1" fill="rgb(120,160,230)"/>
</g>
<rect x="262.68" y="133.68" width="81.65" height="60.65" fill="none" stroke="#303030" stroke-width="1.35"/>
<clipPath id="hc5"><rect x="7" y="220.5" width="83" height="62.30000000000001"/></clipPath>
<linearGradient id="dg5" x1="0" y1="0" x2="0" y2="1"><stop offset="0" stop-color="rgb(196,194,205)"/><stop offset="0.45" stop-color="rgb(200,197,204)"/><stop offset="0.72" stop-color="rgb(206,202,203)"/><stop offset="1" stop-color="rgb(210,206,204)"/></linearGradient>
<filter id="mf5_0" x="0" y="0" width="100%" height="100%" color-interpolation-filters="sRGB"><feTurbulence type="fractalNoise" baseFrequency="0.6" numOctaves="3" seed="110"/><feColorMatrix type="matrix" values="0 0 0 0 0.660 0 0 0 0 0.653 0 0 0 0 0.749 3.2 0 0 0 -1.5"/></filter>
<filter id="mf5_1" x="0" y="0" width="100%" height="100%" color-interpolation-filters="sRGB"><feTurbulence type="fractalNoise" baseFrequency="0.6" numOctaves="3" seed="23"/><feColorMatrix type="matrix" values="0 0 0 0 0.660 0 0 0 0 0.653 0 0 0 0 0.749 3.2 0 0 0 -1.5"/></filter>
<filter id="mf5_2" x="0" y="0" width="100%" height="100%" color-interpolation-filters="sRGB"><feTurbulence type="fractalNoise" baseFrequency="0.2" numOctaves="3" seed="21"/><feColorMatrix type="matrix" values="0 0 0 0 0.854 0 0 0 0 0.844 0 0 0 0 0.847 2.5 0 0 0 -1.2"/></filter>
<filter id="mf5_3" x="0" y="0" width="100%" height="100%" color-interpolation-filters="sRGB"><feTurbulence type="turbulence" baseFrequency="0.12" numOctaves="2" seed="22"/><feColorMatrix type="matrix" values="0 0 0 0 0.877 0 0 0 0 0.867 0 0 0 0 0.871 -5.0 0 0 0 1.1"/></filter>
<g clip-path="url(#hc5)"><g filter="url(#soft)">
<rect x="7" y="220.5" width="83" height="62.30000000000001" fill="url(#dg5)"/>
<path d="M7.0 231.3 L9.1 231.4 L11.3 231.5 L13.4 231.7 L15.5 231.8 L17.6 231.9 L19.8 232.0 L21.9 232.1 L24.0 232.2 L26.2 232.3 L28.3 232.3 L30.4 232.4 L32.5 232.4 L34.7 232.4 L36.8 232.4 L38.9 232.4 L41.1 232.4 L43.2 232.3 L45.3 232.3 L47.4 232.2 L49.6 232.0 L51.7 231.9 L53.8 231.7 L55.9 231.6 L58.1 231.4 L60.2 231.3 L62.3 231.2 L64.5 231.1 L66.6 231.0 L68.7 231.0 L70.8 231.1 L73.0 231.3 L75.1 231.5 L77.2 231.8 L79.4 232.1 L81.5 232.5 L83.6 233.0 L85.7 233.5 L87.9 234.0 L90.0 234.5 L90.0 240.5 L87.9 240.3 L85.7 240.1 L83.6 239.9 L81.5 239.8 L79.4 239.6 L77.2 239.5 L75.1 239.3 L73.0 239.2 L70.8 239.1 L68.7 239.1 L66.6 239.1 L64.5 239.1 L62.3 239.2 L60.2 239.3 L58.1 239.4 L55.9 239.6 L53.8 239.8 L51.7 240.1 L49.6 240.4 L47.4 240.7 L45.3 241.0 L43.2 241.3 L41.1 241.6 L38.9 241.9 L36.8 242.1 L34.7 242.3 L32.5 242.5 L30.4 242.5 L28.3 242.6 L26.2 242.5 L24.0 242.4 L21.9 242.3 L19.8 242.1 L17.6 241.9 L15.5 241.6 L13.4 241.4 L11.3 241.1 L9.1 240.8 L7.0 240.5 Z" fill="rgb(194,193,208)" opacity="0.6" filter="url(#soft2)"/>
<clipPath id="tc5"><path d="M5 284.8 L5.0 231.3 L7.0 231.3 L9.1 231.4 L11.3 231.5 L13.4 231.7 L15.5 231.8 L17.6 231.9 L19.8 232.0 L21.9 232.1 L24.0 232.2 L26.2 232.3 L28.3 232.3 L30.4 232.4 L32.5 232.4 L34.7 232.4 L36.8 232.4 L38.9 232.4 L41.1 232.4 L43.2 232.3 L45.3 232.3 L47.4 232.2 L49.6 232.0 L51.7 231.9 L53.8 231.7 L55.9 231.6 L58.1 231.4 L60.2 231.3 L62.3 231.2 L64.5 231.1 L66.6 231.0 L68.7 231.0 L70.8 231.1 L73.0 231.3 L75.1 231.5 L77.2 231.8 L79.4 232.1 L81.5 232.5 L83.6 233.0 L85.7 233.5 L87.9 234.0 L90.0 234.5 L92.0 234.5 L92 284.8 Z"/></clipPath>
<linearGradient id="mg5_0" gradientUnits="userSpaceOnUse" x1="0" y1="220.5" x2="0" y2="282.8"><stop offset="0.000" stop-color="#fff" stop-opacity="1"/><stop offset="1.000" stop-color="#fff" stop-opacity="1"/></linearGradient>
<mask id="mk5_0" maskUnits="userSpaceOnUse" x="7" y="220.5" width="83" height="62.30000000000001"><rect x="7" y="220.5" width="83" height="62.30000000000001" fill="url(#mg5_0)"/></mask>
<g mask="url(#mk5_0)"><rect x="7" y="220.5" width="83" height="62.30000000000001" filter="url(#mf5_0)" clip-path="url(#tc5)" opacity="0.35"/></g>
<linearGradient id="mg5_1" gradientUnits="userSpaceOnUse" x1="0" y1="220.5" x2="0" y2="282.8"><stop offset="0.070" stop-color="#fff" stop-opacity="0"/><stop offset="0.230" stop-color="#fff" stop-opacity="1"/><stop offset="0.470" stop-color="#fff" stop-opacity="1"/><stop offset="0.630" stop-color="#fff" stop-opacity="0"/></linearGradient>
<mask id="mk5_1" maskUnits="userSpaceOnUse" x="7" y="220.5" width="83" height="62.30000000000001"><rect x="7" y="220.5" width="83" height="62.30000000000001" fill="url(#mg5_1)"/></mask>
<g mask="url(#mk5_1)"><rect x="7" y="220.5" width="83" height="62.30000000000001" filter="url(#mf5_1)" clip-path="url(#tc5)" opacity="0.5"/></g>
<linearGradient id="mg5_2" gradientUnits="userSpaceOnUse" x1="0" y1="220.5" x2="0" y2="282.8"><stop offset="0.220" stop-color="#fff" stop-opacity="0"/><stop offset="0.380" stop-color="#fff" stop-opacity="1"/><stop offset="1.000" stop-color="#fff" stop-opacity="1"/></linearGradient>
<mask id="mk5_2" maskUnits="userSpaceOnUse" x="7" y="220.5" width="83" height="62.30000000000001"><rect x="7" y="220.5" width="83" height="62.30000000000001" fill="url(#mg5_2)"/></mask>
<g mask="url(#mk5_2)"><rect x="7" y="220.5" width="83" height="62.30000000000001" filter="url(#mf5_2)" clip-path="url(#tc5)" opacity="0.8"/></g>
<linearGradient id="mg5_3" gradientUnits="userSpaceOnUse" x1="0" y1="220.5" x2="0" y2="282.8"><stop offset="0.120" stop-color="#fff" stop-opacity="0"/><stop offset="0.280" stop-color="#fff" stop-opacity="1"/><stop offset="0.670" stop-color="#fff" stop-opacity="1"/><stop offset="0.830" stop-color="#fff" stop-opacity="0"/></linearGradient>
<mask id="mk5_3" maskUnits="userSpaceOnUse" x="7" y="220.5" width="83" height="62.30000000000001"><rect x="7" y="220.5" width="83" height="62.30000000000001" fill="url(#mg5_3)"/></mask>
<g mask="url(#mk5_3)"><rect x="7" y="220.5" width="83" height="62.30000000000001" filter="url(#mf5_3)" clip-path="url(#tc5)" opacity="0.7"/></g>
<circle cx="18.9" cy="277.7" r="0.58" fill="rgb(151,151,195)" opacity="0.6"/>
<circle cx="8.1" cy="267.4" r="0.75" fill="rgb(151,151,195)" opacity="0.6"/>
<circle cx="68.8" cy="258.6" r="0.86" fill="rgb(151,151,195)" opacity="0.6"/>
<circle cx="63.1" cy="279.9" r="0.81" fill="rgb(151,151,195)" opacity="0.6"/>
<circle cx="29.7" cy="258.0" r="0.54" fill="rgb(151,151,195)" opacity="0.6"/>
<circle cx="59.4" cy="256.1" r="0.66" fill="rgb(151,151,195)" opacity="0.6"/>
<circle cx="37.4" cy="246.9" r="0.72" fill="rgb(151,151,195)" opacity="0.6"/>
<circle cx="67.2" cy="254.4" r="0.51" fill="rgb(151,151,195)" opacity="0.6"/>
<circle cx="58.0" cy="266.4" r="0.70" fill="rgb(151,151,195)" opacity="0.6"/>
<circle cx="75.8" cy="280.2" r="0.79" fill="rgb(151,151,195)" opacity="0.6"/>
<circle cx="56.7" cy="280.1" r="0.70" fill="rgb(151,151,195)" opacity="0.6"/>
<circle cx="50.0" cy="248.2" r="0.59" fill="rgb(151,151,195)" opacity="0.6"/>
<circle cx="37.2" cy="250.8" r="0.57" fill="rgb(151,151,195)" opacity="0.6"/>
<circle cx="22.2" cy="243.7" r="0.70" fill="rgb(151,151,195)" opacity="0.6"/>
<circle cx="43.2" cy="274.2" r="0.78" fill="rgb(151,151,195)" opacity="0.6"/>
<circle cx="84.1" cy="278.9" r="0.50" fill="rgb(151,151,195)" opacity="0.6"/>
<circle cx="61.6" cy="279.6" r="0.49" fill="rgb(151,151,195)" opacity="0.6"/>
<circle cx="18.5" cy="240.1" r="0.53" fill="rgb(151,151,195)" opacity="0.6"/>
<circle cx="85.6" cy="277.5" r="0.51" fill="rgb(151,151,195)" opacity="0.6"/>
<circle cx="7.4" cy="243.9" r="0.84" fill="rgb(151,151,195)" opacity="0.6"/>
<circle cx="33.8" cy="264.0" r="0.61" fill="rgb(151,151,195)" opacity="0.6"/>
<circle cx="41.9" cy="266.9" r="0.87" fill="rgb(151,151,195)" opacity="0.6"/>
<circle cx="12.4" cy="257.5" r="0.77" fill="rgb(151,151,195)" opacity="0.6"/>
<circle cx="72.3" cy="266.5" r="0.58" fill="rgb(151,151,195)" opacity="0.6"/>
<circle cx="9.2" cy="249.2" r="0.70" fill="rgb(151,151,195)" opacity="0.6"/>
<circle cx="81.3" cy="264.9" r="0.72" fill="rgb(151,151,195)" opacity="0.6"/>
<circle cx="38.8" cy="271.9" r="0.89" fill="rgb(151,151,195)" opacity="0.6"/>
<circle cx="46.4" cy="267.2" r="0.69" fill="rgb(151,151,195)" opacity="0.6"/>
<circle cx="28.1" cy="278.7" r="0.48" fill="rgb(151,151,195)" opacity="0.6"/>
<circle cx="41.9" cy="279.5" r="0.71" fill="rgb(151,151,195)" opacity="0.6"/>
<circle cx="39.4" cy="248.3" r="0.62" fill="rgb(151,151,195)" opacity="0.6"/>
<circle cx="69.1" cy="268.9" r="0.73" fill="rgb(151,151,195)" opacity="0.6"/>
<circle cx="85.9" cy="255.3" r="0.58" fill="rgb(151,151,195)" opacity="0.6"/>
<circle cx="58.6" cy="279.7" r="0.77" fill="rgb(151,151,195)" opacity="0.6"/>
<circle cx="78.2" cy="275.3" r="0.46" fill="rgb(151,151,195)" opacity="0.6"/>
<circle cx="60.0" cy="249.9" r="0.76" fill="rgb(151,151,195)" opacity="0.6"/>
<circle cx="72.3" cy="274.3" r="0.54" fill="rgb(151,151,195)" opacity="0.6"/>
<circle cx="37.9" cy="246.1" r="0.82" fill="rgb(151,151,195)" opacity="0.6"/>
<circle cx="65.5" cy="263.6" r="0.70" fill="rgb(151,151,195)" opacity="0.6"/>
<circle cx="68.1" cy="259.0" r="0.53" fill="rgb(151,151,195)" opacity="0.6"/>
<circle cx="86.2" cy="272.9" r="0.67" fill="rgb(151,151,195)" opacity="0.6"/>
<circle cx="53.7" cy="248.2" r="0.56" fill="rgb(151,151,195)" opacity="0.6"/>
<circle cx="11.5" cy="268.1" r="0.82" fill="rgb(151,151,195)" opacity="0.6"/>
<circle cx="28.8" cy="247.7" r="0.64" fill="rgb(151,151,195)" opacity="0.6"/>
<circle cx="30.6" cy="272.2" r="0.56" fill="rgb(151,151,195)" opacity="0.6"/>
<circle cx="28.5" cy="256.9" r="0.84" fill="rgb(151,151,195)" opacity="0.6"/>
<circle cx="66.1" cy="244.3" r="0.51" fill="rgb(151,151,195)" opacity="0.6"/>
<circle cx="11.3" cy="268.4" r="0.74" fill="rgb(151,151,195)" opacity="0.6"/>
<circle cx="20.8" cy="251.5" r="0.83" fill="rgb(151,151,195)" opacity="0.6"/>
<circle cx="11.1" cy="271.1" r="0.82" fill="rgb(151,151,195)" opacity="0.6"/>
<circle cx="61.3" cy="253.1" r="0.78" fill="rgb(151,151,195)" opacity="0.6"/>
<circle cx="83.5" cy="263.5" r="0.73" fill="rgb(151,151,195)" opacity="0.6"/>
<circle cx="56.9" cy="279.7" r="0.89" fill="rgb(151,151,195)" opacity="0.6"/>
<circle cx="62.1" cy="260.5" r="0.51" fill="rgb(151,151,195)" opacity="0.6"/>
<circle cx="47.5" cy="257.7" r="0.76" fill="rgb(151,151,195)" opacity="0.6"/>
<circle cx="27.0" cy="253.5" r="0.86" fill="rgb(166,133,107)" opacity="0.55"/>
<circle cx="48.7" cy="240.3" r="0.74" fill="rgb(166,133,107)" opacity="0.82"/>
<circle cx="11.1" cy="245.9" r="0.92" fill="rgb(166,133,107)" opacity="0.79"/>
<circle cx="59.2" cy="239.9" r="0.57" fill="rgb(166,133,107)" opacity="0.59"/>
<circle cx="58.7" cy="253.5" r="0.66" fill="rgb(166,133,107)" opacity="0.50"/>
<circle cx="-33.4" cy="259.3" r="0.72" fill="rgb(166,133,107)" opacity="0.61"/>
<circle cx="58.3" cy="252.3" r="0.51" fill="rgb(166,133,107)" opacity="0.59"/>
<circle cx="25.1" cy="250.7" r="0.87" fill="rgb(166,133,107)" opacity="0.56"/>
<circle cx="60.3" cy="251.0" r="0.90" fill="rgb(166,133,107)" opacity="0.82"/>
<circle cx="35.5" cy="249.2" r="0.58" fill="rgb(166,133,107)" opacity="0.72"/>
<circle cx="40.7" cy="252.3" r="0.77" fill="rgb(166,133,107)" opacity="0.54"/>
<circle cx="66.0" cy="250.2" r="0.71" fill="rgb(166,133,107)" opacity="0.90"/>
<circle cx="34.7" cy="244.5" r="0.74" fill="rgb(166,133,107)" opacity="0.92"/>
<circle cx="36.0" cy="251.9" r="0.61" fill="rgb(166,133,107)" opacity="0.67"/>
<circle cx="46.7" cy="249.4" r="0.98" fill="rgb(166,133,107)" opacity="0.92"/>
<circle cx="58.5" cy="247.0" r="0.68" fill="rgb(166,133,107)" opacity="0.97"/>
<circle cx="66.9" cy="238.7" r="0.69" fill="rgb(166,133,107)" opacity="0.87"/>
<circle cx="16.9" cy="233.3" r="1.02" fill="rgb(166,133,107)" opacity="0.80"/>
<circle cx="31.8" cy="251.1" r="0.61" fill="rgb(166,133,107)" opacity="0.75"/>
<circle cx="42.2" cy="265.2" r="0.93" fill="rgb(166,133,107)" opacity="0.55"/>
<circle cx="8.7" cy="245.3" r="0.91" fill="rgb(166,133,107)" opacity="0.57"/>
<circle cx="38.1" cy="250.2" r="0.73" fill="rgb(166,133,107)" opacity="0.68"/>
<circle cx="59.0" cy="255.4" r="0.77" fill="rgb(166,133,107)" opacity="0.56"/>
<circle cx="38.8" cy="251.2" r="0.87" fill="rgb(166,133,107)" opacity="0.52"/>
<circle cx="59.6" cy="250.8" r="0.92" fill="rgb(166,133,107)" opacity="0.97"/>
<circle cx="47.7" cy="244.8" r="0.74" fill="rgb(166,133,107)" opacity="0.88"/>
<circle cx="58.5" cy="250.4" r="0.75" fill="rgb(166,133,107)" opacity="0.59"/>
<circle cx="26.1" cy="253.2" r="0.57" fill="rgb(166,133,107)" opacity="0.79"/>
<circle cx="40.7" cy="254.2" r="0.78" fill="rgb(166,133,107)" opacity="0.61"/>
<circle cx="28.7" cy="249.4" r="0.88" fill="rgb(166,133,107)" opacity="0.80"/>
<circle cx="34.7" cy="245.0" r="0.90" fill="rgb(166,133,107)" opacity="0.67"/>
<circle cx="54.9" cy="239.4" r="0.99" fill="rgb(166,133,107)" opacity="0.88"/>
<circle cx="44.6" cy="250.2" r="0.54" fill="rgb(166,133,107)" opacity="0.65"/>
<circle cx="45.2" cy="262.8" r="0.92" fill="rgb(166,133,107)" opacity="0.82"/>
<circle cx="65.5" cy="236.6" r="0.84" fill="rgb(166,133,107)" opacity="0.68"/>
<circle cx="78.7" cy="252.3" r="0.97" fill="rgb(166,133,107)" opacity="0.75"/>
<circle cx="31.3" cy="251.2" r="0.63" fill="rgb(166,133,107)" opacity="0.58"/>
<circle cx="29.1" cy="253.9" r="0.55" fill="rgb(166,133,107)" opacity="0.66"/>
<circle cx="12.5" cy="246.3" r="0.72" fill="rgb(166,133,107)" opacity="0.62"/>
<circle cx="26.1" cy="251.8" r="0.83" fill="rgb(166,133,107)" opacity="0.64"/>
<circle cx="58.1" cy="252.4" r="0.65" fill="rgb(166,133,107)" opacity="0.61"/>
<circle cx="18.9" cy="248.3" r="0.97" fill="rgb(166,133,107)" opacity="0.91"/>
<circle cx="58.1" cy="251.2" r="0.92" fill="rgb(166,133,107)" opacity="0.79"/>
<circle cx="66.2" cy="255.9" r="0.56" fill="rgb(166,133,107)" opacity="0.84"/>
<circle cx="57.7" cy="247.6" r="0.52" fill="rgb(166,133,107)" opacity="0.70"/>
<circle cx="86.0" cy="252.7" r="0.90" fill="rgb(166,133,107)" opacity="0.60"/>
<circle cx="41.3" cy="253.4" r="0.57" fill="rgb(166,133,107)" opacity="0.96"/>
<circle cx="56.1" cy="260.5" r="1.00" fill="rgb(166,133,107)" opacity="0.88"/>
<circle cx="31.9" cy="245.4" r="0.71" fill="rgb(166,133,107)" opacity="0.58"/>
<circle cx="55.1" cy="244.3" r="0.91" fill="rgb(166,133,107)" opacity="0.74"/>
<circle cx="46.3" cy="250.6" r="0.56" fill="rgb(166,133,107)" opacity="0.86"/>
<circle cx="23.9" cy="251.6" r="1.02" fill="rgb(166,133,107)" opacity="0.68"/>
<circle cx="64.8" cy="239.0" r="0.65" fill="rgb(166,133,107)" opacity="0.62"/>
<circle cx="22.6" cy="251.2" r="0.75" fill="rgb(166,133,107)" opacity="0.92"/>
<circle cx="28.8" cy="253.7" r="0.77" fill="rgb(166,133,107)" opacity="0.97"/>
<circle cx="11.3" cy="243.2" r="0.87" fill="rgb(166,133,107)" opacity="0.70"/>
<circle cx="26.3" cy="257.4" r="0.96" fill="rgb(166,133,107)" opacity="0.61"/>
<circle cx="28.1" cy="256.6" r="0.53" fill="rgb(166,133,107)" opacity="0.97"/>
<circle cx="20.9" cy="251.4" r="0.52" fill="rgb(166,133,107)" opacity="0.74"/>
<circle cx="10.3" cy="243.3" r="0.87" fill="rgb(166,133,107)" opacity="0.76"/>
<circle cx="30.0" cy="241.0" r="0.97" fill="rgb(166,133,107)" opacity="0.72"/>
<circle cx="25.6" cy="257.0" r="0.71" fill="rgb(166,133,107)" opacity="0.73"/>
<circle cx="23.7" cy="250.7" r="0.55" fill="rgb(166,133,107)" opacity="0.82"/>
<circle cx="14.6" cy="241.4" r="0.64" fill="rgb(166,133,107)" opacity="0.60"/>
<circle cx="26.3" cy="249.4" r="0.94" fill="rgb(166,133,107)" opacity="0.67"/>
<circle cx="26.2" cy="255.9" r="0.87" fill="rgb(166,133,107)" opacity="0.60"/>
<circle cx="25.0" cy="248.3" r="1.00" fill="rgb(166,133,107)" opacity="0.70"/>
<circle cx="49.9" cy="247.6" r="0.66" fill="rgb(166,133,107)" opacity="0.61"/>
<circle cx="51.6" cy="246.4" r="0.98" fill="rgb(166,133,107)" opacity="0.60"/>
<circle cx="47.4" cy="247.1" r="0.67" fill="rgb(166,133,107)" opacity="0.85"/>
<circle cx="45.0" cy="247.0" r="0.69" fill="rgb(166,133,107)" opacity="0.92"/>
<circle cx="50.2" cy="246.9" r="1.00" fill="rgb(166,133,107)" opacity="0.96"/>
<circle cx="58.1" cy="251.3" r="0.97" fill="rgb(166,133,107)" opacity="0.61"/>
<circle cx="49.4" cy="245.2" r="0.94" fill="rgb(166,133,107)" opacity="0.69"/>
<circle cx="69.6" cy="244.0" r="0.70" fill="rgb(166,133,107)" opacity="0.51"/>
<circle cx="48.0" cy="246.9" r="0.65" fill="rgb(166,133,107)" opacity="0.96"/>
<circle cx="49.7" cy="248.9" r="0.62" fill="rgb(166,133,107)" opacity="0.87"/>
<circle cx="47.7" cy="245.9" r="1.00" fill="rgb(166,133,107)" opacity="0.64"/>
<circle cx="63.7" cy="251.2" r="0.72" fill="rgb(166,133,107)" opacity="0.90"/>
<path d="M5 218.5 L92 218.5 L92 234.5 L90.0 234.5 L87.9 234.0 L85.7 233.5 L83.6 233.0 L81.5 232.5 L79.4 232.1 L77.2 231.8 L75.1 231.5 L73.0 231.3 L70.8 231.1 L68.7 231.0 L66.6 231.0 L64.5 231.1 L62.3 231.2 L60.2 231.3 L58.1 231.4 L55.9 231.6 L53.8 231.7 L51.7 231.9 L49.6 232.0 L47.4 232.2 L45.3 232.3 L43.2 232.3 L41.1 232.4 L38.9 232.4 L36.8 232.4 L34.7 232.4 L32.5 232.4 L30.4 232.4 L28.3 232.3 L26.2 232.3 L24.0 232.2 L21.9 232.1 L19.8 232.0 L17.6 231.9 L15.5 231.8 L13.4 231.7 L11.3 231.5 L9.1 231.4 L7.0 231.3 L5 231.3 Z" fill="rgb(212,208,208)"/>
</g>
<rect x="8.5" y="279.8" width="8.5" height="1.1" fill="rgb(120,160,230)"/>
</g>
<rect x="7.68" y="221.18" width="81.65" height="60.95000000000001" fill="none" stroke="#303030" stroke-width="1.35"/>
<clipPath id="hc6"><rect x="92" y="220.5" width="82" height="62.30000000000001"/></clipPath>
<linearGradient id="dg6" x1="0" y1="0" x2="0" y2="1"><stop offset="0" stop-color="rgb(194,195,208)"/><stop offset="0.55" stop-color="rgb(200,199,207)"/><stop offset="1" stop-color="rgb(210,207,210)"/></linearGradient>
<filter id="mf6_0" x="0" y="0" width="100%" height="100%" color-interpolation-filters="sRGB"><feTurbulence type="fractalNoise" baseFrequency="0.6" numOctaves="3" seed="112"/><feColorMatrix type="matrix" values="0 0 0 0 0.660 0 0 0 0 0.653 0 0 0 0 0.749 3.2 0 0 0 -1.5"/></filter>
<filter id="mf6_1" x="0" y="0" width="100%" height="100%" color-interpolation-filters="sRGB"><feTurbulence type="fractalNoise" baseFrequency="0.2" numOctaves="3" seed="25"/><feColorMatrix type="matrix" values="0 0 0 0 0.854 0 0 0 0 0.844 0 0 0 0 0.847 2.5 0 0 0 -1.2"/></filter>
<filter id="mf6_2" x="0" y="0" width="100%" height="100%" color-interpolation-filters="sRGB"><feTurbulence type="turbulence" baseFrequency="0.12" numOctaves="2" seed="26"/><feColorMatrix type="matrix" values="0 0 0 0 0.877 0 0 0 0 0.867 0 0 0 0 0.871 -5.0 0 0 0 1.1"/></filter>
<g clip-path="url(#hc6)"><g filter="url(#soft)">
<rect x="92" y="220.5" width="82" height="62.30000000000001" fill="url(#dg6)"/>
<path d="M92.0 244.0 L94.1 243.7 L96.2 243.3 L98.3 243.0 L100.4 242.6 L102.5 242.2 L104.6 241.8 L106.7 241.3 L108.8 240.8 L110.9 240.2 L113.0 239.6 L115.1 238.9 L117.2 238.2 L119.3 237.4 L121.4 236.6 L123.5 235.9 L125.6 235.2 L127.7 234.6 L129.8 234.1 L131.9 233.7 L134.1 233.3 L136.2 232.9 L138.3 232.6 L140.4 232.4 L142.5 232.2 L144.6 232.1 L146.7 232.1 L148.8 232.1 L150.9 232.2 L153.0 232.3 L155.1 232.5 L157.2 232.8 L159.3 233.1 L161.4 233.4 L163.5 233.8 L165.6 234.2 L167.7 234.7 L169.8 235.1 L171.9 235.6 L174.0 236.1 L174.0 252.5 L171.9 253.7 L169.8 254.8 L167.7 255.8 L165.6 256.4 L163.5 256.7 L161.4 256.4 L159.3 255.7 L157.2 254.6 L155.1 253.4 L153.0 252.1 L150.9 251.0 L148.8 250.3 L146.7 250.1 L144.6 250.2 L142.5 250.7 L140.4 251.4 L138.3 252.2 L136.2 253.1 L134.1 254.1 L131.9 254.9 L129.8 255.7 L127.7 256.3 L125.6 256.9 L123.5 257.3 L121.4 257.7 L119.3 258.1 L117.2 258.4 L115.1 258.7 L113.0 258.9 L110.9 259.2 L108.8 259.4 L106.7 259.6 L104.6 259.7 L102.5 259.9 L100.4 260.0 L98.3 260.1 L96.2 260.3 L94.1 260.4 L92.0 260.5 Z" fill="rgb(190,192,210)" opacity="0.75" filter="url(#soft2)"/>
<clipPath id="tc6"><path d="M90 284.8 L90.0 244.0 L92.0 244.0 L94.1 243.7 L96.2 243.3 L98.3 243.0 L100.4 242.6 L102.5 242.2 L104.6 241.8 L106.7 241.3 L108.8 240.8 L110.9 240.2 L113.0 239.6 L115.1 238.9 L117.2 238.2 L119.3 237.4 L121.4 236.6 L123.5 235.9 L125.6 235.2 L127.7 234.6 L129.8 234.1 L131.9 233.7 L134.1 233.3 L136.2 232.9 L138.3 232.6 L140.4 232.4 L142.5 232.2 L144.6 232.1 L146.7 232.1 L148.8 232.1 L150.9 232.2 L153.0 232.3 L155.1 232.5 L157.2 232.8 L159.3 233.1 L161.4 233.4 L163.5 233.8 L165.6 234.2 L167.7 234.7 L169.8 235.1 L171.9 235.6 L174.0 236.1 L176.0 236.1 L176 284.8 Z"/></clipPath>
<linearGradient id="mg6_0" gradientUnits="userSpaceOnUse" x1="0" y1="220.5" x2="0" y2="282.8"><stop offset="0.000" stop-color="#fff" stop-opacity="1"/><stop offset="1.000" stop-color="#fff" stop-opacity="1"/></linearGradient>
<mask id="mk6_0" maskUnits="userSpaceOnUse" x="92" y="220.5" width="82" height="62.30000000000001"><rect x="92" y="220.5" width="82" height="62.30000000000001" fill="url(#mg6_0)"/></mask>
<g mask="url(#mk6_0)"><rect x="92" y="220.5" width="82" height="62.30000000000001" filter="url(#mf6_0)" clip-path="url(#tc6)" opacity="0.4"/></g>
<linearGradient id="mg6_1" gradientUnits="userSpaceOnUse" x1="0" y1="220.5" x2="0" y2="282.8"><stop offset="0.320" stop-color="#fff" stop-opacity="0"/><stop offset="0.480" stop-color="#fff" stop-opacity="1"/><stop offset="1.000" stop-color="#fff" stop-opacity="1"/></linearGradient>
<mask id="mk6_1" maskUnits="userSpaceOnUse" x="92" y="220.5" width="82" height="62.30000000000001"><rect x="92" y="220.5" width="82" height="62.30000000000001" fill="url(#mg6_1)"/></mask>
<g mask="url(#mk6_1)"><rect x="92" y="220.5" width="82" height="62.30000000000001" filter="url(#mf6_1)" clip-path="url(#tc6)" opacity="0.8"/></g>
<linearGradient id="mg6_2" gradientUnits="userSpaceOnUse" x1="0" y1="220.5" x2="0" y2="282.8"><stop offset="0.170" stop-color="#fff" stop-opacity="0"/><stop offset="0.330" stop-color="#fff" stop-opacity="1"/><stop offset="0.720" stop-color="#fff" stop-opacity="1"/><stop offset="0.880" stop-color="#fff" stop-opacity="0"/></linearGradient>
<mask id="mk6_2" maskUnits="userSpaceOnUse" x="92" y="220.5" width="82" height="62.30000000000001"><rect x="92" y="220.5" width="82" height="62.30000000000001" fill="url(#mg6_2)"/></mask>
<g mask="url(#mk6_2)"><rect x="92" y="220.5" width="82" height="62.30000000000001" filter="url(#mf6_2)" clip-path="url(#tc6)" opacity="0.8"/></g>
<circle cx="126.9" cy="262.0" r="0.77" fill="rgb(151,151,195)" opacity="0.6"/>
<circle cx="163.7" cy="243.7" r="0.50" fill="rgb(151,151,195)" opacity="0.6"/>
<circle cx="131.4" cy="243.2" r="0.81" fill="rgb(151,151,195)" opacity="0.6"/>
<circle cx="120.0" cy="252.7" r="0.49" fill="rgb(151,151,195)" opacity="0.6"/>
<circle cx="114.4" cy="253.0" r="0.57" fill="rgb(151,151,195)" opacity="0.6"/>
<circle cx="109.3" cy="249.2" r="0.78" fill="rgb(151,151,195)" opacity="0.6"/>
<circle cx="102.1" cy="259.7" r="0.74" fill="rgb(151,151,195)" opacity="0.6"/>
<circle cx="93.8" cy="274.3" r="0.79" fill="rgb(151,151,195)" opacity="0.6"/>
<circle cx="112.1" cy="238.8" r="0.48" fill="rgb(151,151,195)" opacity="0.6"/>
<circle cx="163.7" cy="238.0" r="0.72" fill="rgb(151,151,195)" opacity="0.6"/>
<circle cx="140.0" cy="266.8" r="0.65" fill="rgb(151,151,195)" opacity="0.6"/>
<circle cx="129.0" cy="257.8" r="0.79" fill="rgb(151,151,195)" opacity="0.6"/>
<circle cx="100.3" cy="248.6" r="0.67" fill="rgb(151,151,195)" opacity="0.6"/>
<circle cx="126.1" cy="264.7" r="0.63" fill="rgb(151,151,195)" opacity="0.6"/>
<circle cx="171.4" cy="246.1" r="0.86" fill="rgb(151,151,195)" opacity="0.6"/>
<circle cx="93.4" cy="274.1" r="0.50" fill="rgb(151,151,195)" opacity="0.6"/>
<circle cx="115.6" cy="255.9" r="0.86" fill="rgb(151,151,195)" opacity="0.6"/>
<circle cx="102.9" cy="259.9" r="0.81" fill="rgb(151,151,195)" opacity="0.6"/>
<circle cx="132.0" cy="269.8" r="0.90" fill="rgb(151,151,195)" opacity="0.6"/>
<circle cx="157.8" cy="247.8" r="0.60" fill="rgb(151,151,195)" opacity="0.6"/>
<circle cx="137.0" cy="271.1" r="0.89" fill="rgb(151,151,195)" opacity="0.6"/>
<circle cx="161.5" cy="272.5" r="0.72" fill="rgb(151,151,195)" opacity="0.6"/>
<circle cx="150.3" cy="276.8" r="0.81" fill="rgb(151,151,195)" opacity="0.6"/>
<circle cx="106.1" cy="246.6" r="0.63" fill="rgb(151,151,195)" opacity="0.6"/>
<circle cx="171.1" cy="250.8" r="0.82" fill="rgb(151,151,195)" opacity="0.6"/>
<circle cx="116.2" cy="269.2" r="0.84" fill="rgb(151,151,195)" opacity="0.6"/>
<circle cx="173.1" cy="262.8" r="0.72" fill="rgb(151,151,195)" opacity="0.6"/>
<circle cx="105.8" cy="275.8" r="0.55" fill="rgb(151,151,195)" opacity="0.6"/>
<circle cx="102.3" cy="276.3" r="0.69" fill="rgb(151,151,195)" opacity="0.6"/>
<circle cx="129.8" cy="245.0" r="0.87" fill="rgb(151,151,195)" opacity="0.6"/>
<circle cx="148.3" cy="276.5" r="0.63" fill="rgb(151,151,195)" opacity="0.6"/>
<circle cx="131.4" cy="260.0" r="0.49" fill="rgb(151,151,195)" opacity="0.6"/>
<circle cx="93.6" cy="263.9" r="0.61" fill="rgb(151,151,195)" opacity="0.6"/>
<circle cx="161.0" cy="271.7" r="0.75" fill="rgb(151,151,195)" opacity="0.6"/>
<circle cx="139.1" cy="247.3" r="0.71" fill="rgb(151,151,195)" opacity="0.6"/>
<circle cx="146.6" cy="248.1" r="0.66" fill="rgb(151,151,195)" opacity="0.6"/>
<circle cx="97.7" cy="267.5" r="0.64" fill="rgb(151,151,195)" opacity="0.6"/>
<circle cx="109.9" cy="269.3" r="0.81" fill="rgb(151,151,195)" opacity="0.6"/>
<circle cx="109.9" cy="236.4" r="0.71" fill="rgb(151,151,195)" opacity="0.6"/>
<circle cx="170.1" cy="240.2" r="0.81" fill="rgb(151,151,195)" opacity="0.6"/>
<circle cx="141.7" cy="269.0" r="0.46" fill="rgb(151,151,195)" opacity="0.6"/>
<circle cx="124.5" cy="238.1" r="0.88" fill="rgb(151,151,195)" opacity="0.6"/>
<circle cx="173.0" cy="269.4" r="0.72" fill="rgb(151,151,195)" opacity="0.6"/>
<circle cx="155.5" cy="242.2" r="0.89" fill="rgb(151,151,195)" opacity="0.6"/>
<circle cx="123.7" cy="256.1" r="0.46" fill="rgb(151,151,195)" opacity="0.6"/>
<circle cx="98.6" cy="279.4" r="0.54" fill="rgb(151,151,195)" opacity="0.6"/>
<circle cx="133.3" cy="270.0" r="0.78" fill="rgb(151,151,195)" opacity="0.6"/>
<circle cx="128.2" cy="268.4" r="0.83" fill="rgb(151,151,195)" opacity="0.6"/>
<circle cx="108.7" cy="254.1" r="0.71" fill="rgb(151,151,195)" opacity="0.6"/>
<circle cx="148.8" cy="262.6" r="0.46" fill="rgb(151,151,195)" opacity="0.6"/>
<circle cx="112.0" cy="252.8" r="0.84" fill="rgb(151,151,195)" opacity="0.6"/>
<circle cx="142.6" cy="248.7" r="0.70" fill="rgb(151,151,195)" opacity="0.6"/>
<circle cx="116.3" cy="281.3" r="0.76" fill="rgb(151,151,195)" opacity="0.6"/>
<circle cx="164.1" cy="254.3" r="0.51" fill="rgb(151,151,195)" opacity="0.6"/>
<circle cx="156.7" cy="244.5" r="0.83" fill="rgb(151,151,195)" opacity="0.6"/>
<circle cx="155.0" cy="276.4" r="0.71" fill="rgb(151,151,195)" opacity="0.6"/>
<circle cx="144.8" cy="237.4" r="0.58" fill="rgb(151,151,195)" opacity="0.6"/>
<circle cx="101.9" cy="239.0" r="0.69" fill="rgb(151,151,195)" opacity="0.6"/>
<circle cx="97.1" cy="259.2" r="0.52" fill="rgb(151,151,195)" opacity="0.6"/>
<circle cx="107.4" cy="273.5" r="0.89" fill="rgb(151,151,195)" opacity="0.6"/>
<circle cx="127.1" cy="237.5" r="0.88" fill="rgb(144,105,81)" opacity="0.68"/>
<circle cx="128.2" cy="238.6" r="1.03" fill="rgb(144,105,81)" opacity="0.62"/>
<circle cx="128.7" cy="237.5" r="0.50" fill="rgb(144,105,81)" opacity="0.77"/>
<circle cx="131.1" cy="241.1" r="0.61" fill="rgb(144,105,81)" opacity="0.52"/>
<circle cx="126.4" cy="239.6" r="0.84" fill="rgb(144,105,81)" opacity="0.86"/>
<circle cx="133.2" cy="240.2" r="0.93" fill="rgb(144,105,81)" opacity="0.87"/>
<circle cx="127.0" cy="237.6" r="0.61" fill="rgb(144,105,81)" opacity="0.94"/>
<circle cx="127.8" cy="240.7" r="0.61" fill="rgb(144,105,81)" opacity="0.87"/>
<circle cx="130.0" cy="240.0" r="0.90" fill="rgb(144,105,81)" opacity="0.68"/>
<circle cx="128.5" cy="241.0" r="0.60" fill="rgb(144,105,81)" opacity="0.86"/>
<circle cx="128.7" cy="239.1" r="0.52" fill="rgb(144,105,81)" opacity="0.69"/>
<circle cx="132.9" cy="239.4" r="1.01" fill="rgb(144,105,81)" opacity="0.80"/>
<circle cx="123.8" cy="237.3" r="0.69" fill="rgb(144,105,81)" opacity="0.77"/>
<circle cx="124.5" cy="237.2" r="0.65" fill="rgb(144,105,81)" opacity="0.57"/>
<circle cx="128.4" cy="239.0" r="0.66" fill="rgb(144,105,81)" opacity="0.76"/>
<circle cx="130.1" cy="237.6" r="1.03" fill="rgb(144,105,81)" opacity="0.89"/>
<circle cx="131.4" cy="239.8" r="0.67" fill="rgb(144,105,81)" opacity="0.59"/>
<circle cx="126.8" cy="236.8" r="0.71" fill="rgb(144,105,81)" opacity="0.91"/>
<circle cx="96.7" cy="246.6" r="0.90" fill="rgb(144,105,81)" opacity="0.63"/>
<circle cx="99.6" cy="247.2" r="0.89" fill="rgb(144,105,81)" opacity="0.55"/>
<circle cx="96.5" cy="249.1" r="0.59" fill="rgb(144,105,81)" opacity="0.69"/>
<circle cx="101.2" cy="248.5" r="0.55" fill="rgb(144,105,81)" opacity="0.58"/>
<circle cx="96.2" cy="245.4" r="0.47" fill="rgb(144,105,81)" opacity="0.98"/>
<circle cx="98.0" cy="249.6" r="0.92" fill="rgb(144,105,81)" opacity="0.91"/>
<circle cx="105.9" cy="269.7" r="0.99" fill="rgb(144,105,81)" opacity="0.95"/>
<circle cx="102.0" cy="269.5" r="0.68" fill="rgb(144,105,81)" opacity="0.75"/>
<circle cx="108.0" cy="268.4" r="0.97" fill="rgb(144,105,81)" opacity="0.99"/>
<circle cx="95.3" cy="270.5" r="0.56" fill="rgb(144,105,81)" opacity="0.77"/>
<circle cx="99.4" cy="266.2" r="0.85" fill="rgb(144,105,81)" opacity="0.91"/>
<circle cx="96.0" cy="270.9" r="0.88" fill="rgb(144,105,81)" opacity="0.59"/>
<circle cx="104.0" cy="272.7" r="0.53" fill="rgb(144,105,81)" opacity="0.62"/>
<circle cx="103.5" cy="267.6" r="0.71" fill="rgb(144,105,81)" opacity="0.56"/>
<circle cx="105.5" cy="268.3" r="0.84" fill="rgb(144,105,81)" opacity="0.93"/>
<circle cx="97.9" cy="271.6" r="0.94" fill="rgb(144,105,81)" opacity="0.93"/>
<circle cx="97.7" cy="265.5" r="1.00" fill="rgb(144,105,81)" opacity="0.53"/>
<circle cx="106.7" cy="270.1" r="0.53" fill="rgb(144,105,81)" opacity="0.58"/>
<circle cx="105.5" cy="268.4" r="0.55" fill="rgb(144,105,81)" opacity="0.81"/>
<circle cx="104.0" cy="268.2" r="1.00" fill="rgb(144,105,81)" opacity="0.94"/>
<circle cx="107.1" cy="269.0" r="0.98" fill="rgb(144,105,81)" opacity="0.62"/>
<circle cx="107.5" cy="267.1" r="0.70" fill="rgb(144,105,81)" opacity="0.88"/>
<circle cx="98.7" cy="268.5" r="0.56" fill="rgb(144,105,81)" opacity="0.81"/>
<circle cx="102.9" cy="271.9" r="0.51" fill="rgb(144,105,81)" opacity="0.99"/>
<circle cx="103.5" cy="270.9" r="0.62" fill="rgb(144,105,81)" opacity="0.89"/>
<circle cx="94.9" cy="270.5" r="0.52" fill="rgb(144,105,81)" opacity="0.68"/>
<circle cx="94.8" cy="258.7" r="0.59" fill="rgb(168,129,101)" opacity="0.71"/>
<circle cx="122.4" cy="269.3" r="0.41" fill="rgb(168,129,101)" opacity="0.65"/>
<circle cx="112.5" cy="253.3" r="0.79" fill="rgb(168,129,101)" opacity="0.67"/>
<circle cx="86.1" cy="261.0" r="0.60" fill="rgb(168,129,101)" opacity="0.62"/>
<circle cx="121.7" cy="258.3" r="0.73" fill="rgb(168,129,101)" opacity="0.66"/>
<circle cx="158.3" cy="264.2" r="0.51" fill="rgb(168,129,101)" opacity="0.54"/>
<circle cx="91.9" cy="259.7" r="0.54" fill="rgb(168,129,101)" opacity="0.90"/>
<circle cx="147.5" cy="249.5" r="0.76" fill="rgb(168,129,101)" opacity="0.79"/>
<circle cx="115.6" cy="254.4" r="0.49" fill="rgb(168,129,101)" opacity="0.90"/>
<circle cx="139.5" cy="248.5" r="0.68" fill="rgb(168,129,101)" opacity="0.52"/>
<path d="M90 218.5 L176 218.5 L176 236.1 L174.0 236.1 L171.9 235.6 L169.8 235.1 L167.7 234.7 L165.6 234.2 L163.5 233.8 L161.4 233.4 L159.3 233.1 L157.2 232.8 L155.1 232.5 L153.0 232.3 L150.9 232.2 L148.8 232.1 L146.7 232.1 L144.6 232.1 L142.5 232.2 L140.4 232.4 L138.3 232.6 L136.2 232.9 L134.1 233.3 L131.9 233.7 L129.8 234.1 L127.7 234.6 L125.6 235.2 L123.5 235.9 L121.4 236.6 L119.3 237.4 L117.2 238.2 L115.1 238.9 L113.0 239.6 L110.9 240.2 L108.8 240.8 L106.7 241.3 L104.6 241.8 L102.5 242.2 L100.4 242.6 L98.3 243.0 L96.2 243.3 L94.1 243.7 L92.0 244.0 L90 244.0 Z" fill="rgb(212,208,210)"/>
</g>
<rect x="93.5" y="279.8" width="8.5" height="1.1" fill="rgb(120,160,230)"/>
</g>
<rect x="92.68" y="221.18" width="80.65" height="60.95000000000001" fill="none" stroke="#303030" stroke-width="1.35"/>
<clipPath id="hc7"><rect x="178" y="220.5" width="82" height="62.30000000000001"/></clipPath>
<linearGradient id="dg7" x1="0" y1="0" x2="0" y2="1"><stop offset="0" stop-color="rgb(196,193,203)"/><stop offset="0.6" stop-color="rgb(208,204,203)"/><stop offset="1" stop-color="rgb(214,211,208)"/></linearGradient>
<filter id="mf7_0" x="0" y="0" width="100%" height="100%" color-interpolation-filters="sRGB"><feTurbulence type="fractalNoise" baseFrequency="0.6" numOctaves="3" seed="114"/><feColorMatrix type="matrix" values="0 0 0 0 0.660 0 0 0 0 0.653 0 0 0 0 0.749 3.2 0 0 0 -1.5"/></filter>
<filter id="mf7_1" x="0" y="0" width="100%" height="100%" color-interpolation-filters="sRGB"><feTurbulence type="fractalNoise" baseFrequency="0.45" numOctaves="3" seed="301"/><feColorMatrix type="matrix" values="0 0 0 0 0.630 0 0 0 0 0.467 0 0 0 0 0.336 3.2 0 0 0 -1.45"/></filter>
<filter id="mf7_2" x="0" y="0" width="100%" height="100%" color-interpolation-filters="sRGB"><feTurbulence type="fractalNoise" baseFrequency="0.2" numOctaves="3" seed="29"/><feColorMatrix type="matrix" values="0 0 0 0 0.854 0 0 0 0 0.844 0 0 0 0 0.847 2.5 0 0 0 -1.2"/></filter>
<g clip-path="url(#hc7)"><g filter="url(#soft)">
<rect x="178" y="220.5" width="82" height="62.30000000000001" fill="url(#dg7)"/>
<path d="M178.0 227.5 L180.1 227.5 L182.2 227.5 L184.3 227.5 L186.4 227.5 L188.5 227.5 L190.6 227.5 L192.7 227.5 L194.8 227.5 L196.9 227.5 L199.0 227.5 L201.1 227.5 L203.2 227.5 L205.3 227.5 L207.4 227.5 L209.5 227.5 L211.6 227.5 L213.7 227.5 L215.8 227.5 L217.9 227.5 L220.1 227.5 L222.2 227.5 L224.3 227.5 L226.4 227.5 L228.5 227.5 L230.6 227.5 L232.7 227.5 L234.8 227.5 L236.9 227.5 L239.0 227.5 L241.1 227.5 L243.2 227.5 L245.3 227.5 L247.4 227.5 L249.5 227.5 L251.6 227.5 L253.7 227.5 L255.8 227.5 L257.9 227.5 L260.0 227.5 L260.0 236.5 L257.9 236.4 L255.8 236.3 L253.7 236.3 L251.6 236.2 L249.5 236.1 L247.4 236.1 L245.3 236.0 L243.2 235.9 L241.1 235.9 L239.0 235.8 L236.9 235.7 L234.8 235.7 L232.7 235.6 L230.6 235.6 L228.5 235.6 L226.4 235.5 L224.3 235.5 L222.2 235.5 L220.1 235.5 L217.9 235.5 L215.8 235.5 L213.7 235.5 L211.6 235.5 L209.5 235.6 L207.4 235.6 L205.3 235.6 L203.2 235.7 L201.1 235.7 L199.0 235.8 L196.9 235.9 L194.8 235.9 L192.7 236.0 L190.6 236.1 L188.5 236.1 L186.4 236.2 L184.3 236.3 L182.2 236.3 L180.1 236.4 L178.0 236.5 Z" fill="rgb(192,191,208)" opacity="0.6" filter="url(#soft2)"/>
<clipPath id="tc7"><path d="M176 284.8 L176.0 227.5 L178.0 227.5 L180.1 227.5 L182.2 227.5 L184.3 227.5 L186.4 227.5 L188.5 227.5 L190.6 227.5 L192.7 227.5 L194.8 227.5 L196.9 227.5 L199.0 227.5 L201.1 227.5 L203.2 227.5 L205.3 227.5 L207.4 227.5 L209.5 227.5 L211.6 227.5 L213.7 227.5 L215.8 227.5 L217.9 227.5 L220.1 227.5 L222.2 227.5 L224.3 227.5 L226.4 227.5 L228.5 227.5 L230.6 227.5 L232.7 227.5 L234.8 227.5 L236.9 227.5 L239.0 227.5 L241.1 227.5 L243.2 227.5 L245.3 227.5 L247.4 227.5 L249.5 227.5 L251.6 227.5 L253.7 227.5 L255.8 227.5 L257.9 227.5 L260.0 227.5 L262.0 227.5 L262 284.8 Z"/></clipPath>
<linearGradient id="mg7_0" gradientUnits="userSpaceOnUse" x1="0" y1="220.5" x2="0" y2="282.8"><stop offset="0.000" stop-color="#fff" stop-opacity="1"/><stop offset="1.000" stop-color="#fff" stop-opacity="1"/></linearGradient>
<mask id="mk7_0" maskUnits="userSpaceOnUse" x="178" y="220.5" width="82" height="62.30000000000001"><rect x="178" y="220.5" width="82" height="62.30000000000001" fill="url(#mg7_0)"/></mask>
<g mask="url(#mk7_0)"><rect x="178" y="220.5" width="82" height="62.30000000000001" filter="url(#mf7_0)" clip-path="url(#tc7)" opacity="0.3"/></g>
<linearGradient id="mg7_1" gradientUnits="userSpaceOnUse" x1="0" y1="220.5" x2="0" y2="282.8"><stop offset="0.220" stop-color="#fff" stop-opacity="0"/><stop offset="0.380" stop-color="#fff" stop-opacity="1"/><stop offset="0.520" stop-color="#fff" stop-opacity="1"/><stop offset="0.680" stop-color="#fff" stop-opacity="0"/></linearGradient>
<mask id="mk7_1" maskUnits="userSpaceOnUse" x="178" y="220.5" width="82" height="62.30000000000001"><rect x="178" y="220.5" width="82" height="62.30000000000001" fill="url(#mg7_1)"/></mask>
<g mask="url(#mk7_1)"><rect x="178" y="220.5" width="82" height="62.30000000000001" filter="url(#mf7_1)" clip-path="url(#tc7)" opacity="0.55"/></g>
<linearGradient id="mg7_2" gradientUnits="userSpaceOnUse" x1="0" y1="220.5" x2="0" y2="282.8"><stop offset="0.170" stop-color="#fff" stop-opacity="0"/><stop offset="0.330" stop-color="#fff" stop-opacity="1"/><stop offset="1.000" stop-color="#fff" stop-opacity="1"/></linearGradient>
<mask id="mk7_2" maskUnits="userSpaceOnUse" x="178" y="220.5" width="82" height="62.30000000000001"><rect x="178" y="220.5" width="82" height="62.30000000000001" fill="url(#mg7_2)"/></mask>
<g mask="url(#mk7_2)"><rect x="178" y="220.5" width="82" height="62.30000000000001" filter="url(#mf7_2)" clip-path="url(#tc7)" opacity="0.7"/></g>
<circle cx="225.2" cy="268.0" r="0.86" fill="rgb(151,151,195)" opacity="0.6"/>
<circle cx="183.7" cy="247.8" r="0.79" fill="rgb(151,151,195)" opacity="0.6"/>
<circle cx="228.2" cy="258.8" r="0.89" fill="rgb(151,151,195)" opacity="0.6"/>
<circle cx="183.8" cy="277.2" r="0.50" fill="rgb(151,151,195)" opacity="0.6"/>
<circle cx="197.9" cy="267.9" r="0.47" fill="rgb(151,151,195)" opacity="0.6"/>
<circle cx="240.8" cy="252.6" r="0.81" fill="rgb(151,151,195)" opacity="0.6"/>
<circle cx="227.2" cy="250.3" r="0.81" fill="rgb(151,151,195)" opacity="0.6"/>
<circle cx="253.3" cy="273.7" r="0.49" fill="rgb(151,151,195)" opacity="0.6"/>
<circle cx="214.3" cy="242.1" r="0.65" fill="rgb(151,151,195)" opacity="0.6"/>
<circle cx="201.2" cy="262.3" r="0.84" fill="rgb(151,151,195)" opacity="0.6"/>
<circle cx="239.1" cy="273.8" r="0.48" fill="rgb(151,151,195)" opacity="0.6"/>
<circle cx="217.8" cy="257.3" r="0.78" fill="rgb(151,151,195)" opacity="0.6"/>
<circle cx="250.7" cy="239.5" r="0.84" fill="rgb(151,151,195)" opacity="0.6"/>
<circle cx="205.1" cy="240.6" r="0.73" fill="rgb(151,151,195)" opacity="0.6"/>
<circle cx="221.9" cy="281.1" r="0.81" fill="rgb(151,151,195)" opacity="0.6"/>
<circle cx="216.4" cy="273.2" r="0.85" fill="rgb(151,151,195)" opacity="0.6"/>
<circle cx="220.3" cy="253.1" r="0.74" fill="rgb(151,151,195)" opacity="0.6"/>
<circle cx="247.8" cy="270.2" r="0.73" fill="rgb(151,151,195)" opacity="0.6"/>
<circle cx="191.4" cy="271.0" r="0.72" fill="rgb(151,151,195)" opacity="0.6"/>
<circle cx="237.3" cy="259.2" r="0.47" fill="rgb(151,151,195)" opacity="0.6"/>
<circle cx="198.9" cy="265.0" r="0.52" fill="rgb(151,151,195)" opacity="0.6"/>
<circle cx="204.7" cy="257.0" r="0.51" fill="rgb(151,151,195)" opacity="0.6"/>
<circle cx="201.1" cy="258.8" r="0.86" fill="rgb(151,151,195)" opacity="0.6"/>
<circle cx="237.0" cy="243.6" r="0.63" fill="rgb(151,151,195)" opacity="0.6"/>
<circle cx="244.4" cy="239.2" r="0.77" fill="rgb(151,151,195)" opacity="0.6"/>
<circle cx="236.9" cy="250.1" r="0.46" fill="rgb(151,151,195)" opacity="0.6"/>
<circle cx="203.3" cy="253.5" r="0.75" fill="rgb(151,151,195)" opacity="0.6"/>
<circle cx="184.3" cy="246.4" r="0.77" fill="rgb(151,151,195)" opacity="0.6"/>
<circle cx="181.3" cy="265.1" r="0.62" fill="rgb(151,151,195)" opacity="0.6"/>
<circle cx="205.5" cy="257.0" r="0.60" fill="rgb(151,151,195)" opacity="0.6"/>
<circle cx="243.1" cy="279.1" r="0.71" fill="rgb(151,151,195)" opacity="0.6"/>
<circle cx="234.1" cy="276.0" r="0.50" fill="rgb(151,151,195)" opacity="0.6"/>
<circle cx="216.4" cy="240.4" r="0.79" fill="rgb(151,151,195)" opacity="0.6"/>
<circle cx="251.3" cy="245.1" r="0.64" fill="rgb(151,151,195)" opacity="0.6"/>
<circle cx="229.0" cy="262.4" r="0.47" fill="rgb(151,151,195)" opacity="0.6"/>
<circle cx="211.5" cy="254.0" r="0.72" fill="rgb(151,151,195)" opacity="0.6"/>
<circle cx="251.2" cy="242.6" r="0.69" fill="rgb(151,151,195)" opacity="0.6"/>
<circle cx="215.9" cy="256.1" r="0.54" fill="rgb(151,151,195)" opacity="0.6"/>
<circle cx="215.0" cy="244.3" r="0.75" fill="rgb(151,151,195)" opacity="0.6"/>
<circle cx="202.1" cy="277.2" r="0.56" fill="rgb(151,151,195)" opacity="0.6"/>
<circle cx="195.3" cy="247.4" r="0.78" fill="rgb(151,151,195)" opacity="0.6"/>
<circle cx="246.9" cy="277.1" r="0.68" fill="rgb(151,151,195)" opacity="0.6"/>
<circle cx="230.3" cy="254.7" r="0.69" fill="rgb(151,151,195)" opacity="0.6"/>
<circle cx="187.2" cy="277.2" r="0.64" fill="rgb(151,151,195)" opacity="0.6"/>
<circle cx="217.4" cy="243.7" r="0.68" fill="rgb(151,151,195)" opacity="0.6"/>
<circle cx="190.1" cy="259.8" r="0.97" fill="rgb(144,105,81)" opacity="0.76"/>
<circle cx="178.8" cy="249.3" r="0.61" fill="rgb(144,105,81)" opacity="0.76"/>
<circle cx="189.7" cy="252.3" r="0.92" fill="rgb(144,105,81)" opacity="0.64"/>
<circle cx="186.9" cy="247.2" r="0.63" fill="rgb(144,105,81)" opacity="0.57"/>
<circle cx="181.6" cy="249.8" r="1.03" fill="rgb(144,105,81)" opacity="0.97"/>
<circle cx="184.5" cy="251.2" r="0.83" fill="rgb(144,105,81)" opacity="0.97"/>
<circle cx="185.2" cy="250.3" r="0.71" fill="rgb(144,105,81)" opacity="0.82"/>
<circle cx="186.5" cy="252.6" r="0.66" fill="rgb(144,105,81)" opacity="0.76"/>
<circle cx="186.4" cy="257.3" r="0.68" fill="rgb(144,105,81)" opacity="0.83"/>
<circle cx="187.0" cy="251.3" r="0.84" fill="rgb(144,105,81)" opacity="0.60"/>
<circle cx="190.0" cy="253.6" r="1.00" fill="rgb(144,105,81)" opacity="0.63"/>
<circle cx="189.0" cy="251.4" r="0.73" fill="rgb(144,105,81)" opacity="0.82"/>
<circle cx="187.1" cy="249.5" r="0.75" fill="rgb(144,105,81)" opacity="0.83"/>
<circle cx="188.6" cy="247.9" r="0.72" fill="rgb(144,105,81)" opacity="0.78"/>
<circle cx="187.7" cy="253.8" r="0.62" fill="rgb(144,105,81)" opacity="0.52"/>
<circle cx="176.6" cy="253.9" r="1.11" fill="rgb(144,105,81)" opacity="0.85"/>
<circle cx="189.9" cy="250.4" r="0.68" fill="rgb(144,105,81)" opacity="0.72"/>
<circle cx="186.3" cy="250.9" r="0.86" fill="rgb(144,105,81)" opacity="0.61"/>
<circle cx="188.2" cy="258.3" r="1.01" fill="rgb(144,105,81)" opacity="0.67"/>
<circle cx="186.8" cy="251.3" r="0.73" fill="rgb(144,105,81)" opacity="0.57"/>
<circle cx="187.9" cy="251.1" r="0.91" fill="rgb(144,105,81)" opacity="0.53"/>
<circle cx="191.6" cy="254.8" r="0.94" fill="rgb(144,105,81)" opacity="0.96"/>
<circle cx="180.7" cy="249.3" r="0.81" fill="rgb(144,105,81)" opacity="0.94"/>
<circle cx="184.9" cy="255.1" r="1.02" fill="rgb(144,105,81)" opacity="0.69"/>
<circle cx="183.1" cy="249.8" r="1.13" fill="rgb(144,105,81)" opacity="0.75"/>
<circle cx="183.8" cy="252.0" r="0.80" fill="rgb(144,105,81)" opacity="0.68"/>
<circle cx="189.4" cy="257.2" r="0.76" fill="rgb(144,105,81)" opacity="0.82"/>
<circle cx="197.8" cy="256.0" r="1.06" fill="rgb(144,105,81)" opacity="0.51"/>
<circle cx="188.5" cy="253.5" r="0.57" fill="rgb(144,105,81)" opacity="0.95"/>
<circle cx="187.7" cy="251.4" r="0.74" fill="rgb(144,105,81)" opacity="0.98"/>
<circle cx="185.9" cy="251.2" r="1.03" fill="rgb(144,105,81)" opacity="0.50"/>
<circle cx="182.6" cy="252.0" r="1.04" fill="rgb(144,105,81)" opacity="0.54"/>
<circle cx="186.1" cy="253.6" r="0.91" fill="rgb(144,105,81)" opacity="0.74"/>
<circle cx="197.0" cy="247.6" r="1.04" fill="rgb(144,105,81)" opacity="0.85"/>
<circle cx="188.3" cy="250.3" r="0.80" fill="rgb(144,105,81)" opacity="0.87"/>
<circle cx="192.1" cy="251.0" r="0.64" fill="rgb(144,105,81)" opacity="0.78"/>
<circle cx="187.0" cy="259.4" r="0.74" fill="rgb(144,105,81)" opacity="0.70"/>
<circle cx="184.3" cy="247.7" r="0.85" fill="rgb(144,105,81)" opacity="0.80"/>
<circle cx="188.7" cy="253.3" r="0.81" fill="rgb(144,105,81)" opacity="0.76"/>
<circle cx="185.7" cy="248.5" r="0.75" fill="rgb(144,105,81)" opacity="0.98"/>
<circle cx="183.4" cy="247.9" r="1.06" fill="rgb(144,105,81)" opacity="0.67"/>
<circle cx="193.1" cy="253.4" r="0.87" fill="rgb(144,105,81)" opacity="0.97"/>
<circle cx="183.4" cy="249.7" r="0.79" fill="rgb(144,105,81)" opacity="0.85"/>
<circle cx="186.8" cy="256.2" r="0.69" fill="rgb(144,105,81)" opacity="0.83"/>
<circle cx="191.2" cy="256.1" r="0.67" fill="rgb(144,105,81)" opacity="0.69"/>
<circle cx="188.1" cy="251.4" r="0.60" fill="rgb(144,105,81)" opacity="0.98"/>
<circle cx="191.6" cy="251.0" r="0.87" fill="rgb(144,105,81)" opacity="0.73"/>
<circle cx="181.5" cy="247.1" r="0.63" fill="rgb(144,105,81)" opacity="0.68"/>
<circle cx="185.6" cy="248.8" r="0.62" fill="rgb(144,105,81)" opacity="0.82"/>
<circle cx="193.7" cy="251.1" r="0.74" fill="rgb(144,105,81)" opacity="0.67"/>
<circle cx="189.1" cy="253.7" r="0.91" fill="rgb(144,105,81)" opacity="0.54"/>
<circle cx="190.8" cy="255.4" r="0.77" fill="rgb(144,105,81)" opacity="0.83"/>
<circle cx="190.9" cy="250.9" r="0.86" fill="rgb(144,105,81)" opacity="0.56"/>
<circle cx="188.3" cy="253.4" r="0.79" fill="rgb(144,105,81)" opacity="0.77"/>
<circle cx="191.0" cy="259.8" r="0.67" fill="rgb(144,105,81)" opacity="0.77"/>
<circle cx="205.0" cy="245.9" r="1.01" fill="rgb(144,105,81)" opacity="0.64"/>
<circle cx="199.8" cy="251.7" r="0.59" fill="rgb(144,105,81)" opacity="0.64"/>
<circle cx="202.0" cy="243.9" r="0.70" fill="rgb(144,105,81)" opacity="0.51"/>
<circle cx="200.2" cy="245.7" r="0.99" fill="rgb(144,105,81)" opacity="0.98"/>
<circle cx="204.9" cy="247.0" r="1.09" fill="rgb(144,105,81)" opacity="0.98"/>
<circle cx="195.9" cy="250.3" r="0.81" fill="rgb(144,105,81)" opacity="0.73"/>
<circle cx="212.7" cy="247.9" r="0.70" fill="rgb(144,105,81)" opacity="0.66"/>
<circle cx="204.2" cy="247.6" r="1.04" fill="rgb(144,105,81)" opacity="0.50"/>
<circle cx="202.9" cy="249.1" r="1.01" fill="rgb(144,105,81)" opacity="0.51"/>
<circle cx="206.0" cy="251.7" r="0.56" fill="rgb(144,105,81)" opacity="0.62"/>
<circle cx="206.7" cy="248.6" r="0.58" fill="rgb(144,105,81)" opacity="0.85"/>
<circle cx="206.7" cy="253.2" r="0.56" fill="rgb(144,105,81)" opacity="0.88"/>
<circle cx="203.9" cy="242.2" r="1.13" fill="rgb(144,105,81)" opacity="0.93"/>
<circle cx="203.0" cy="252.0" r="0.55" fill="rgb(144,105,81)" opacity="0.59"/>
<circle cx="204.6" cy="246.0" r="0.70" fill="rgb(144,105,81)" opacity="0.53"/>
<circle cx="208.0" cy="248.4" r="0.58" fill="rgb(144,105,81)" opacity="0.57"/>
<circle cx="205.2" cy="242.5" r="0.60" fill="rgb(144,105,81)" opacity="0.93"/>
<circle cx="206.7" cy="250.0" r="0.58" fill="rgb(144,105,81)" opacity="0.92"/>
<circle cx="205.0" cy="247.8" r="0.86" fill="rgb(144,105,81)" opacity="0.93"/>
<circle cx="212.3" cy="242.8" r="0.87" fill="rgb(144,105,81)" opacity="0.85"/>
<circle cx="211.9" cy="248.0" r="0.86" fill="rgb(144,105,81)" opacity="0.51"/>
<circle cx="199.3" cy="256.6" r="0.73" fill="rgb(144,105,81)" opacity="0.56"/>
<circle cx="201.6" cy="247.0" r="0.89" fill="rgb(144,105,81)" opacity="0.68"/>
<circle cx="204.8" cy="251.1" r="1.11" fill="rgb(144,105,81)" opacity="0.74"/>
<circle cx="209.3" cy="247.4" r="0.70" fill="rgb(144,105,81)" opacity="0.95"/>
<circle cx="207.4" cy="246.1" r="0.58" fill="rgb(144,105,81)" opacity="0.86"/>
<circle cx="213.6" cy="242.4" r="0.84" fill="rgb(144,105,81)" opacity="0.76"/>
<circle cx="204.1" cy="252.8" r="0.74" fill="rgb(144,105,81)" opacity="0.51"/>
<circle cx="197.7" cy="243.3" r="0.95" fill="rgb(144,105,81)" opacity="0.73"/>
<circle cx="206.0" cy="246.2" r="0.68" fill="rgb(144,105,81)" opacity="0.68"/>
<circle cx="209.5" cy="243.9" r="1.03" fill="rgb(144,105,81)" opacity="0.74"/>
<circle cx="203.3" cy="245.0" r="1.10" fill="rgb(144,105,81)" opacity="0.96"/>
<circle cx="204.6" cy="254.4" r="0.76" fill="rgb(144,105,81)" opacity="0.64"/>
<circle cx="199.5" cy="251.7" r="1.01" fill="rgb(144,105,81)" opacity="0.95"/>
<circle cx="203.4" cy="247.2" r="0.94" fill="rgb(144,105,81)" opacity="0.54"/>
<circle cx="206.7" cy="250.1" r="0.61" fill="rgb(144,105,81)" opacity="0.63"/>
<circle cx="207.0" cy="241.1" r="0.82" fill="rgb(144,105,81)" opacity="0.77"/>
<circle cx="200.4" cy="242.1" r="0.81" fill="rgb(144,105,81)" opacity="0.68"/>
<circle cx="206.1" cy="245.2" r="0.63" fill="rgb(144,105,81)" opacity="0.73"/>
<circle cx="196.7" cy="247.2" r="0.72" fill="rgb(144,105,81)" opacity="0.98"/>
<circle cx="204.4" cy="241.6" r="0.85" fill="rgb(144,105,81)" opacity="0.59"/>
<circle cx="202.8" cy="250.5" r="0.84" fill="rgb(144,105,81)" opacity="0.54"/>
<circle cx="210.2" cy="248.4" r="0.55" fill="rgb(144,105,81)" opacity="0.65"/>
<circle cx="193.1" cy="254.6" r="0.75" fill="rgb(144,105,81)" opacity="0.64"/>
<circle cx="199.6" cy="243.2" r="1.08" fill="rgb(144,105,81)" opacity="0.84"/>
<circle cx="214.5" cy="251.6" r="1.09" fill="rgb(144,105,81)" opacity="0.55"/>
<circle cx="208.1" cy="245.2" r="1.05" fill="rgb(144,105,81)" opacity="0.97"/>
<circle cx="202.6" cy="253.1" r="1.02" fill="rgb(144,105,81)" opacity="0.92"/>
<circle cx="210.3" cy="243.5" r="0.95" fill="rgb(144,105,81)" opacity="0.69"/>
<circle cx="209.8" cy="245.8" r="0.61" fill="rgb(144,105,81)" opacity="0.96"/>
<circle cx="199.0" cy="248.7" r="1.08" fill="rgb(144,105,81)" opacity="0.89"/>
<circle cx="203.4" cy="243.7" r="0.85" fill="rgb(144,105,81)" opacity="0.70"/>
<circle cx="209.5" cy="243.9" r="0.81" fill="rgb(144,105,81)" opacity="0.89"/>
<circle cx="211.6" cy="252.3" r="0.88" fill="rgb(144,105,81)" opacity="0.84"/>
<circle cx="203.0" cy="241.4" r="1.08" fill="rgb(144,105,81)" opacity="0.81"/>
<circle cx="203.6" cy="248.9" r="0.67" fill="rgb(144,105,81)" opacity="0.52"/>
<circle cx="203.1" cy="246.4" r="0.57" fill="rgb(144,105,81)" opacity="0.53"/>
<circle cx="207.8" cy="249.1" r="0.61" fill="rgb(144,105,81)" opacity="0.65"/>
<circle cx="205.1" cy="244.4" r="0.90" fill="rgb(144,105,81)" opacity="0.69"/>
<circle cx="203.6" cy="244.4" r="0.94" fill="rgb(144,105,81)" opacity="0.64"/>
<circle cx="205.8" cy="247.7" r="0.60" fill="rgb(144,105,81)" opacity="1.00"/>
<circle cx="205.0" cy="247.6" r="0.92" fill="rgb(144,105,81)" opacity="0.53"/>
<circle cx="212.1" cy="245.7" r="0.67" fill="rgb(144,105,81)" opacity="0.69"/>
<circle cx="202.9" cy="250.5" r="1.02" fill="rgb(144,105,81)" opacity="0.69"/>
<circle cx="201.9" cy="245.7" r="1.08" fill="rgb(144,105,81)" opacity="0.72"/>
<circle cx="225.1" cy="254.6" r="1.02" fill="rgb(144,105,81)" opacity="0.91"/>
<circle cx="225.3" cy="238.5" r="1.13" fill="rgb(144,105,81)" opacity="0.50"/>
<circle cx="225.6" cy="243.1" r="0.86" fill="rgb(144,105,81)" opacity="0.68"/>
<circle cx="229.8" cy="252.5" r="1.14" fill="rgb(144,105,81)" opacity="0.75"/>
<circle cx="231.8" cy="250.3" r="0.99" fill="rgb(144,105,81)" opacity="0.90"/>
<circle cx="229.9" cy="245.5" r="0.70" fill="rgb(144,105,81)" opacity="0.75"/>
<circle cx="234.0" cy="251.6" r="1.09" fill="rgb(144,105,81)" opacity="0.56"/>
<circle cx="229.5" cy="253.4" r="0.66" fill="rgb(144,105,81)" opacity="0.57"/>
<circle cx="238.3" cy="243.4" r="0.91" fill="rgb(144,105,81)" opacity="0.77"/>
<circle cx="234.7" cy="254.8" r="0.80" fill="rgb(144,105,81)" opacity="0.77"/>
<circle cx="227.0" cy="243.9" r="0.62" fill="rgb(144,105,81)" opacity="0.67"/>
<circle cx="235.7" cy="256.6" r="0.69" fill="rgb(144,105,81)" opacity="0.54"/>
<circle cx="237.9" cy="249.2" r="1.02" fill="rgb(144,105,81)" opacity="0.51"/>
<circle cx="229.7" cy="252.9" r="0.61" fill="rgb(144,105,81)" opacity="0.76"/>
<circle cx="228.3" cy="247.6" r="0.90" fill="rgb(144,105,81)" opacity="0.51"/>
<circle cx="226.7" cy="247.3" r="0.87" fill="rgb(144,105,81)" opacity="0.81"/>
<circle cx="235.0" cy="245.0" r="0.70" fill="rgb(144,105,81)" opacity="0.54"/>
<circle cx="228.9" cy="245.1" r="0.74" fill="rgb(144,105,81)" opacity="0.77"/>
<circle cx="229.3" cy="238.6" r="0.56" fill="rgb(144,105,81)" opacity="0.92"/>
<circle cx="222.7" cy="241.7" r="0.95" fill="rgb(144,105,81)" opacity="0.83"/>
<circle cx="221.1" cy="251.5" r="1.11" fill="rgb(144,105,81)" opacity="0.66"/>
<circle cx="232.6" cy="247.4" r="0.82" fill="rgb(144,105,81)" opacity="0.98"/>
<circle cx="230.5" cy="250.3" r="0.56" fill="rgb(144,105,81)" opacity="0.70"/>
<circle cx="233.9" cy="253.3" r="1.14" fill="rgb(144,105,81)" opacity="0.63"/>
<circle cx="227.7" cy="246.8" r="0.65" fill="rgb(144,105,81)" opacity="0.94"/>
<circle cx="228.0" cy="246.6" r="0.64" fill="rgb(144,105,81)" opacity="0.81"/>
<circle cx="225.8" cy="253.1" r="1.01" fill="rgb(144,105,81)" opacity="0.82"/>
<circle cx="235.1" cy="254.0" r="0.72" fill="rgb(144,105,81)" opacity="0.58"/>
<circle cx="224.0" cy="241.9" r="1.07" fill="rgb(144,105,81)" opacity="0.52"/>
<circle cx="245.6" cy="247.9" r="1.08" fill="rgb(144,105,81)" opacity="0.80"/>
<circle cx="234.4" cy="249.1" r="0.77" fill="rgb(144,105,81)" opacity="0.74"/>
<circle cx="233.4" cy="254.8" r="1.04" fill="rgb(144,105,81)" opacity="0.72"/>
<circle cx="235.3" cy="253.3" r="1.06" fill="rgb(144,105,81)" opacity="0.99"/>
<circle cx="228.1" cy="249.6" r="1.07" fill="rgb(144,105,81)" opacity="0.85"/>
<circle cx="240.1" cy="243.7" r="0.77" fill="rgb(144,105,81)" opacity="1.00"/>
<circle cx="216.9" cy="244.8" r="0.80" fill="rgb(144,105,81)" opacity="0.67"/>
<circle cx="225.0" cy="244.9" r="0.79" fill="rgb(144,105,81)" opacity="0.66"/>
<circle cx="233.7" cy="256.6" r="0.89" fill="rgb(144,105,81)" opacity="0.86"/>
<circle cx="238.3" cy="248.1" r="0.72" fill="rgb(144,105,81)" opacity="0.59"/>
<circle cx="225.5" cy="246.5" r="0.63" fill="rgb(144,105,81)" opacity="0.91"/>
<circle cx="228.4" cy="252.7" r="0.75" fill="rgb(144,105,81)" opacity="0.84"/>
<circle cx="233.1" cy="248.8" r="1.08" fill="rgb(144,105,81)" opacity="0.67"/>
<circle cx="231.5" cy="245.3" r="0.87" fill="rgb(144,105,81)" opacity="0.84"/>
<circle cx="229.4" cy="244.9" r="0.97" fill="rgb(144,105,81)" opacity="0.94"/>
<circle cx="228.6" cy="240.3" r="0.83" fill="rgb(144,105,81)" opacity="0.59"/>
<circle cx="225.3" cy="247.0" r="0.77" fill="rgb(144,105,81)" opacity="0.96"/>
<circle cx="221.0" cy="251.4" r="0.94" fill="rgb(144,105,81)" opacity="0.80"/>
<circle cx="230.6" cy="247.3" r="0.71" fill="rgb(144,105,81)" opacity="0.59"/>
<circle cx="232.6" cy="252.8" r="1.01" fill="rgb(144,105,81)" opacity="0.92"/>
<circle cx="231.8" cy="255.6" r="0.66" fill="rgb(144,105,81)" opacity="0.73"/>
<circle cx="225.4" cy="249.0" r="1.04" fill="rgb(144,105,81)" opacity="0.86"/>
<circle cx="216.9" cy="249.5" r="0.62" fill="rgb(144,105,81)" opacity="0.65"/>
<circle cx="224.5" cy="253.4" r="0.82" fill="rgb(144,105,81)" opacity="0.71"/>
<circle cx="230.9" cy="252.3" r="0.71" fill="rgb(144,105,81)" opacity="0.77"/>
<circle cx="223.3" cy="243.4" r="0.75" fill="rgb(144,105,81)" opacity="0.86"/>
<circle cx="234.6" cy="245.0" r="1.05" fill="rgb(144,105,81)" opacity="0.73"/>
<circle cx="236.7" cy="250.7" r="0.67" fill="rgb(144,105,81)" opacity="0.54"/>
<circle cx="228.8" cy="247.2" r="0.86" fill="rgb(144,105,81)" opacity="0.71"/>
<circle cx="235.6" cy="253.3" r="0.62" fill="rgb(144,105,81)" opacity="0.85"/>
<circle cx="232.1" cy="245.4" r="0.89" fill="rgb(144,105,81)" opacity="0.70"/>
<circle cx="235.2" cy="240.9" r="0.69" fill="rgb(144,105,81)" opacity="0.80"/>
<circle cx="241.6" cy="250.0" r="0.58" fill="rgb(144,105,81)" opacity="0.71"/>
<circle cx="224.4" cy="246.5" r="0.70" fill="rgb(144,105,81)" opacity="0.59"/>
<circle cx="218.4" cy="247.8" r="1.13" fill="rgb(144,105,81)" opacity="0.71"/>
<circle cx="239.2" cy="250.1" r="0.62" fill="rgb(144,105,81)" opacity="0.94"/>
<circle cx="229.9" cy="246.9" r="1.10" fill="rgb(144,105,81)" opacity="0.75"/>
<circle cx="223.9" cy="248.5" r="1.00" fill="rgb(144,105,81)" opacity="0.61"/>
<circle cx="224.4" cy="253.5" r="0.93" fill="rgb(144,105,81)" opacity="0.86"/>
<circle cx="233.3" cy="246.6" r="0.95" fill="rgb(144,105,81)" opacity="0.71"/>
<circle cx="243.0" cy="247.5" r="1.13" fill="rgb(144,105,81)" opacity="0.99"/>
<circle cx="232.3" cy="238.7" r="0.58" fill="rgb(144,105,81)" opacity="0.90"/>
<circle cx="230.7" cy="246.9" r="0.62" fill="rgb(144,105,81)" opacity="0.95"/>
<circle cx="221.5" cy="250.5" r="0.76" fill="rgb(144,105,81)" opacity="0.67"/>
<circle cx="227.6" cy="251.8" r="0.82" fill="rgb(144,105,81)" opacity="0.92"/>
<circle cx="233.3" cy="252.0" r="1.11" fill="rgb(144,105,81)" opacity="0.90"/>
<circle cx="236.2" cy="250.1" r="0.67" fill="rgb(144,105,81)" opacity="0.58"/>
<circle cx="226.9" cy="245.7" r="1.15" fill="rgb(144,105,81)" opacity="0.51"/>
<circle cx="234.0" cy="249.6" r="0.77" fill="rgb(144,105,81)" opacity="0.55"/>
<circle cx="226.3" cy="253.2" r="1.14" fill="rgb(144,105,81)" opacity="0.52"/>
<circle cx="226.2" cy="249.6" r="1.13" fill="rgb(144,105,81)" opacity="0.95"/>
<circle cx="251.4" cy="255.0" r="0.55" fill="rgb(144,105,81)" opacity="0.95"/>
<circle cx="250.5" cy="246.5" r="0.61" fill="rgb(144,105,81)" opacity="0.69"/>
<circle cx="241.5" cy="255.1" r="0.81" fill="rgb(144,105,81)" opacity="0.57"/>
<circle cx="249.5" cy="251.1" r="0.64" fill="rgb(144,105,81)" opacity="0.60"/>
<circle cx="252.4" cy="253.9" r="0.64" fill="rgb(144,105,81)" opacity="0.79"/>
<circle cx="244.1" cy="249.0" r="0.97" fill="rgb(144,105,81)" opacity="0.77"/>
<circle cx="246.6" cy="257.5" r="0.89" fill="rgb(144,105,81)" opacity="0.57"/>
<circle cx="246.2" cy="250.4" r="0.73" fill="rgb(144,105,81)" opacity="0.94"/>
<circle cx="244.3" cy="251.0" r="0.57" fill="rgb(144,105,81)" opacity="0.72"/>
<circle cx="255.2" cy="243.5" r="0.83" fill="rgb(144,105,81)" opacity="0.99"/>
<circle cx="249.3" cy="248.3" r="1.04" fill="rgb(144,105,81)" opacity="0.62"/>
<circle cx="243.3" cy="247.4" r="0.68" fill="rgb(144,105,81)" opacity="0.60"/>
<circle cx="243.0" cy="255.1" r="0.80" fill="rgb(144,105,81)" opacity="0.91"/>
<circle cx="246.2" cy="246.4" r="1.04" fill="rgb(144,105,81)" opacity="0.92"/>
<circle cx="250.6" cy="255.6" r="0.76" fill="rgb(144,105,81)" opacity="0.61"/>
<circle cx="254.5" cy="245.4" r="0.68" fill="rgb(144,105,81)" opacity="0.76"/>
<circle cx="240.9" cy="254.7" r="0.61" fill="rgb(144,105,81)" opacity="1.00"/>
<circle cx="251.6" cy="248.1" r="1.10" fill="rgb(144,105,81)" opacity="0.73"/>
<circle cx="243.0" cy="251.1" r="0.56" fill="rgb(144,105,81)" opacity="0.50"/>
<circle cx="245.4" cy="255.4" r="0.99" fill="rgb(144,105,81)" opacity="0.60"/>
<circle cx="247.1" cy="248.4" r="0.55" fill="rgb(144,105,81)" opacity="0.60"/>
<circle cx="252.5" cy="248.8" r="0.71" fill="rgb(144,105,81)" opacity="0.59"/>
<circle cx="253.2" cy="249.8" r="0.68" fill="rgb(144,105,81)" opacity="0.73"/>
<circle cx="236.1" cy="256.2" r="0.80" fill="rgb(144,105,81)" opacity="0.52"/>
<circle cx="240.6" cy="252.8" r="0.87" fill="rgb(144,105,81)" opacity="0.80"/>
<circle cx="251.7" cy="249.5" r="0.66" fill="rgb(144,105,81)" opacity="0.71"/>
<circle cx="251.8" cy="248.9" r="0.89" fill="rgb(144,105,81)" opacity="0.87"/>
<circle cx="245.8" cy="254.9" r="0.68" fill="rgb(144,105,81)" opacity="0.80"/>
<circle cx="240.5" cy="243.8" r="1.06" fill="rgb(144,105,81)" opacity="0.62"/>
<circle cx="249.6" cy="243.8" r="1.07" fill="rgb(144,105,81)" opacity="0.78"/>
<circle cx="250.2" cy="251.0" r="0.98" fill="rgb(144,105,81)" opacity="0.65"/>
<circle cx="255.2" cy="249.3" r="1.15" fill="rgb(144,105,81)" opacity="0.71"/>
<circle cx="250.9" cy="254.2" r="1.13" fill="rgb(144,105,81)" opacity="0.55"/>
<circle cx="256.2" cy="243.5" r="0.77" fill="rgb(144,105,81)" opacity="0.68"/>
<circle cx="251.7" cy="252.5" r="0.81" fill="rgb(144,105,81)" opacity="0.69"/>
<circle cx="250.5" cy="258.4" r="0.57" fill="rgb(144,105,81)" opacity="0.96"/>
<circle cx="250.2" cy="253.9" r="0.71" fill="rgb(144,105,81)" opacity="0.53"/>
<circle cx="249.9" cy="251.3" r="0.56" fill="rgb(144,105,81)" opacity="0.62"/>
<circle cx="248.2" cy="247.9" r="1.09" fill="rgb(144,105,81)" opacity="0.76"/>
<circle cx="251.0" cy="247.0" r="1.05" fill="rgb(144,105,81)" opacity="0.62"/>
<circle cx="245.2" cy="247.2" r="0.78" fill="rgb(144,105,81)" opacity="0.75"/>
<circle cx="255.9" cy="249.7" r="0.79" fill="rgb(144,105,81)" opacity="0.64"/>
<circle cx="250.9" cy="251.0" r="1.13" fill="rgb(144,105,81)" opacity="0.96"/>
<circle cx="257.0" cy="254.5" r="0.60" fill="rgb(144,105,81)" opacity="0.66"/>
<circle cx="241.9" cy="255.0" r="0.78" fill="rgb(144,105,81)" opacity="0.61"/>
<circle cx="243.8" cy="250.9" r="0.87" fill="rgb(144,105,81)" opacity="0.99"/>
<circle cx="253.8" cy="253.7" r="0.65" fill="rgb(144,105,81)" opacity="0.61"/>
<circle cx="256.5" cy="248.5" r="0.83" fill="rgb(144,105,81)" opacity="1.00"/>
<circle cx="246.2" cy="254.7" r="0.66" fill="rgb(144,105,81)" opacity="0.90"/>
<circle cx="249.5" cy="246.8" r="1.09" fill="rgb(144,105,81)" opacity="0.70"/>
<circle cx="243.6" cy="248.5" r="1.01" fill="rgb(144,105,81)" opacity="0.78"/>
<circle cx="246.2" cy="252.7" r="0.80" fill="rgb(144,105,81)" opacity="0.98"/>
<circle cx="251.6" cy="248.3" r="0.98" fill="rgb(144,105,81)" opacity="0.51"/>
<circle cx="233.5" cy="251.5" r="0.86" fill="rgb(144,105,81)" opacity="0.82"/>
<circle cx="238.5" cy="254.2" r="0.94" fill="rgb(144,105,81)" opacity="0.75"/>
<circle cx="237.2" cy="255.7" r="0.78" fill="rgb(144,105,81)" opacity="0.81"/>
<circle cx="253.6" cy="252.4" r="0.63" fill="rgb(144,105,81)" opacity="0.51"/>
<circle cx="250.5" cy="252.4" r="0.84" fill="rgb(144,105,81)" opacity="0.51"/>
<circle cx="241.1" cy="251.4" r="0.94" fill="rgb(144,105,81)" opacity="0.98"/>
<circle cx="246.2" cy="254.8" r="1.13" fill="rgb(144,105,81)" opacity="0.95"/>
<circle cx="245.8" cy="252.0" r="1.09" fill="rgb(144,105,81)" opacity="0.51"/>
<circle cx="252.3" cy="254.0" r="0.58" fill="rgb(144,105,81)" opacity="0.56"/>
<circle cx="248.4" cy="248.1" r="0.63" fill="rgb(144,105,81)" opacity="0.93"/>
<circle cx="252.1" cy="257.9" r="0.78" fill="rgb(144,105,81)" opacity="0.63"/>
<circle cx="254.7" cy="248.4" r="1.13" fill="rgb(144,105,81)" opacity="0.54"/>
<circle cx="230.2" cy="252.2" r="0.81" fill="rgb(168,129,101)" opacity="0.70"/>
<circle cx="167.8" cy="244.1" r="0.98" fill="rgb(168,129,101)" opacity="0.65"/>
<circle cx="221.6" cy="254.4" r="0.67" fill="rgb(168,129,101)" opacity="0.72"/>
<circle cx="223.4" cy="248.5" r="0.99" fill="rgb(168,129,101)" opacity="0.90"/>
<circle cx="176.3" cy="254.7" r="0.90" fill="rgb(168,129,101)" opacity="0.90"/>
<circle cx="212.8" cy="248.8" r="0.74" fill="rgb(168,129,101)" opacity="0.65"/>
<circle cx="169.2" cy="243.1" r="0.59" fill="rgb(168,129,101)" opacity="0.98"/>
<circle cx="188.3" cy="254.7" r="0.86" fill="rgb(168,129,101)" opacity="0.88"/>
<circle cx="209.6" cy="248.2" r="0.85" fill="rgb(168,129,101)" opacity="0.68"/>
<circle cx="231.3" cy="249.2" r="0.54" fill="rgb(168,129,101)" opacity="0.57"/>
<circle cx="224.8" cy="249.9" r="0.72" fill="rgb(168,129,101)" opacity="0.80"/>
<circle cx="210.6" cy="250.3" r="0.56" fill="rgb(168,129,101)" opacity="0.52"/>
<circle cx="225.8" cy="246.6" r="0.79" fill="rgb(168,129,101)" opacity="0.67"/>
<circle cx="237.3" cy="245.6" r="0.62" fill="rgb(168,129,101)" opacity="0.90"/>
<circle cx="235.4" cy="248.7" r="0.99" fill="rgb(168,129,101)" opacity="0.54"/>
<circle cx="206.3" cy="253.6" r="0.65" fill="rgb(168,129,101)" opacity="0.52"/>
<circle cx="250.1" cy="252.8" r="1.03" fill="rgb(168,129,101)" opacity="0.93"/>
<circle cx="230.1" cy="247.4" r="0.53" fill="rgb(168,129,101)" opacity="0.80"/>
<circle cx="236.2" cy="244.8" r="0.74" fill="rgb(168,129,101)" opacity="0.68"/>
<circle cx="228.7" cy="241.1" r="0.91" fill="rgb(168,129,101)" opacity="0.90"/>
<circle cx="183.8" cy="259.0" r="0.96" fill="rgb(168,129,101)" opacity="0.66"/>
<circle cx="264.3" cy="251.9" r="0.98" fill="rgb(168,129,101)" opacity="0.51"/>
<circle cx="237.2" cy="256.8" r="0.88" fill="rgb(168,129,101)" opacity="0.74"/>
<circle cx="246.6" cy="242.4" r="0.60" fill="rgb(168,129,101)" opacity="0.80"/>
<circle cx="245.9" cy="257.1" r="0.87" fill="rgb(168,129,101)" opacity="0.71"/>
<circle cx="262.6" cy="242.9" r="0.94" fill="rgb(168,129,101)" opacity="0.74"/>
<circle cx="232.6" cy="251.8" r="0.50" fill="rgb(168,129,101)" opacity="0.76"/>
<circle cx="220.9" cy="248.5" r="1.01" fill="rgb(168,129,101)" opacity="0.50"/>
<circle cx="221.7" cy="254.3" r="0.64" fill="rgb(168,129,101)" opacity="0.96"/>
<circle cx="191.6" cy="250.6" r="1.00" fill="rgb(168,129,101)" opacity="0.99"/>
<circle cx="180.1" cy="254.9" r="0.54" fill="rgb(168,129,101)" opacity="0.78"/>
<circle cx="184.5" cy="254.6" r="0.88" fill="rgb(168,129,101)" opacity="0.83"/>
<circle cx="173.1" cy="240.9" r="0.66" fill="rgb(168,129,101)" opacity="0.53"/>
<circle cx="184.2" cy="253.9" r="0.51" fill="rgb(168,129,101)" opacity="0.64"/>
<circle cx="211.0" cy="249.3" r="1.01" fill="rgb(168,129,101)" opacity="0.86"/>
<circle cx="225.1" cy="253.4" r="0.93" fill="rgb(168,129,101)" opacity="0.85"/>
<circle cx="223.7" cy="251.5" r="0.87" fill="rgb(168,129,101)" opacity="0.83"/>
<circle cx="230.8" cy="245.3" r="1.00" fill="rgb(168,129,101)" opacity="0.82"/>
<circle cx="223.2" cy="245.6" r="0.81" fill="rgb(168,129,101)" opacity="0.76"/>
<circle cx="227.0" cy="250.3" r="0.98" fill="rgb(168,129,101)" opacity="0.76"/>
<path d="M176 218.5 L262 218.5 L262 227.5 L260.0 227.5 L257.9 227.5 L255.8 227.5 L253.7 227.5 L251.6 227.5 L249.5 227.5 L247.4 227.5 L245.3 227.5 L243.2 227.5 L241.1 227.5 L239.0 227.5 L236.9 227.5 L234.8 227.5 L232.7 227.5 L230.6 227.5 L228.5 227.5 L226.4 227.5 L224.3 227.5 L222.2 227.5 L220.1 227.5 L217.9 227.5 L215.8 227.5 L213.7 227.5 L211.6 227.5 L209.5 227.5 L207.4 227.5 L205.3 227.5 L203.2 227.5 L201.1 227.5 L199.0 227.5 L196.9 227.5 L194.8 227.5 L192.7 227.5 L190.6 227.5 L188.5 227.5 L186.4 227.5 L184.3 227.5 L182.2 227.5 L180.1 227.5 L178.0 227.5 L176 227.5 Z" fill="rgb(212,208,208)"/>
</g>
<rect x="179.5" y="279.8" width="8.5" height="1.1" fill="rgb(120,160,230)"/>
</g>
<rect x="178.68" y="221.18" width="80.65" height="60.95000000000001" fill="none" stroke="#303030" stroke-width="1.35"/>
<clipPath id="hc8"><rect x="262" y="220.5" width="83" height="62.30000000000001"/></clipPath>
<linearGradient id="dg8" x1="0" y1="0" x2="0" y2="1"><stop offset="0" stop-color="rgb(200,199,205)"/><stop offset="0.4" stop-color="rgb(208,205,205)"/><stop offset="1" stop-color="rgb(214,210,207)"/></linearGradient>
<filter id="mf8_0" x="0" y="0" width="100%" height="100%" color-interpolation-filters="sRGB"><feTurbulence type="fractalNoise" baseFrequency="0.6" numOctaves="3" seed="116"/><feColorMatrix type="matrix" values="0 0 0 0 0.660 0 0 0 0 0.653 0 0 0 0 0.749 3.2 0 0 0 -1.5"/></filter>
<filter id="mf8_1" x="0" y="0" width="100%" height="100%" color-interpolation-filters="sRGB"><feTurbulence type="fractalNoise" baseFrequency="0.2" numOctaves="3" seed="33"/><feColorMatrix type="matrix" values="0 0 0 0 0.854 0 0 0 0 0.844 0 0 0 0 0.847 2.5 0 0 0 -1.2"/></filter>
<filter id="mf8_2" x="0" y="0" width="100%" height="100%" color-interpolation-filters="sRGB"><feTurbulence type="turbulence" baseFrequency="0.12" numOctaves="2" seed="34"/><feColorMatrix type="matrix" values="0 0 0 0 0.877 0 0 0 0 0.867 0 0 0 0 0.871 -5.0 0 0 0 1.1"/></filter>
<g clip-path="url(#hc8)"><g filter="url(#soft)">
<rect x="262" y="220.5" width="83" height="62.30000000000001" fill="url(#dg8)"/>
<path d="M262.0 228.3 L264.1 227.9 L266.3 227.5 L268.4 227.2 L270.5 227.0 L272.6 226.9 L274.8 226.9 L276.9 227.2 L279.0 227.6 L281.2 228.2 L283.3 229.0 L285.4 229.8 L287.5 230.5 L289.7 231.1 L291.8 231.5 L293.9 231.6 L296.1 231.4 L298.2 231.2 L300.3 230.8 L302.4 230.4 L304.6 230.1 L306.7 229.9 L308.8 229.8 L310.9 229.9 L313.1 230.1 L315.2 230.5 L317.3 230.9 L319.5 231.3 L321.6 231.7 L323.7 232.0 L325.8 232.3 L328.0 232.4 L330.1 232.5 L332.2 232.5 L334.4 232.5 L336.5 232.4 L338.6 232.4 L340.7 232.3 L342.9 232.2 L345.0 232.1 L345.0 240.5 L342.9 241.4 L340.7 242.2 L338.6 243.0 L336.5 243.7 L334.4 244.2 L332.2 244.5 L330.1 244.7 L328.0 244.5 L325.8 244.1 L323.7 243.4 L321.6 242.4 L319.5 241.1 L317.3 239.4 L315.2 237.8 L313.1 236.5 L310.9 235.8 L308.8 235.9 L306.7 237.2 L304.6 239.5 L302.4 242.0 L300.3 244.0 L298.2 244.7 L296.1 244.2 L293.9 242.7 L291.8 240.9 L289.7 239.1 L287.5 237.7 L285.4 237.3 L283.3 237.8 L281.2 238.8 L279.0 240.1 L276.9 241.4 L274.8 242.4 L272.6 242.8 L270.5 242.6 L268.4 242.0 L266.3 241.0 L264.1 239.8 L262.0 238.5 Z" fill="rgb(188,187,206)" opacity="0.85" filter="url(#soft2)"/>
<clipPath id="tc8"><path d="M260 284.8 L260.0 228.3 L262.0 228.3 L264.1 227.9 L266.3 227.5 L268.4 227.2 L270.5 227.0 L272.6 226.9 L274.8 226.9 L276.9 227.2 L279.0 227.6 L281.2 228.2 L283.3 229.0 L285.4 229.8 L287.5 230.5 L289.7 231.1 L291.8 231.5 L293.9 231.6 L296.1 231.4 L298.2 231.2 L300.3 230.8 L302.4 230.4 L304.6 230.1 L306.7 229.9 L308.8 229.8 L310.9 229.9 L313.1 230.1 L315.2 230.5 L317.3 230.9 L319.5 231.3 L321.6 231.7 L323.7 232.0 L325.8 232.3 L328.0 232.4 L330.1 232.5 L332.2 232.5 L334.4 232.5 L336.5 232.4 L338.6 232.4 L340.7 232.3 L342.9 232.2 L345.0 232.1 L347.0 232.1 L347 284.8 Z"/></clipPath>
<linearGradient id="mg8_0" gradientUnits="userSpaceOnUse" x1="0" y1="220.5" x2="0" y2="282.8"><stop offset="0.000" stop-color="#fff" stop-opacity="1"/><stop offset="1.000" stop-color="#fff" stop-opacity="1"/></linearGradient>
<mask id="mk8_0" maskUnits="userSpaceOnUse" x="262" y="220.5" width="83" height="62.30000000000001"><rect x="262" y="220.5" width="83" height="62.30000000000001" fill="url(#mg8_0)"/></mask>
<g mask="url(#mk8_0)"><rect x="262" y="220.5" width="83" height="62.30000000000001" filter="url(#mf8_0)" clip-path="url(#tc8)" opacity="0.35"/></g>
<linearGradient id="mg8_1" gradientUnits="userSpaceOnUse" x1="0" y1="220.5" x2="0" y2="282.8"><stop offset="0.320" stop-color="#fff" stop-opacity="0"/><stop offset="0.480" stop-color="#fff" stop-opacity="1"/><stop offset="1.000" stop-color="#fff" stop-opacity="1"/></linearGradient>
<mask id="mk8_1" maskUnits="userSpaceOnUse" x="262" y="220.5" width="83" height="62.30000000000001"><rect x="262" y="220.5" width="83" height="62.30000000000001" fill="url(#mg8_1)"/></mask>
<g mask="url(#mk8_1)"><rect x="262" y="220.5" width="83" height="62.30000000000001" filter="url(#mf8_1)" clip-path="url(#tc8)" opacity="0.7"/></g>
<linearGradient id="mg8_2" gradientUnits="userSpaceOnUse" x1="0" y1="220.5" x2="0" y2="282.8"><stop offset="0.070" stop-color="#fff" stop-opacity="0"/><stop offset="0.230" stop-color="#fff" stop-opacity="1"/><stop offset="0.620" stop-color="#fff" stop-opacity="1"/><stop offset="0.780" stop-color="#fff" stop-opacity="0"/></linearGradient>
<mask id="mk8_2" maskUnits="userSpaceOnUse" x="262" y="220.5" width="83" height="62.30000000000001"><rect x="262" y="220.5" width="83" height="62.30000000000001" fill="url(#mg8_2)"/></mask>
<g mask="url(#mk8_2)"><rect x="262" y="220.5" width="83" height="62.30000000000001" filter="url(#mf8_2)" clip-path="url(#tc8)" opacity="0.7"/></g>
<circle cx="294.0" cy="249.0" r="0.52" fill="rgb(151,151,195)" opacity="0.6"/>
<circle cx="294.3" cy="261.6" r="0.74" fill="rgb(151,151,195)" opacity="0.6"/>
<circle cx="273.6" cy="251.1" r="0.62" fill="rgb(151,151,195)" opacity="0.6"/>
<circle cx="267.8" cy="265.9" r="0.83" fill="rgb(151,151,195)" opacity="0.6"/>
<circle cx="336.8" cy="267.8" r="0.55" fill="rgb(151,151,195)" opacity="0.6"/>
<circle cx="337.6" cy="266.1" r="0.82" fill="rgb(151,151,195)" opacity="0.6"/>
<circle cx="276.6" cy="244.7" r="0.51" fill="rgb(151,151,195)" opacity="0.6"/>
<circle cx="264.4" cy="264.1" r="0.68" fill="rgb(151,151,195)" opacity="0.6"/>
<circle cx="334.3" cy="268.2" r="0.68" fill="rgb(151,151,195)" opacity="0.6"/>
<circle cx="263.3" cy="278.9" r="0.66" fill="rgb(151,151,195)" opacity="0.6"/>
<circle cx="265.0" cy="266.8" r="0.86" fill="rgb(151,151,195)" opacity="0.6"/>
<circle cx="266.9" cy="269.5" r="0.71" fill="rgb(151,151,195)" opacity="0.6"/>
<circle cx="262.0" cy="252.6" r="0.50" fill="rgb(151,151,195)" opacity="0.6"/>
<circle cx="301.1" cy="261.5" r="0.59" fill="rgb(151,151,195)" opacity="0.6"/>
<circle cx="319.8" cy="276.2" r="0.46" fill="rgb(151,151,195)" opacity="0.6"/>
<circle cx="294.2" cy="251.8" r="0.69" fill="rgb(151,151,195)" opacity="0.6"/>
<circle cx="292.8" cy="271.3" r="0.63" fill="rgb(151,151,195)" opacity="0.6"/>
<circle cx="275.3" cy="273.4" r="0.57" fill="rgb(151,151,195)" opacity="0.6"/>
<circle cx="295.0" cy="273.9" r="0.62" fill="rgb(151,151,195)" opacity="0.6"/>
<circle cx="274.0" cy="259.3" r="0.50" fill="rgb(151,151,195)" opacity="0.6"/>
<circle cx="307.5" cy="242.9" r="0.53" fill="rgb(151,151,195)" opacity="0.6"/>
<circle cx="329.7" cy="265.9" r="0.65" fill="rgb(151,151,195)" opacity="0.6"/>
<circle cx="336.2" cy="247.1" r="0.57" fill="rgb(151,151,195)" opacity="0.6"/>
<circle cx="284.0" cy="272.8" r="0.62" fill="rgb(151,151,195)" opacity="0.6"/>
<circle cx="264.8" cy="255.6" r="0.48" fill="rgb(151,151,195)" opacity="0.6"/>
<circle cx="271.7" cy="258.7" r="0.86" fill="rgb(151,151,195)" opacity="0.6"/>
<circle cx="290.0" cy="266.5" r="0.67" fill="rgb(151,151,195)" opacity="0.6"/>
<circle cx="303.4" cy="275.9" r="0.53" fill="rgb(151,151,195)" opacity="0.6"/>
<circle cx="273.5" cy="251.4" r="0.61" fill="rgb(151,151,195)" opacity="0.6"/>
<circle cx="285.8" cy="251.4" r="0.54" fill="rgb(151,151,195)" opacity="0.6"/>
<circle cx="312.0" cy="256.9" r="0.73" fill="rgb(151,151,195)" opacity="0.6"/>
<circle cx="276.9" cy="256.1" r="0.54" fill="rgb(151,151,195)" opacity="0.6"/>
<circle cx="330.7" cy="253.3" r="0.59" fill="rgb(151,151,195)" opacity="0.6"/>
<circle cx="272.4" cy="265.2" r="0.57" fill="rgb(151,151,195)" opacity="0.6"/>
<circle cx="318.5" cy="258.2" r="0.72" fill="rgb(151,151,195)" opacity="0.6"/>
<circle cx="305.6" cy="279.8" r="0.56" fill="rgb(151,151,195)" opacity="0.6"/>
<circle cx="332.8" cy="249.9" r="0.70" fill="rgb(151,151,195)" opacity="0.6"/>
<circle cx="318.7" cy="243.2" r="0.59" fill="rgb(151,151,195)" opacity="0.6"/>
<circle cx="295.9" cy="248.6" r="0.79" fill="rgb(151,151,195)" opacity="0.6"/>
<circle cx="271.3" cy="259.4" r="0.54" fill="rgb(151,151,195)" opacity="0.6"/>
<circle cx="320.8" cy="270.4" r="0.81" fill="rgb(151,151,195)" opacity="0.6"/>
<circle cx="305.7" cy="266.8" r="0.86" fill="rgb(151,151,195)" opacity="0.6"/>
<circle cx="296.5" cy="280.7" r="0.58" fill="rgb(151,151,195)" opacity="0.6"/>
<circle cx="296.4" cy="278.1" r="0.49" fill="rgb(151,151,195)" opacity="0.6"/>
<circle cx="298.9" cy="271.5" r="0.71" fill="rgb(151,151,195)" opacity="0.6"/>
<circle cx="264.2" cy="257.6" r="0.82" fill="rgb(151,151,195)" opacity="0.6"/>
<circle cx="298.4" cy="255.6" r="0.56" fill="rgb(151,151,195)" opacity="0.6"/>
<circle cx="324.1" cy="244.1" r="0.79" fill="rgb(151,151,195)" opacity="0.6"/>
<circle cx="285.5" cy="261.8" r="0.82" fill="rgb(151,151,195)" opacity="0.6"/>
<circle cx="328.5" cy="273.5" r="0.53" fill="rgb(151,151,195)" opacity="0.6"/>
<circle cx="273.6" cy="277.6" r="0.70" fill="rgb(151,151,195)" opacity="0.6"/>
<circle cx="285.7" cy="258.6" r="0.62" fill="rgb(151,151,195)" opacity="0.6"/>
<circle cx="331.8" cy="273.2" r="0.65" fill="rgb(151,151,195)" opacity="0.6"/>
<circle cx="324.2" cy="274.8" r="0.57" fill="rgb(151,151,195)" opacity="0.6"/>
<circle cx="278.0" cy="263.3" r="0.48" fill="rgb(151,151,195)" opacity="0.6"/>
<circle cx="274.1" cy="241.8" r="0.88" fill="rgb(168,129,101)" opacity="0.79"/>
<circle cx="281.3" cy="245.5" r="0.57" fill="rgb(168,129,101)" opacity="0.68"/>
<circle cx="275.3" cy="245.1" r="0.60" fill="rgb(168,129,101)" opacity="0.96"/>
<circle cx="269.0" cy="244.5" r="0.46" fill="rgb(168,129,101)" opacity="1.00"/>
<circle cx="265.1" cy="244.6" r="0.49" fill="rgb(168,129,101)" opacity="0.57"/>
<circle cx="273.6" cy="248.5" r="0.47" fill="rgb(168,129,101)" opacity="0.97"/>
<circle cx="275.0" cy="241.0" r="0.63" fill="rgb(168,129,101)" opacity="0.81"/>
<circle cx="272.1" cy="243.5" r="0.65" fill="rgb(168,129,101)" opacity="0.56"/>
<circle cx="275.7" cy="245.4" r="0.85" fill="rgb(168,129,101)" opacity="0.76"/>
<circle cx="270.4" cy="244.4" r="0.86" fill="rgb(168,129,101)" opacity="0.71"/>
<circle cx="336.2" cy="247.6" r="0.82" fill="rgb(168,129,101)" opacity="0.81"/>
<circle cx="336.6" cy="244.8" r="0.86" fill="rgb(168,129,101)" opacity="0.58"/>
<circle cx="330.3" cy="251.2" r="0.66" fill="rgb(168,129,101)" opacity="0.96"/>
<circle cx="337.8" cy="244.3" r="0.89" fill="rgb(168,129,101)" opacity="0.65"/>
<circle cx="332.7" cy="250.9" r="0.59" fill="rgb(168,129,101)" opacity="0.99"/>
<circle cx="335.7" cy="246.3" r="0.74" fill="rgb(168,129,101)" opacity="0.94"/>
<circle cx="333.0" cy="251.8" r="0.45" fill="rgb(168,129,101)" opacity="0.59"/>
<circle cx="329.5" cy="245.2" r="0.50" fill="rgb(168,129,101)" opacity="0.84"/>
<circle cx="337.5" cy="250.5" r="0.85" fill="rgb(168,129,101)" opacity="0.95"/>
<circle cx="340.6" cy="242.8" r="0.86" fill="rgb(168,129,101)" opacity="0.63"/>
<circle cx="332.7" cy="251.7" r="0.44" fill="rgb(168,129,101)" opacity="0.68"/>
<circle cx="326.6" cy="247.1" r="0.63" fill="rgb(168,129,101)" opacity="0.54"/>
<path d="M299.4 233.0 L301.0 244.2" fill="none" stroke="rgb(222,219,220)" stroke-width="3.5" stroke-linecap="round" stroke-linejoin="round" opacity="0.45" filter="url(#soft2)"/>
<path d="M310.1 234.2 L311.8 241.1" fill="none" stroke="rgb(222,219,220)" stroke-width="3.0" stroke-linecap="round" stroke-linejoin="round" opacity="0.45" filter="url(#soft2)"/>
<path d="M260 218.5 L347 218.5 L347 232.1 L345.0 232.1 L342.9 232.2 L340.7 232.3 L338.6 232.4 L336.5 232.4 L334.4 232.5 L332.2 232.5 L330.1 232.5 L328.0 232.4 L325.8 232.3 L323.7 232.0 L321.6 231.7 L319.5 231.3 L317.3 230.9 L315.2 230.5 L313.1 230.1 L310.9 229.9 L308.8 229.8 L306.7 229.9 L304.6 230.1 L302.4 230.4 L300.3 230.8 L298.2 231.2 L296.1 231.4 L293.9 231.6 L291.8 231.5 L289.7 231.1 L287.5 230.5 L285.4 229.8 L283.3 229.0 L281.2 228.2 L279.0 227.6 L276.9 227.2 L274.8 226.9 L272.6 226.9 L270.5 227.0 L268.4 227.2 L266.3 227.5 L264.1 227.9 L262.0 228.3 L260 228.3 Z" fill="rgb(212,210,210)"/>
</g>
<rect x="263.5" y="279.8" width="8.5" height="1.1" fill="rgb(120,160,230)"/>
</g>
<rect x="262.68" y="221.18" width="81.65" height="60.95000000000001" fill="none" stroke="#303030" stroke-width="1.35"/>
<clipPath id="hc9"><rect x="7" y="308.6" width="83" height="62.19999999999999"/></clipPath>
<linearGradient id="dg9" x1="0" y1="0" x2="0" y2="1"><stop offset="0" stop-color="rgb(197,188,179)"/><stop offset="0.45" stop-color="rgb(197,188,179)"/><stop offset="0.72" stop-color="rgb(203,198,193)"/><stop offset="1" stop-color="rgb(210,205,201)"/></linearGradient>
<filter id="mf9_0" x="0" y="0" width="100%" height="100%" color-interpolation-filters="sRGB"><feTurbulence type="fractalNoise" baseFrequency="0.6" numOctaves="3" seed="118"/><feColorMatrix type="matrix" values="0 0 0 0 0.700 0 0 0 0 0.576 0 0 0 0 0.445 3.0 0 0 0 -1.45"/></filter>
<filter id="mf9_1" x="0" y="0" width="100%" height="100%" color-interpolation-filters="sRGB"><feTurbulence type="fractalNoise" baseFrequency="0.6" numOctaves="3" seed="39"/><feColorMatrix type="matrix" values="0 0 0 0 0.660 0 0 0 0 0.653 0 0 0 0 0.749 3.2 0 0 0 -1.5"/></filter>
<filter id="mf9_2" x="0" y="0" width="100%" height="100%" color-interpolation-filters="sRGB"><feTurbulence type="fractalNoise" baseFrequency="0.2" numOctaves="3" seed="37"/><feColorMatrix type="matrix" values="0 0 0 0 0.854 0 0 0 0 0.844 0 0 0 0 0.847 2.5 0 0 0 -1.2"/></filter>
<filter id="mf9_3" x="0" y="0" width="100%" height="100%" color-interpolation-filters="sRGB"><feTurbulence type="turbulence" baseFrequency="0.1" numOctaves="2" seed="38"/><feColorMatrix type="matrix" values="0 0 0 0 0.877 0 0 0 0 0.867 0 0 0 0 0.871 -5.0 0 0 0 1.1"/></filter>
<g clip-path="url(#hc9)"><g filter="url(#soft)">
<rect x="7" y="308.6" width="83" height="62.19999999999999" fill="url(#dg9)"/>
<path d="M7.0 325.6 L9.1 324.9 L11.3 324.1 L13.4 323.3 L15.5 322.5 L17.6 321.7 L19.8 320.8 L21.9 320.1 L24.0 319.4 L26.2 318.8 L28.3 318.4 L30.4 318.0 L32.5 317.9 L34.7 317.8 L36.8 317.9 L38.9 318.0 L41.1 318.1 L43.2 318.3 L45.3 318.5 L47.4 318.6 L49.6 318.6 L51.7 318.6 L53.8 318.5 L55.9 318.4 L58.1 318.2 L60.2 318.1 L62.3 318.0 L64.5 317.9 L66.6 317.9 L68.7 318.0 L70.8 318.1 L73.0 318.3 L75.1 318.5 L77.2 318.8 L79.4 319.1 L81.5 319.5 L83.6 319.8 L85.7 320.2 L87.9 320.6 L90.0 321.0 L90.0 321.6 L87.9 321.5 L85.7 321.5 L83.6 321.4 L81.5 321.4 L79.4 321.3 L77.2 321.3 L75.1 321.2 L73.0 321.2 L70.8 321.1 L68.7 321.1 L66.6 321.1 L64.5 321.1 L62.3 321.0 L60.2 321.0 L58.1 321.1 L55.9 321.1 L53.8 321.1 L51.7 321.1 L49.6 321.2 L47.4 321.3 L45.3 321.3 L43.2 321.4 L41.1 321.6 L38.9 321.7 L36.8 321.8 L34.7 322.0 L32.5 322.2 L30.4 322.5 L28.3 322.7 L26.2 323.1 L24.0 323.5 L21.9 324.0 L19.8 324.5 L17.6 325.1 L15.5 325.8 L13.4 326.4 L11.3 327.1 L9.1 327.9 L7.0 328.6 Z" fill="rgb(191,194,208)" opacity="0.7" filter="url(#soft2)"/>
<clipPath id="tc9"><path d="M5 372.8 L5.0 325.6 L7.0 325.6 L9.1 324.9 L11.3 324.1 L13.4 323.3 L15.5 322.5 L17.6 321.7 L19.8 320.8 L21.9 320.1 L24.0 319.4 L26.2 318.8 L28.3 318.4 L30.4 318.0 L32.5 317.9 L34.7 317.8 L36.8 317.9 L38.9 318.0 L41.1 318.1 L43.2 318.3 L45.3 318.5 L47.4 318.6 L49.6 318.6 L51.7 318.6 L53.8 318.5 L55.9 318.4 L58.1 318.2 L60.2 318.1 L62.3 318.0 L64.5 317.9 L66.6 317.9 L68.7 318.0 L70.8 318.1 L73.0 318.3 L75.1 318.5 L77.2 318.8 L79.4 319.1 L81.5 319.5 L83.6 319.8 L85.7 320.2 L87.9 320.6 L90.0 321.0 L92.0 321.0 L92 372.8 Z"/></clipPath>
<linearGradient id="mg9_0" gradientUnits="userSpaceOnUse" x1="0" y1="308.6" x2="0" y2="370.8"><stop offset="0.040" stop-color="#fff" stop-opacity="0"/><stop offset="0.200" stop-color="#fff" stop-opacity="1"/><stop offset="0.670" stop-color="#fff" stop-opacity="1"/><stop offset="0.830" stop-color="#fff" stop-opacity="0"/></linearGradient>
<mask id="mk9_0" maskUnits="userSpaceOnUse" x="7" y="308.6" width="83" height="62.19999999999999"><rect x="7" y="308.6" width="83" height="62.19999999999999" fill="url(#mg9_0)"/></mask>
<g mask="url(#mk9_0)"><rect x="7" y="308.6" width="83" height="62.19999999999999" filter="url(#mf9_0)" clip-path="url(#tc9)" opacity="0.85"/></g>
<linearGradient id="mg9_1" gradientUnits="userSpaceOnUse" x1="0" y1="308.6" x2="0" y2="370.8"><stop offset="0.020" stop-color="#fff" stop-opacity="0"/><stop offset="0.180" stop-color="#fff" stop-opacity="1"/><stop offset="0.720" stop-color="#fff" stop-opacity="1"/><stop offset="0.880" stop-color="#fff" stop-opacity="0"/></linearGradient>
<mask id="mk9_1" maskUnits="userSpaceOnUse" x="7" y="308.6" width="83" height="62.19999999999999"><rect x="7" y="308.6" width="83" height="62.19999999999999" fill="url(#mg9_1)"/></mask>
<g mask="url(#mk9_1)"><rect x="7" y="308.6" width="83" height="62.19999999999999" filter="url(#mf9_1)" clip-path="url(#tc9)" opacity="0.35"/></g>
<linearGradient id="mg9_2" gradientUnits="userSpaceOnUse" x1="0" y1="308.6" x2="0" y2="370.8"><stop offset="0.070" stop-color="#fff" stop-opacity="0"/><stop offset="0.230" stop-color="#fff" stop-opacity="1"/><stop offset="1.000" stop-color="#fff" stop-opacity="1"/></linearGradient>
<mask id="mk9_2" maskUnits="userSpaceOnUse" x="7" y="308.6" width="83" height="62.19999999999999"><rect x="7" y="308.6" width="83" height="62.19999999999999" fill="url(#mg9_2)"/></mask>
<g mask="url(#mk9_2)"><rect x="7" y="308.6" width="83" height="62.19999999999999" filter="url(#mf9_2)" clip-path="url(#tc9)" opacity="0.6"/></g>
<linearGradient id="mg9_3" gradientUnits="userSpaceOnUse" x1="0" y1="308.6" x2="0" y2="370.8"><stop offset="0.070" stop-color="#fff" stop-opacity="0"/><stop offset="0.230" stop-color="#fff" stop-opacity="1"/><stop offset="0.670" stop-color="#fff" stop-opacity="1"/><stop offset="0.830" stop-color="#fff" stop-opacity="0"/></linearGradient>
<mask id="mk9_3" maskUnits="userSpaceOnUse" x="7" y="308.6" width="83" height="62.19999999999999"><rect x="7" y="308.6" width="83" height="62.19999999999999" fill="url(#mg9_3)"/></mask>
<g mask="url(#mk9_3)"><rect x="7" y="308.6" width="83" height="62.19999999999999" filter="url(#mf9_3)" clip-path="url(#tc9)" opacity="0.7"/></g>
<circle cx="40.6" cy="354.7" r="0.72" fill="rgb(151,151,195)" opacity="0.6"/>
<circle cx="9.1" cy="342.0" r="0.77" fill="rgb(151,151,195)" opacity="0.6"/>
<circle cx="21.4" cy="338.7" r="0.80" fill="rgb(151,151,195)" opacity="0.6"/>
<circle cx="77.0" cy="335.2" r="0.48" fill="rgb(151,151,195)" opacity="0.6"/>
<circle cx="26.2" cy="359.3" r="0.79" fill="rgb(151,151,195)" opacity="0.6"/>
<circle cx="18.9" cy="337.7" r="0.64" fill="rgb(151,151,195)" opacity="0.6"/>
<circle cx="47.7" cy="338.2" r="0.47" fill="rgb(151,151,195)" opacity="0.6"/>
<circle cx="39.4" cy="348.1" r="0.86" fill="rgb(151,151,195)" opacity="0.6"/>
<circle cx="7.2" cy="361.1" r="0.64" fill="rgb(151,151,195)" opacity="0.6"/>
<circle cx="24.1" cy="360.9" r="0.45" fill="rgb(151,151,195)" opacity="0.6"/>
<circle cx="24.4" cy="343.6" r="0.59" fill="rgb(151,151,195)" opacity="0.6"/>
<circle cx="69.3" cy="322.6" r="0.68" fill="rgb(151,151,195)" opacity="0.6"/>
<circle cx="15.3" cy="322.4" r="0.55" fill="rgb(151,151,195)" opacity="0.6"/>
<circle cx="15.5" cy="327.1" r="0.62" fill="rgb(151,151,195)" opacity="0.6"/>
<circle cx="89.7" cy="369.9" r="0.56" fill="rgb(151,151,195)" opacity="0.6"/>
<circle cx="27.0" cy="340.6" r="0.54" fill="rgb(151,151,195)" opacity="0.6"/>
<circle cx="68.8" cy="344.9" r="0.73" fill="rgb(151,151,195)" opacity="0.6"/>
<circle cx="42.8" cy="331.8" r="0.51" fill="rgb(151,151,195)" opacity="0.6"/>
<circle cx="20.3" cy="340.4" r="0.67" fill="rgb(151,151,195)" opacity="0.6"/>
<circle cx="9.8" cy="342.0" r="0.55" fill="rgb(151,151,195)" opacity="0.6"/>
<circle cx="64.2" cy="367.7" r="0.64" fill="rgb(151,151,195)" opacity="0.6"/>
<circle cx="12.3" cy="349.5" r="0.72" fill="rgb(151,151,195)" opacity="0.6"/>
<circle cx="41.5" cy="349.1" r="0.83" fill="rgb(151,151,195)" opacity="0.6"/>
<circle cx="26.8" cy="339.1" r="0.79" fill="rgb(151,151,195)" opacity="0.6"/>
<circle cx="12.5" cy="355.2" r="0.53" fill="rgb(151,151,195)" opacity="0.6"/>
<circle cx="40.4" cy="351.2" r="0.61" fill="rgb(165,139,109)" opacity="0.75"/>
<circle cx="47.7" cy="342.6" r="0.52" fill="rgb(165,139,109)" opacity="0.79"/>
<circle cx="49.2" cy="327.6" r="0.53" fill="rgb(165,139,109)" opacity="0.53"/>
<circle cx="60.5" cy="338.9" r="0.62" fill="rgb(165,139,109)" opacity="0.82"/>
<circle cx="91.5" cy="327.7" r="0.80" fill="rgb(165,139,109)" opacity="0.68"/>
<circle cx="65.8" cy="324.3" r="0.48" fill="rgb(165,139,109)" opacity="0.57"/>
<circle cx="74.0" cy="354.0" r="0.55" fill="rgb(165,139,109)" opacity="0.83"/>
<circle cx="47.1" cy="330.7" r="0.54" fill="rgb(165,139,109)" opacity="0.82"/>
<circle cx="41.4" cy="331.6" r="0.66" fill="rgb(165,139,109)" opacity="0.66"/>
<circle cx="78.3" cy="330.0" r="0.79" fill="rgb(165,139,109)" opacity="0.90"/>
<circle cx="64.4" cy="325.2" r="0.50" fill="rgb(165,139,109)" opacity="0.63"/>
<circle cx="109.0" cy="350.7" r="0.73" fill="rgb(165,139,109)" opacity="0.83"/>
<circle cx="73.4" cy="319.9" r="0.60" fill="rgb(165,139,109)" opacity="0.81"/>
<circle cx="59.8" cy="353.7" r="0.40" fill="rgb(165,139,109)" opacity="0.71"/>
<circle cx="49.3" cy="342.7" r="0.62" fill="rgb(165,139,109)" opacity="0.78"/>
<circle cx="14.9" cy="339.1" r="0.39" fill="rgb(165,139,109)" opacity="0.93"/>
<circle cx="65.2" cy="331.2" r="0.57" fill="rgb(165,139,109)" opacity="0.76"/>
<circle cx="8.0" cy="326.2" r="0.71" fill="rgb(165,139,109)" opacity="0.67"/>
<circle cx="77.1" cy="349.6" r="0.45" fill="rgb(165,139,109)" opacity="0.88"/>
<circle cx="29.7" cy="332.2" r="0.49" fill="rgb(165,139,109)" opacity="0.57"/>
<circle cx="37.1" cy="335.0" r="0.42" fill="rgb(165,139,109)" opacity="0.77"/>
<circle cx="93.2" cy="349.0" r="0.74" fill="rgb(165,139,109)" opacity="0.62"/>
<circle cx="48.1" cy="335.9" r="0.44" fill="rgb(165,139,109)" opacity="0.81"/>
<circle cx="86.0" cy="329.5" r="0.78" fill="rgb(165,139,109)" opacity="0.81"/>
<circle cx="53.4" cy="347.3" r="0.42" fill="rgb(165,139,109)" opacity="0.57"/>
<circle cx="51.5" cy="313.7" r="0.46" fill="rgb(165,139,109)" opacity="0.72"/>
<circle cx="48.8" cy="337.9" r="0.56" fill="rgb(165,139,109)" opacity="0.97"/>
<circle cx="49.9" cy="330.4" r="0.63" fill="rgb(165,139,109)" opacity="0.76"/>
<circle cx="28.0" cy="342.0" r="0.72" fill="rgb(165,139,109)" opacity="0.89"/>
<circle cx="91.3" cy="345.6" r="0.59" fill="rgb(165,139,109)" opacity="0.89"/>
<circle cx="39.4" cy="351.4" r="0.57" fill="rgb(165,139,109)" opacity="1.00"/>
<circle cx="85.7" cy="328.5" r="0.52" fill="rgb(165,139,109)" opacity="0.71"/>
<circle cx="48.2" cy="330.3" r="0.65" fill="rgb(165,139,109)" opacity="0.88"/>
<circle cx="44.4" cy="334.5" r="0.53" fill="rgb(165,139,109)" opacity="0.64"/>
<circle cx="92.6" cy="326.7" r="0.53" fill="rgb(165,139,109)" opacity="0.93"/>
<circle cx="70.4" cy="335.5" r="0.62" fill="rgb(165,139,109)" opacity="0.65"/>
<circle cx="74.9" cy="351.8" r="0.53" fill="rgb(165,139,109)" opacity="0.85"/>
<circle cx="40.3" cy="342.9" r="0.73" fill="rgb(165,139,109)" opacity="0.55"/>
<circle cx="39.4" cy="331.8" r="0.71" fill="rgb(165,139,109)" opacity="0.61"/>
<circle cx="31.4" cy="323.7" r="0.75" fill="rgb(165,139,109)" opacity="0.94"/>
<circle cx="66.4" cy="323.8" r="0.50" fill="rgb(165,139,109)" opacity="0.91"/>
<circle cx="30.0" cy="337.8" r="0.53" fill="rgb(165,139,109)" opacity="0.95"/>
<circle cx="73.0" cy="319.4" r="0.67" fill="rgb(165,139,109)" opacity="0.88"/>
<circle cx="17.7" cy="319.7" r="0.40" fill="rgb(165,139,109)" opacity="0.76"/>
<circle cx="52.2" cy="339.9" r="0.77" fill="rgb(165,139,109)" opacity="0.56"/>
<circle cx="35.2" cy="335.9" r="0.66" fill="rgb(165,139,109)" opacity="0.90"/>
<circle cx="65.4" cy="334.7" r="0.58" fill="rgb(165,139,109)" opacity="0.93"/>
<circle cx="10.5" cy="328.0" r="0.52" fill="rgb(165,139,109)" opacity="0.70"/>
<circle cx="73.7" cy="348.4" r="0.49" fill="rgb(165,139,109)" opacity="0.88"/>
<circle cx="26.9" cy="313.2" r="0.74" fill="rgb(165,139,109)" opacity="0.79"/>
<circle cx="42.5" cy="336.5" r="0.75" fill="rgb(165,139,109)" opacity="0.83"/>
<circle cx="45.1" cy="335.6" r="0.64" fill="rgb(165,139,109)" opacity="0.97"/>
<circle cx="49.2" cy="337.9" r="0.51" fill="rgb(165,139,109)" opacity="0.94"/>
<circle cx="84.3" cy="315.5" r="0.67" fill="rgb(165,139,109)" opacity="0.79"/>
<circle cx="51.6" cy="347.4" r="0.58" fill="rgb(165,139,109)" opacity="0.94"/>
<circle cx="79.9" cy="346.2" r="0.58" fill="rgb(165,139,109)" opacity="0.89"/>
<circle cx="48.0" cy="339.0" r="0.41" fill="rgb(165,139,109)" opacity="0.91"/>
<circle cx="80.9" cy="334.6" r="0.45" fill="rgb(165,139,109)" opacity="0.70"/>
<circle cx="28.1" cy="340.4" r="0.70" fill="rgb(165,139,109)" opacity="0.70"/>
<circle cx="71.8" cy="323.4" r="0.72" fill="rgb(165,139,109)" opacity="0.81"/>
<circle cx="42.1" cy="350.4" r="0.60" fill="rgb(165,139,109)" opacity="0.77"/>
<circle cx="51.2" cy="310.3" r="0.58" fill="rgb(165,139,109)" opacity="0.76"/>
<circle cx="46.3" cy="327.1" r="0.43" fill="rgb(165,139,109)" opacity="0.92"/>
<circle cx="52.2" cy="337.6" r="0.40" fill="rgb(165,139,109)" opacity="0.87"/>
<circle cx="91.3" cy="326.2" r="0.63" fill="rgb(165,139,109)" opacity="0.84"/>
<circle cx="49.1" cy="332.9" r="0.50" fill="rgb(165,139,109)" opacity="0.63"/>
<circle cx="75.9" cy="354.2" r="0.76" fill="rgb(165,139,109)" opacity="0.66"/>
<circle cx="41.3" cy="330.6" r="0.64" fill="rgb(165,139,109)" opacity="0.83"/>
<circle cx="41.8" cy="332.5" r="0.57" fill="rgb(165,139,109)" opacity="0.88"/>
<circle cx="66.4" cy="342.2" r="0.39" fill="rgb(165,139,109)" opacity="0.77"/>
<circle cx="66.5" cy="325.2" r="0.60" fill="rgb(165,139,109)" opacity="0.72"/>
<circle cx="59.2" cy="335.9" r="0.65" fill="rgb(165,139,109)" opacity="0.69"/>
<circle cx="70.0" cy="316.5" r="0.53" fill="rgb(165,139,109)" opacity="0.59"/>
<circle cx="44.6" cy="312.9" r="0.77" fill="rgb(165,139,109)" opacity="0.65"/>
<circle cx="55.5" cy="343.8" r="0.79" fill="rgb(165,139,109)" opacity="0.70"/>
<circle cx="45.8" cy="320.0" r="0.78" fill="rgb(165,139,109)" opacity="0.84"/>
<circle cx="65.3" cy="332.7" r="0.39" fill="rgb(165,139,109)" opacity="0.92"/>
<circle cx="48.8" cy="328.9" r="0.58" fill="rgb(165,139,109)" opacity="0.90"/>
<circle cx="75.2" cy="347.7" r="0.40" fill="rgb(165,139,109)" opacity="0.77"/>
<circle cx="105.7" cy="337.2" r="0.76" fill="rgb(165,139,109)" opacity="0.73"/>
<circle cx="39.8" cy="335.8" r="0.80" fill="rgb(165,139,109)" opacity="0.83"/>
<circle cx="-7.0" cy="342.0" r="0.75" fill="rgb(165,139,109)" opacity="0.87"/>
<circle cx="48.9" cy="337.8" r="0.75" fill="rgb(165,139,109)" opacity="0.76"/>
<circle cx="28.0" cy="328.9" r="0.65" fill="rgb(165,139,109)" opacity="0.63"/>
<circle cx="53.6" cy="346.0" r="0.73" fill="rgb(165,139,109)" opacity="0.71"/>
<circle cx="34.7" cy="327.4" r="0.40" fill="rgb(165,139,109)" opacity="0.64"/>
<circle cx="46.5" cy="340.2" r="0.58" fill="rgb(165,139,109)" opacity="0.72"/>
<circle cx="52.7" cy="334.0" r="0.58" fill="rgb(165,139,109)" opacity="0.80"/>
<circle cx="30.5" cy="343.6" r="0.52" fill="rgb(165,139,109)" opacity="0.74"/>
<circle cx="93.8" cy="344.8" r="0.48" fill="rgb(165,139,109)" opacity="0.88"/>
<circle cx="30.2" cy="350.9" r="0.69" fill="rgb(165,139,109)" opacity="0.61"/>
<circle cx="53.4" cy="374.8" r="0.59" fill="rgb(165,139,109)" opacity="0.73"/>
<circle cx="31.8" cy="356.9" r="0.58" fill="rgb(165,139,109)" opacity="0.98"/>
<circle cx="40.7" cy="363.1" r="0.60" fill="rgb(165,139,109)" opacity="0.84"/>
<circle cx="22.1" cy="354.4" r="0.55" fill="rgb(165,139,109)" opacity="0.92"/>
<circle cx="56.7" cy="355.7" r="0.41" fill="rgb(165,139,109)" opacity="0.60"/>
<circle cx="13.1" cy="355.2" r="0.70" fill="rgb(165,139,109)" opacity="0.62"/>
<circle cx="52.8" cy="363.6" r="0.37" fill="rgb(165,139,109)" opacity="0.89"/>
<circle cx="54.3" cy="353.9" r="0.52" fill="rgb(165,139,109)" opacity="0.82"/>
<circle cx="78.9" cy="353.7" r="0.57" fill="rgb(165,139,109)" opacity="0.56"/>
<circle cx="26.9" cy="345.8" r="0.69" fill="rgb(165,139,109)" opacity="0.65"/>
<circle cx="62.6" cy="360.7" r="0.72" fill="rgb(165,139,109)" opacity="0.84"/>
<circle cx="34.7" cy="356.9" r="0.45" fill="rgb(165,139,109)" opacity="0.78"/>
<circle cx="35.7" cy="351.3" r="0.72" fill="rgb(165,139,109)" opacity="0.62"/>
<circle cx="20.2" cy="358.3" r="0.50" fill="rgb(165,139,109)" opacity="0.71"/>
<circle cx="46.4" cy="353.5" r="0.65" fill="rgb(165,139,109)" opacity="0.80"/>
<circle cx="13.6" cy="354.1" r="0.45" fill="rgb(165,139,109)" opacity="0.97"/>
<circle cx="42.1" cy="358.3" r="0.50" fill="rgb(165,139,109)" opacity="0.94"/>
<circle cx="55.4" cy="355.0" r="0.57" fill="rgb(165,139,109)" opacity="0.84"/>
<circle cx="44.4" cy="355.7" r="0.63" fill="rgb(165,139,109)" opacity="0.96"/>
<circle cx="27.5" cy="350.8" r="0.43" fill="rgb(165,139,109)" opacity="0.67"/>
<circle cx="17.5" cy="366.2" r="0.59" fill="rgb(165,139,109)" opacity="0.59"/>
<circle cx="32.8" cy="357.3" r="0.68" fill="rgb(165,139,109)" opacity="0.77"/>
<circle cx="50.7" cy="351.0" r="0.71" fill="rgb(165,139,109)" opacity="0.99"/>
<circle cx="24.6" cy="358.2" r="0.59" fill="rgb(165,139,109)" opacity="0.52"/>
<circle cx="44.4" cy="361.3" r="0.40" fill="rgb(165,139,109)" opacity="0.61"/>
<circle cx="13.0" cy="356.1" r="0.52" fill="rgb(165,139,109)" opacity="0.72"/>
<circle cx="33.6" cy="351.8" r="0.71" fill="rgb(165,139,109)" opacity="0.54"/>
<circle cx="51.1" cy="355.9" r="0.46" fill="rgb(165,139,109)" opacity="0.55"/>
<circle cx="16.0" cy="357.0" r="0.56" fill="rgb(165,139,109)" opacity="0.59"/>
<path d="M5 306.6 L92 306.6 L92 321.0 L90.0 321.0 L87.9 320.6 L85.7 320.2 L83.6 319.8 L81.5 319.5 L79.4 319.1 L77.2 318.8 L75.1 318.5 L73.0 318.3 L70.8 318.1 L68.7 318.0 L66.6 317.9 L64.5 317.9 L62.3 318.0 L60.2 318.1 L58.1 318.2 L55.9 318.4 L53.8 318.5 L51.7 318.6 L49.6 318.6 L47.4 318.6 L45.3 318.5 L43.2 318.3 L41.1 318.1 L38.9 318.0 L36.8 317.9 L34.7 317.8 L32.5 317.9 L30.4 318.0 L28.3 318.4 L26.2 318.8 L24.0 319.4 L21.9 320.1 L19.8 320.8 L17.6 321.7 L15.5 322.5 L13.4 323.3 L11.3 324.1 L9.1 324.9 L7.0 325.6 L5 325.6 Z" fill="rgb(214,210,208)"/>
</g>
<rect x="8.5" y="367.8" width="8.5" height="1.1" fill="rgb(120,160,230)"/>
</g>
<rect x="7.68" y="309.28000000000003" width="81.65" height="60.84999999999999" fill="none" stroke="#303030" stroke-width="1.35"/>
<clipPath id="hc10"><rect x="92" y="308.6" width="82" height="62.19999999999999"/></clipPath>
<linearGradient id="dg10" x1="0" y1="0" x2="0" y2="1"><stop offset="0" stop-color="rgb(199,190,180)"/><stop offset="0.4" stop-color="rgb(206,201,196)"/><stop offset="1" stop-color="rgb(212,208,204)"/></linearGradient>
<filter id="mf10_0" x="0" y="0" width="100%" height="100%" color-interpolation-filters="sRGB"><feTurbulence type="fractalNoise" baseFrequency="0.6" numOctaves="3" seed="120"/><feColorMatrix type="matrix" values="0 0 0 0 0.700 0 0 0 0 0.576 0 0 0 0 0.445 3.0 0 0 0 -1.45"/></filter>
<filter id="mf10_1" x="0" y="0" width="100%" height="100%" color-interpolation-filters="sRGB"><feTurbulence type="fractalNoise" baseFrequency="0.6" numOctaves="3" seed="121"/><feColorMatrix type="matrix" values="0 0 0 0 0.700 0 0 0 0 0.576 0 0 0 0 0.445 3.0 0 0 0 -1.45"/></filter>
<filter id="mf10_2" x="0" y="0" width="100%" height="100%" color-interpolation-filters="sRGB"><feTurbulence type="fractalNoise" baseFrequency="0.2" numOctaves="3" seed="41"/><feColorMatrix type="matrix" values="0 0 0 0 0.854 0 0 0 0 0.844 0 0 0 0 0.847 2.5 0 0 0 -1.2"/></filter>
<filter id="mf10_3" x="0" y="0" width="100%" height="100%" color-interpolation-filters="sRGB"><feTurbulence type="turbulence" baseFrequency="0.1" numOctaves="2" seed="42"/><feColorMatrix type="matrix" values="0 0 0 0 0.877 0 0 0 0 0.867 0 0 0 0 0.871 -5.0 0 0 0 1.1"/></filter>
<g clip-path="url(#hc10)"><g filter="url(#soft)">
<rect x="92" y="308.6" width="82" height="62.19999999999999" fill="url(#dg10)"/>
<path d="M92.0 322.6 L94.1 321.8 L96.2 321.0 L98.3 320.2 L100.4 319.4 L102.5 318.7 L104.6 318.1 L106.7 317.7 L108.8 317.5 L110.9 317.6 L113.0 318.0 L115.1 318.8 L117.2 319.7 L119.3 320.6 L121.4 321.4 L123.5 321.8 L125.6 321.7 L127.7 321.1 L129.8 320.1 L131.9 319.1 L134.1 318.2 L136.2 317.5 L138.3 317.1 L140.4 317.0 L142.5 317.2 L144.6 317.7 L146.7 318.4 L148.8 319.4 L150.9 320.3 L153.0 320.9 L155.1 321.0 L157.2 320.7 L159.3 320.2 L161.4 319.6 L163.5 319.1 L165.6 318.7 L167.7 318.4 L169.8 318.2 L171.9 318.0 L174.0 317.9 L174.0 332.6 L171.9 332.8 L169.8 333.1 L167.7 333.3 L165.6 333.5 L163.5 333.7 L161.4 333.9 L159.3 334.1 L157.2 334.3 L155.1 334.4 L153.0 334.5 L150.9 334.6 L148.8 334.7 L146.7 334.7 L144.6 334.7 L142.5 334.6 L140.4 334.6 L138.3 334.4 L136.2 334.3 L134.1 334.1 L131.9 333.9 L129.8 333.7 L127.7 333.5 L125.6 333.3 L123.5 333.1 L121.4 332.9 L119.3 332.7 L117.2 332.6 L115.1 332.6 L113.0 332.5 L110.9 332.5 L108.8 332.6 L106.7 332.6 L104.6 332.7 L102.5 332.8 L100.4 333.0 L98.3 333.1 L96.2 333.3 L94.1 333.4 L92.0 333.6 Z" fill="rgb(195,184,172)" opacity="0.7" filter="url(#soft2)"/>
<clipPath id="tc10"><path d="M90 372.8 L90.0 322.6 L92.0 322.6 L94.1 321.8 L96.2 321.0 L98.3 320.2 L100.4 319.4 L102.5 318.7 L104.6 318.1 L106.7 317.7 L108.8 317.5 L110.9 317.6 L113.0 318.0 L115.1 318.8 L117.2 319.7 L119.3 320.6 L121.4 321.4 L123.5 321.8 L125.6 321.7 L127.7 321.1 L129.8 320.1 L131.9 319.1 L134.1 318.2 L136.2 317.5 L138.3 317.1 L140.4 317.0 L142.5 317.2 L144.6 317.7 L146.7 318.4 L148.8 319.4 L150.9 320.3 L153.0 320.9 L155.1 321.0 L157.2 320.7 L159.3 320.2 L161.4 319.6 L163.5 319.1 L165.6 318.7 L167.7 318.4 L169.8 318.2 L171.9 318.0 L174.0 317.9 L176.0 317.9 L176 372.8 Z"/></clipPath>
<linearGradient id="mg10_0" gradientUnits="userSpaceOnUse" x1="0" y1="308.6" x2="0" y2="370.8"><stop offset="0.020" stop-color="#fff" stop-opacity="0"/><stop offset="0.180" stop-color="#fff" stop-opacity="1"/><stop offset="0.370" stop-color="#fff" stop-opacity="1"/><stop offset="0.530" stop-color="#fff" stop-opacity="0"/></linearGradient>
<mask id="mk10_0" maskUnits="userSpaceOnUse" x="92" y="308.6" width="82" height="62.19999999999999"><rect x="92" y="308.6" width="82" height="62.19999999999999" fill="url(#mg10_0)"/></mask>
<g mask="url(#mk10_0)"><rect x="92" y="308.6" width="82" height="62.19999999999999" filter="url(#mf10_0)" clip-path="url(#tc10)" opacity="0.9"/></g>
<linearGradient id="mg10_1" gradientUnits="userSpaceOnUse" x1="0" y1="308.6" x2="0" y2="370.8"><stop offset="0.370" stop-color="#fff" stop-opacity="0"/><stop offset="0.530" stop-color="#fff" stop-opacity="1"/><stop offset="1.000" stop-color="#fff" stop-opacity="1"/></linearGradient>
<mask id="mk10_1" maskUnits="userSpaceOnUse" x="92" y="308.6" width="82" height="62.19999999999999"><rect x="92" y="308.6" width="82" height="62.19999999999999" fill="url(#mg10_1)"/></mask>
<g mask="url(#mk10_1)"><rect x="92" y="308.6" width="82" height="62.19999999999999" filter="url(#mf10_1)" clip-path="url(#tc10)" opacity="0.15"/></g>
<linearGradient id="mg10_2" gradientUnits="userSpaceOnUse" x1="0" y1="308.6" x2="0" y2="370.8"><stop offset="0.120" stop-color="#fff" stop-opacity="0"/><stop offset="0.280" stop-color="#fff" stop-opacity="1"/><stop offset="1.000" stop-color="#fff" stop-opacity="1"/></linearGradient>
<mask id="mk10_2" maskUnits="userSpaceOnUse" x="92" y="308.6" width="82" height="62.19999999999999"><rect x="92" y="308.6" width="82" height="62.19999999999999" fill="url(#mg10_2)"/></mask>
<g mask="url(#mk10_2)"><rect x="92" y="308.6" width="82" height="62.19999999999999" filter="url(#mf10_2)" clip-path="url(#tc10)" opacity="0.9"/></g>
<linearGradient id="mg10_3" gradientUnits="userSpaceOnUse" x1="0" y1="308.6" x2="0" y2="370.8"><stop offset="0.070" stop-color="#fff" stop-opacity="0"/><stop offset="0.230" stop-color="#fff" stop-opacity="1"/><stop offset="0.720" stop-color="#fff" stop-opacity="1"/><stop offset="0.880" stop-color="#fff" stop-opacity="0"/></linearGradient>
<mask id="mk10_3" maskUnits="userSpaceOnUse" x="92" y="308.6" width="82" height="62.19999999999999"><rect x="92" y="308.6" width="82" height="62.19999999999999" fill="url(#mg10_3)"/></mask>
<g mask="url(#mk10_3)"><rect x="92" y="308.6" width="82" height="62.19999999999999" filter="url(#mf10_3)" clip-path="url(#tc10)" opacity="1.0"/></g>
<circle cx="164.8" cy="353.3" r="0.73" fill="rgb(151,151,195)" opacity="0.6"/>
<circle cx="103.9" cy="360.0" r="0.78" fill="rgb(151,151,195)" opacity="0.6"/>
<circle cx="164.0" cy="336.8" r="0.50" fill="rgb(151,151,195)" opacity="0.6"/>
<circle cx="158.5" cy="354.5" r="0.55" fill="rgb(151,151,195)" opacity="0.6"/>
<circle cx="146.0" cy="336.1" r="0.53" fill="rgb(151,151,195)" opacity="0.6"/>
<circle cx="165.7" cy="350.4" r="0.76" fill="rgb(151,151,195)" opacity="0.6"/>
<circle cx="105.8" cy="322.5" r="0.81" fill="rgb(151,151,195)" opacity="0.6"/>
<circle cx="140.4" cy="367.5" r="0.59" fill="rgb(151,151,195)" opacity="0.6"/>
<circle cx="169.4" cy="330.2" r="0.64" fill="rgb(151,151,195)" opacity="0.6"/>
<circle cx="153.9" cy="355.3" r="0.53" fill="rgb(151,151,195)" opacity="0.6"/>
<circle cx="136.8" cy="353.4" r="0.51" fill="rgb(151,151,195)" opacity="0.6"/>
<circle cx="154.5" cy="365.3" r="0.60" fill="rgb(151,151,195)" opacity="0.6"/>
<circle cx="105.5" cy="322.7" r="0.71" fill="rgb(151,151,195)" opacity="0.6"/>
<circle cx="110.7" cy="360.0" r="0.62" fill="rgb(151,151,195)" opacity="0.6"/>
<circle cx="150.3" cy="345.1" r="0.72" fill="rgb(151,151,195)" opacity="0.6"/>
<circle cx="116.1" cy="328.9" r="0.54" fill="rgb(151,151,195)" opacity="0.6"/>
<circle cx="131.0" cy="332.7" r="0.83" fill="rgb(151,151,195)" opacity="0.6"/>
<circle cx="171.3" cy="357.5" r="0.75" fill="rgb(151,151,195)" opacity="0.6"/>
<circle cx="96.8" cy="349.4" r="0.49" fill="rgb(151,151,195)" opacity="0.6"/>
<circle cx="104.6" cy="341.1" r="0.84" fill="rgb(151,151,195)" opacity="0.6"/>
<circle cx="139.7" cy="323.9" r="0.67" fill="rgb(151,151,195)" opacity="0.6"/>
<circle cx="147.6" cy="351.8" r="0.87" fill="rgb(151,151,195)" opacity="0.6"/>
<circle cx="172.6" cy="367.7" r="0.49" fill="rgb(151,151,195)" opacity="0.6"/>
<circle cx="171.8" cy="362.9" r="0.87" fill="rgb(151,151,195)" opacity="0.6"/>
<circle cx="92.6" cy="358.1" r="0.58" fill="rgb(151,151,195)" opacity="0.6"/>
<circle cx="143.9" cy="323.7" r="0.62" fill="rgb(165,139,109)" opacity="0.66"/>
<circle cx="102.4" cy="340.4" r="0.43" fill="rgb(165,139,109)" opacity="1.00"/>
<circle cx="65.0" cy="330.6" r="0.71" fill="rgb(165,139,109)" opacity="0.70"/>
<circle cx="152.0" cy="330.6" r="0.52" fill="rgb(165,139,109)" opacity="0.68"/>
<circle cx="156.0" cy="322.5" r="0.40" fill="rgb(165,139,109)" opacity="0.52"/>
<circle cx="188.0" cy="323.3" r="0.56" fill="rgb(165,139,109)" opacity="0.66"/>
<circle cx="156.6" cy="336.3" r="0.54" fill="rgb(165,139,109)" opacity="0.91"/>
<circle cx="150.2" cy="326.0" r="0.58" fill="rgb(165,139,109)" opacity="0.58"/>
<circle cx="123.1" cy="328.9" r="0.57" fill="rgb(165,139,109)" opacity="0.84"/>
<circle cx="135.1" cy="325.5" r="0.73" fill="rgb(165,139,109)" opacity="0.97"/>
<circle cx="117.7" cy="313.5" r="0.47" fill="rgb(165,139,109)" opacity="0.97"/>
<circle cx="107.0" cy="323.2" r="0.48" fill="rgb(165,139,109)" opacity="0.82"/>
<circle cx="135.5" cy="324.3" r="0.76" fill="rgb(165,139,109)" opacity="0.83"/>
<circle cx="125.2" cy="316.8" r="0.66" fill="rgb(165,139,109)" opacity="0.59"/>
<circle cx="102.5" cy="325.4" r="0.73" fill="rgb(165,139,109)" opacity="0.64"/>
<circle cx="178.6" cy="325.0" r="0.70" fill="rgb(165,139,109)" opacity="0.96"/>
<circle cx="131.5" cy="328.6" r="0.74" fill="rgb(165,139,109)" opacity="0.92"/>
<circle cx="145.3" cy="318.7" r="0.72" fill="rgb(165,139,109)" opacity="0.74"/>
<circle cx="116.7" cy="322.9" r="0.71" fill="rgb(165,139,109)" opacity="0.89"/>
<circle cx="138.9" cy="330.0" r="0.76" fill="rgb(165,139,109)" opacity="0.83"/>
<circle cx="142.8" cy="328.3" r="0.59" fill="rgb(165,139,109)" opacity="0.85"/>
<circle cx="81.8" cy="329.9" r="0.74" fill="rgb(165,139,109)" opacity="0.55"/>
<circle cx="66.0" cy="327.8" r="0.41" fill="rgb(165,139,109)" opacity="0.67"/>
<circle cx="144.6" cy="322.4" r="0.46" fill="rgb(165,139,109)" opacity="0.75"/>
<circle cx="157.7" cy="321.5" r="0.49" fill="rgb(165,139,109)" opacity="0.50"/>
<circle cx="90.3" cy="329.8" r="0.70" fill="rgb(165,139,109)" opacity="0.86"/>
<circle cx="159.5" cy="331.1" r="0.52" fill="rgb(165,139,109)" opacity="0.79"/>
<circle cx="123.6" cy="324.4" r="0.67" fill="rgb(165,139,109)" opacity="0.70"/>
<circle cx="124.9" cy="330.9" r="0.79" fill="rgb(165,139,109)" opacity="0.70"/>
<circle cx="108.7" cy="321.0" r="0.50" fill="rgb(165,139,109)" opacity="0.58"/>
<circle cx="117.8" cy="315.9" r="0.55" fill="rgb(165,139,109)" opacity="0.96"/>
<circle cx="95.1" cy="326.7" r="0.60" fill="rgb(165,139,109)" opacity="0.80"/>
<circle cx="137.7" cy="323.0" r="0.50" fill="rgb(165,139,109)" opacity="0.86"/>
<circle cx="143.1" cy="326.9" r="0.72" fill="rgb(165,139,109)" opacity="0.52"/>
<circle cx="104.0" cy="328.0" r="0.73" fill="rgb(165,139,109)" opacity="0.82"/>
<circle cx="148.7" cy="336.2" r="0.48" fill="rgb(165,139,109)" opacity="0.73"/>
<circle cx="132.5" cy="325.1" r="0.48" fill="rgb(165,139,109)" opacity="0.65"/>
<circle cx="140.6" cy="337.6" r="0.51" fill="rgb(165,139,109)" opacity="0.52"/>
<circle cx="117.8" cy="323.7" r="0.63" fill="rgb(165,139,109)" opacity="0.75"/>
<circle cx="143.4" cy="335.0" r="0.76" fill="rgb(165,139,109)" opacity="1.00"/>
<circle cx="143.3" cy="328.1" r="0.54" fill="rgb(165,139,109)" opacity="0.75"/>
<circle cx="131.5" cy="329.7" r="0.72" fill="rgb(165,139,109)" opacity="0.62"/>
<circle cx="66.7" cy="329.6" r="0.50" fill="rgb(165,139,109)" opacity="0.55"/>
<circle cx="117.4" cy="325.1" r="0.55" fill="rgb(165,139,109)" opacity="0.79"/>
<circle cx="157.9" cy="320.6" r="0.53" fill="rgb(165,139,109)" opacity="0.68"/>
<circle cx="100.6" cy="325.9" r="0.40" fill="rgb(165,139,109)" opacity="0.86"/>
<circle cx="159.5" cy="338.0" r="0.58" fill="rgb(165,139,109)" opacity="0.69"/>
<circle cx="107.6" cy="330.2" r="0.59" fill="rgb(165,139,109)" opacity="0.76"/>
<circle cx="123.9" cy="331.5" r="0.69" fill="rgb(165,139,109)" opacity="0.74"/>
<circle cx="138.2" cy="318.8" r="0.56" fill="rgb(165,139,109)" opacity="0.79"/>
<circle cx="117.8" cy="314.6" r="0.71" fill="rgb(165,139,109)" opacity="0.94"/>
<circle cx="125.7" cy="328.1" r="0.50" fill="rgb(165,139,109)" opacity="0.82"/>
<circle cx="137.7" cy="319.5" r="0.67" fill="rgb(165,139,109)" opacity="0.80"/>
<circle cx="98.4" cy="332.2" r="0.73" fill="rgb(165,139,109)" opacity="0.98"/>
<circle cx="104.0" cy="324.9" r="0.64" fill="rgb(165,139,109)" opacity="0.69"/>
<circle cx="117.4" cy="320.3" r="0.79" fill="rgb(165,139,109)" opacity="0.71"/>
<circle cx="129.8" cy="326.8" r="0.60" fill="rgb(165,139,109)" opacity="0.54"/>
<circle cx="124.5" cy="322.4" r="0.65" fill="rgb(165,139,109)" opacity="0.87"/>
<circle cx="118.4" cy="324.9" r="0.76" fill="rgb(165,139,109)" opacity="0.95"/>
<circle cx="126.3" cy="334.6" r="0.70" fill="rgb(165,139,109)" opacity="0.54"/>
<circle cx="174.2" cy="365.2" r="0.50" fill="rgb(165,139,109)" opacity="0.69"/>
<circle cx="161.1" cy="368.0" r="0.73" fill="rgb(165,139,109)" opacity="0.92"/>
<circle cx="114.3" cy="347.0" r="0.40" fill="rgb(165,139,109)" opacity="0.67"/>
<circle cx="135.2" cy="338.7" r="0.41" fill="rgb(165,139,109)" opacity="0.55"/>
<circle cx="122.5" cy="355.2" r="0.57" fill="rgb(165,139,109)" opacity="0.66"/>
<circle cx="133.0" cy="365.9" r="0.57" fill="rgb(165,139,109)" opacity="0.80"/>
<circle cx="124.6" cy="344.1" r="0.64" fill="rgb(165,139,109)" opacity="0.67"/>
<circle cx="109.2" cy="359.3" r="0.54" fill="rgb(165,139,109)" opacity="0.83"/>
<circle cx="150.3" cy="360.2" r="0.55" fill="rgb(165,139,109)" opacity="1.00"/>
<circle cx="144.9" cy="360.4" r="0.67" fill="rgb(165,139,109)" opacity="0.89"/>
<circle cx="175.2" cy="366.8" r="0.63" fill="rgb(165,139,109)" opacity="0.51"/>
<circle cx="140.2" cy="345.5" r="0.70" fill="rgb(165,139,109)" opacity="0.98"/>
<circle cx="109.9" cy="344.8" r="0.60" fill="rgb(165,139,109)" opacity="0.85"/>
<circle cx="140.6" cy="370.0" r="0.52" fill="rgb(165,139,109)" opacity="0.93"/>
<circle cx="125.2" cy="355.2" r="0.70" fill="rgb(165,139,109)" opacity="0.74"/>
<circle cx="127.6" cy="353.4" r="0.42" fill="rgb(165,139,109)" opacity="0.54"/>
<circle cx="124.5" cy="342.8" r="0.36" fill="rgb(165,139,109)" opacity="1.00"/>
<circle cx="123.2" cy="349.8" r="0.55" fill="rgb(165,139,109)" opacity="0.69"/>
<circle cx="151.1" cy="362.7" r="0.74" fill="rgb(165,139,109)" opacity="0.91"/>
<circle cx="164.5" cy="345.3" r="0.41" fill="rgb(165,139,109)" opacity="0.52"/>
<circle cx="174.8" cy="368.2" r="0.67" fill="rgb(165,139,109)" opacity="0.86"/>
<circle cx="137.1" cy="362.0" r="0.37" fill="rgb(165,139,109)" opacity="0.63"/>
<circle cx="111.4" cy="344.6" r="0.40" fill="rgb(165,139,109)" opacity="0.67"/>
<circle cx="131.9" cy="350.3" r="0.54" fill="rgb(165,139,109)" opacity="0.66"/>
<circle cx="126.0" cy="357.1" r="0.62" fill="rgb(165,139,109)" opacity="0.68"/>
<circle cx="95.9" cy="358.6" r="0.44" fill="rgb(165,139,109)" opacity="0.66"/>
<circle cx="125.7" cy="348.1" r="0.68" fill="rgb(165,139,109)" opacity="0.74"/>
<circle cx="159.0" cy="362.7" r="0.60" fill="rgb(165,139,109)" opacity="0.95"/>
<circle cx="151.4" cy="357.5" r="0.38" fill="rgb(165,139,109)" opacity="0.65"/>
<circle cx="132.6" cy="365.5" r="0.66" fill="rgb(165,139,109)" opacity="0.96"/>
<path d="M114.1 319.8 L115.8 333.5 L113.3 345.9" fill="none" stroke="rgb(222,219,220)" stroke-width="3.0" stroke-linecap="round" stroke-linejoin="round" opacity="0.45" filter="url(#soft2)"/>
<path d="M130.5 321.0 L132.2 336.6 L133.0 347.2" fill="none" stroke="rgb(222,219,220)" stroke-width="3.0" stroke-linecap="round" stroke-linejoin="round" opacity="0.45" filter="url(#soft2)"/>
<path d="M134.6 344.7 L141.2 347.2" fill="none" stroke="rgb(179,184,202)" stroke-width="5" stroke-linecap="round" stroke-linejoin="round" opacity="0.7" filter="url(#soft2)"/>
<path d="M160.1 348.4 L165.8 349.7" fill="none" stroke="rgb(183,186,202)" stroke-width="4" stroke-linecap="round" stroke-linejoin="round" opacity="0.6" filter="url(#soft2)"/>
<path d="M90 306.6 L176 306.6 L176 317.9 L174.0 317.9 L171.9 318.0 L169.8 318.2 L167.7 318.4 L165.6 318.7 L163.5 319.1 L161.4 319.6 L159.3 320.2 L157.2 320.7 L155.1 321.0 L153.0 320.9 L150.9 320.3 L148.8 319.4 L146.7 318.4 L144.6 317.7 L142.5 317.2 L140.4 317.0 L138.3 317.1 L136.2 317.5 L134.1 318.2 L131.9 319.1 L129.8 320.1 L127.7 321.1 L125.6 321.7 L123.5 321.8 L121.4 321.4 L119.3 320.6 L117.2 319.7 L115.1 318.8 L113.0 318.0 L110.9 317.6 L108.8 317.5 L106.7 317.7 L104.6 318.1 L102.5 318.7 L100.4 319.4 L98.3 320.2 L96.2 321.0 L94.1 321.8 L92.0 322.6 L90 322.6 Z" fill="rgb(215,212,210)"/>
</g>
<rect x="93.5" y="367.8" width="8.5" height="1.1" fill="rgb(120,160,230)"/>
</g>
<rect x="92.68" y="309.28000000000003" width="80.65" height="60.84999999999999" fill="none" stroke="#303030" stroke-width="1.35"/>
<clipPath id="hc11"><rect x="178" y="308.6" width="82" height="62.19999999999999"/></clipPath>
<linearGradient id="dg11" x1="0" y1="0" x2="0" y2="1"><stop offset="0" stop-color="rgb(191,180,166)"/><stop offset="0.28" stop-color="rgb(199,192,183)"/><stop offset="0.38" stop-color="rgb(189,178,164)"/><stop offset="0.68" stop-color="rgb(191,180,166)"/><stop offset="0.8" stop-color="rgb(207,202,195)"/><stop offset="1" stop-color="rgb(214,209,204)"/></linearGradient>
<filter id="mf11_0" x="0" y="0" width="100%" height="100%" color-interpolation-filters="sRGB"><feTurbulence type="fractalNoise" baseFrequency="0.6" numOctaves="3" seed="122"/><feColorMatrix type="matrix" values="0 0 0 0 0.700 0 0 0 0 0.576 0 0 0 0 0.445 3.0 0 0 0 -1.45"/></filter>
<filter id="mf11_1" x="0" y="0" width="100%" height="100%" color-interpolation-filters="sRGB"><feTurbulence type="fractalNoise" baseFrequency="0.6" numOctaves="3" seed="123"/><feColorMatrix type="matrix" values="0 0 0 0 0.700 0 0 0 0 0.576 0 0 0 0 0.445 3.0 0 0 0 -1.45"/></filter>
<filter id="mf11_2" x="0" y="0" width="100%" height="100%" color-interpolation-filters="sRGB"><feTurbulence type="fractalNoise" baseFrequency="0.2" numOctaves="3" seed="45"/><feColorMatrix type="matrix" values="0 0 0 0 0.854 0 0 0 0 0.844 0 0 0 0 0.847 2.5 0 0 0 -1.2"/></filter>
<g clip-path="url(#hc11)"><g filter="url(#soft)">
<rect x="178" y="308.6" width="82" height="62.19999999999999" fill="url(#dg11)"/>
<path d="M178.0 317.9 L180.1 317.9 L182.2 317.9 L184.3 317.8 L186.4 317.8 L188.5 317.8 L190.6 317.8 L192.7 317.8 L194.8 317.8 L196.9 317.8 L199.0 317.8 L201.1 317.8 L203.2 317.8 L205.3 317.8 L207.4 317.9 L209.5 317.9 L211.6 317.9 L213.7 318.0 L215.8 318.1 L217.9 318.2 L220.1 318.2 L222.2 318.4 L224.3 318.5 L226.4 318.6 L228.5 318.7 L230.6 318.9 L232.7 319.1 L234.8 319.2 L236.9 319.4 L239.0 319.7 L241.1 319.9 L243.2 320.1 L245.3 320.4 L247.4 320.7 L249.5 321.0 L251.6 321.3 L253.7 321.6 L255.8 321.9 L257.9 322.3 L260.0 322.6 L260.0 323.6 L232.7 322.6 L205.3 321.6 L178.0 320.6 Z" fill="rgb(195,186,174)" opacity="0.6" filter="url(#soft2)"/>
<clipPath id="tc11"><path d="M176 372.8 L176.0 317.9 L178.0 317.9 L180.1 317.9 L182.2 317.9 L184.3 317.8 L186.4 317.8 L188.5 317.8 L190.6 317.8 L192.7 317.8 L194.8 317.8 L196.9 317.8 L199.0 317.8 L201.1 317.8 L203.2 317.8 L205.3 317.8 L207.4 317.9 L209.5 317.9 L211.6 317.9 L213.7 318.0 L215.8 318.1 L217.9 318.2 L220.1 318.2 L222.2 318.4 L224.3 318.5 L226.4 318.6 L228.5 318.7 L230.6 318.9 L232.7 319.1 L234.8 319.2 L236.9 319.4 L239.0 319.7 L241.1 319.9 L243.2 320.1 L245.3 320.4 L247.4 320.7 L249.5 321.0 L251.6 321.3 L253.7 321.6 L255.8 321.9 L257.9 322.3 L260.0 322.6 L262.0 322.6 L262 372.8 Z"/></clipPath>
<linearGradient id="mg11_0" gradientUnits="userSpaceOnUse" x1="0" y1="308.6" x2="0" y2="370.8"><stop offset="0.040" stop-color="#fff" stop-opacity="0"/><stop offset="0.200" stop-color="#fff" stop-opacity="1"/><stop offset="0.640" stop-color="#fff" stop-opacity="1"/><stop offset="0.800" stop-color="#fff" stop-opacity="0"/></linearGradient>
<mask id="mk11_0" maskUnits="userSpaceOnUse" x="178" y="308.6" width="82" height="62.19999999999999"><rect x="178" y="308.6" width="82" height="62.19999999999999" fill="url(#mg11_0)"/></mask>
<g mask="url(#mk11_0)"><rect x="178" y="308.6" width="82" height="62.19999999999999" filter="url(#mf11_0)" clip-path="url(#tc11)" opacity="0.7"/></g>
<linearGradient id="mg11_1" gradientUnits="userSpaceOnUse" x1="0" y1="308.6" x2="0" y2="370.8"><stop offset="0.270" stop-color="#fff" stop-opacity="0"/><stop offset="0.430" stop-color="#fff" stop-opacity="1"/><stop offset="0.620" stop-color="#fff" stop-opacity="1"/><stop offset="0.780" stop-color="#fff" stop-opacity="0"/></linearGradient>
<mask id="mk11_1" maskUnits="userSpaceOnUse" x="178" y="308.6" width="82" height="62.19999999999999"><rect x="178" y="308.6" width="82" height="62.19999999999999" fill="url(#mg11_1)"/></mask>
<g mask="url(#mk11_1)"><rect x="178" y="308.6" width="82" height="62.19999999999999" filter="url(#mf11_1)" clip-path="url(#tc11)" opacity="0.5"/></g>
<linearGradient id="mg11_2" gradientUnits="userSpaceOnUse" x1="0" y1="308.6" x2="0" y2="370.8"><stop offset="0.070" stop-color="#fff" stop-opacity="0"/><stop offset="0.230" stop-color="#fff" stop-opacity="1"/><stop offset="1.000" stop-color="#fff" stop-opacity="1"/></linearGradient>
<mask id="mk11_2" maskUnits="userSpaceOnUse" x="178" y="308.6" width="82" height="62.19999999999999"><rect x="178" y="308.6" width="82" height="62.19999999999999" fill="url(#mg11_2)"/></mask>
<g mask="url(#mk11_2)"><rect x="178" y="308.6" width="82" height="62.19999999999999" filter="url(#mf11_2)" clip-path="url(#tc11)" opacity="0.55"/></g>
<circle cx="181.3" cy="341.6" r="0.72" fill="rgb(151,151,195)" opacity="0.6"/>
<circle cx="241.3" cy="358.2" r="0.53" fill="rgb(151,151,195)" opacity="0.6"/>
<circle cx="189.4" cy="364.3" r="0.63" fill="rgb(151,151,195)" opacity="0.6"/>
<circle cx="226.3" cy="322.5" r="0.83" fill="rgb(151,151,195)" opacity="0.6"/>
<circle cx="206.4" cy="355.9" r="0.48" fill="rgb(151,151,195)" opacity="0.6"/>
<circle cx="237.0" cy="335.5" r="0.54" fill="rgb(151,151,195)" opacity="0.6"/>
<circle cx="209.8" cy="370.1" r="0.72" fill="rgb(151,151,195)" opacity="0.6"/>
<circle cx="178.6" cy="323.9" r="0.81" fill="rgb(151,151,195)" opacity="0.6"/>
<circle cx="217.8" cy="340.5" r="0.86" fill="rgb(151,151,195)" opacity="0.6"/>
<circle cx="256.4" cy="369.4" r="0.47" fill="rgb(151,151,195)" opacity="0.6"/>
<circle cx="207.0" cy="365.4" r="0.79" fill="rgb(151,151,195)" opacity="0.6"/>
<circle cx="197.4" cy="364.5" r="0.87" fill="rgb(151,151,195)" opacity="0.6"/>
<circle cx="256.2" cy="359.5" r="0.47" fill="rgb(151,151,195)" opacity="0.6"/>
<circle cx="183.2" cy="365.7" r="0.63" fill="rgb(151,151,195)" opacity="0.6"/>
<circle cx="206.6" cy="357.6" r="0.72" fill="rgb(151,151,195)" opacity="0.6"/>
<circle cx="205.1" cy="340.7" r="0.63" fill="rgb(151,151,195)" opacity="0.6"/>
<circle cx="257.0" cy="328.0" r="0.66" fill="rgb(151,151,195)" opacity="0.6"/>
<circle cx="215.3" cy="364.3" r="0.75" fill="rgb(151,151,195)" opacity="0.6"/>
<circle cx="243.0" cy="343.2" r="0.58" fill="rgb(151,151,195)" opacity="0.6"/>
<circle cx="198.6" cy="369.2" r="0.51" fill="rgb(151,151,195)" opacity="0.6"/>
<circle cx="220.9" cy="334.1" r="0.69" fill="rgb(165,139,109)" opacity="0.96"/>
<circle cx="220.5" cy="332.1" r="0.59" fill="rgb(165,139,109)" opacity="0.57"/>
<circle cx="255.4" cy="335.0" r="0.41" fill="rgb(165,139,109)" opacity="0.56"/>
<circle cx="241.4" cy="336.6" r="0.79" fill="rgb(165,139,109)" opacity="0.51"/>
<circle cx="251.2" cy="347.3" r="0.70" fill="rgb(165,139,109)" opacity="0.60"/>
<circle cx="259.3" cy="350.1" r="0.70" fill="rgb(165,139,109)" opacity="0.72"/>
<circle cx="213.6" cy="342.3" r="0.69" fill="rgb(165,139,109)" opacity="0.94"/>
<circle cx="237.0" cy="350.0" r="0.39" fill="rgb(165,139,109)" opacity="0.95"/>
<circle cx="195.4" cy="319.4" r="0.66" fill="rgb(165,139,109)" opacity="0.61"/>
<circle cx="246.3" cy="327.9" r="0.80" fill="rgb(165,139,109)" opacity="0.98"/>
<circle cx="192.5" cy="326.3" r="0.39" fill="rgb(165,139,109)" opacity="0.87"/>
<circle cx="245.1" cy="340.1" r="0.42" fill="rgb(165,139,109)" opacity="0.80"/>
<circle cx="158.0" cy="346.9" r="0.54" fill="rgb(165,139,109)" opacity="0.57"/>
<circle cx="211.2" cy="330.7" r="0.73" fill="rgb(165,139,109)" opacity="0.53"/>
<circle cx="223.6" cy="330.7" r="0.78" fill="rgb(165,139,109)" opacity="0.98"/>
<circle cx="243.2" cy="343.4" r="0.69" fill="rgb(165,139,109)" opacity="0.76"/>
<circle cx="235.8" cy="343.1" r="0.40" fill="rgb(165,139,109)" opacity="0.82"/>
<circle cx="275.0" cy="340.0" r="0.77" fill="rgb(165,139,109)" opacity="0.92"/>
<circle cx="220.4" cy="333.5" r="0.60" fill="rgb(165,139,109)" opacity="0.76"/>
<circle cx="200.0" cy="341.6" r="0.73" fill="rgb(165,139,109)" opacity="0.59"/>
<circle cx="176.2" cy="326.2" r="0.57" fill="rgb(165,139,109)" opacity="0.72"/>
<circle cx="200.6" cy="329.9" r="0.79" fill="rgb(165,139,109)" opacity="0.80"/>
<circle cx="235.0" cy="339.9" r="0.64" fill="rgb(165,139,109)" opacity="0.94"/>
<circle cx="218.6" cy="344.7" r="0.57" fill="rgb(165,139,109)" opacity="0.81"/>
<circle cx="221.8" cy="330.2" r="0.47" fill="rgb(165,139,109)" opacity="0.76"/>
<circle cx="197.9" cy="316.4" r="0.72" fill="rgb(165,139,109)" opacity="0.71"/>
<circle cx="167.9" cy="332.1" r="0.49" fill="rgb(165,139,109)" opacity="0.50"/>
<circle cx="239.3" cy="330.6" r="0.61" fill="rgb(165,139,109)" opacity="0.64"/>
<circle cx="195.7" cy="344.6" r="0.44" fill="rgb(165,139,109)" opacity="0.77"/>
<circle cx="236.9" cy="342.5" r="0.56" fill="rgb(165,139,109)" opacity="0.94"/>
<circle cx="228.2" cy="336.7" r="0.45" fill="rgb(165,139,109)" opacity="0.63"/>
<circle cx="215.0" cy="337.5" r="0.55" fill="rgb(165,139,109)" opacity="0.67"/>
<circle cx="228.6" cy="348.1" r="0.53" fill="rgb(165,139,109)" opacity="0.69"/>
<circle cx="249.9" cy="339.9" r="0.46" fill="rgb(165,139,109)" opacity="0.61"/>
<circle cx="196.9" cy="339.7" r="0.59" fill="rgb(165,139,109)" opacity="0.77"/>
<circle cx="206.1" cy="332.6" r="0.46" fill="rgb(165,139,109)" opacity="0.85"/>
<circle cx="220.9" cy="333.1" r="0.69" fill="rgb(165,139,109)" opacity="0.57"/>
<circle cx="215.9" cy="337.3" r="0.54" fill="rgb(165,139,109)" opacity="0.84"/>
<circle cx="253.8" cy="333.1" r="0.40" fill="rgb(165,139,109)" opacity="0.79"/>
<circle cx="194.6" cy="332.7" r="0.65" fill="rgb(165,139,109)" opacity="0.62"/>
<circle cx="249.0" cy="344.9" r="0.40" fill="rgb(165,139,109)" opacity="0.53"/>
<circle cx="214.2" cy="347.5" r="0.76" fill="rgb(165,139,109)" opacity="0.81"/>
<circle cx="215.9" cy="344.6" r="0.68" fill="rgb(165,139,109)" opacity="0.98"/>
<circle cx="222.9" cy="331.4" r="0.54" fill="rgb(165,139,109)" opacity="0.61"/>
<circle cx="194.5" cy="317.8" r="0.45" fill="rgb(165,139,109)" opacity="0.80"/>
<circle cx="213.9" cy="321.3" r="0.75" fill="rgb(165,139,109)" opacity="0.92"/>
<circle cx="193.1" cy="323.5" r="0.67" fill="rgb(165,139,109)" opacity="0.81"/>
<circle cx="227.6" cy="343.4" r="0.72" fill="rgb(165,139,109)" opacity="0.67"/>
<circle cx="157.5" cy="347.5" r="0.73" fill="rgb(165,139,109)" opacity="0.68"/>
<circle cx="251.3" cy="339.8" r="0.67" fill="rgb(165,139,109)" opacity="0.87"/>
<circle cx="222.3" cy="329.0" r="0.43" fill="rgb(165,139,109)" opacity="0.75"/>
<circle cx="269.0" cy="335.4" r="0.62" fill="rgb(165,139,109)" opacity="0.61"/>
<circle cx="238.8" cy="338.8" r="0.39" fill="rgb(165,139,109)" opacity="0.52"/>
<circle cx="212.7" cy="316.5" r="0.70" fill="rgb(165,139,109)" opacity="0.65"/>
<circle cx="222.1" cy="333.7" r="0.57" fill="rgb(165,139,109)" opacity="0.97"/>
<circle cx="196.8" cy="346.6" r="0.43" fill="rgb(165,139,109)" opacity="0.57"/>
<circle cx="175.0" cy="325.4" r="0.51" fill="rgb(165,139,109)" opacity="0.84"/>
<circle cx="223.5" cy="343.2" r="0.54" fill="rgb(165,139,109)" opacity="0.85"/>
<circle cx="234.5" cy="335.6" r="0.80" fill="rgb(165,139,109)" opacity="0.79"/>
<circle cx="205.4" cy="343.6" r="0.39" fill="rgb(165,139,109)" opacity="0.80"/>
<circle cx="225.4" cy="327.9" r="0.66" fill="rgb(165,139,109)" opacity="0.66"/>
<circle cx="216.4" cy="328.8" r="0.59" fill="rgb(165,139,109)" opacity="0.83"/>
<circle cx="168.2" cy="335.7" r="0.62" fill="rgb(165,139,109)" opacity="0.88"/>
<circle cx="240.2" cy="335.8" r="0.68" fill="rgb(165,139,109)" opacity="0.55"/>
<circle cx="191.0" cy="345.5" r="0.53" fill="rgb(165,139,109)" opacity="0.76"/>
<circle cx="214.7" cy="341.8" r="0.64" fill="rgb(165,139,109)" opacity="0.70"/>
<circle cx="229.2" cy="334.1" r="0.75" fill="rgb(165,139,109)" opacity="0.62"/>
<circle cx="206.3" cy="342.0" r="0.52" fill="rgb(165,139,109)" opacity="0.62"/>
<circle cx="230.8" cy="348.7" r="0.80" fill="rgb(165,139,109)" opacity="0.86"/>
<circle cx="219.1" cy="353.6" r="0.57" fill="rgb(165,139,109)" opacity="0.78"/>
<circle cx="197.6" cy="337.1" r="0.43" fill="rgb(165,139,109)" opacity="0.89"/>
<circle cx="214.1" cy="338.1" r="0.57" fill="rgb(165,139,109)" opacity="0.86"/>
<circle cx="220.9" cy="335.8" r="0.42" fill="rgb(165,139,109)" opacity="0.86"/>
<circle cx="215.8" cy="335.2" r="0.46" fill="rgb(165,139,109)" opacity="0.54"/>
<circle cx="257.5" cy="331.5" r="0.68" fill="rgb(165,139,109)" opacity="0.55"/>
<circle cx="248.9" cy="353.0" r="0.39" fill="rgb(165,139,109)" opacity="0.59"/>
<circle cx="249.9" cy="345.3" r="0.61" fill="rgb(165,139,109)" opacity="0.82"/>
<circle cx="226.5" cy="328.0" r="0.62" fill="rgb(165,139,109)" opacity="0.57"/>
<circle cx="217.5" cy="343.9" r="0.41" fill="rgb(165,139,109)" opacity="0.63"/>
<circle cx="243.6" cy="343.2" r="0.43" fill="rgb(165,139,109)" opacity="0.79"/>
<circle cx="192.7" cy="320.2" r="0.39" fill="rgb(165,139,109)" opacity="0.60"/>
<circle cx="208.9" cy="334.1" r="0.54" fill="rgb(165,139,109)" opacity="0.68"/>
<circle cx="187.7" cy="324.6" r="0.77" fill="rgb(165,139,109)" opacity="0.81"/>
<circle cx="230.1" cy="336.1" r="0.65" fill="rgb(165,139,109)" opacity="0.90"/>
<circle cx="161.4" cy="346.5" r="0.67" fill="rgb(165,139,109)" opacity="0.97"/>
<circle cx="220.2" cy="342.1" r="0.67" fill="rgb(165,139,109)" opacity="0.58"/>
<circle cx="221.5" cy="328.8" r="0.45" fill="rgb(165,139,109)" opacity="0.60"/>
<circle cx="229.6" cy="333.0" r="0.42" fill="rgb(165,139,109)" opacity="0.70"/>
<circle cx="239.0" cy="342.8" r="0.69" fill="rgb(165,139,109)" opacity="0.97"/>
<circle cx="209.1" cy="329.5" r="0.50" fill="rgb(165,139,109)" opacity="0.72"/>
<circle cx="221.1" cy="334.8" r="0.57" fill="rgb(165,139,109)" opacity="0.94"/>
<circle cx="224.8" cy="323.9" r="0.79" fill="rgb(165,139,109)" opacity="0.95"/>
<circle cx="176.0" cy="328.0" r="0.76" fill="rgb(165,139,109)" opacity="0.89"/>
<circle cx="225.7" cy="335.0" r="0.78" fill="rgb(165,139,109)" opacity="0.83"/>
<circle cx="236.1" cy="337.3" r="0.76" fill="rgb(165,139,109)" opacity="0.79"/>
<circle cx="254.3" cy="332.2" r="0.63" fill="rgb(165,139,109)" opacity="0.92"/>
<circle cx="225.7" cy="326.4" r="0.62" fill="rgb(165,139,109)" opacity="0.84"/>
<circle cx="219.3" cy="342.6" r="0.43" fill="rgb(165,139,109)" opacity="0.69"/>
<circle cx="167.8" cy="332.0" r="0.72" fill="rgb(165,139,109)" opacity="0.64"/>
<circle cx="198.8" cy="354.1" r="0.44" fill="rgb(165,139,109)" opacity="0.95"/>
<circle cx="193.2" cy="343.8" r="0.73" fill="rgb(165,139,109)" opacity="0.97"/>
<circle cx="181.7" cy="328.9" r="0.44" fill="rgb(165,139,109)" opacity="0.98"/>
<circle cx="229.2" cy="337.4" r="0.70" fill="rgb(165,139,109)" opacity="0.86"/>
<circle cx="220.4" cy="349.4" r="0.47" fill="rgb(165,139,109)" opacity="0.63"/>
<circle cx="230.8" cy="345.4" r="0.47" fill="rgb(165,139,109)" opacity="0.90"/>
<circle cx="194.5" cy="331.8" r="0.54" fill="rgb(165,139,109)" opacity="0.82"/>
<circle cx="198.4" cy="339.0" r="0.77" fill="rgb(165,139,109)" opacity="0.93"/>
<circle cx="199.9" cy="326.8" r="0.74" fill="rgb(165,139,109)" opacity="0.80"/>
<circle cx="221.7" cy="332.5" r="0.45" fill="rgb(165,139,109)" opacity="0.97"/>
<circle cx="256.0" cy="331.5" r="0.69" fill="rgb(165,139,109)" opacity="0.54"/>
<circle cx="225.2" cy="353.2" r="0.70" fill="rgb(165,139,109)" opacity="0.89"/>
<circle cx="233.2" cy="354.0" r="0.38" fill="rgb(165,139,109)" opacity="0.54"/>
<circle cx="246.0" cy="361.3" r="0.68" fill="rgb(165,139,109)" opacity="0.89"/>
<circle cx="188.3" cy="364.6" r="0.73" fill="rgb(165,139,109)" opacity="0.52"/>
<circle cx="161.2" cy="361.6" r="0.55" fill="rgb(165,139,109)" opacity="0.83"/>
<circle cx="207.7" cy="363.0" r="0.65" fill="rgb(165,139,109)" opacity="0.97"/>
<circle cx="179.7" cy="367.5" r="0.69" fill="rgb(165,139,109)" opacity="0.78"/>
<circle cx="234.2" cy="358.1" r="0.50" fill="rgb(165,139,109)" opacity="0.75"/>
<circle cx="227.8" cy="368.9" r="0.40" fill="rgb(165,139,109)" opacity="0.80"/>
<circle cx="226.2" cy="367.4" r="0.49" fill="rgb(165,139,109)" opacity="0.71"/>
<circle cx="222.9" cy="355.1" r="0.37" fill="rgb(165,139,109)" opacity="0.56"/>
<circle cx="232.9" cy="361.7" r="0.60" fill="rgb(165,139,109)" opacity="0.70"/>
<circle cx="247.3" cy="362.9" r="0.50" fill="rgb(165,139,109)" opacity="0.97"/>
<circle cx="195.4" cy="361.7" r="0.58" fill="rgb(165,139,109)" opacity="0.98"/>
<circle cx="163.3" cy="361.5" r="0.68" fill="rgb(165,139,109)" opacity="0.99"/>
<circle cx="206.7" cy="365.3" r="0.71" fill="rgb(165,139,109)" opacity="0.70"/>
<circle cx="183.9" cy="367.8" r="0.64" fill="rgb(165,139,109)" opacity="0.60"/>
<circle cx="208.4" cy="360.6" r="0.53" fill="rgb(165,139,109)" opacity="0.83"/>
<circle cx="230.4" cy="369.6" r="0.45" fill="rgb(165,139,109)" opacity="0.72"/>
<circle cx="217.3" cy="360.8" r="0.53" fill="rgb(165,139,109)" opacity="0.77"/>
<circle cx="226.8" cy="352.3" r="0.70" fill="rgb(165,139,109)" opacity="0.94"/>
<circle cx="239.3" cy="357.1" r="0.41" fill="rgb(165,139,109)" opacity="0.64"/>
<circle cx="246.9" cy="363.6" r="0.53" fill="rgb(165,139,109)" opacity="0.86"/>
<circle cx="207.5" cy="353.3" r="0.44" fill="rgb(165,139,109)" opacity="0.57"/>
<circle cx="164.3" cy="363.2" r="0.47" fill="rgb(165,139,109)" opacity="0.87"/>
<circle cx="219.9" cy="357.0" r="0.46" fill="rgb(165,139,109)" opacity="0.75"/>
<circle cx="184.7" cy="364.8" r="0.64" fill="rgb(165,139,109)" opacity="0.86"/>
<circle cx="216.2" cy="360.5" r="0.63" fill="rgb(165,139,109)" opacity="0.51"/>
<circle cx="229.7" cy="368.9" r="0.47" fill="rgb(165,139,109)" opacity="0.88"/>
<circle cx="213.7" cy="358.1" r="0.74" fill="rgb(165,139,109)" opacity="0.51"/>
<path d="M176 306.6 L262 306.6 L262 322.6 L260.0 322.6 L257.9 322.3 L255.8 321.9 L253.7 321.6 L251.6 321.3 L249.5 321.0 L247.4 320.7 L245.3 320.4 L243.2 320.1 L241.1 319.9 L239.0 319.7 L236.9 319.4 L234.8 319.2 L232.7 319.1 L230.6 318.9 L228.5 318.7 L226.4 318.6 L224.3 318.5 L222.2 318.4 L220.1 318.2 L217.9 318.2 L215.8 318.1 L213.7 318.0 L211.6 317.9 L209.5 317.9 L207.4 317.9 L205.3 317.8 L203.2 317.8 L201.1 317.8 L199.0 317.8 L196.9 317.8 L194.8 317.8 L192.7 317.8 L190.6 317.8 L188.5 317.8 L186.4 317.8 L184.3 317.8 L182.2 317.9 L180.1 317.9 L178.0 317.9 L176 317.9 Z" fill="rgb(216,212,209)"/>
</g>
<rect x="179.5" y="367.8" width="8.5" height="1.1" fill="rgb(120,160,230)"/>
</g>
<rect x="178.68" y="309.28000000000003" width="80.65" height="60.84999999999999" fill="none" stroke="#303030" stroke-width="1.35"/>
<clipPath id="hc12"><rect x="262" y="308.6" width="83" height="62.19999999999999"/></clipPath>
<linearGradient id="dg12" x1="0" y1="0" x2="0" y2="1"><stop offset="0" stop-color="rgb(204,200,200)"/><stop offset="0.45" stop-color="rgb(209,204,200)"/><stop offset="1" stop-color="rgb(214,210,206)"/></linearGradient>
<filter id="mf12_0" x="0" y="0" width="100%" height="100%" color-interpolation-filters="sRGB"><feTurbulence type="fractalNoise" baseFrequency="0.6" numOctaves="3" seed="124"/><feColorMatrix type="matrix" values="0 0 0 0 0.660 0 0 0 0 0.653 0 0 0 0 0.749 3.2 0 0 0 -1.5"/></filter>
<filter id="mf12_1" x="0" y="0" width="100%" height="100%" color-interpolation-filters="sRGB"><feTurbulence type="fractalNoise" baseFrequency="0.6" numOctaves="3" seed="125"/><feColorMatrix type="matrix" values="0 0 0 0 0.700 0 0 0 0 0.576 0 0 0 0 0.445 3.0 0 0 0 -1.45"/></filter>
<filter id="mf12_2" x="0" y="0" width="100%" height="100%" color-interpolation-filters="sRGB"><feTurbulence type="fractalNoise" baseFrequency="0.2" numOctaves="3" seed="47"/><feColorMatrix type="matrix" values="0 0 0 0 0.854 0 0 0 0 0.844 0 0 0 0 0.847 2.5 0 0 0 -1.2"/></filter>
<filter id="mf12_3" x="0" y="0" width="100%" height="100%" color-interpolation-filters="sRGB"><feTurbulence type="turbulence" baseFrequency="0.12" numOctaves="2" seed="48"/><feColorMatrix type="matrix" values="0 0 0 0 0.877 0 0 0 0 0.867 0 0 0 0 0.871 -5.0 0 0 0 1.1"/></filter>
<g clip-path="url(#hc12)"><g filter="url(#soft)">
<rect x="262" y="308.6" width="83" height="62.19999999999999" fill="url(#dg12)"/>
<path d="M262.0 317.1 L264.1 316.9 L266.3 316.7 L268.4 316.5 L270.5 316.4 L272.6 316.3 L274.8 316.2 L276.9 316.1 L279.0 316.1 L281.2 316.1 L283.3 316.1 L285.4 316.3 L287.5 316.5 L289.7 316.7 L291.8 317.0 L293.9 317.3 L296.1 317.7 L298.2 318.0 L300.3 318.2 L302.4 318.4 L304.6 318.6 L306.7 318.6 L308.8 318.5 L310.9 318.4 L313.1 318.1 L315.2 317.9 L317.3 317.7 L319.5 317.6 L321.6 317.6 L323.7 317.8 L325.8 318.2 L328.0 318.8 L330.1 319.5 L332.2 320.3 L334.4 321.1 L336.5 321.7 L338.6 322.3 L340.7 322.7 L342.9 323.0 L345.0 323.3 L345.0 334.6 L342.9 335.4 L340.7 336.1 L338.6 336.8 L336.5 337.4 L334.4 337.7 L332.2 337.9 L330.1 337.9 L328.0 337.5 L325.8 336.9 L323.7 336.0 L321.6 335.1 L319.5 334.2 L317.3 333.4 L315.2 332.8 L313.1 332.6 L310.9 332.7 L308.8 333.3 L306.7 334.1 L304.6 334.9 L302.4 335.5 L300.3 335.7 L298.2 335.3 L296.1 334.4 L293.9 333.3 L291.8 332.1 L289.7 331.1 L287.5 330.6 L285.4 330.8 L283.3 331.7 L281.2 332.9 L279.0 334.3 L276.9 335.6 L274.8 336.5 L272.6 336.9 L270.5 336.7 L268.4 336.0 L266.3 335.1 L264.1 333.9 L262.0 332.6 Z" fill="rgb(200,198,203)" opacity="0.85" filter="url(#soft2)"/>
<clipPath id="tc12"><path d="M260 372.8 L260.0 317.1 L262.0 317.1 L264.1 316.9 L266.3 316.7 L268.4 316.5 L270.5 316.4 L272.6 316.3 L274.8 316.2 L276.9 316.1 L279.0 316.1 L281.2 316.1 L283.3 316.1 L285.4 316.3 L287.5 316.5 L289.7 316.7 L291.8 317.0 L293.9 317.3 L296.1 317.7 L298.2 318.0 L300.3 318.2 L302.4 318.4 L304.6 318.6 L306.7 318.6 L308.8 318.5 L310.9 318.4 L313.1 318.1 L315.2 317.9 L317.3 317.7 L319.5 317.6 L321.6 317.6 L323.7 317.8 L325.8 318.2 L328.0 318.8 L330.1 319.5 L332.2 320.3 L334.4 321.1 L336.5 321.7 L338.6 322.3 L340.7 322.7 L342.9 323.0 L345.0 323.3 L347.0 323.3 L347 372.8 Z"/></clipPath>
<linearGradient id="mg12_0" gradientUnits="userSpaceOnUse" x1="0" y1="308.6" x2="0" y2="370.8"><stop offset="0.000" stop-color="#fff" stop-opacity="1"/><stop offset="0.420" stop-color="#fff" stop-opacity="1"/><stop offset="0.580" stop-color="#fff" stop-opacity="0"/></linearGradient>
<mask id="mk12_0" maskUnits="userSpaceOnUse" x="262" y="308.6" width="83" height="62.19999999999999"><rect x="262" y="308.6" width="83" height="62.19999999999999" fill="url(#mg12_0)"/></mask>
<g mask="url(#mk12_0)"><rect x="262" y="308.6" width="83" height="62.19999999999999" filter="url(#mf12_0)" clip-path="url(#tc12)" opacity="0.2"/></g>
<linearGradient id="mg12_1" gradientUnits="userSpaceOnUse" x1="0" y1="308.6" x2="0" y2="370.8"><stop offset="0.270" stop-color="#fff" stop-opacity="0"/><stop offset="0.430" stop-color="#fff" stop-opacity="1"/><stop offset="1.000" stop-color="#fff" stop-opacity="1"/></linearGradient>
<mask id="mk12_1" maskUnits="userSpaceOnUse" x="262" y="308.6" width="83" height="62.19999999999999"><rect x="262" y="308.6" width="83" height="62.19999999999999" fill="url(#mg12_1)"/></mask>
<g mask="url(#mk12_1)"><rect x="262" y="308.6" width="83" height="62.19999999999999" filter="url(#mf12_1)" clip-path="url(#tc12)" opacity="0.25"/></g>
<linearGradient id="mg12_2" gradientUnits="userSpaceOnUse" x1="0" y1="308.6" x2="0" y2="370.8"><stop offset="0.320" stop-color="#fff" stop-opacity="0"/><stop offset="0.480" stop-color="#fff" stop-opacity="1"/><stop offset="1.000" stop-color="#fff" stop-opacity="1"/></linearGradient>
<mask id="mk12_2" maskUnits="userSpaceOnUse" x="262" y="308.6" width="83" height="62.19999999999999"><rect x="262" y="308.6" width="83" height="62.19999999999999" fill="url(#mg12_2)"/></mask>
<g mask="url(#mk12_2)"><rect x="262" y="308.6" width="83" height="62.19999999999999" filter="url(#mf12_2)" clip-path="url(#tc12)" opacity="0.6"/></g>
<linearGradient id="mg12_3" gradientUnits="userSpaceOnUse" x1="0" y1="308.6" x2="0" y2="370.8"><stop offset="0.020" stop-color="#fff" stop-opacity="0"/><stop offset="0.180" stop-color="#fff" stop-opacity="1"/><stop offset="0.420" stop-color="#fff" stop-opacity="1"/><stop offset="0.580" stop-color="#fff" stop-opacity="0"/></linearGradient>
<mask id="mk12_3" maskUnits="userSpaceOnUse" x="262" y="308.6" width="83" height="62.19999999999999"><rect x="262" y="308.6" width="83" height="62.19999999999999" fill="url(#mg12_3)"/></mask>
<g mask="url(#mk12_3)"><rect x="262" y="308.6" width="83" height="62.19999999999999" filter="url(#mf12_3)" clip-path="url(#tc12)" opacity="0.7"/></g>
<circle cx="305.8" cy="363.2" r="0.50" fill="rgb(151,151,195)" opacity="0.6"/>
<circle cx="315.0" cy="339.3" r="0.70" fill="rgb(151,151,195)" opacity="0.6"/>
<circle cx="264.1" cy="359.6" r="0.71" fill="rgb(151,151,195)" opacity="0.6"/>
<circle cx="297.8" cy="334.2" r="0.51" fill="rgb(151,151,195)" opacity="0.6"/>
<circle cx="293.5" cy="343.8" r="0.61" fill="rgb(151,151,195)" opacity="0.6"/>
<circle cx="282.4" cy="347.3" r="0.59" fill="rgb(151,151,195)" opacity="0.6"/>
<circle cx="317.9" cy="344.0" r="0.46" fill="rgb(151,151,195)" opacity="0.6"/>
<circle cx="274.1" cy="327.6" r="0.63" fill="rgb(151,151,195)" opacity="0.6"/>
<circle cx="300.6" cy="340.5" r="0.70" fill="rgb(151,151,195)" opacity="0.6"/>
<circle cx="322.7" cy="347.4" r="0.71" fill="rgb(151,151,195)" opacity="0.6"/>
<circle cx="337.7" cy="327.4" r="0.57" fill="rgb(151,151,195)" opacity="0.6"/>
<circle cx="270.6" cy="351.4" r="0.82" fill="rgb(151,151,195)" opacity="0.6"/>
<circle cx="312.0" cy="360.7" r="0.63" fill="rgb(151,151,195)" opacity="0.6"/>
<circle cx="340.1" cy="357.1" r="0.83" fill="rgb(151,151,195)" opacity="0.6"/>
<circle cx="274.1" cy="336.5" r="0.77" fill="rgb(151,151,195)" opacity="0.6"/>
<circle cx="280.1" cy="358.5" r="0.70" fill="rgb(151,151,195)" opacity="0.6"/>
<circle cx="342.9" cy="347.8" r="0.69" fill="rgb(151,151,195)" opacity="0.6"/>
<circle cx="290.4" cy="365.9" r="0.54" fill="rgb(151,151,195)" opacity="0.6"/>
<circle cx="270.4" cy="368.6" r="0.88" fill="rgb(151,151,195)" opacity="0.6"/>
<circle cx="288.8" cy="334.4" r="0.63" fill="rgb(151,151,195)" opacity="0.6"/>
<circle cx="281.1" cy="347.2" r="0.74" fill="rgb(151,151,195)" opacity="0.6"/>
<circle cx="298.5" cy="351.8" r="0.62" fill="rgb(151,151,195)" opacity="0.6"/>
<circle cx="320.2" cy="344.9" r="0.58" fill="rgb(151,151,195)" opacity="0.6"/>
<circle cx="297.3" cy="349.4" r="0.75" fill="rgb(151,151,195)" opacity="0.6"/>
<circle cx="345.0" cy="342.9" r="0.70" fill="rgb(151,151,195)" opacity="0.6"/>
<circle cx="321.2" cy="365.8" r="0.63" fill="rgb(165,139,109)" opacity="0.86"/>
<circle cx="285.9" cy="352.9" r="0.40" fill="rgb(165,139,109)" opacity="0.69"/>
<circle cx="304.9" cy="352.7" r="0.41" fill="rgb(165,139,109)" opacity="0.67"/>
<circle cx="308.3" cy="339.1" r="0.58" fill="rgb(165,139,109)" opacity="0.61"/>
<circle cx="322.3" cy="336.0" r="0.39" fill="rgb(165,139,109)" opacity="0.61"/>
<circle cx="288.5" cy="341.0" r="0.36" fill="rgb(165,139,109)" opacity="0.89"/>
<circle cx="293.7" cy="341.7" r="0.39" fill="rgb(165,139,109)" opacity="0.69"/>
<circle cx="283.8" cy="348.4" r="0.40" fill="rgb(165,139,109)" opacity="0.75"/>
<circle cx="340.2" cy="347.1" r="0.43" fill="rgb(165,139,109)" opacity="0.99"/>
<circle cx="299.9" cy="347.7" r="0.49" fill="rgb(165,139,109)" opacity="0.81"/>
<circle cx="316.7" cy="347.0" r="0.37" fill="rgb(165,139,109)" opacity="0.66"/>
<circle cx="296.7" cy="365.5" r="0.48" fill="rgb(165,139,109)" opacity="0.71"/>
<circle cx="352.0" cy="343.7" r="0.44" fill="rgb(165,139,109)" opacity="0.58"/>
<circle cx="312.8" cy="357.0" r="0.41" fill="rgb(165,139,109)" opacity="0.61"/>
<circle cx="310.1" cy="332.1" r="0.45" fill="rgb(165,139,109)" opacity="0.78"/>
<circle cx="360.8" cy="338.2" r="0.43" fill="rgb(165,139,109)" opacity="0.67"/>
<circle cx="287.9" cy="349.8" r="0.38" fill="rgb(165,139,109)" opacity="0.80"/>
<circle cx="310.6" cy="360.5" r="0.55" fill="rgb(165,139,109)" opacity="0.64"/>
<circle cx="346.7" cy="334.6" r="0.34" fill="rgb(165,139,109)" opacity="0.84"/>
<circle cx="313.6" cy="348.0" r="0.54" fill="rgb(165,139,109)" opacity="0.98"/>
<circle cx="299.8" cy="333.9" r="0.41" fill="rgb(165,139,109)" opacity="0.65"/>
<circle cx="294.9" cy="335.3" r="0.58" fill="rgb(165,139,109)" opacity="0.78"/>
<circle cx="292.2" cy="334.4" r="0.36" fill="rgb(165,139,109)" opacity="0.90"/>
<circle cx="339.0" cy="353.3" r="0.39" fill="rgb(165,139,109)" opacity="0.94"/>
<circle cx="288.5" cy="350.0" r="0.52" fill="rgb(165,139,109)" opacity="0.58"/>
<circle cx="335.0" cy="362.9" r="0.58" fill="rgb(165,139,109)" opacity="0.90"/>
<circle cx="324.4" cy="362.8" r="0.43" fill="rgb(165,139,109)" opacity="0.94"/>
<circle cx="310.0" cy="370.7" r="0.59" fill="rgb(165,139,109)" opacity="0.96"/>
<circle cx="301.8" cy="355.0" r="0.48" fill="rgb(165,139,109)" opacity="0.68"/>
<circle cx="317.3" cy="361.1" r="0.58" fill="rgb(165,139,109)" opacity="0.83"/>
<circle cx="320.5" cy="335.9" r="0.61" fill="rgb(165,139,109)" opacity="0.85"/>
<circle cx="335.1" cy="361.0" r="0.55" fill="rgb(165,139,109)" opacity="0.51"/>
<circle cx="294.7" cy="347.2" r="0.52" fill="rgb(165,139,109)" opacity="0.95"/>
<circle cx="301.9" cy="353.4" r="0.54" fill="rgb(165,139,109)" opacity="0.86"/>
<circle cx="337.8" cy="346.9" r="0.43" fill="rgb(165,139,109)" opacity="0.83"/>
<circle cx="310.0" cy="344.6" r="0.51" fill="rgb(165,139,109)" opacity="0.99"/>
<circle cx="315.1" cy="349.1" r="0.36" fill="rgb(165,139,109)" opacity="0.89"/>
<circle cx="304.5" cy="344.6" r="0.37" fill="rgb(165,139,109)" opacity="0.84"/>
<circle cx="350.8" cy="348.2" r="0.57" fill="rgb(165,139,109)" opacity="1.00"/>
<circle cx="318.1" cy="368.5" r="0.38" fill="rgb(165,139,109)" opacity="0.79"/>
<path d="M289.4 336.6 L299.4 338.5 L305.2 342.8 L311.8 338.5 L321.8 336.0" fill="none" stroke="rgb(176,141,101)" stroke-width="1.4" stroke-linecap="round" stroke-linejoin="round" opacity="0.95" filter="url(#soft2)"/>
<path d="M305.2 342.8 L305.2 347.2" fill="none" stroke="rgb(176,141,101)" stroke-width="1.8" stroke-linecap="round" stroke-linejoin="round" opacity="0.95" filter="url(#soft2)"/>
<path d="M301.0 352.1 L305.2 355.2" fill="none" stroke="rgb(176,141,101)" stroke-width="1.4" stroke-linecap="round" stroke-linejoin="round" opacity="0.8" filter="url(#soft2)"/>
<path d="M321.8 336.0 L324.2 327.3" fill="none" stroke="rgb(186,151,107)" stroke-width="1.0" stroke-linecap="round" stroke-linejoin="round" opacity="0.6" filter="url(#soft2)"/>
<path d="M260 306.6 L347 306.6 L347 323.3 L345.0 323.3 L342.9 323.0 L340.7 322.7 L338.6 322.3 L336.5 321.7 L334.4 321.1 L332.2 320.3 L330.1 319.5 L328.0 318.8 L325.8 318.2 L323.7 317.8 L321.6 317.6 L319.5 317.6 L317.3 317.7 L315.2 317.9 L313.1 318.1 L310.9 318.4 L308.8 318.5 L306.7 318.6 L304.6 318.6 L302.4 318.4 L300.3 318.2 L298.2 318.0 L296.1 317.7 L293.9 317.3 L291.8 317.0 L289.7 316.7 L287.5 316.5 L285.4 316.3 L283.3 316.1 L281.2 316.1 L279.0 316.1 L276.9 316.1 L274.8 316.2 L272.6 316.3 L270.5 316.4 L268.4 316.5 L266.3 316.7 L264.1 316.9 L262.0 317.1 L260 317.1 Z" fill="rgb(214,212,210)"/>
</g>
<rect x="263.5" y="367.8" width="8.5" height="1.1" fill="rgb(120,160,230)"/>
</g>
<rect x="262.68" y="309.28000000000003" width="81.65" height="60.84999999999999" fill="none" stroke="#303030" stroke-width="1.35"/>
<text x="413.20" y="18.90" font-size="7.8" fill="#1a1a1a" text-anchor="middle" textLength="29.80" lengthAdjust="spacingAndGlyphs" >mSWAT</text>
<text x="487.90" y="18.70" font-size="7.8" fill="#1a1a1a" text-anchor="middle" textLength="16.20" lengthAdjust="spacingAndGlyphs" >VAS</text>
<text x="368.00" y="47.20" font-size="9.5" fill="#1a1a1a" text-anchor="middle" textLength="25.60" lengthAdjust="spacingAndGlyphs" transform="rotate(-90 368.00 47.20)" >Pt. 1 MF</text>
<line x1="390.70" y1="25.00" x2="390.70" y2="70.80" stroke="#111" stroke-width="1.2" />
<line x1="390.10" y1="70.20" x2="437.20" y2="70.20" stroke="#111" stroke-width="1.2" />
<line x1="387.30" y1="26.20" x2="390.70" y2="26.20" stroke="#333" stroke-width="1.1" />
<text x="383.90" y="28.70" font-size="7.0" fill="#1a1a1a" text-anchor="end" textLength="10.95" lengthAdjust="spacingAndGlyphs" >160</text>
<line x1="387.30" y1="34.50" x2="390.70" y2="34.50" stroke="#333" stroke-width="1.1" />
<text x="383.90" y="37.00" font-size="7.0" fill="#1a1a1a" text-anchor="end" textLength="10.95" lengthAdjust="spacingAndGlyphs" >155</text>
<line x1="387.30" y1="42.80" x2="390.70" y2="42.80" stroke="#333" stroke-width="1.1" />
<text x="383.90" y="45.30" font-size="7.0" fill="#1a1a1a" text-anchor="end" textLength="10.95" lengthAdjust="spacingAndGlyphs" >150</text>
<line x1="387.30" y1="51.10" x2="390.70" y2="51.10" stroke="#333" stroke-width="1.1" />
<text x="383.90" y="53.60" font-size="7.0" fill="#1a1a1a" text-anchor="end" textLength="10.95" lengthAdjust="spacingAndGlyphs" >145</text>
<line x1="387.30" y1="59.40" x2="390.70" y2="59.40" stroke="#333" stroke-width="1.1" />
<text x="383.90" y="61.90" font-size="7.0" fill="#1a1a1a" text-anchor="end" textLength="10.95" lengthAdjust="spacingAndGlyphs" >140</text>
<line x1="387.30" y1="67.70" x2="390.70" y2="67.70" stroke="#333" stroke-width="1.1" />
<text x="383.90" y="70.20" font-size="7.0" fill="#1a1a1a" text-anchor="end" textLength="10.95" lengthAdjust="spacingAndGlyphs" >135</text>
<path d="M392.60 26.50 C394.95 31.00 397.30 35.95 399.65 40.00 C404.35 48.10 409.05 56.69 413.75 61.20 C420.80 67.96 427.85 66.40 434.90 69.00" fill="none" stroke="#a80d35" stroke-width="1.5"/>
<circle cx="392.60" cy="26.50" r="1.7" fill="#a8062c"/>
<circle cx="399.65" cy="40.00" r="1.7" fill="#a8062c"/>
<circle cx="413.75" cy="61.20" r="1.7" fill="#a8062c"/>
<circle cx="434.90" cy="69.00" r="1.7" fill="#a8062c"/>
<line x1="465.20" y1="25.00" x2="465.20" y2="70.80" stroke="#111" stroke-width="1.2" />
<line x1="464.60" y1="70.20" x2="511.20" y2="70.20" stroke="#111" stroke-width="1.2" />
<line x1="461.80" y1="26.50" x2="465.20" y2="26.50" stroke="#333" stroke-width="1.1" />
<text x="458.40" y="29.00" font-size="7.0" fill="#1a1a1a" text-anchor="end" textLength="13.15" lengthAdjust="spacingAndGlyphs" >10.0</text>
<line x1="461.80" y1="35.83" x2="465.20" y2="35.83" stroke="#333" stroke-width="1.1" />
<text x="458.40" y="38.33" font-size="7.0" fill="#1a1a1a" text-anchor="end" textLength="9.50" lengthAdjust="spacingAndGlyphs" >7.5</text>
<line x1="461.80" y1="45.15" x2="465.20" y2="45.15" stroke="#333" stroke-width="1.1" />
<text x="458.40" y="47.65" font-size="7.0" fill="#1a1a1a" text-anchor="end" textLength="9.50" lengthAdjust="spacingAndGlyphs" >5.0</text>
<line x1="461.80" y1="54.48" x2="465.20" y2="54.48" stroke="#333" stroke-width="1.1" />
<text x="458.40" y="56.98" font-size="7.0" fill="#1a1a1a" text-anchor="end" textLength="9.50" lengthAdjust="spacingAndGlyphs" >2.5</text>
<line x1="461.80" y1="63.80" x2="465.20" y2="63.80" stroke="#333" stroke-width="1.1" />
<text x="458.40" y="66.30" font-size="7.0" fill="#1a1a1a" text-anchor="end" textLength="9.50" lengthAdjust="spacingAndGlyphs" >0.0</text>
<path d="M467.00 26.50 C469.35 38.93 471.70 57.60 474.05 63.80 C478.75 76.19 483.45 59.17 488.15 58.20 C495.20 56.75 502.25 58.20 509.30 58.20" fill="none" stroke="#a80d35" stroke-width="1.5"/>
<circle cx="467.00" cy="26.50" r="1.7" fill="#a8062c"/>
<circle cx="474.05" cy="63.80" r="1.7" fill="#a8062c"/>
<circle cx="488.15" cy="58.20" r="1.7" fill="#a8062c"/>
<circle cx="509.30" cy="58.20" r="1.7" fill="#a8062c"/>
<text x="368.00" y="96.99" font-size="9.5" fill="#1a1a1a" text-anchor="middle" textLength="24.20" lengthAdjust="spacingAndGlyphs" transform="rotate(-90 368.00 96.99)" >Pt. 2 SS</text>
<line x1="390.70" y1="74.79" x2="390.70" y2="120.59" stroke="#111" stroke-width="1.2" />
<line x1="390.10" y1="119.99" x2="437.20" y2="119.99" stroke="#111" stroke-width="1.2" />
<line x1="387.30" y1="82.60" x2="390.70" y2="82.60" stroke="#333" stroke-width="1.1" />
<text x="383.90" y="85.10" font-size="7.0" fill="#1a1a1a" text-anchor="end" textLength="10.95" lengthAdjust="spacingAndGlyphs" >110</text>
<line x1="387.30" y1="91.75" x2="390.70" y2="91.75" stroke="#333" stroke-width="1.1" />
<text x="383.90" y="94.25" font-size="7.0" fill="#1a1a1a" text-anchor="end" textLength="10.95" lengthAdjust="spacingAndGlyphs" >100</text>
<line x1="387.30" y1="100.90" x2="390.70" y2="100.90" stroke="#333" stroke-width="1.1" />
<text x="383.90" y="103.40" font-size="7.0" fill="#1a1a1a" text-anchor="end" textLength="7.30" lengthAdjust="spacingAndGlyphs" >90</text>
<line x1="387.30" y1="110.05" x2="390.70" y2="110.05" stroke="#333" stroke-width="1.1" />
<text x="383.90" y="112.55" font-size="7.0" fill="#1a1a1a" text-anchor="end" textLength="7.30" lengthAdjust="spacingAndGlyphs" >80</text>
<line x1="387.30" y1="119.20" x2="390.70" y2="119.20" stroke="#333" stroke-width="1.1" />
<text x="383.90" y="121.70" font-size="7.0" fill="#1a1a1a" text-anchor="end" textLength="7.30" lengthAdjust="spacingAndGlyphs" >70</text>
<path d="M392.60 76.50 C394.95 77.17 397.30 76.15 399.65 78.50 C404.35 83.21 409.05 98.21 413.75 104.20 C420.80 113.19 427.85 113.80 434.90 118.60" fill="none" stroke="#a80d35" stroke-width="1.5"/>
<circle cx="392.60" cy="76.50" r="1.7" fill="#a8062c"/>
<circle cx="399.65" cy="78.50" r="1.7" fill="#a8062c"/>
<circle cx="413.75" cy="104.20" r="1.7" fill="#a8062c"/>
<circle cx="434.90" cy="118.60" r="1.7" fill="#a8062c"/>
<line x1="465.20" y1="74.79" x2="465.20" y2="120.59" stroke="#111" stroke-width="1.2" />
<line x1="464.60" y1="119.99" x2="511.20" y2="119.99" stroke="#111" stroke-width="1.2" />
<line x1="461.80" y1="76.29" x2="465.20" y2="76.29" stroke="#333" stroke-width="1.1" />
<text x="458.40" y="78.79" font-size="7.0" fill="#1a1a1a" text-anchor="end" textLength="13.15" lengthAdjust="spacingAndGlyphs" >10.0</text>
<line x1="461.80" y1="85.61" x2="465.20" y2="85.61" stroke="#333" stroke-width="1.1" />
<text x="458.40" y="88.11" font-size="7.0" fill="#1a1a1a" text-anchor="end" textLength="9.50" lengthAdjust="spacingAndGlyphs" >7.5</text>
<line x1="461.80" y1="94.94" x2="465.20" y2="94.94" stroke="#333" stroke-width="1.1" />
<text x="458.40" y="97.44" font-size="7.0" fill="#1a1a1a" text-anchor="end" textLength="9.50" lengthAdjust="spacingAndGlyphs" >5.0</text>
<line x1="461.80" y1="104.26" x2="465.20" y2="104.26" stroke="#333" stroke-width="1.1" />
<text x="458.40" y="106.76" font-size="7.0" fill="#1a1a1a" text-anchor="end" textLength="9.50" lengthAdjust="spacingAndGlyphs" >2.5</text>
<line x1="461.80" y1="113.59" x2="465.20" y2="113.59" stroke="#333" stroke-width="1.1" />
<text x="458.40" y="116.09" font-size="7.0" fill="#1a1a1a" text-anchor="end" textLength="9.50" lengthAdjust="spacingAndGlyphs" >0.0</text>
<path d="M467.00 81.88 C469.35 87.48 471.70 96.56 474.05 98.67 C478.75 102.90 483.45 87.43 488.15 87.48 C495.20 87.55 502.25 99.91 509.30 106.13" fill="none" stroke="#a80d35" stroke-width="1.5"/>
<circle cx="467.00" cy="81.88" r="1.7" fill="#a8062c"/>
<circle cx="474.05" cy="98.67" r="1.7" fill="#a8062c"/>
<circle cx="488.15" cy="87.48" r="1.7" fill="#a8062c"/>
<circle cx="509.30" cy="106.13" r="1.7" fill="#a8062c"/>
<text x="368.00" y="146.78" font-size="9.5" fill="#1a1a1a" text-anchor="middle" textLength="25.60" lengthAdjust="spacingAndGlyphs" transform="rotate(-90 368.00 146.78)" >Pt. 3 MF</text>
<line x1="390.70" y1="124.58" x2="390.70" y2="170.38" stroke="#111" stroke-width="1.2" />
<line x1="390.10" y1="169.78" x2="437.20" y2="169.78" stroke="#111" stroke-width="1.2" />
<line x1="387.30" y1="129.20" x2="390.70" y2="129.20" stroke="#333" stroke-width="1.1" />
<text x="383.90" y="131.70" font-size="7.0" fill="#1a1a1a" text-anchor="end" textLength="10.95" lengthAdjust="spacingAndGlyphs" >110</text>
<line x1="387.30" y1="138.70" x2="390.70" y2="138.70" stroke="#333" stroke-width="1.1" />
<text x="383.90" y="141.20" font-size="7.0" fill="#1a1a1a" text-anchor="end" textLength="10.95" lengthAdjust="spacingAndGlyphs" >105</text>
<line x1="387.30" y1="148.20" x2="390.70" y2="148.20" stroke="#333" stroke-width="1.1" />
<text x="383.90" y="150.70" font-size="7.0" fill="#1a1a1a" text-anchor="end" textLength="10.95" lengthAdjust="spacingAndGlyphs" >100</text>
<line x1="387.30" y1="157.70" x2="390.70" y2="157.70" stroke="#333" stroke-width="1.1" />
<text x="383.90" y="160.20" font-size="7.0" fill="#1a1a1a" text-anchor="end" textLength="7.30" lengthAdjust="spacingAndGlyphs" >95</text>
<line x1="387.30" y1="167.20" x2="390.70" y2="167.20" stroke="#333" stroke-width="1.1" />
<text x="383.90" y="169.70" font-size="7.0" fill="#1a1a1a" text-anchor="end" textLength="7.30" lengthAdjust="spacingAndGlyphs" >90</text>
<path d="M392.60 126.20 C394.95 128.50 397.30 129.90 399.65 133.10 C404.35 139.50 409.05 153.03 413.75 158.50 C420.80 166.70 427.85 165.17 434.90 168.50" fill="none" stroke="#a80d35" stroke-width="1.5"/>
<circle cx="392.60" cy="126.20" r="1.7" fill="#a8062c"/>
<circle cx="399.65" cy="133.10" r="1.7" fill="#a8062c"/>
<circle cx="413.75" cy="158.50" r="1.7" fill="#a8062c"/>
<circle cx="434.90" cy="168.50" r="1.7" fill="#a8062c"/>
<line x1="465.20" y1="124.58" x2="465.20" y2="170.38" stroke="#111" stroke-width="1.2" />
<line x1="464.60" y1="169.78" x2="511.20" y2="169.78" stroke="#111" stroke-width="1.2" />
<line x1="461.80" y1="126.08" x2="465.20" y2="126.08" stroke="#333" stroke-width="1.1" />
<text x="458.40" y="128.58" font-size="7.0" fill="#1a1a1a" text-anchor="end" textLength="13.15" lengthAdjust="spacingAndGlyphs" >10.0</text>
<line x1="461.80" y1="135.41" x2="465.20" y2="135.41" stroke="#333" stroke-width="1.1" />
<text x="458.40" y="137.91" font-size="7.0" fill="#1a1a1a" text-anchor="end" textLength="9.50" lengthAdjust="spacingAndGlyphs" >7.5</text>
<line x1="461.80" y1="144.73" x2="465.20" y2="144.73" stroke="#333" stroke-width="1.1" />
<text x="458.40" y="147.23" font-size="7.0" fill="#1a1a1a" text-anchor="end" textLength="9.50" lengthAdjust="spacingAndGlyphs" >5.0</text>
<line x1="461.80" y1="154.06" x2="465.20" y2="154.06" stroke="#333" stroke-width="1.1" />
<text x="458.40" y="156.56" font-size="7.0" fill="#1a1a1a" text-anchor="end" textLength="9.50" lengthAdjust="spacingAndGlyphs" >2.5</text>
<line x1="461.80" y1="163.38" x2="465.20" y2="163.38" stroke="#333" stroke-width="1.1" />
<text x="458.40" y="165.88" font-size="7.0" fill="#1a1a1a" text-anchor="end" textLength="9.50" lengthAdjust="spacingAndGlyphs" >0.0</text>
<path d="M467.00 129.81 C469.35 140.38 471.70 155.73 474.05 161.51 C478.75 173.08 483.45 163.26 488.15 163.38 C495.20 163.57 502.25 162.14 509.30 161.51" fill="none" stroke="#a80d35" stroke-width="1.5"/>
<circle cx="467.00" cy="129.81" r="1.7" fill="#a8062c"/>
<circle cx="474.05" cy="161.51" r="1.7" fill="#a8062c"/>
<circle cx="488.15" cy="163.38" r="1.7" fill="#a8062c"/>
<circle cx="509.30" cy="161.51" r="1.7" fill="#a8062c"/>
<text x="368.00" y="196.57" font-size="9.5" fill="#1a1a1a" text-anchor="middle" textLength="25.60" lengthAdjust="spacingAndGlyphs" transform="rotate(-90 368.00 196.57)" >Pt. 4 MF</text>
<line x1="390.70" y1="174.37" x2="390.70" y2="220.17" stroke="#111" stroke-width="1.2" />
<line x1="390.10" y1="219.57" x2="437.20" y2="219.57" stroke="#111" stroke-width="1.2" />
<line x1="387.30" y1="184.20" x2="390.70" y2="184.20" stroke="#333" stroke-width="1.1" />
<text x="383.90" y="186.70" font-size="7.0" fill="#1a1a1a" text-anchor="end" textLength="10.95" lengthAdjust="spacingAndGlyphs" >100</text>
<line x1="387.30" y1="195.47" x2="390.70" y2="195.47" stroke="#333" stroke-width="1.1" />
<text x="383.90" y="197.97" font-size="7.0" fill="#1a1a1a" text-anchor="end" textLength="7.30" lengthAdjust="spacingAndGlyphs" >80</text>
<line x1="387.30" y1="206.73" x2="390.70" y2="206.73" stroke="#333" stroke-width="1.1" />
<text x="383.90" y="209.23" font-size="7.0" fill="#1a1a1a" text-anchor="end" textLength="7.30" lengthAdjust="spacingAndGlyphs" >60</text>
<line x1="387.30" y1="218.00" x2="390.70" y2="218.00" stroke="#333" stroke-width="1.1" />
<text x="383.90" y="220.50" font-size="7.0" fill="#1a1a1a" text-anchor="end" textLength="7.30" lengthAdjust="spacingAndGlyphs" >40</text>
<path d="M392.60 176.20 C394.95 183.73 397.30 194.21 399.65 198.80 C404.35 207.99 409.05 203.61 413.75 206.20 C420.80 210.09 427.85 214.40 434.90 218.50" fill="none" stroke="#a80d35" stroke-width="1.5"/>
<circle cx="392.60" cy="176.20" r="1.7" fill="#a8062c"/>
<circle cx="399.65" cy="198.80" r="1.7" fill="#a8062c"/>
<circle cx="413.75" cy="206.20" r="1.7" fill="#a8062c"/>
<circle cx="434.90" cy="218.50" r="1.7" fill="#a8062c"/>
<line x1="465.20" y1="174.37" x2="465.20" y2="220.17" stroke="#111" stroke-width="1.2" />
<line x1="464.60" y1="219.57" x2="511.20" y2="219.57" stroke="#111" stroke-width="1.2" />
<line x1="461.80" y1="175.87" x2="465.20" y2="175.87" stroke="#333" stroke-width="1.1" />
<text x="458.40" y="178.37" font-size="7.0" fill="#1a1a1a" text-anchor="end" textLength="13.15" lengthAdjust="spacingAndGlyphs" >10.0</text>
<line x1="461.80" y1="185.19" x2="465.20" y2="185.19" stroke="#333" stroke-width="1.1" />
<text x="458.40" y="187.69" font-size="7.0" fill="#1a1a1a" text-anchor="end" textLength="9.50" lengthAdjust="spacingAndGlyphs" >7.5</text>
<line x1="461.80" y1="194.52" x2="465.20" y2="194.52" stroke="#333" stroke-width="1.1" />
<text x="458.40" y="197.02" font-size="7.0" fill="#1a1a1a" text-anchor="end" textLength="9.50" lengthAdjust="spacingAndGlyphs" >5.0</text>
<line x1="461.80" y1="203.84" x2="465.20" y2="203.84" stroke="#333" stroke-width="1.1" />
<text x="458.40" y="206.34" font-size="7.0" fill="#1a1a1a" text-anchor="end" textLength="9.50" lengthAdjust="spacingAndGlyphs" >2.5</text>
<line x1="461.80" y1="213.17" x2="465.20" y2="213.17" stroke="#333" stroke-width="1.1" />
<text x="458.40" y="215.67" font-size="7.0" fill="#1a1a1a" text-anchor="end" textLength="9.50" lengthAdjust="spacingAndGlyphs" >0.0</text>
<path d="M467.00 190.79 C469.35 194.52 471.70 199.56 474.05 201.98 C478.75 206.83 483.45 206.21 488.15 207.57 C495.20 209.63 502.25 210.06 509.30 211.31" fill="none" stroke="#a80d35" stroke-width="1.5"/>
<circle cx="467.00" cy="190.79" r="1.7" fill="#a8062c"/>
<circle cx="474.05" cy="201.98" r="1.7" fill="#a8062c"/>
<circle cx="488.15" cy="207.57" r="1.7" fill="#a8062c"/>
<circle cx="509.30" cy="211.31" r="1.7" fill="#a8062c"/>
<text x="371.60" y="246.36" font-size="9.5" fill="#1a1a1a" text-anchor="middle" textLength="25.60" lengthAdjust="spacingAndGlyphs" transform="rotate(-90 371.60 246.36)" >Pt. 5 MF</text>
<line x1="390.70" y1="224.16" x2="390.70" y2="269.96" stroke="#111" stroke-width="1.2" />
<line x1="390.10" y1="269.36" x2="437.20" y2="269.36" stroke="#111" stroke-width="1.2" />
<line x1="387.30" y1="224.30" x2="390.70" y2="224.30" stroke="#333" stroke-width="1.1" />
<text x="383.90" y="226.80" font-size="7.0" fill="#1a1a1a" text-anchor="end" textLength="7.30" lengthAdjust="spacingAndGlyphs" >25</text>
<line x1="387.30" y1="239.60" x2="390.70" y2="239.60" stroke="#333" stroke-width="1.1" />
<text x="383.90" y="242.10" font-size="7.0" fill="#1a1a1a" text-anchor="end" textLength="7.30" lengthAdjust="spacingAndGlyphs" >20</text>
<line x1="387.30" y1="254.90" x2="390.70" y2="254.90" stroke="#333" stroke-width="1.1" />
<text x="383.90" y="257.40" font-size="7.0" fill="#1a1a1a" text-anchor="end" textLength="7.30" lengthAdjust="spacingAndGlyphs" >15</text>
<path d="M392.60 226.20 C394.95 230.30 397.30 234.37 399.65 238.50 C404.35 246.76 409.05 258.72 413.75 263.50 C420.80 270.67 427.85 266.30 434.90 267.70" fill="none" stroke="#a80d35" stroke-width="1.5"/>
<circle cx="392.60" cy="226.20" r="1.7" fill="#a8062c"/>
<circle cx="399.65" cy="238.50" r="1.7" fill="#a8062c"/>
<circle cx="413.75" cy="263.50" r="1.7" fill="#a8062c"/>
<circle cx="434.90" cy="267.70" r="1.7" fill="#a8062c"/>
<line x1="465.20" y1="224.16" x2="465.20" y2="269.96" stroke="#111" stroke-width="1.2" />
<line x1="464.60" y1="269.36" x2="511.20" y2="269.36" stroke="#111" stroke-width="1.2" />
<line x1="461.80" y1="225.66" x2="465.20" y2="225.66" stroke="#333" stroke-width="1.1" />
<text x="458.40" y="228.16" font-size="7.0" fill="#1a1a1a" text-anchor="end" textLength="13.15" lengthAdjust="spacingAndGlyphs" >10.0</text>
<line x1="461.80" y1="234.98" x2="465.20" y2="234.98" stroke="#333" stroke-width="1.1" />
<text x="458.40" y="237.48" font-size="7.0" fill="#1a1a1a" text-anchor="end" textLength="9.50" lengthAdjust="spacingAndGlyphs" >7.5</text>
<line x1="461.80" y1="244.31" x2="465.20" y2="244.31" stroke="#333" stroke-width="1.1" />
<text x="458.40" y="246.81" font-size="7.0" fill="#1a1a1a" text-anchor="end" textLength="9.50" lengthAdjust="spacingAndGlyphs" >5.0</text>
<line x1="461.80" y1="253.63" x2="465.20" y2="253.63" stroke="#333" stroke-width="1.1" />
<text x="458.40" y="256.13" font-size="7.0" fill="#1a1a1a" text-anchor="end" textLength="9.50" lengthAdjust="spacingAndGlyphs" >2.5</text>
<line x1="461.80" y1="262.96" x2="465.20" y2="262.96" stroke="#333" stroke-width="1.1" />
<text x="458.40" y="265.46" font-size="7.0" fill="#1a1a1a" text-anchor="end" textLength="9.50" lengthAdjust="spacingAndGlyphs" >0.0</text>
<path d="M467.00 259.23 C469.35 260.47 471.70 262.44 474.05 262.96 C478.75 264.00 483.45 261.42 488.15 261.10 C495.20 260.61 502.25 261.10 509.30 261.10" fill="none" stroke="#a80d35" stroke-width="1.5"/>
<circle cx="467.00" cy="259.23" r="1.7" fill="#a8062c"/>
<circle cx="474.05" cy="262.96" r="1.7" fill="#a8062c"/>
<circle cx="488.15" cy="261.10" r="1.7" fill="#a8062c"/>
<circle cx="509.30" cy="261.10" r="1.7" fill="#a8062c"/>
<text x="368.00" y="296.15" font-size="9.5" fill="#1a1a1a" text-anchor="middle" textLength="25.60" lengthAdjust="spacingAndGlyphs" transform="rotate(-90 368.00 296.15)" >Pt. 6 MF</text>
<line x1="390.70" y1="273.95" x2="390.70" y2="319.75" stroke="#111" stroke-width="1.2" />
<line x1="390.10" y1="319.15" x2="437.20" y2="319.15" stroke="#111" stroke-width="1.2" />
<line x1="387.30" y1="273.40" x2="390.70" y2="273.40" stroke="#333" stroke-width="1.1" />
<text x="383.90" y="275.90" font-size="7.0" fill="#1a1a1a" text-anchor="end" textLength="10.95" lengthAdjust="spacingAndGlyphs" >110</text>
<line x1="387.30" y1="281.18" x2="390.70" y2="281.18" stroke="#333" stroke-width="1.1" />
<text x="383.90" y="283.68" font-size="7.0" fill="#1a1a1a" text-anchor="end" textLength="10.95" lengthAdjust="spacingAndGlyphs" >100</text>
<line x1="387.30" y1="288.96" x2="390.70" y2="288.96" stroke="#333" stroke-width="1.1" />
<text x="383.90" y="291.46" font-size="7.0" fill="#1a1a1a" text-anchor="end" textLength="7.30" lengthAdjust="spacingAndGlyphs" >90</text>
<line x1="387.30" y1="296.74" x2="390.70" y2="296.74" stroke="#333" stroke-width="1.1" />
<text x="383.90" y="299.24" font-size="7.0" fill="#1a1a1a" text-anchor="end" textLength="7.30" lengthAdjust="spacingAndGlyphs" >80</text>
<line x1="387.30" y1="304.52" x2="390.70" y2="304.52" stroke="#333" stroke-width="1.1" />
<text x="383.90" y="307.02" font-size="7.0" fill="#1a1a1a" text-anchor="end" textLength="7.30" lengthAdjust="spacingAndGlyphs" >70</text>
<line x1="387.30" y1="312.30" x2="390.70" y2="312.30" stroke="#333" stroke-width="1.1" />
<text x="383.90" y="314.80" font-size="7.0" fill="#1a1a1a" text-anchor="end" textLength="7.30" lengthAdjust="spacingAndGlyphs" >60</text>
<path d="M392.60 275.70 C394.95 280.73 397.30 286.29 399.65 290.80 C404.35 299.82 409.05 309.98 413.75 314.30 C420.80 320.78 427.85 315.83 434.90 316.60" fill="none" stroke="#a80d35" stroke-width="1.5"/>
<circle cx="392.60" cy="275.70" r="1.7" fill="#a8062c"/>
<circle cx="399.65" cy="290.80" r="1.7" fill="#a8062c"/>
<circle cx="413.75" cy="314.30" r="1.7" fill="#a8062c"/>
<circle cx="434.90" cy="316.60" r="1.7" fill="#a8062c"/>
<line x1="465.20" y1="273.95" x2="465.20" y2="319.75" stroke="#111" stroke-width="1.2" />
<line x1="464.60" y1="319.15" x2="511.20" y2="319.15" stroke="#111" stroke-width="1.2" />
<line x1="461.80" y1="275.45" x2="465.20" y2="275.45" stroke="#333" stroke-width="1.1" />
<text x="458.40" y="277.95" font-size="7.0" fill="#1a1a1a" text-anchor="end" textLength="13.15" lengthAdjust="spacingAndGlyphs" >10.0</text>
<line x1="461.80" y1="284.77" x2="465.20" y2="284.77" stroke="#333" stroke-width="1.1" />
<text x="458.40" y="287.27" font-size="7.0" fill="#1a1a1a" text-anchor="end" textLength="9.50" lengthAdjust="spacingAndGlyphs" >7.5</text>
<line x1="461.80" y1="294.10" x2="465.20" y2="294.10" stroke="#333" stroke-width="1.1" />
<text x="458.40" y="296.60" font-size="7.0" fill="#1a1a1a" text-anchor="end" textLength="9.50" lengthAdjust="spacingAndGlyphs" >5.0</text>
<line x1="461.80" y1="303.43" x2="465.20" y2="303.43" stroke="#333" stroke-width="1.1" />
<text x="458.40" y="305.93" font-size="7.0" fill="#1a1a1a" text-anchor="end" textLength="9.50" lengthAdjust="spacingAndGlyphs" >2.5</text>
<line x1="461.80" y1="312.75" x2="465.20" y2="312.75" stroke="#333" stroke-width="1.1" />
<text x="458.40" y="315.25" font-size="7.0" fill="#1a1a1a" text-anchor="end" textLength="9.50" lengthAdjust="spacingAndGlyphs" >0.0</text>
<path d="M467.00 305.29 C469.35 306.53 471.70 308.36 474.05 309.02 C478.75 310.35 483.45 309.02 488.15 309.02 C495.20 309.02 502.25 309.02 509.30 309.02" fill="none" stroke="#a80d35" stroke-width="1.5"/>
<circle cx="467.00" cy="305.29" r="1.7" fill="#a8062c"/>
<circle cx="474.05" cy="309.02" r="1.7" fill="#a8062c"/>
<circle cx="488.15" cy="309.02" r="1.7" fill="#a8062c"/>
<circle cx="509.30" cy="309.02" r="1.7" fill="#a8062c"/>
<text x="371.60" y="345.94" font-size="9.5" fill="#1a1a1a" text-anchor="middle" textLength="25.60" lengthAdjust="spacingAndGlyphs" transform="rotate(-90 371.60 345.94)" >Pt. 7 MF</text>
<line x1="390.70" y1="323.74" x2="390.70" y2="369.54" stroke="#111" stroke-width="1.2" />
<line x1="390.10" y1="368.94" x2="437.20" y2="368.94" stroke="#111" stroke-width="1.2" />
<line x1="387.30" y1="324.60" x2="390.70" y2="324.60" stroke="#333" stroke-width="1.1" />
<text x="383.90" y="327.10" font-size="7.0" fill="#1a1a1a" text-anchor="end" textLength="7.30" lengthAdjust="spacingAndGlyphs" >50</text>
<line x1="387.30" y1="339.23" x2="390.70" y2="339.23" stroke="#333" stroke-width="1.1" />
<text x="383.90" y="341.73" font-size="7.0" fill="#1a1a1a" text-anchor="end" textLength="7.30" lengthAdjust="spacingAndGlyphs" >40</text>
<line x1="387.30" y1="353.87" x2="390.70" y2="353.87" stroke="#333" stroke-width="1.1" />
<text x="383.90" y="356.37" font-size="7.0" fill="#1a1a1a" text-anchor="end" textLength="7.30" lengthAdjust="spacingAndGlyphs" >30</text>
<line x1="387.30" y1="368.50" x2="390.70" y2="368.50" stroke="#333" stroke-width="1.1" />
<text x="383.90" y="371.00" font-size="7.0" fill="#1a1a1a" text-anchor="end" textLength="7.30" lengthAdjust="spacingAndGlyphs" >20</text>
<path d="M392.60 325.40 C394.95 332.57 397.30 341.67 399.65 346.90 C404.35 357.36 409.05 361.73 413.75 365.00 C420.80 369.90 427.85 365.80 434.90 366.20" fill="none" stroke="#a80d35" stroke-width="1.5"/>
<circle cx="392.60" cy="325.40" r="1.7" fill="#a8062c"/>
<circle cx="399.65" cy="346.90" r="1.7" fill="#a8062c"/>
<circle cx="413.75" cy="365.00" r="1.7" fill="#a8062c"/>
<circle cx="434.90" cy="366.20" r="1.7" fill="#a8062c"/>
<line x1="465.20" y1="323.74" x2="465.20" y2="369.54" stroke="#111" stroke-width="1.2" />
<line x1="464.60" y1="368.94" x2="511.20" y2="368.94" stroke="#111" stroke-width="1.2" />
<line x1="461.80" y1="325.24" x2="465.20" y2="325.24" stroke="#333" stroke-width="1.1" />
<text x="458.40" y="327.74" font-size="7.0" fill="#1a1a1a" text-anchor="end" textLength="13.15" lengthAdjust="spacingAndGlyphs" >10.0</text>
<line x1="461.80" y1="334.56" x2="465.20" y2="334.56" stroke="#333" stroke-width="1.1" />
<text x="458.40" y="337.06" font-size="7.0" fill="#1a1a1a" text-anchor="end" textLength="9.50" lengthAdjust="spacingAndGlyphs" >7.5</text>
<line x1="461.80" y1="343.89" x2="465.20" y2="343.89" stroke="#333" stroke-width="1.1" />
<text x="458.40" y="346.39" font-size="7.0" fill="#1a1a1a" text-anchor="end" textLength="9.50" lengthAdjust="spacingAndGlyphs" >5.0</text>
<line x1="461.80" y1="353.22" x2="465.20" y2="353.22" stroke="#333" stroke-width="1.1" />
<text x="458.40" y="355.72" font-size="7.0" fill="#1a1a1a" text-anchor="end" textLength="9.50" lengthAdjust="spacingAndGlyphs" >2.5</text>
<line x1="461.80" y1="362.54" x2="465.20" y2="362.54" stroke="#333" stroke-width="1.1" />
<text x="458.40" y="365.04" font-size="7.0" fill="#1a1a1a" text-anchor="end" textLength="9.50" lengthAdjust="spacingAndGlyphs" >0.0</text>
<path d="M467.00 334.56 C469.35 335.93 471.70 338.40 474.05 338.67 C478.75 339.20 483.45 333.34 488.15 332.70 C495.20 331.75 502.25 335.19 509.30 336.43" fill="none" stroke="#a80d35" stroke-width="1.5"/>
<circle cx="467.00" cy="334.56" r="1.7" fill="#a8062c"/>
<circle cx="474.05" cy="338.67" r="1.7" fill="#a8062c"/>
<circle cx="488.15" cy="332.70" r="1.7" fill="#a8062c"/>
<circle cx="509.30" cy="336.43" r="1.7" fill="#a8062c"/>
<text x="371.60" y="395.73" font-size="9.5" fill="#1a1a1a" text-anchor="middle" textLength="24.20" lengthAdjust="spacingAndGlyphs" transform="rotate(-90 371.60 395.73)" >Pt. 8 SS</text>
<line x1="390.70" y1="373.53" x2="390.70" y2="419.33" stroke="#111" stroke-width="1.2" />
<line x1="390.10" y1="418.73" x2="437.20" y2="418.73" stroke="#111" stroke-width="1.2" />
<line x1="387.30" y1="381.90" x2="390.70" y2="381.90" stroke="#333" stroke-width="1.1" />
<text x="383.90" y="384.40" font-size="7.0" fill="#1a1a1a" text-anchor="end" textLength="7.30" lengthAdjust="spacingAndGlyphs" >80</text>
<line x1="387.30" y1="393.53" x2="390.70" y2="393.53" stroke="#333" stroke-width="1.1" />
<text x="383.90" y="396.03" font-size="7.0" fill="#1a1a1a" text-anchor="end" textLength="7.30" lengthAdjust="spacingAndGlyphs" >75</text>
<line x1="387.30" y1="405.17" x2="390.70" y2="405.17" stroke="#333" stroke-width="1.1" />
<text x="383.90" y="407.67" font-size="7.0" fill="#1a1a1a" text-anchor="end" textLength="7.30" lengthAdjust="spacingAndGlyphs" >70</text>
<line x1="387.30" y1="416.80" x2="390.70" y2="416.80" stroke="#333" stroke-width="1.1" />
<text x="383.90" y="419.30" font-size="7.0" fill="#1a1a1a" text-anchor="end" textLength="7.30" lengthAdjust="spacingAndGlyphs" >65</text>
<line x1="392.60" y1="418.73" x2="392.60" y2="421.33" stroke="#333" stroke-width="1.0" />
<text x="392.60" y="431.63" font-size="7.0" fill="#1a1a1a" text-anchor="middle" textLength="3.65" lengthAdjust="spacingAndGlyphs" >0</text>
<line x1="406.70" y1="418.73" x2="406.70" y2="421.33" stroke="#333" stroke-width="1.0" />
<text x="406.70" y="431.63" font-size="7.0" fill="#1a1a1a" text-anchor="middle" textLength="7.30" lengthAdjust="spacingAndGlyphs" >20</text>
<line x1="420.80" y1="418.73" x2="420.80" y2="421.33" stroke="#333" stroke-width="1.0" />
<text x="420.80" y="431.63" font-size="7.0" fill="#1a1a1a" text-anchor="middle" textLength="7.30" lengthAdjust="spacingAndGlyphs" >40</text>
<line x1="434.90" y1="418.73" x2="434.90" y2="421.33" stroke="#333" stroke-width="1.0" />
<text x="434.90" y="431.63" font-size="7.0" fill="#1a1a1a" text-anchor="middle" textLength="7.30" lengthAdjust="spacingAndGlyphs" >60</text>
<path d="M392.60 375.30 C394.95 380.70 397.30 386.73 399.65 391.50 C404.35 401.04 409.05 412.71 413.75 415.80 C420.80 420.44 427.85 408.80 434.90 405.30" fill="none" stroke="#a80d35" stroke-width="1.5"/>
<circle cx="392.60" cy="375.30" r="1.7" fill="#a8062c"/>
<circle cx="399.65" cy="391.50" r="1.7" fill="#a8062c"/>
<circle cx="413.75" cy="415.80" r="1.7" fill="#a8062c"/>
<circle cx="434.90" cy="405.30" r="1.7" fill="#a8062c"/>
<line x1="465.20" y1="373.53" x2="465.20" y2="419.33" stroke="#111" stroke-width="1.2" />
<line x1="464.60" y1="418.73" x2="511.20" y2="418.73" stroke="#111" stroke-width="1.2" />
<line x1="461.80" y1="375.03" x2="465.20" y2="375.03" stroke="#333" stroke-width="1.1" />
<text x="458.40" y="377.53" font-size="7.0" fill="#1a1a1a" text-anchor="end" textLength="13.15" lengthAdjust="spacingAndGlyphs" >10.0</text>
<line x1="461.80" y1="384.35" x2="465.20" y2="384.35" stroke="#333" stroke-width="1.1" />
<text x="458.40" y="386.85" font-size="7.0" fill="#1a1a1a" text-anchor="end" textLength="9.50" lengthAdjust="spacingAndGlyphs" >7.5</text>
<line x1="461.80" y1="393.68" x2="465.20" y2="393.68" stroke="#333" stroke-width="1.1" />
<text x="458.40" y="396.18" font-size="7.0" fill="#1a1a1a" text-anchor="end" textLength="9.50" lengthAdjust="spacingAndGlyphs" >5.0</text>
<line x1="461.80" y1="403.00" x2="465.20" y2="403.00" stroke="#333" stroke-width="1.1" />
<text x="458.40" y="405.50" font-size="7.0" fill="#1a1a1a" text-anchor="end" textLength="9.50" lengthAdjust="spacingAndGlyphs" >2.5</text>
<line x1="461.80" y1="412.33" x2="465.20" y2="412.33" stroke="#333" stroke-width="1.1" />
<text x="458.40" y="414.83" font-size="7.0" fill="#1a1a1a" text-anchor="end" textLength="9.50" lengthAdjust="spacingAndGlyphs" >0.0</text>
<line x1="467.00" y1="418.73" x2="467.00" y2="421.33" stroke="#333" stroke-width="1.0" />
<text x="467.00" y="431.63" font-size="7.0" fill="#1a1a1a" text-anchor="middle" textLength="3.65" lengthAdjust="spacingAndGlyphs" >0</text>
<line x1="481.10" y1="418.73" x2="481.10" y2="421.33" stroke="#333" stroke-width="1.0" />
<text x="481.10" y="431.63" font-size="7.0" fill="#1a1a1a" text-anchor="middle" textLength="7.30" lengthAdjust="spacingAndGlyphs" >20</text>
<line x1="495.20" y1="418.73" x2="495.20" y2="421.33" stroke="#333" stroke-width="1.0" />
<text x="495.20" y="431.63" font-size="7.0" fill="#1a1a1a" text-anchor="middle" textLength="7.30" lengthAdjust="spacingAndGlyphs" >40</text>
<line x1="509.30" y1="418.73" x2="509.30" y2="421.33" stroke="#333" stroke-width="1.0" />
<text x="509.30" y="431.63" font-size="7.0" fill="#1a1a1a" text-anchor="middle" textLength="7.30" lengthAdjust="spacingAndGlyphs" >60</text>
<path d="M467.00 378.76 C469.35 378.76 471.70 378.76 474.05 378.76 C478.75 378.76 483.45 378.36 488.15 378.76 C495.20 379.36 502.25 381.25 509.30 382.49" fill="none" stroke="#a80d35" stroke-width="1.5"/>
<circle cx="467.00" cy="378.76" r="1.7" fill="#a8062c"/>
<circle cx="474.05" cy="378.76" r="1.7" fill="#a8062c"/>
<circle cx="488.15" cy="378.76" r="1.7" fill="#a8062c"/>
<circle cx="509.30" cy="382.49" r="1.7" fill="#a8062c"/>
<text x="454.00" y="441.80" font-size="7.6" fill="#1a1a1a" text-anchor="middle" textLength="14.80" lengthAdjust="spacingAndGlyphs" >Days</text>
<line x1="138.50" y1="400.90" x2="138.50" y2="484.40" stroke="#111" stroke-width="1.2" />
<line x1="137.90" y1="483.80" x2="236.70" y2="483.80" stroke="#111" stroke-width="1.2" />
<line x1="135.30" y1="403.60" x2="138.50" y2="403.60" stroke="#444" stroke-width="1.0" />
<text x="132.00" y="406.00" font-size="6.8" fill="#2a2a2a" text-anchor="end" textLength="10.80" lengthAdjust="spacingAndGlyphs" >100</text>
<line x1="135.30" y1="419.64" x2="138.50" y2="419.64" stroke="#444" stroke-width="1.0" />
<text x="132.00" y="422.04" font-size="6.8" fill="#2a2a2a" text-anchor="end" textLength="7.20" lengthAdjust="spacingAndGlyphs" >80</text>
<line x1="135.30" y1="435.68" x2="138.50" y2="435.68" stroke="#444" stroke-width="1.0" />
<text x="132.00" y="438.08" font-size="6.8" fill="#2a2a2a" text-anchor="end" textLength="7.20" lengthAdjust="spacingAndGlyphs" >60</text>
<line x1="135.30" y1="451.72" x2="138.50" y2="451.72" stroke="#444" stroke-width="1.0" />
<text x="132.00" y="454.12" font-size="6.8" fill="#2a2a2a" text-anchor="end" textLength="7.20" lengthAdjust="spacingAndGlyphs" >40</text>
<line x1="135.30" y1="467.76" x2="138.50" y2="467.76" stroke="#444" stroke-width="1.0" />
<text x="132.00" y="470.16" font-size="6.8" fill="#2a2a2a" text-anchor="end" textLength="7.20" lengthAdjust="spacingAndGlyphs" >20</text>
<line x1="135.30" y1="483.80" x2="138.50" y2="483.80" stroke="#444" stroke-width="1.0" />
<text x="132.00" y="486.20" font-size="6.8" fill="#2a2a2a" text-anchor="end" textLength="3.60" lengthAdjust="spacingAndGlyphs" >0</text>
<line x1="172.80" y1="483.80" x2="172.80" y2="486.40" stroke="#444" stroke-width="1.0" />
<line x1="224.50" y1="483.80" x2="224.50" y2="486.40" stroke="#444" stroke-width="1.0" />
<text x="172.80" y="496.30" font-size="7.3" fill="#1a1a1a" text-anchor="middle" textLength="18.60" lengthAdjust="spacingAndGlyphs" >Day 0</text>
<text x="224.80" y="496.30" font-size="7.3" fill="#1a1a1a" text-anchor="middle" textLength="22.20" lengthAdjust="spacingAndGlyphs" >Day 60</text>
<text x="104.40" y="442.50" font-size="7.8" fill="#1a1a1a" text-anchor="middle" textLength="74.30" lengthAdjust="spacingAndGlyphs" transform="rotate(-90 104.40 442.50)" >Frequency of dominant</text>
<text x="114.10" y="443.40" font-size="7.8" fill="#1a1a1a" text-anchor="middle" textLength="51.80" lengthAdjust="spacingAndGlyphs" transform="rotate(-90 114.10 443.40)" >TCRβ clone (%)</text>
<line x1="172.70" y1="405.00" x2="223.80" y2="405.00" stroke="#555" stroke-width="1.8" />
<text x="197.40" y="403.40" font-size="8.5" fill="#111" text-anchor="middle" >*</text>
<line x1="172.80" y1="410.02" x2="224.50" y2="443.14" stroke="#666" stroke-width="0.8" stroke-dasharray="2 1.2"/>
<line x1="172.80" y1="435.04" x2="224.50" y2="467.76" stroke="#666" stroke-width="0.8" stroke-dasharray="2 1.2"/>
<line x1="172.80" y1="440.17" x2="224.50" y2="478.99" stroke="#666" stroke-width="0.8" stroke-dasharray="2 1.2"/>
<line x1="172.80" y1="444.02" x2="224.50" y2="446.51" stroke="#666" stroke-width="0.8" stroke-dasharray="2 1.2"/>
<line x1="172.80" y1="462.31" x2="224.50" y2="462.31" stroke="#666" stroke-width="0.8" stroke-dasharray="2 1.2"/>
<line x1="172.80" y1="474.42" x2="224.50" y2="483.00" stroke="#666" stroke-width="0.8" stroke-dasharray="2 1.2"/>
<circle cx="172.8" cy="410.02" r="1.5" fill="#284b8c"/>
<circle cx="224.5" cy="443.14" r="1.5" fill="#b3103a"/>
<circle cx="172.8" cy="435.04" r="1.5" fill="#284b8c"/>
<circle cx="224.5" cy="467.76" r="1.5" fill="#b3103a"/>
<circle cx="172.8" cy="440.17" r="1.5" fill="#284b8c"/>
<circle cx="224.5" cy="478.99" r="1.5" fill="#b3103a"/>
<circle cx="172.8" cy="444.02" r="1.5" fill="#284b8c"/>
<circle cx="224.5" cy="446.51" r="1.5" fill="#b3103a"/>
<circle cx="172.8" cy="462.31" r="1.5" fill="#284b8c"/>
<circle cx="224.5" cy="462.31" r="1.5" fill="#b3103a"/>
<circle cx="172.8" cy="474.42" r="1.5" fill="#284b8c"/>
<circle cx="224.5" cy="483.00" r="1.5" fill="#b3103a"/>
<text x="149.40" y="412.40" font-size="7.4" fill="#111" font-weight="bold" textLength="14.20" lengthAdjust="spacingAndGlyphs" >Pt. 1</text>
<text x="149.40" y="433.70" font-size="7.4" fill="#111" font-weight="bold" textLength="14.20" lengthAdjust="spacingAndGlyphs" >Pt. 4</text>
<text x="149.40" y="442.60" font-size="7.4" fill="#111" font-weight="bold" textLength="14.20" lengthAdjust="spacingAndGlyphs" >Pt. 6</text>
<text x="149.40" y="452.00" font-size="7.4" fill="#111" font-weight="bold" textLength="14.20" lengthAdjust="spacingAndGlyphs" >Pt. 2</text>
<text x="149.40" y="465.80" font-size="7.4" fill="#111" font-weight="bold" textLength="14.20" lengthAdjust="spacingAndGlyphs" >Pt. 8</text>
<text x="149.40" y="476.80" font-size="7.4" fill="#111" font-weight="bold" textLength="14.20" lengthAdjust="spacingAndGlyphs" >Pt. 5</text>
</svg>
</body></html>
